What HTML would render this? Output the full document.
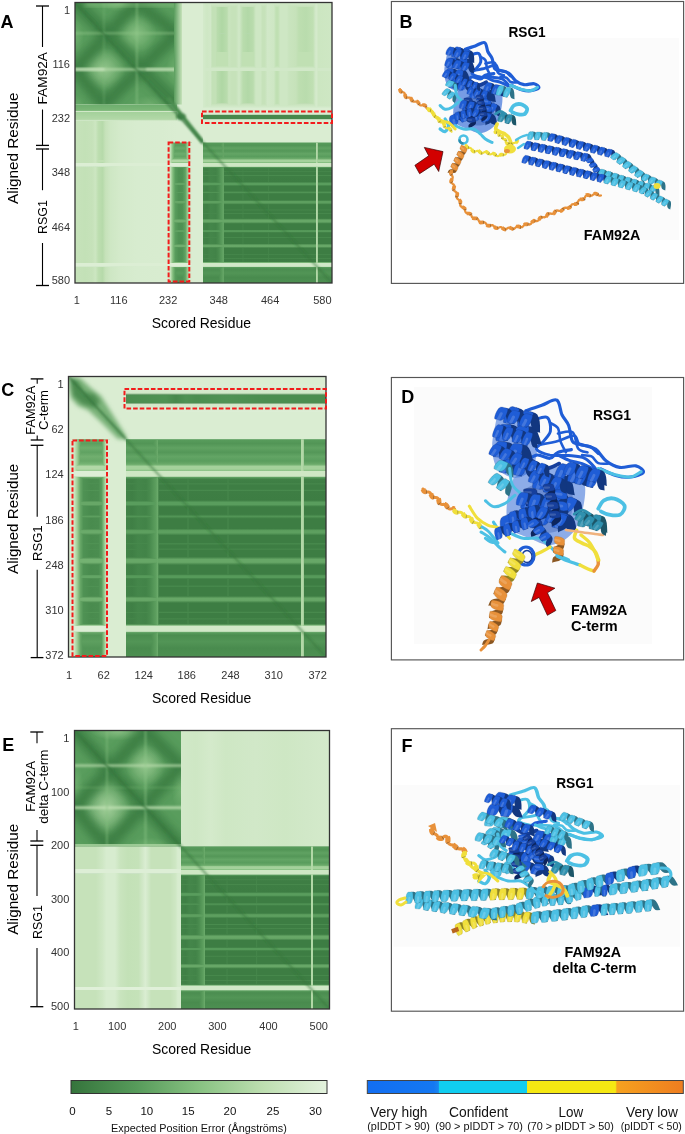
<!DOCTYPE html>
<html><head><meta charset="utf-8"><style>
html,body{margin:0;padding:0;background:#fff;width:685px;height:1134px;overflow:hidden}
svg{display:block;font-family:"Liberation Sans", sans-serif}
text{opacity:0.995}
</style></head><body>
<svg width="685" height="1134" viewBox="0 0 685 1134">
<defs><filter id="bl1" x="-20%" y="-20%" width="140%" height="140%"><feGaussianBlur stdDeviation="1"/></filter><filter id="bl2" x="-20%" y="-20%" width="140%" height="140%"><feGaussianBlur stdDeviation="2.2"/></filter><filter id="bl4" x="-30%" y="-30%" width="160%" height="160%"><feGaussianBlur stdDeviation="4"/></filter><filter id="bl6" x="-50%" y="-50%" width="200%" height="200%"><feGaussianBlur stdDeviation="6"/></filter><clipPath id="c1"><rect x="75" y="2.5" width="257" height="280.5"/></clipPath><clipPath id="c2"><rect x="75" y="2.5" width="102" height="102.0"/></clipPath><radialGradient id="r3"><stop offset="0" stop-color="#9dcd94" stop-opacity="0.85"/><stop offset="1" stop-color="#9dcd94" stop-opacity="0"/></radialGradient><radialGradient id="r4"><stop offset="0" stop-color="#8fc688" stop-opacity="0.8"/><stop offset="1" stop-color="#8fc688" stop-opacity="0"/></radialGradient><radialGradient id="r5"><stop offset="0" stop-color="#8fc688" stop-opacity="0.75"/><stop offset="1" stop-color="#8fc688" stop-opacity="0"/></radialGradient><radialGradient id="r6"><stop offset="0" stop-color="#7bb777" stop-opacity="0.6"/><stop offset="1" stop-color="#7bb777" stop-opacity="0"/></radialGradient><radialGradient id="r7"><stop offset="0" stop-color="#7bb777" stop-opacity="0.6"/><stop offset="1" stop-color="#7bb777" stop-opacity="0"/></radialGradient><radialGradient id="r8"><stop offset="0" stop-color="#7bb777" stop-opacity="0.6"/><stop offset="1" stop-color="#7bb777" stop-opacity="0"/></radialGradient><radialGradient id="r9"><stop offset="0" stop-color="#74b272" stop-opacity="0.5"/><stop offset="1" stop-color="#74b272" stop-opacity="0"/></radialGradient><radialGradient id="r10"><stop offset="0" stop-color="#74b272" stop-opacity="0.5"/><stop offset="1" stop-color="#74b272" stop-opacity="0"/></radialGradient><linearGradient id="g11" x1="0" y1="0" x2="0" y2="1"><stop offset="0.0000" stop-color="#6dad6d"/><stop offset="0.3600" stop-color="#7bb777"/><stop offset="0.4000" stop-color="#d1e8c8"/><stop offset="0.4400" stop-color="#d1e8c8"/><stop offset="0.4700" stop-color="#a4d19b"/><stop offset="0.9000" stop-color="#b2d8a7"/><stop offset="1.0000" stop-color="#daedd2"/></linearGradient><linearGradient id="g12" x1="0" y1="0" x2="1" y2="0"><stop offset="0.0000" stop-color="#599d5d"/><stop offset="1.0000" stop-color="#c6e2ba"/></linearGradient><linearGradient id="g13" x1="0" y1="0" x2="0" y2="1"><stop offset="0.0000" stop-color="#d4eacb"/><stop offset="0.0400" stop-color="#c6e2ba"/><stop offset="0.0700" stop-color="#35743c"/><stop offset="0.2800" stop-color="#35743c"/><stop offset="0.2920" stop-color="#c9e4be"/><stop offset="0.3050" stop-color="#35743c"/><stop offset="0.4400" stop-color="#35743c"/><stop offset="0.4700" stop-color="#c0e0b3"/><stop offset="0.6000" stop-color="#c0e0b3"/><stop offset="0.6250" stop-color="#d1e8c8"/><stop offset="0.6450" stop-color="#d1e8c8"/><stop offset="0.6650" stop-color="#35743c"/><stop offset="0.9000" stop-color="#35743c"/><stop offset="0.9600" stop-color="#c6e2ba"/><stop offset="1.0000" stop-color="#d7eccf"/></linearGradient><linearGradient id="g14" x1="0" y1="0" x2="1" y2="0"><stop offset="0.0000" stop-color="#d4eacb"/><stop offset="0.0300" stop-color="#cee7c4"/><stop offset="0.0600" stop-color="#d1e8c8"/><stop offset="0.0700" stop-color="#c3e1b7"/><stop offset="0.1000" stop-color="#c3e1b7"/><stop offset="0.1100" stop-color="#b9dcad"/><stop offset="0.1470" stop-color="#afd7a4"/><stop offset="0.1860" stop-color="#b9dcad"/><stop offset="0.2000" stop-color="#c9e4be"/><stop offset="0.2250" stop-color="#c6e2ba"/><stop offset="0.2560" stop-color="#c6e2ba"/><stop offset="0.2800" stop-color="#d1e8c8"/><stop offset="0.3100" stop-color="#b9dcad"/><stop offset="0.3490" stop-color="#b2d8a7"/><stop offset="0.3880" stop-color="#b9dcad"/><stop offset="0.4100" stop-color="#cee7c4"/><stop offset="0.4500" stop-color="#cee7c4"/><stop offset="0.4570" stop-color="#c6e2ba"/><stop offset="0.4800" stop-color="#c6e2ba"/><stop offset="0.5000" stop-color="#d1e8c8"/><stop offset="0.5500" stop-color="#cee7c4"/><stop offset="0.5660" stop-color="#c0e0b3"/><stop offset="0.5810" stop-color="#c0e0b3"/><stop offset="0.6000" stop-color="#cee7c4"/><stop offset="0.6500" stop-color="#cee7c4"/><stop offset="0.6670" stop-color="#c9e4be"/><stop offset="0.7200" stop-color="#c6e2ba"/><stop offset="0.7440" stop-color="#bddeb0"/><stop offset="0.7980" stop-color="#b9dcad"/><stop offset="0.8530" stop-color="#c0e0b3"/><stop offset="0.8700" stop-color="#d1e8c8"/><stop offset="0.8800" stop-color="#d4eacb"/><stop offset="0.8950" stop-color="#cce6c1"/><stop offset="1.0000" stop-color="#cee7c4"/></linearGradient><linearGradient id="g15" x1="0" y1="0" x2="0" y2="1"><stop offset="0.0000" stop-color="#35743c"/><stop offset="0.1327" stop-color="#74b272"/><stop offset="0.1501" stop-color="#6aaa6a"/><stop offset="0.1674" stop-color="#7bb777"/><stop offset="0.1848" stop-color="#6dad6d"/><stop offset="0.2021" stop-color="#7eba7a"/><stop offset="0.2194" stop-color="#74b272"/><stop offset="0.2299" stop-color="#81bd7d"/><stop offset="0.2351" stop-color="#8fc688"/><stop offset="0.2403" stop-color="#c0e0b3"/><stop offset="0.2524" stop-color="#c0e0b3"/><stop offset="0.2567" stop-color="#9dcd94"/><stop offset="0.2602" stop-color="#dceed4"/><stop offset="0.2802" stop-color="#dceed4"/><stop offset="0.2854" stop-color="#74b272"/><stop offset="0.2923" stop-color="#529556"/><stop offset="0.3062" stop-color="#4f9254"/><stop offset="0.3105" stop-color="#599d5d"/><stop offset="0.3148" stop-color="#4f9254"/><stop offset="0.3322" stop-color="#4f9254"/><stop offset="0.3365" stop-color="#5d9f5f"/><stop offset="0.3409" stop-color="#4f9254"/><stop offset="0.3756" stop-color="#4f9153"/><stop offset="0.3842" stop-color="#74b272"/><stop offset="0.3929" stop-color="#74b272"/><stop offset="0.4016" stop-color="#4f9153"/><stop offset="0.4319" stop-color="#4f9153"/><stop offset="0.4406" stop-color="#6aaa6a"/><stop offset="0.4493" stop-color="#4f9153"/><stop offset="0.4883" stop-color="#4f9153"/><stop offset="0.4970" stop-color="#77b575"/><stop offset="0.5056" stop-color="#77b575"/><stop offset="0.5161" stop-color="#4f9153"/><stop offset="0.5447" stop-color="#4f9153"/><stop offset="0.5490" stop-color="#5d9f5f"/><stop offset="0.5542" stop-color="#4f9153"/><stop offset="0.5664" stop-color="#4f9153"/><stop offset="0.5707" stop-color="#599d5d"/><stop offset="0.5750" stop-color="#4f9153"/><stop offset="0.6010" stop-color="#4f9153"/><stop offset="0.6115" stop-color="#81bd7d"/><stop offset="0.6227" stop-color="#81bd7d"/><stop offset="0.6340" stop-color="#4f9153"/><stop offset="0.6704" stop-color="#4f9153"/><stop offset="0.6765" stop-color="#71af6f"/><stop offset="0.6834" stop-color="#71af6f"/><stop offset="0.6895" stop-color="#4f9153"/><stop offset="0.7138" stop-color="#4f9153"/><stop offset="0.7181" stop-color="#5d9f5f"/><stop offset="0.7225" stop-color="#4f9153"/><stop offset="0.7572" stop-color="#4f9153"/><stop offset="0.7658" stop-color="#81bd7d"/><stop offset="0.7745" stop-color="#81bd7d"/><stop offset="0.7849" stop-color="#4f9153"/><stop offset="0.8179" stop-color="#4f9153"/><stop offset="0.8222" stop-color="#5d9f5f"/><stop offset="0.8265" stop-color="#4f9153"/><stop offset="0.8439" stop-color="#4f9153"/><stop offset="0.8482" stop-color="#599d5d"/><stop offset="0.8526" stop-color="#4f9153"/><stop offset="0.8682" stop-color="#4f9254"/><stop offset="0.8734" stop-color="#8fc688"/><stop offset="0.8768" stop-color="#dceed4"/><stop offset="0.8977" stop-color="#dceed4"/><stop offset="0.9029" stop-color="#74b272"/><stop offset="0.9133" stop-color="#60a262"/><stop offset="0.9393" stop-color="#6aaa6a"/><stop offset="0.9653" stop-color="#5d9f5f"/><stop offset="1.0000" stop-color="#63a565"/></linearGradient><linearGradient id="g16" x1="0" y1="0" x2="1" y2="0"><stop offset="0.0000" stop-color="#c6e2ba"/><stop offset="0.1000" stop-color="#c3e1b7"/><stop offset="0.1700" stop-color="#c6e2ba"/><stop offset="0.2000" stop-color="#cce6c1"/><stop offset="0.2300" stop-color="#bddeb0"/><stop offset="0.2700" stop-color="#b6daaa"/><stop offset="0.3000" stop-color="#c6e2ba"/><stop offset="0.3500" stop-color="#cee7c4"/><stop offset="0.4500" stop-color="#d4eacb"/><stop offset="0.6000" stop-color="#d7eccf"/><stop offset="0.8500" stop-color="#d8ecd0"/><stop offset="1.0000" stop-color="#daedd2"/></linearGradient><linearGradient id="g17" x1="0" y1="0" x2="0" y2="1"><stop offset="0.0000" stop-color="#63a565"/><stop offset="0.0200" stop-color="#599d5d"/><stop offset="0.0400" stop-color="#6aaa6a"/><stop offset="0.0600" stop-color="#5d9f5f"/><stop offset="0.0800" stop-color="#6dad6d"/><stop offset="0.1000" stop-color="#63a565"/><stop offset="0.1120" stop-color="#71af6f"/><stop offset="0.1180" stop-color="#7eba7a"/><stop offset="0.1240" stop-color="#afd7a4"/><stop offset="0.1380" stop-color="#afd7a4"/><stop offset="0.1430" stop-color="#8cc485"/><stop offset="0.1470" stop-color="#ddeed6"/><stop offset="0.1700" stop-color="#ddeed6"/><stop offset="0.1760" stop-color="#63a565"/><stop offset="0.1840" stop-color="#47884c"/><stop offset="0.2000" stop-color="#44864a"/><stop offset="0.2050" stop-color="#4d9052"/><stop offset="0.2100" stop-color="#44864a"/><stop offset="0.2300" stop-color="#44864a"/><stop offset="0.2350" stop-color="#4f9254"/><stop offset="0.2400" stop-color="#44864a"/><stop offset="0.2800" stop-color="#448549"/><stop offset="0.2900" stop-color="#63a565"/><stop offset="0.3000" stop-color="#63a565"/><stop offset="0.3100" stop-color="#448549"/><stop offset="0.3450" stop-color="#448549"/><stop offset="0.3550" stop-color="#599d5d"/><stop offset="0.3650" stop-color="#448549"/><stop offset="0.4100" stop-color="#448549"/><stop offset="0.4200" stop-color="#67a767"/><stop offset="0.4300" stop-color="#67a767"/><stop offset="0.4420" stop-color="#448549"/><stop offset="0.4750" stop-color="#448549"/><stop offset="0.4800" stop-color="#4f9254"/><stop offset="0.4860" stop-color="#448549"/><stop offset="0.5000" stop-color="#448549"/><stop offset="0.5050" stop-color="#4d9052"/><stop offset="0.5100" stop-color="#448549"/><stop offset="0.5400" stop-color="#448549"/><stop offset="0.5520" stop-color="#71af6f"/><stop offset="0.5650" stop-color="#71af6f"/><stop offset="0.5780" stop-color="#448549"/><stop offset="0.6200" stop-color="#448549"/><stop offset="0.6270" stop-color="#60a262"/><stop offset="0.6350" stop-color="#60a262"/><stop offset="0.6420" stop-color="#448549"/><stop offset="0.6700" stop-color="#448549"/><stop offset="0.6750" stop-color="#4f9254"/><stop offset="0.6800" stop-color="#448549"/><stop offset="0.7200" stop-color="#448549"/><stop offset="0.7300" stop-color="#71af6f"/><stop offset="0.7400" stop-color="#71af6f"/><stop offset="0.7520" stop-color="#448549"/><stop offset="0.7900" stop-color="#448549"/><stop offset="0.7950" stop-color="#4f9254"/><stop offset="0.8000" stop-color="#448549"/><stop offset="0.8200" stop-color="#448549"/><stop offset="0.8250" stop-color="#4d9052"/><stop offset="0.8300" stop-color="#448549"/><stop offset="0.8480" stop-color="#44864a"/><stop offset="0.8540" stop-color="#7eba7a"/><stop offset="0.8580" stop-color="#ddeed6"/><stop offset="0.8820" stop-color="#ddeed6"/><stop offset="0.8880" stop-color="#63a565"/><stop offset="0.9000" stop-color="#529556"/><stop offset="0.9300" stop-color="#599d5d"/><stop offset="0.9600" stop-color="#4f9254"/><stop offset="1.0000" stop-color="#549758"/></linearGradient><linearGradient id="g18" x1="0" y1="0" x2="1" y2="0"><stop offset="0.0000" stop-color="#d7eccf"/><stop offset="0.1000" stop-color="#c6e2ba"/><stop offset="0.2000" stop-color="#81bd7d"/><stop offset="0.3000" stop-color="#599d5d"/><stop offset="0.4500" stop-color="#4d9052"/><stop offset="0.6000" stop-color="#4f9254"/><stop offset="0.7200" stop-color="#60a262"/><stop offset="0.8200" stop-color="#9dcd94"/><stop offset="0.9000" stop-color="#d1e8c8"/><stop offset="1.0000" stop-color="#daedd2"/></linearGradient><linearGradient id="g19" x1="0" y1="0" x2="0" y2="1"><stop offset="0.0000" stop-color="#599d5d"/><stop offset="0.0200" stop-color="#529556"/><stop offset="0.0400" stop-color="#60a262"/><stop offset="0.0600" stop-color="#549758"/><stop offset="0.0800" stop-color="#63a565"/><stop offset="0.1000" stop-color="#599d5d"/><stop offset="0.1120" stop-color="#67a767"/><stop offset="0.1180" stop-color="#74b272"/><stop offset="0.1240" stop-color="#a4d19b"/><stop offset="0.1380" stop-color="#a4d19b"/><stop offset="0.1430" stop-color="#81bd7d"/><stop offset="0.1470" stop-color="#cee7c4"/><stop offset="0.1700" stop-color="#cee7c4"/><stop offset="0.1760" stop-color="#599d5d"/><stop offset="0.1840" stop-color="#408146"/><stop offset="0.2000" stop-color="#3e7e44"/><stop offset="0.2050" stop-color="#47884c"/><stop offset="0.2100" stop-color="#3e7e44"/><stop offset="0.2300" stop-color="#3e7e44"/><stop offset="0.2350" stop-color="#498b4e"/><stop offset="0.2400" stop-color="#3e7e44"/><stop offset="0.2800" stop-color="#3d7d43"/><stop offset="0.2900" stop-color="#599d5d"/><stop offset="0.3000" stop-color="#599d5d"/><stop offset="0.3100" stop-color="#3d7d43"/><stop offset="0.3450" stop-color="#3d7d43"/><stop offset="0.3550" stop-color="#529556"/><stop offset="0.3650" stop-color="#3d7d43"/><stop offset="0.4100" stop-color="#3d7d43"/><stop offset="0.4200" stop-color="#5d9f5f"/><stop offset="0.4300" stop-color="#5d9f5f"/><stop offset="0.4420" stop-color="#3d7d43"/><stop offset="0.4750" stop-color="#3d7d43"/><stop offset="0.4800" stop-color="#498b4e"/><stop offset="0.4860" stop-color="#3d7d43"/><stop offset="0.5000" stop-color="#3d7d43"/><stop offset="0.5050" stop-color="#47884c"/><stop offset="0.5100" stop-color="#3d7d43"/><stop offset="0.5400" stop-color="#3d7d43"/><stop offset="0.5520" stop-color="#67a767"/><stop offset="0.5650" stop-color="#67a767"/><stop offset="0.5780" stop-color="#3d7d43"/><stop offset="0.6200" stop-color="#3d7d43"/><stop offset="0.6270" stop-color="#569a5a"/><stop offset="0.6350" stop-color="#569a5a"/><stop offset="0.6420" stop-color="#3d7d43"/><stop offset="0.6700" stop-color="#3d7d43"/><stop offset="0.6750" stop-color="#498b4e"/><stop offset="0.6800" stop-color="#3d7d43"/><stop offset="0.7200" stop-color="#3d7d43"/><stop offset="0.7300" stop-color="#67a767"/><stop offset="0.7400" stop-color="#67a767"/><stop offset="0.7520" stop-color="#3d7d43"/><stop offset="0.7900" stop-color="#3d7d43"/><stop offset="0.7950" stop-color="#498b4e"/><stop offset="0.8000" stop-color="#3d7d43"/><stop offset="0.8200" stop-color="#3d7d43"/><stop offset="0.8250" stop-color="#47884c"/><stop offset="0.8300" stop-color="#3d7d43"/><stop offset="0.8480" stop-color="#3e7e44"/><stop offset="0.8540" stop-color="#74b272"/><stop offset="0.8580" stop-color="#d1e8c8"/><stop offset="0.8820" stop-color="#d1e8c8"/><stop offset="0.8880" stop-color="#599d5d"/><stop offset="0.9000" stop-color="#4b8d50"/><stop offset="0.9300" stop-color="#529556"/><stop offset="0.9600" stop-color="#498b4e"/><stop offset="1.0000" stop-color="#4d9052"/></linearGradient><linearGradient id="g20" x1="0" y1="0" x2="1" y2="0"><stop offset="0.0000" stop-color="#428348"/><stop offset="0.0300" stop-color="#3f7f45"/><stop offset="0.0600" stop-color="#44864a"/><stop offset="0.1000" stop-color="#428348"/><stop offset="0.1200" stop-color="#498b4e"/><stop offset="0.1500" stop-color="#5d9f5f"/><stop offset="0.1580" stop-color="#6aaa6a"/><stop offset="0.1660" stop-color="#35743c"/><stop offset="0.3000" stop-color="#35743c"/><stop offset="0.3100" stop-color="#47884c"/><stop offset="0.3200" stop-color="#35743c"/><stop offset="0.5000" stop-color="#35743c"/><stop offset="0.5100" stop-color="#47884c"/><stop offset="0.5200" stop-color="#35743c"/><stop offset="0.8720" stop-color="#35743c"/><stop offset="0.8770" stop-color="#b2d8a7"/><stop offset="0.8870" stop-color="#b2d8a7"/><stop offset="0.8920" stop-color="#35743c"/><stop offset="1.0000" stop-color="#35743c"/></linearGradient><clipPath id="c21"><rect x="68.5" y="376.5" width="257.5" height="280.5"/></clipPath><linearGradient id="g22" x1="0" y1="0" x2="0" y2="1"><stop offset="0.0000" stop-color="#ddeed6"/><stop offset="0.3000" stop-color="#d1e8c8"/><stop offset="0.3850" stop-color="#35743c"/><stop offset="0.6450" stop-color="#35743c"/><stop offset="0.7200" stop-color="#d1e8c8"/><stop offset="1.0000" stop-color="#ddeed6"/></linearGradient><linearGradient id="g23" x1="0" y1="0" x2="1" y2="0"><stop offset="0.0000" stop-color="#4b8d50"/><stop offset="0.2000" stop-color="#4f9254"/><stop offset="0.2500" stop-color="#47884c"/><stop offset="0.3000" stop-color="#4f9254"/><stop offset="0.3500" stop-color="#4b8d50"/><stop offset="0.5000" stop-color="#4f9254"/><stop offset="0.7000" stop-color="#4b8d50"/><stop offset="1.0000" stop-color="#4b8d50"/></linearGradient><linearGradient id="g24" x1="0" y1="0" x2="0" y2="1"><stop offset="0.0000" stop-color="#67a767"/><stop offset="0.0200" stop-color="#5d9f5f"/><stop offset="0.0400" stop-color="#6dad6d"/><stop offset="0.0600" stop-color="#60a262"/><stop offset="0.0800" stop-color="#71af6f"/><stop offset="0.1000" stop-color="#67a767"/><stop offset="0.1120" stop-color="#74b272"/><stop offset="0.1180" stop-color="#81bd7d"/><stop offset="0.1240" stop-color="#b2d8a7"/><stop offset="0.1380" stop-color="#b2d8a7"/><stop offset="0.1430" stop-color="#8fc688"/><stop offset="0.1470" stop-color="#ddeed6"/><stop offset="0.1700" stop-color="#ddeed6"/><stop offset="0.1760" stop-color="#67a767"/><stop offset="0.1840" stop-color="#498b4e"/><stop offset="0.2000" stop-color="#47884c"/><stop offset="0.2050" stop-color="#4f9254"/><stop offset="0.2100" stop-color="#47884c"/><stop offset="0.2300" stop-color="#47884c"/><stop offset="0.2350" stop-color="#529556"/><stop offset="0.2400" stop-color="#47884c"/><stop offset="0.2800" stop-color="#46874b"/><stop offset="0.2900" stop-color="#67a767"/><stop offset="0.3000" stop-color="#67a767"/><stop offset="0.3100" stop-color="#46874b"/><stop offset="0.3450" stop-color="#46874b"/><stop offset="0.3550" stop-color="#5d9f5f"/><stop offset="0.3650" stop-color="#46874b"/><stop offset="0.4100" stop-color="#46874b"/><stop offset="0.4200" stop-color="#6aaa6a"/><stop offset="0.4300" stop-color="#6aaa6a"/><stop offset="0.4420" stop-color="#46874b"/><stop offset="0.4750" stop-color="#46874b"/><stop offset="0.4800" stop-color="#529556"/><stop offset="0.4860" stop-color="#46874b"/><stop offset="0.5000" stop-color="#46874b"/><stop offset="0.5050" stop-color="#4f9254"/><stop offset="0.5100" stop-color="#46874b"/><stop offset="0.5400" stop-color="#46874b"/><stop offset="0.5520" stop-color="#74b272"/><stop offset="0.5650" stop-color="#74b272"/><stop offset="0.5780" stop-color="#46874b"/><stop offset="0.6200" stop-color="#46874b"/><stop offset="0.6270" stop-color="#63a565"/><stop offset="0.6350" stop-color="#63a565"/><stop offset="0.6420" stop-color="#46874b"/><stop offset="0.6700" stop-color="#46874b"/><stop offset="0.6750" stop-color="#529556"/><stop offset="0.6800" stop-color="#46874b"/><stop offset="0.7200" stop-color="#46874b"/><stop offset="0.7300" stop-color="#74b272"/><stop offset="0.7400" stop-color="#74b272"/><stop offset="0.7520" stop-color="#46874b"/><stop offset="0.7900" stop-color="#46874b"/><stop offset="0.7950" stop-color="#529556"/><stop offset="0.8000" stop-color="#46874b"/><stop offset="0.8200" stop-color="#46874b"/><stop offset="0.8250" stop-color="#4f9254"/><stop offset="0.8300" stop-color="#46874b"/><stop offset="0.8480" stop-color="#47884c"/><stop offset="0.8540" stop-color="#81bd7d"/><stop offset="0.8580" stop-color="#ddeed6"/><stop offset="0.8820" stop-color="#ddeed6"/><stop offset="0.8880" stop-color="#67a767"/><stop offset="0.9000" stop-color="#549758"/><stop offset="0.9300" stop-color="#5d9f5f"/><stop offset="0.9600" stop-color="#529556"/><stop offset="1.0000" stop-color="#569a5a"/></linearGradient><linearGradient id="g25" x1="0" y1="0" x2="1" y2="0"><stop offset="0.0000" stop-color="#daedd2"/><stop offset="0.0600" stop-color="#cce6c1"/><stop offset="0.1400" stop-color="#9dcd94"/><stop offset="0.2200" stop-color="#67a767"/><stop offset="0.3000" stop-color="#4f9254"/><stop offset="0.5000" stop-color="#498b4e"/><stop offset="0.7000" stop-color="#4b8d50"/><stop offset="0.7800" stop-color="#599d5d"/><stop offset="0.8600" stop-color="#9dcd94"/><stop offset="0.9000" stop-color="#cce6c1"/><stop offset="0.9500" stop-color="#daedd2"/><stop offset="1.0000" stop-color="#daedd2"/></linearGradient><linearGradient id="g26" x1="0" y1="0" x2="0" y2="1"><stop offset="0.0000" stop-color="#599d5d"/><stop offset="0.0200" stop-color="#529556"/><stop offset="0.0400" stop-color="#60a262"/><stop offset="0.0600" stop-color="#549758"/><stop offset="0.0800" stop-color="#63a565"/><stop offset="0.1000" stop-color="#599d5d"/><stop offset="0.1120" stop-color="#67a767"/><stop offset="0.1180" stop-color="#74b272"/><stop offset="0.1240" stop-color="#a4d19b"/><stop offset="0.1380" stop-color="#a4d19b"/><stop offset="0.1430" stop-color="#81bd7d"/><stop offset="0.1470" stop-color="#cee7c4"/><stop offset="0.1700" stop-color="#cee7c4"/><stop offset="0.1760" stop-color="#599d5d"/><stop offset="0.1840" stop-color="#408146"/><stop offset="0.2000" stop-color="#3e7e44"/><stop offset="0.2050" stop-color="#47884c"/><stop offset="0.2100" stop-color="#3e7e44"/><stop offset="0.2300" stop-color="#3e7e44"/><stop offset="0.2350" stop-color="#498b4e"/><stop offset="0.2400" stop-color="#3e7e44"/><stop offset="0.2800" stop-color="#3d7d43"/><stop offset="0.2900" stop-color="#599d5d"/><stop offset="0.3000" stop-color="#599d5d"/><stop offset="0.3100" stop-color="#3d7d43"/><stop offset="0.3450" stop-color="#3d7d43"/><stop offset="0.3550" stop-color="#529556"/><stop offset="0.3650" stop-color="#3d7d43"/><stop offset="0.4100" stop-color="#3d7d43"/><stop offset="0.4200" stop-color="#5d9f5f"/><stop offset="0.4300" stop-color="#5d9f5f"/><stop offset="0.4420" stop-color="#3d7d43"/><stop offset="0.4750" stop-color="#3d7d43"/><stop offset="0.4800" stop-color="#498b4e"/><stop offset="0.4860" stop-color="#3d7d43"/><stop offset="0.5000" stop-color="#3d7d43"/><stop offset="0.5050" stop-color="#47884c"/><stop offset="0.5100" stop-color="#3d7d43"/><stop offset="0.5400" stop-color="#3d7d43"/><stop offset="0.5520" stop-color="#67a767"/><stop offset="0.5650" stop-color="#67a767"/><stop offset="0.5780" stop-color="#3d7d43"/><stop offset="0.6200" stop-color="#3d7d43"/><stop offset="0.6270" stop-color="#569a5a"/><stop offset="0.6350" stop-color="#569a5a"/><stop offset="0.6420" stop-color="#3d7d43"/><stop offset="0.6700" stop-color="#3d7d43"/><stop offset="0.6750" stop-color="#498b4e"/><stop offset="0.6800" stop-color="#3d7d43"/><stop offset="0.7200" stop-color="#3d7d43"/><stop offset="0.7300" stop-color="#67a767"/><stop offset="0.7400" stop-color="#67a767"/><stop offset="0.7520" stop-color="#3d7d43"/><stop offset="0.7900" stop-color="#3d7d43"/><stop offset="0.7950" stop-color="#498b4e"/><stop offset="0.8000" stop-color="#3d7d43"/><stop offset="0.8200" stop-color="#3d7d43"/><stop offset="0.8250" stop-color="#47884c"/><stop offset="0.8300" stop-color="#3d7d43"/><stop offset="0.8480" stop-color="#3e7e44"/><stop offset="0.8540" stop-color="#74b272"/><stop offset="0.8580" stop-color="#d1e8c8"/><stop offset="0.8820" stop-color="#d1e8c8"/><stop offset="0.8880" stop-color="#599d5d"/><stop offset="0.9000" stop-color="#4b8d50"/><stop offset="0.9300" stop-color="#529556"/><stop offset="0.9600" stop-color="#498b4e"/><stop offset="1.0000" stop-color="#4d9052"/></linearGradient><linearGradient id="g27" x1="0" y1="0" x2="1" y2="0"><stop offset="0.0000" stop-color="#428348"/><stop offset="0.0300" stop-color="#3f7f45"/><stop offset="0.0600" stop-color="#44864a"/><stop offset="0.1000" stop-color="#428348"/><stop offset="0.1200" stop-color="#498b4e"/><stop offset="0.1500" stop-color="#5d9f5f"/><stop offset="0.1580" stop-color="#6aaa6a"/><stop offset="0.1660" stop-color="#35743c"/><stop offset="0.3000" stop-color="#35743c"/><stop offset="0.3100" stop-color="#47884c"/><stop offset="0.3200" stop-color="#35743c"/><stop offset="0.5000" stop-color="#35743c"/><stop offset="0.5100" stop-color="#47884c"/><stop offset="0.5200" stop-color="#35743c"/><stop offset="0.8720" stop-color="#35743c"/><stop offset="0.8770" stop-color="#b2d8a7"/><stop offset="0.8870" stop-color="#b2d8a7"/><stop offset="0.8920" stop-color="#35743c"/><stop offset="1.0000" stop-color="#35743c"/></linearGradient><clipPath id="c28"><rect x="74.5" y="730.5" width="255.0" height="278.5"/></clipPath><clipPath id="c29"><rect x="74.5" y="730.5" width="106.5" height="116.0"/></clipPath><radialGradient id="r30"><stop offset="0" stop-color="#abd5a1" stop-opacity="0.9"/><stop offset="1" stop-color="#abd5a1" stop-opacity="0"/></radialGradient><radialGradient id="r31"><stop offset="0" stop-color="#9dcd94" stop-opacity="0.85"/><stop offset="1" stop-color="#9dcd94" stop-opacity="0"/></radialGradient><radialGradient id="r32"><stop offset="0" stop-color="#96c98e" stop-opacity="0.8"/><stop offset="1" stop-color="#96c98e" stop-opacity="0"/></radialGradient><radialGradient id="r33"><stop offset="0" stop-color="#81bd7d" stop-opacity="0.55"/><stop offset="1" stop-color="#81bd7d" stop-opacity="0"/></radialGradient><radialGradient id="r34"><stop offset="0" stop-color="#81bd7d" stop-opacity="0.55"/><stop offset="1" stop-color="#81bd7d" stop-opacity="0"/></radialGradient><radialGradient id="r35"><stop offset="0" stop-color="#81bd7d" stop-opacity="0.55"/><stop offset="1" stop-color="#81bd7d" stop-opacity="0"/></radialGradient><linearGradient id="g36" x1="0" y1="0" x2="0" y2="1"><stop offset="0.0000" stop-color="#35743c"/><stop offset="1.0000" stop-color="#35743c"/></linearGradient><linearGradient id="g37" x1="0" y1="0" x2="1" y2="0"><stop offset="0.0000" stop-color="#d1e8c8"/><stop offset="0.1000" stop-color="#cee7c4"/><stop offset="0.2000" stop-color="#d4eacb"/><stop offset="0.3000" stop-color="#cee7c4"/><stop offset="0.5000" stop-color="#d1e8c8"/><stop offset="0.7000" stop-color="#cee7c4"/><stop offset="0.8500" stop-color="#d1e8c8"/><stop offset="1.0000" stop-color="#d4eacb"/></linearGradient><linearGradient id="g38" x1="0" y1="0" x2="0" y2="1"><stop offset="0.0000" stop-color="#35743c"/><stop offset="0.1300" stop-color="#35743c"/><stop offset="0.1400" stop-color="#ddeed6"/><stop offset="0.1650" stop-color="#ddeed6"/><stop offset="0.1750" stop-color="#35743c"/><stop offset="0.8600" stop-color="#35743c"/><stop offset="0.8650" stop-color="#e0f0d9"/><stop offset="0.8800" stop-color="#e0f0d9"/><stop offset="0.8860" stop-color="#35743c"/><stop offset="1.0000" stop-color="#35743c"/></linearGradient><linearGradient id="g39" x1="0" y1="0" x2="1" y2="0"><stop offset="0.0000" stop-color="#c9e4be"/><stop offset="0.0500" stop-color="#c6e2ba"/><stop offset="0.2000" stop-color="#c6e2ba"/><stop offset="0.2600" stop-color="#cee7c4"/><stop offset="0.3000" stop-color="#d7eccf"/><stop offset="0.3800" stop-color="#d7eccf"/><stop offset="0.4300" stop-color="#c9e4be"/><stop offset="0.5000" stop-color="#c3e1b7"/><stop offset="0.6000" stop-color="#c5e2b9"/><stop offset="0.6400" stop-color="#d1e8c8"/><stop offset="0.6650" stop-color="#daedd2"/><stop offset="0.6900" stop-color="#d1e8c8"/><stop offset="0.7200" stop-color="#c6e2ba"/><stop offset="0.9000" stop-color="#c6e2ba"/><stop offset="0.9500" stop-color="#cee7c4"/><stop offset="0.9700" stop-color="#d7eccf"/><stop offset="1.0000" stop-color="#d7eccf"/></linearGradient><linearGradient id="g40" x1="0" y1="0" x2="0" y2="1"><stop offset="0.0000" stop-color="#599d5d"/><stop offset="0.0200" stop-color="#529556"/><stop offset="0.0400" stop-color="#60a262"/><stop offset="0.0600" stop-color="#549758"/><stop offset="0.0800" stop-color="#63a565"/><stop offset="0.1000" stop-color="#599d5d"/><stop offset="0.1120" stop-color="#67a767"/><stop offset="0.1180" stop-color="#74b272"/><stop offset="0.1240" stop-color="#a4d19b"/><stop offset="0.1380" stop-color="#a4d19b"/><stop offset="0.1430" stop-color="#81bd7d"/><stop offset="0.1470" stop-color="#cee7c4"/><stop offset="0.1700" stop-color="#cee7c4"/><stop offset="0.1760" stop-color="#599d5d"/><stop offset="0.1840" stop-color="#408146"/><stop offset="0.2000" stop-color="#3e7e44"/><stop offset="0.2050" stop-color="#47884c"/><stop offset="0.2100" stop-color="#3e7e44"/><stop offset="0.2300" stop-color="#3e7e44"/><stop offset="0.2350" stop-color="#498b4e"/><stop offset="0.2400" stop-color="#3e7e44"/><stop offset="0.2800" stop-color="#3d7d43"/><stop offset="0.2900" stop-color="#599d5d"/><stop offset="0.3000" stop-color="#599d5d"/><stop offset="0.3100" stop-color="#3d7d43"/><stop offset="0.3450" stop-color="#3d7d43"/><stop offset="0.3550" stop-color="#529556"/><stop offset="0.3650" stop-color="#3d7d43"/><stop offset="0.4100" stop-color="#3d7d43"/><stop offset="0.4200" stop-color="#5d9f5f"/><stop offset="0.4300" stop-color="#5d9f5f"/><stop offset="0.4420" stop-color="#3d7d43"/><stop offset="0.4750" stop-color="#3d7d43"/><stop offset="0.4800" stop-color="#498b4e"/><stop offset="0.4860" stop-color="#3d7d43"/><stop offset="0.5000" stop-color="#3d7d43"/><stop offset="0.5050" stop-color="#47884c"/><stop offset="0.5100" stop-color="#3d7d43"/><stop offset="0.5400" stop-color="#3d7d43"/><stop offset="0.5520" stop-color="#67a767"/><stop offset="0.5650" stop-color="#67a767"/><stop offset="0.5780" stop-color="#3d7d43"/><stop offset="0.6200" stop-color="#3d7d43"/><stop offset="0.6270" stop-color="#569a5a"/><stop offset="0.6350" stop-color="#569a5a"/><stop offset="0.6420" stop-color="#3d7d43"/><stop offset="0.6700" stop-color="#3d7d43"/><stop offset="0.6750" stop-color="#498b4e"/><stop offset="0.6800" stop-color="#3d7d43"/><stop offset="0.7200" stop-color="#3d7d43"/><stop offset="0.7300" stop-color="#67a767"/><stop offset="0.7400" stop-color="#67a767"/><stop offset="0.7520" stop-color="#3d7d43"/><stop offset="0.7900" stop-color="#3d7d43"/><stop offset="0.7950" stop-color="#498b4e"/><stop offset="0.8000" stop-color="#3d7d43"/><stop offset="0.8200" stop-color="#3d7d43"/><stop offset="0.8250" stop-color="#47884c"/><stop offset="0.8300" stop-color="#3d7d43"/><stop offset="0.8480" stop-color="#3e7e44"/><stop offset="0.8540" stop-color="#74b272"/><stop offset="0.8580" stop-color="#d1e8c8"/><stop offset="0.8820" stop-color="#d1e8c8"/><stop offset="0.8880" stop-color="#599d5d"/><stop offset="0.9000" stop-color="#4b8d50"/><stop offset="0.9300" stop-color="#529556"/><stop offset="0.9600" stop-color="#498b4e"/><stop offset="1.0000" stop-color="#4d9052"/></linearGradient><linearGradient id="g41" x1="0" y1="0" x2="1" y2="0"><stop offset="0.0000" stop-color="#428348"/><stop offset="0.0300" stop-color="#3f7f45"/><stop offset="0.0600" stop-color="#44864a"/><stop offset="0.1000" stop-color="#428348"/><stop offset="0.1200" stop-color="#498b4e"/><stop offset="0.1500" stop-color="#5d9f5f"/><stop offset="0.1580" stop-color="#6aaa6a"/><stop offset="0.1660" stop-color="#35743c"/><stop offset="0.3000" stop-color="#35743c"/><stop offset="0.3100" stop-color="#47884c"/><stop offset="0.3200" stop-color="#35743c"/><stop offset="0.5000" stop-color="#35743c"/><stop offset="0.5100" stop-color="#47884c"/><stop offset="0.5200" stop-color="#35743c"/><stop offset="0.8720" stop-color="#35743c"/><stop offset="0.8770" stop-color="#b2d8a7"/><stop offset="0.8870" stop-color="#b2d8a7"/><stop offset="0.8920" stop-color="#35743c"/><stop offset="1.0000" stop-color="#35743c"/></linearGradient><linearGradient id="g42" x1="0" y1="0" x2="1" y2="0"><stop offset="0.0000" stop-color="#35743c"/><stop offset="0.2500" stop-color="#569a5a"/><stop offset="0.5000" stop-color="#88c282"/><stop offset="0.7500" stop-color="#bddeb0"/><stop offset="1.0000" stop-color="#e3f2dd"/></linearGradient><linearGradient id="g43" x1="0" y1="0" x2="1" y2="0"><stop offset="0" stop-color="#126ef2"/><stop offset="0.21" stop-color="#1478f2"/><stop offset="0.225" stop-color="#1a86f0"/><stop offset="0.2275" stop-color="#10cdf0"/><stop offset="0.505" stop-color="#10cdf0"/><stop offset="0.507" stop-color="#f5e812"/><stop offset="0.785" stop-color="#f5e812"/><stop offset="0.79" stop-color="#f6a11f"/><stop offset="1" stop-color="#ee7d20"/></linearGradient></defs>
<g clip-path="url(#c1)">
<rect x="75.00" y="2.50" width="257.00" height="280.50" fill="#daedd2" />
<g clip-path="url(#c2)">
<rect x="75.00" y="2.50" width="102.00" height="102.00" fill="#599d5d" />
<ellipse cx="103.9" cy="69.4" rx="22" ry="22" fill="url(#r3)"/>
<ellipse cx="136.8" cy="33.3" rx="20" ry="20" fill="url(#r4)"/>
<ellipse cx="120" cy="2.5" rx="20" ry="9" fill="url(#r5)"/>
<ellipse cx="75" cy="36" rx="9" ry="18" fill="url(#r6)"/>
<ellipse cx="177" cy="69" rx="11" ry="20" fill="url(#r7)"/>
<ellipse cx="150" cy="104.5" rx="18" ry="9" fill="url(#r8)"/>
<ellipse cx="75" cy="104.5" rx="10" ry="10" fill="url(#r9)"/>
<ellipse cx="177" cy="2.5" rx="9" ry="9" fill="url(#r10)"/>
<g filter="url(#bl4)" stroke="#397940" stroke-linecap="round" opacity="0.85">
<line x1="75" y1="2.5" x2="177" y2="104.5" stroke-width="13"/>
<line x1="75" y1="69.4" x2="136.8" y2="2.5" stroke-width="13"/>
<line x1="103.9" y1="104.5" x2="177" y2="33.3" stroke-width="13"/>
<line x1="136.8" y1="2.5" x2="177" y2="33.3" stroke-width="13"/>
<line x1="75" y1="69.4" x2="103.9" y2="104.5" stroke-width="13"/>
</g>
<g filter="url(#bl1)">
<rect x="70.00" y="32.50" width="112.00" height="1.60" fill="#8fc688" opacity="0.75"/>
<rect x="70.00" y="68.30" width="112.00" height="2.20" fill="#b9dcad" opacity="0.85"/>
<rect x="103.20" y="-2.50" width="1.40" height="112.00" fill="#7bb777" opacity="0.45"/>
<rect x="136.00" y="-2.50" width="1.60" height="112.00" fill="#8fc688" opacity="0.6"/>
</g>
</g>
<rect x="75" y="68.2" width="30" height="2.4" fill="#cce6c1" opacity="0.8" filter="url(#bl1)"/>
<rect x="146" y="68.2" width="31" height="2.4" fill="#c6e2ba" opacity="0.75" filter="url(#bl1)"/>
<rect x="85" y="2.5" width="90" height="4" fill="#8fc688" opacity="0.6" filter="url(#bl2)"/>
<rect x="75.00" y="104.50" width="102.00" height="16.50" fill="url(#g11)" />
<rect x="174.00" y="2.50" width="8.00" height="102.00" fill="url(#g12)" />
<g filter="url(#bl1)"><line x1="168" y1="98" x2="203" y2="142.5" stroke="#4b8d50" stroke-width="4"/><ellipse cx="181" cy="116.5" rx="5" ry="3.5" fill="#428348"/></g>
<rect x="203.00" y="2.50" width="129.00" height="105.50" fill="url(#g13)" />
<rect x="203.00" y="2.50" width="129.00" height="105.50" fill="url(#g14)" style="mix-blend-mode:lighten"/>
<rect x="203.00" y="108.00" width="129.00" height="34.50" fill="#daedd2" />
<rect x="203.00" y="114.80" width="129.00" height="4.40" fill="#47884c" />
<rect x="75.00" y="121.00" width="102.00" height="162.00" fill="url(#g15)" />
<rect x="75.00" y="121.00" width="102.00" height="162.00" fill="url(#g16)" style="mix-blend-mode:lighten"/>
<rect x="168.00" y="142.50" width="24.00" height="140.50" fill="url(#g17)" />
<rect x="168.00" y="142.50" width="24.00" height="140.50" fill="url(#g18)" style="mix-blend-mode:lighten"/>
<rect x="203.00" y="142.50" width="129.00" height="140.50" fill="url(#g19)" />
<rect x="203.00" y="142.50" width="129.00" height="140.50" fill="url(#g20)" style="mix-blend-mode:lighten"/>
<line x1="203" y1="142.5" x2="332" y2="283" stroke="#35743c" stroke-width="2.2" stroke-opacity="0.55" filter="url(#bl1)"/>
<line x1="75" y1="2.5" x2="203" y2="142.5" stroke="#35743c" stroke-width="2.3" stroke-opacity="0.68" filter="url(#bl1)"/>
</g>
<rect x="75" y="2.5" width="257" height="280.5" fill="none" stroke="#333" stroke-width="1.3"/>
<rect x="202" y="111.5" width="130" height="11.5" fill="none" stroke="#f21c1c" stroke-width="2" stroke-dasharray="4.6 2"/>
<rect x="168.6" y="142.4" width="20.700000000000017" height="139.1" fill="none" stroke="#f21c1c" stroke-width="2" stroke-dasharray="4.6 2"/>
<g clip-path="url(#c21)">
<rect x="68.50" y="376.50" width="257.50" height="280.50" fill="#daedd2" />
<rect x="126.00" y="385.00" width="200.00" height="27.00" fill="url(#g22)" />
<rect x="126.00" y="385.00" width="200.00" height="27.00" fill="url(#g23)" style="mix-blend-mode:lighten"/>
<g filter="url(#bl2)">
<polygon points="69,377 80,378 92,389 101,396 106,404 126,436 126,439 118,439 100,421 88,410 78,406 71,398 69,388" fill="#67a767" opacity="0.85"/>
<polygon points="70,378 77,380 84,392 95,394 100,402 94,408 82,404 73,396" fill="#428348" opacity="0.8"/>
</g>
<rect x="72.00" y="439.20" width="38.00" height="217.80" fill="url(#g24)" />
<rect x="72.00" y="439.20" width="38.00" height="217.80" fill="url(#g25)" style="mix-blend-mode:lighten"/>
<rect x="126.00" y="439.20" width="200.00" height="217.80" fill="url(#g26)" />
<rect x="126.00" y="439.20" width="200.00" height="217.80" fill="url(#g27)" style="mix-blend-mode:lighten"/>
<line x1="126" y1="439.2" x2="326" y2="657" stroke="#35743c" stroke-width="2.2" stroke-opacity="0.55" filter="url(#bl1)"/>
<line x1="68.5" y1="376.5" x2="126" y2="439.2" stroke="#35743c" stroke-width="2.3" stroke-opacity="0.7200000000000001" filter="url(#bl1)"/>
</g>
<rect x="68.5" y="376.5" width="257.5" height="280.5" fill="none" stroke="#333" stroke-width="1.3"/>
<rect x="124.5" y="389.1" width="201.5" height="19.399999999999977" fill="none" stroke="#f21c1c" stroke-width="2" stroke-dasharray="4.6 2"/>
<rect x="72.5" y="440.4" width="34.5" height="215.60000000000002" fill="none" stroke="#f21c1c" stroke-width="2" stroke-dasharray="4.6 2"/>
<g clip-path="url(#c28)">
<rect x="74.50" y="730.50" width="255.00" height="278.50" fill="#d4eacb" />
<g clip-path="url(#c29)">
<rect x="74.50" y="730.50" width="106.50" height="116.00" fill="#599d5d" />
<ellipse cx="106.9" cy="807.7" rx="24" ry="28" fill="url(#r30)"/>
<ellipse cx="145.5" cy="765.6" rx="20" ry="22" fill="url(#r31)"/>
<ellipse cx="118" cy="730.5" rx="28" ry="10" fill="url(#r32)"/>
<ellipse cx="74.5" cy="785" rx="9" ry="22" fill="url(#r33)"/>
<ellipse cx="181" cy="790" rx="9" ry="22" fill="url(#r34)"/>
<ellipse cx="150" cy="846.5" rx="22" ry="9" fill="url(#r35)"/>
<g filter="url(#bl4)" stroke="#397940" stroke-linecap="round" opacity="0.85">
<line x1="74.5" y1="730.5" x2="181" y2="846.5" stroke-width="13"/>
<line x1="74.5" y1="807.7" x2="145.5" y2="730.5" stroke-width="13"/>
<line x1="106.9" y1="846.5" x2="181" y2="765.6" stroke-width="13"/>
<line x1="145.5" y1="730.5" x2="181" y2="765.6" stroke-width="13"/>
<line x1="74.5" y1="807.7" x2="106.9" y2="846.5" stroke-width="13"/>
</g>
<g filter="url(#bl1)">
<rect x="69.50" y="764.40" width="116.50" height="2.40" fill="#b9dcad" opacity="0.8"/>
<rect x="69.50" y="786.90" width="116.50" height="1.40" fill="#7bb777" opacity="0.45"/>
<rect x="69.50" y="806.30" width="116.50" height="2.80" fill="#c0e0b3" opacity="0.85"/>
<rect x="106.10" y="725.50" width="1.60" height="126.00" fill="#88c282" opacity="0.6"/>
<rect x="144.70" y="725.50" width="1.60" height="126.00" fill="#8fc688" opacity="0.65"/>
</g>
</g>
<rect x="74.50" y="844.00" width="106.50" height="3.00" fill="#abd5a1" opacity="0.8"/>
<rect x="181.00" y="730.50" width="148.50" height="116.00" fill="url(#g36)" />
<rect x="181.00" y="730.50" width="148.50" height="116.00" fill="url(#g37)" style="mix-blend-mode:lighten"/>
<rect x="74.50" y="846.50" width="106.50" height="162.50" fill="url(#g38)" />
<rect x="74.50" y="846.50" width="106.50" height="162.50" fill="url(#g39)" style="mix-blend-mode:lighten"/>
<rect x="181.00" y="846.50" width="148.50" height="162.50" fill="url(#g40)" />
<rect x="181.00" y="846.50" width="148.50" height="162.50" fill="url(#g41)" style="mix-blend-mode:lighten"/>
<line x1="181" y1="846.5" x2="329.5" y2="1009" stroke="#35743c" stroke-width="2.2" stroke-opacity="0.55" filter="url(#bl1)"/>
<line x1="74.5" y1="730.5" x2="181" y2="846.5" stroke="#35743c" stroke-width="2.3" stroke-opacity="0.68" filter="url(#bl1)"/>
</g>
<rect x="74.5" y="730.5" width="255.0" height="278.5" fill="none" stroke="#333" stroke-width="1.3"/>
<text x="0.5" y="27.8" font-size="18" font-weight="bold" text-anchor="start" fill="#000" >A</text>
<text x="399.5" y="28" font-size="18" font-weight="bold" text-anchor="start" fill="#000" >B</text>
<text x="1.2" y="396.2" font-size="18" font-weight="bold" text-anchor="start" fill="#000" >C</text>
<text x="401.2" y="403" font-size="18" font-weight="bold" text-anchor="start" fill="#000" >D</text>
<text x="2.2" y="751.3" font-size="18" font-weight="bold" text-anchor="start" fill="#000" >E</text>
<text x="401.5" y="752" font-size="18" font-weight="bold" text-anchor="start" fill="#000" >F</text>
<text transform="translate(17.9,203.9) rotate(-90)" x="0" y="0" font-size="14.8" font-weight="normal" text-anchor="start" fill="#000" textLength="111.3" lengthAdjust="spacingAndGlyphs" >Aligned Residue</text>
<text x="70" y="14" font-size="11" font-weight="normal" text-anchor="end" fill="#333" >1</text>
<text x="70" y="68" font-size="11" font-weight="normal" text-anchor="end" fill="#333" >116</text>
<text x="70" y="121.7" font-size="11" font-weight="normal" text-anchor="end" fill="#333" >232</text>
<text x="70" y="176" font-size="11" font-weight="normal" text-anchor="end" fill="#333" >348</text>
<text x="70" y="230.6" font-size="11" font-weight="normal" text-anchor="end" fill="#333" >464</text>
<text x="70" y="284.2" font-size="11" font-weight="normal" text-anchor="end" fill="#333" >580</text>
<text x="76.7" y="304.3" font-size="11" font-weight="normal" text-anchor="middle" fill="#333" >1</text>
<text x="118.8" y="304.3" font-size="11" font-weight="normal" text-anchor="middle" fill="#333" >116</text>
<text x="168.1" y="304.3" font-size="11" font-weight="normal" text-anchor="middle" fill="#333" >232</text>
<text x="218.7" y="304.3" font-size="11" font-weight="normal" text-anchor="middle" fill="#333" >348</text>
<text x="270.1" y="304.3" font-size="11" font-weight="normal" text-anchor="middle" fill="#333" >464</text>
<text x="322.4" y="304.3" font-size="11" font-weight="normal" text-anchor="middle" fill="#333" >580</text>
<text x="151.7" y="328.4" font-size="14" font-weight="normal" text-anchor="start" fill="#000" textLength="99.3" lengthAdjust="spacingAndGlyphs" >Scored Residue</text>
<line x1="42.5" y1="6" x2="42.5" y2="47" stroke="#000" stroke-width="1.1"/>
<line x1="42.5" y1="109.5" x2="42.5" y2="145.4" stroke="#000" stroke-width="1.1"/>
<line x1="42.5" y1="149" x2="42.5" y2="190.2" stroke="#000" stroke-width="1.1"/>
<line x1="42.5" y1="243" x2="42.5" y2="285.5" stroke="#000" stroke-width="1.1"/>
<line x1="36" y1="6" x2="49" y2="6" stroke="#000" stroke-width="1.3"/>
<line x1="36" y1="145.4" x2="49" y2="145.4" stroke="#000" stroke-width="1.3"/>
<line x1="36" y1="149" x2="49" y2="149" stroke="#000" stroke-width="1.3"/>
<line x1="36" y1="285.5" x2="49" y2="285.5" stroke="#000" stroke-width="1.3"/>
<text transform="translate(47,104.5) rotate(-90)" x="0" y="0" font-size="12" font-weight="normal" text-anchor="start" fill="#000" textLength="52.5" lengthAdjust="spacingAndGlyphs" >FAM92A</text>
<text transform="translate(47,234) rotate(-90)" x="0" y="0" font-size="12" font-weight="normal" text-anchor="start" fill="#000" textLength="34" lengthAdjust="spacingAndGlyphs" >RSG1</text>
<text transform="translate(17.9,573.9) rotate(-90)" x="0" y="0" font-size="14.8" font-weight="normal" text-anchor="start" fill="#000" textLength="110.1" lengthAdjust="spacingAndGlyphs" >Aligned Residue</text>
<text x="63.7" y="387.8" font-size="11" font-weight="normal" text-anchor="end" fill="#333" >1</text>
<text x="63.7" y="433.4" font-size="11" font-weight="normal" text-anchor="end" fill="#333" >62</text>
<text x="63.7" y="478.4" font-size="11" font-weight="normal" text-anchor="end" fill="#333" >124</text>
<text x="63.7" y="523.8" font-size="11" font-weight="normal" text-anchor="end" fill="#333" >186</text>
<text x="63.7" y="568.8" font-size="11" font-weight="normal" text-anchor="end" fill="#333" >248</text>
<text x="63.7" y="613.5" font-size="11" font-weight="normal" text-anchor="end" fill="#333" >310</text>
<text x="63.7" y="658.8" font-size="11" font-weight="normal" text-anchor="end" fill="#333" >372</text>
<text x="69" y="679" font-size="11" font-weight="normal" text-anchor="middle" fill="#333" >1</text>
<text x="103.7" y="679" font-size="11" font-weight="normal" text-anchor="middle" fill="#333" >62</text>
<text x="143.8" y="679" font-size="11" font-weight="normal" text-anchor="middle" fill="#333" >124</text>
<text x="186.7" y="679" font-size="11" font-weight="normal" text-anchor="middle" fill="#333" >186</text>
<text x="230.5" y="679" font-size="11" font-weight="normal" text-anchor="middle" fill="#333" >248</text>
<text x="273.8" y="679" font-size="11" font-weight="normal" text-anchor="middle" fill="#333" >310</text>
<text x="317.6" y="679" font-size="11" font-weight="normal" text-anchor="middle" fill="#333" >372</text>
<text x="152" y="702.6" font-size="14" font-weight="normal" text-anchor="start" fill="#000" textLength="99.3" lengthAdjust="spacingAndGlyphs" >Scored Residue</text>
<line x1="37.2" y1="378.9" x2="37.2" y2="383.8" stroke="#000" stroke-width="1.1"/>
<line x1="37.2" y1="435.4" x2="37.2" y2="440" stroke="#000" stroke-width="1.1"/>
<line x1="37.2" y1="445.3" x2="37.2" y2="516.7" stroke="#000" stroke-width="1.1"/>
<line x1="37.2" y1="569.8" x2="37.2" y2="657.6" stroke="#000" stroke-width="1.1"/>
<line x1="30.7" y1="378.9" x2="43.4" y2="378.9" stroke="#000" stroke-width="1.3"/>
<line x1="30.7" y1="440" x2="43.4" y2="440" stroke="#000" stroke-width="1.3"/>
<line x1="30.7" y1="445.3" x2="43.4" y2="445.3" stroke="#000" stroke-width="1.3"/>
<line x1="30.7" y1="657.6" x2="43.4" y2="657.6" stroke="#000" stroke-width="1.3"/>
<text transform="translate(35,434.7) rotate(-90)" x="0" y="0" font-size="12" font-weight="normal" text-anchor="start" fill="#000" textLength="48.9" lengthAdjust="spacingAndGlyphs" >FAM92A</text>
<text transform="translate(47.6,430) rotate(-90)" x="0" y="0" font-size="12" font-weight="normal" text-anchor="start" fill="#000" textLength="40" lengthAdjust="spacingAndGlyphs" >C-term</text>
<text transform="translate(41.6,561) rotate(-90)" x="0" y="0" font-size="12" font-weight="normal" text-anchor="start" fill="#000" textLength="35.6" lengthAdjust="spacingAndGlyphs" >RSG1</text>
<text transform="translate(17.9,934.8) rotate(-90)" x="0" y="0" font-size="14.8" font-weight="normal" text-anchor="start" fill="#000" textLength="111.1" lengthAdjust="spacingAndGlyphs" >Aligned Residue</text>
<text x="69.3" y="741.6" font-size="11" font-weight="normal" text-anchor="end" fill="#333" >1</text>
<text x="69.3" y="795.7" font-size="11" font-weight="normal" text-anchor="end" fill="#333" >100</text>
<text x="69.3" y="848.9" font-size="11" font-weight="normal" text-anchor="end" fill="#333" >200</text>
<text x="69.3" y="902.8" font-size="11" font-weight="normal" text-anchor="end" fill="#333" >300</text>
<text x="69.3" y="956.4" font-size="11" font-weight="normal" text-anchor="end" fill="#333" >400</text>
<text x="69.3" y="1010" font-size="11" font-weight="normal" text-anchor="end" fill="#333" >500</text>
<text x="75.9" y="1030" font-size="11" font-weight="normal" text-anchor="middle" fill="#333" >1</text>
<text x="117.1" y="1030" font-size="11" font-weight="normal" text-anchor="middle" fill="#333" >100</text>
<text x="167.3" y="1030" font-size="11" font-weight="normal" text-anchor="middle" fill="#333" >200</text>
<text x="217.4" y="1030" font-size="11" font-weight="normal" text-anchor="middle" fill="#333" >300</text>
<text x="268.5" y="1030" font-size="11" font-weight="normal" text-anchor="middle" fill="#333" >400</text>
<text x="318.8" y="1030" font-size="11" font-weight="normal" text-anchor="middle" fill="#333" >500</text>
<text x="152" y="1054" font-size="14" font-weight="normal" text-anchor="start" fill="#000" textLength="99.3" lengthAdjust="spacingAndGlyphs" >Scored Residue</text>
<line x1="37" y1="732" x2="37" y2="743.3" stroke="#000" stroke-width="1.1"/>
<line x1="37" y1="830" x2="37" y2="841" stroke="#000" stroke-width="1.1"/>
<line x1="37" y1="845.3" x2="37" y2="896" stroke="#000" stroke-width="1.1"/>
<line x1="37" y1="948" x2="37" y2="1006.7" stroke="#000" stroke-width="1.1"/>
<line x1="30.3" y1="732" x2="43.3" y2="732" stroke="#000" stroke-width="1.3"/>
<line x1="30.3" y1="841" x2="43.3" y2="841" stroke="#000" stroke-width="1.3"/>
<line x1="30.3" y1="845.3" x2="43.3" y2="845.3" stroke="#000" stroke-width="1.3"/>
<line x1="30.3" y1="1006.7" x2="43.3" y2="1006.7" stroke="#000" stroke-width="1.3"/>
<text transform="translate(34.6,811.7) rotate(-90)" x="0" y="0" font-size="12" font-weight="normal" text-anchor="start" fill="#000" textLength="50.7" lengthAdjust="spacingAndGlyphs" >FAM92A</text>
<text transform="translate(48,823.7) rotate(-90)" x="0" y="0" font-size="12" font-weight="normal" text-anchor="start" fill="#000" textLength="74.1" lengthAdjust="spacingAndGlyphs" >delta C-term</text>
<text transform="translate(41.6,939) rotate(-90)" x="0" y="0" font-size="12" font-weight="normal" text-anchor="start" fill="#000" textLength="34" lengthAdjust="spacingAndGlyphs" >RSG1</text>
<rect x="396.00" y="38.00" width="283.00" height="202.00" fill="#fbfbfb" />
<rect x="391.4" y="1.5" width="292.20000000000005" height="281.9" fill="none" stroke="#555" stroke-width="1.15"/>
<rect x="414.00" y="387.00" width="238.00" height="257.00" fill="#fbfbfb" />
<rect x="391.4" y="377.5" width="292.20000000000005" height="282.4" fill="none" stroke="#555" stroke-width="1.15"/>
<rect x="393.50" y="785.00" width="286.50" height="161.60" fill="#fbfbfb" />
<rect x="391.4" y="728.7" width="292.20000000000005" height="282.5" fill="none" stroke="#555" stroke-width="1.15"/>
<text x="508.5" y="37" font-size="14" font-weight="bold" text-anchor="start" fill="#000" textLength="37.2" lengthAdjust="spacingAndGlyphs" >RSG1</text>
<text x="583.8" y="239.6" font-size="14" font-weight="bold" text-anchor="start" fill="#000" textLength="56.6" lengthAdjust="spacingAndGlyphs" >FAM92A</text>
<text x="593" y="419.7" font-size="14" font-weight="bold" text-anchor="start" fill="#000" textLength="38" lengthAdjust="spacingAndGlyphs" >RSG1</text>
<text x="571" y="614.7" font-size="14" font-weight="bold" text-anchor="start" fill="#000" textLength="56.2" lengthAdjust="spacingAndGlyphs" >FAM92A</text>
<text x="571" y="630.7" font-size="14" font-weight="bold" text-anchor="start" fill="#000" textLength="46.7" lengthAdjust="spacingAndGlyphs" >C-term</text>
<text x="556.2" y="788" font-size="14" font-weight="bold" text-anchor="start" fill="#000" textLength="37.4" lengthAdjust="spacingAndGlyphs" >RSG1</text>
<text x="564.5" y="956.6" font-size="14" font-weight="bold" text-anchor="start" fill="#000" textLength="56.5" lengthAdjust="spacingAndGlyphs" >FAM92A</text>
<text x="552.6" y="973.4" font-size="14" font-weight="bold" text-anchor="start" fill="#000" textLength="84.1" lengthAdjust="spacingAndGlyphs" >delta C-term</text>
<path d="M446.8,55.1C448.7,54.1 454.5,49.1 458.5,48.8C462.6,48.4 468.7,49.8 471.1,53.1C473.5,56.4 473.1,63.2 472.8,68.6C472.5,73.9 471.8,81.6 469.4,85.4C467.1,89.1 462.2,91.2 458.5,91.2C454.9,91.2 450.0,88.6 447.6,85.4C445.2,82.1 444.4,77.0 444.3,71.9C444.1,66.9 446.4,57.9 446.8,55.1Z" fill="#1f5dd6" fill-opacity="0.6"/>
<path d="M457.7,91.2C460.4,90.0 468.2,85.0 473.6,84.0C479.1,83.0 485.8,84.0 490.4,85.4C495.0,86.7 499.5,88.2 501.3,92.1C503.2,96.0 502.5,103.3 501.3,108.9C500.2,114.5 498.0,121.6 494.6,125.6C491.3,129.7 485.7,132.6 481.2,133.2C476.7,133.8 472.1,130.8 467.8,129.0C463.4,127.2 457.6,125.9 455.2,122.3C452.8,118.7 453.1,112.4 453.5,107.2C453.9,102.0 457.0,93.9 457.7,91.2Z" fill="#1f5dd6" fill-opacity="0.6"/>
<path d="M463.6,98.8C466.4,97.7 475.3,92.1 480.4,92.1C485.4,92.1 491.8,94.3 493.8,98.8C495.7,103.3 494.6,114.5 492.1,118.9C489.6,123.4 483.2,125.6 478.7,125.6C474.2,125.6 467.8,123.4 465.3,118.9C462.7,114.5 463.9,102.1 463.6,98.8Z" fill="#163f9c" fill-opacity="0.33"/>
<path d="M465.3,49.3C466.9,48.7 472.1,47.0 475.3,45.9C478.5,44.8 482.5,41.6 484.6,42.6C486.7,43.5 486.7,49.1 487.9,51.8C489.2,54.4 491.0,55.7 492.1,58.5C493.2,61.3 493.2,66.6 494.6,68.6C496.0,70.6 498.1,69.8 500.5,70.6C502.9,71.4 506.4,71.6 508.9,73.3C511.4,75.0 513.1,78.8 515.6,80.7C518.1,82.6 520.9,84.2 524.0,84.7C527.1,85.2 531.6,83.2 534.1,83.7C536.5,84.2 539.3,86.5 538.8,87.7C538.2,88.9 533.6,90.4 530.7,90.7C527.8,91.1 524.6,90.6 521.5,89.7C518.4,88.9 513.8,86.4 512.3,85.7" stroke="#1f5dd6" stroke-width="3.2" fill="none" stroke-linecap="round" stroke-linejoin="round" stroke-opacity="1"/>
<path d="M470.3,55.1C471.7,54.9 476.9,52.3 478.7,53.5C480.4,54.6 481.1,59.3 480.7,61.9C480.3,64.4 477.6,66.7 476.2,68.6C474.7,70.5 471.3,71.9 472.0,73.3C472.7,74.7 477.0,76.3 480.4,77.0C483.7,77.6 488.5,77.0 492.1,77.3C495.7,77.6 499.4,77.6 502.2,79.0C505.0,80.3 507.8,84.3 508.9,85.4" stroke="#1f5dd6" stroke-width="3.0" fill="none" stroke-linecap="round" stroke-linejoin="round" stroke-opacity="1"/>
<path d="M473.6,70.6C475.6,70.2 481.8,69.2 485.4,68.2C489.0,67.3 493.2,64.5 495.5,64.9C497.7,65.2 497.1,69.1 498.8,70.3C500.5,71.4 503.6,70.6 505.5,71.6C507.5,72.6 509.7,75.4 510.6,76.1" stroke="#1f5dd6" stroke-width="2.8" fill="none" stroke-linecap="round" stroke-linejoin="round" stroke-opacity="1"/>
<path d="M485.4,63.5C486.9,63.4 492.5,61.2 494.6,62.7C496.7,64.2 496.4,70.7 498.0,72.8C499.5,74.9 502.9,74.9 503.9,75.3" stroke="#1f5dd6" stroke-width="2.6" fill="none" stroke-linecap="round" stroke-linejoin="round" stroke-opacity="1"/>
<path d="M480.4,56.8C481.2,57.4 484.3,58.2 485.4,60.2C486.5,62.1 486.2,66.1 487.1,68.6C487.9,71.1 489.9,74.2 490.4,75.3" stroke="#1f5dd6" stroke-width="2.6" fill="none" stroke-linecap="round" stroke-linejoin="round" stroke-opacity="1"/>
<path d="M461.9,77.0C463.2,77.6 466.8,79.3 469.4,80.7C472.1,82.1 475.0,85.1 477.8,85.4C480.6,85.6 484.8,82.8 486.2,82.3" stroke="#163f9c" stroke-width="3.8" fill="none" stroke-linecap="round" stroke-linejoin="round" stroke-opacity="1"/>
<path d="M463.6,82.0C465.0,81.2 469.2,77.5 472.0,77.0C474.8,76.5 478.1,79.3 480.4,79.0C482.6,78.7 483.2,76.2 485.4,75.3C487.6,74.4 492.4,73.9 493.8,73.6" stroke="#1f5dd6" stroke-width="3.2" fill="none" stroke-linecap="round" stroke-linejoin="round" stroke-opacity="1"/>
<path d="M485.4,77.0C486.6,77.5 489.9,79.4 492.4,80.3C495.0,81.2 498.0,81.4 500.5,82.3C503.0,83.2 506.4,85.1 507.6,85.7" stroke="#1f5dd6" stroke-width="3.0" fill="none" stroke-linecap="round" stroke-linejoin="round" stroke-opacity="1"/>
<path d="M500.5,77.0C501.5,77.1 504.7,77.0 506.4,77.8C508.1,78.6 508.8,81.2 510.6,82.0C512.4,82.8 516.2,82.3 517.3,82.3" stroke="#1f5dd6" stroke-width="2.6" fill="none" stroke-linecap="round" stroke-linejoin="round" stroke-opacity="1"/>
<path d="M462.4,48.2L463.7,49.2L464.6,51.0L465.2,53.5L465.4,56.1L465.4,58.4L465.4,60.0L465.6,60.6L462.4,59.7L461.1,58.8L460.2,56.9L459.6,54.5L459.4,51.8L459.4,49.5L459.4,47.9L459.2,47.3ZM471.2,50.7L472.5,51.7L473.4,53.5L474.0,56.0L474.2,58.6L474.2,60.9L474.2,62.5L474.4,63.1L471.2,62.2L469.9,61.3L469.0,59.4L468.5,57.0L468.3,54.4L468.2,52.1L468.2,50.5L468.1,49.8Z" fill="#123780"/>
<path d="M455.4,57.7L456.6,57.5L457.9,56.3L459.2,54.3L460.3,52.1L461.0,50.0L461.2,48.4L461.0,47.8L457.1,46.7L455.9,46.9L454.5,48.1L453.2,50.1L452.2,52.3L451.5,54.4L451.3,56.0L451.4,56.6ZM464.2,60.2L465.4,60.0L466.8,58.8L468.1,56.9L469.1,54.6L469.8,52.5L470.0,51.0L469.8,50.3L465.9,49.2L464.7,49.4L463.3,50.7L462.0,52.6L461.0,54.8L460.3,57.0L460.1,58.5L460.2,59.1Z" fill="#1f5dd6" stroke="#123780" stroke-width="0.35" stroke-opacity="0.6"/>
<path d="M454.1,56.5L454.7,55.3L455.4,53.9L456.2,52.2M462.9,59.0L463.5,57.9L464.3,56.4L465.0,54.7" stroke="#628de2" stroke-width="2.14" fill="none" stroke-linecap="round" stroke-opacity="0.55"/>
<path d="M457.6,58.2L459.3,58.9L460.9,60.5L462.1,62.8L463.0,65.2L463.6,67.4L464.1,68.9L464.4,69.5L460.5,69.2L458.7,68.5L457.2,66.9L456.0,64.7L455.1,62.2L454.4,60.0L454.0,58.5L453.7,57.9ZM468.5,59.1L470.3,59.7L471.8,61.3L473.0,63.6L473.9,66.0L474.6,68.2L475.0,69.8L475.3,70.3L471.4,70.0L469.6,69.3L468.1,67.7L466.9,65.5L466.0,63.0L465.3,60.9L464.9,59.3L464.6,58.8Z" fill="#123780"/>
<path d="M451.8,68.5L453.2,68.1L454.4,66.7L455.5,64.6L456.1,62.3L456.4,60.2L456.2,58.7L455.9,58.1L451.0,57.7L449.6,58.2L448.4,59.5L447.4,61.6L446.7,63.9L446.5,66.1L446.6,67.6L446.9,68.1ZM462.7,69.3L464.1,68.9L465.3,67.5L466.4,65.5L467.0,63.1L467.3,61.0L467.2,59.5L466.8,58.9L461.9,58.6L460.6,59.0L459.3,60.4L458.3,62.5L457.6,64.8L457.4,66.9L457.5,68.4L457.8,69.0Z" fill="#1f5dd6" stroke="#123780" stroke-width="0.35" stroke-opacity="0.6"/>
<path d="M450.0,67.5L450.5,66.4L450.9,64.8L451.4,63.1M460.9,68.4L461.4,67.2L461.8,65.7L462.3,64.0" stroke="#628de2" stroke-width="2.56" fill="none" stroke-linecap="round" stroke-opacity="0.55"/>
<path d="M454.9,69.1L456.4,69.8L457.7,71.4L458.6,73.5L459.3,75.8L459.8,77.9L460.0,79.3L460.3,79.9L456.8,79.4L455.3,78.7L454.0,77.2L453.1,75.0L452.4,72.7L452.0,70.7L451.7,69.2L451.4,68.7ZM464.5,70.4L466.0,71.1L467.3,72.7L468.3,74.8L469.0,77.1L469.4,79.2L469.7,80.6L470.0,81.1L466.5,80.7L465.0,80.0L463.7,78.4L462.7,76.3L462.0,74.0L461.6,71.9L461.3,70.5L461.0,70.0Z" fill="#123780"/>
<path d="M449.2,78.4L450.4,78.1L451.6,76.8L452.6,75.0L453.3,72.8L453.6,70.9L453.6,69.5L453.3,68.9L449.0,68.4L447.8,68.7L446.6,70.0L445.6,71.8L444.9,74.0L444.5,75.9L444.6,77.3L444.9,77.9ZM458.8,79.7L460.1,79.3L461.3,78.1L462.3,76.2L463.0,74.1L463.3,72.1L463.3,70.7L463.0,70.2L458.7,69.6L457.4,70.0L456.2,71.2L455.2,73.1L454.5,75.2L454.2,77.2L454.2,78.6L454.5,79.1Z" fill="#1f5dd6" stroke="#123780" stroke-width="0.35" stroke-opacity="0.6"/>
<path d="M447.6,77.4L448.1,76.4L448.6,75.0L449.1,73.4M457.3,78.7L457.7,77.6L458.2,76.2L458.7,74.7" stroke="#628de2" stroke-width="2.28" fill="none" stroke-linecap="round" stroke-opacity="0.55"/>
<path d="M458.4,80.1L459.8,80.8L460.9,82.3L461.6,84.3L462.1,86.5L462.4,88.4L462.6,89.7L462.9,90.3L459.7,89.6L458.3,88.9L457.2,87.4L456.4,85.4L455.9,83.2L455.7,81.3L455.5,80.0L455.2,79.5ZM467.2,81.7L468.6,82.5L469.7,84.0L470.5,86.0L471.0,88.2L471.2,90.1L471.4,91.4L471.7,91.9L468.5,91.3L467.1,90.6L466.0,89.1L465.2,87.1L464.8,84.9L464.5,83.0L464.3,81.6L464.0,81.1Z" fill="#123780"/>
<path d="M452.7,88.3L453.8,88.1L455.0,87.0L456.0,85.3L456.8,83.4L457.2,81.6L457.3,80.3L457.0,79.8L453.1,79.1L451.9,79.3L450.8,80.4L449.7,82.0L449.0,84.0L448.5,85.8L448.5,87.1L448.7,87.6ZM461.5,90.0L462.6,89.7L463.8,88.7L464.8,87.0L465.6,85.1L466.0,83.3L466.1,82.0L465.8,81.5L461.9,80.7L460.7,81.0L459.6,82.0L458.5,83.7L457.8,85.7L457.4,87.4L457.3,88.7L457.5,89.2Z" fill="#1f5dd6" stroke="#123780" stroke-width="0.35" stroke-opacity="0.6"/>
<path d="M451.3,87.3L451.8,86.4L452.3,85.1L452.9,83.7M460.1,89.0L460.6,88.1L461.1,86.8L461.7,85.4" stroke="#628de2" stroke-width="2.10" fill="none" stroke-linecap="round" stroke-opacity="0.55"/>
<path d="M480.7,88.4L482.3,89.2L483.6,90.9L484.5,93.3L485.1,95.9L485.5,98.2L485.7,99.8L486.0,100.4L482.3,99.8L480.8,99.0L479.5,97.2L478.6,94.8L478.0,92.2L477.6,89.9L477.4,88.3L477.1,87.7ZM490.8,90.0L492.4,90.8L493.6,92.6L494.6,95.0L495.2,97.6L495.5,99.9L495.8,101.5L496.0,102.1L492.4,101.5L490.8,100.7L489.6,98.9L488.6,96.5L488.0,93.9L487.7,91.6L487.4,90.0L487.2,89.4Z" fill="#123780"/>
<path d="M474.3,98.5L475.6,98.2L477.0,96.8L478.1,94.8L478.9,92.4L479.4,90.2L479.4,88.7L479.2,88.1L474.7,87.3L473.3,87.7L472.0,89.0L470.9,91.1L470.0,93.4L469.6,95.6L469.5,97.1L469.8,97.7ZM484.4,100.2L485.7,99.8L487.0,98.5L488.2,96.4L489.0,94.1L489.5,91.9L489.5,90.4L489.2,89.8L484.7,89.0L483.4,89.4L482.1,90.7L480.9,92.7L480.1,95.1L479.7,97.3L479.6,98.8L479.9,99.4Z" fill="#1f5dd6" stroke="#123780" stroke-width="0.35" stroke-opacity="0.6"/>
<path d="M472.8,97.4L473.3,96.2L473.9,94.7L474.5,92.9M482.8,99.0L483.3,97.9L483.9,96.3L484.6,94.6" stroke="#628de2" stroke-width="2.39" fill="none" stroke-linecap="round" stroke-opacity="0.55"/>
<path d="M493.2,83.6L494.4,84.4L495.2,86.0L495.8,88.2L496.0,90.6L496.1,92.6L496.1,94.1L496.3,94.6L493.4,93.9L492.2,93.1L491.3,91.4L490.8,89.2L490.6,86.9L490.5,84.8L490.5,83.4L490.3,82.8ZM501.2,85.7L502.4,86.5L503.2,88.1L503.7,90.3L504.0,92.7L504.0,94.7L504.1,96.2L504.2,96.7L501.4,96.0L500.2,95.2L499.3,93.5L498.8,91.3L498.6,89.0L498.5,86.9L498.5,85.5L498.3,84.9Z" fill="#123780"/>
<path d="M487.0,92.2L488.1,92.0L489.3,90.9L490.5,89.1L491.4,87.1L491.9,85.2L492.1,83.8L491.9,83.2L488.4,82.3L487.3,82.5L486.1,83.6L485.0,85.4L484.1,87.4L483.5,89.3L483.3,90.7L483.5,91.3ZM495.0,94.3L496.1,94.1L497.3,93.0L498.4,91.2L499.3,89.2L499.9,87.3L500.1,85.9L499.9,85.3L496.4,84.4L495.3,84.6L494.1,85.7L492.9,87.5L492.0,89.5L491.5,91.4L491.3,92.8L491.4,93.4Z" fill="#1f5dd6" stroke="#123780" stroke-width="0.35" stroke-opacity="0.6"/>
<path d="M485.9,91.1L486.4,90.1L487.0,88.8L487.7,87.2M493.8,93.2L494.4,92.2L495.0,90.9L495.7,89.3" stroke="#628de2" stroke-width="1.93" fill="none" stroke-linecap="round" stroke-opacity="0.55"/>
<path d="M474.0,100.9L475.7,101.7L477.1,103.5L478.2,105.9L478.9,108.5L479.3,110.8L479.6,112.4L479.9,113.0L476.0,112.4L474.3,111.6L472.9,109.8L471.8,107.4L471.1,104.8L470.7,102.5L470.4,100.9L470.0,100.3ZM484.9,102.6L486.6,103.4L488.0,105.2L489.1,107.6L489.8,110.2L490.2,112.5L490.5,114.1L490.8,114.7L486.9,114.1L485.2,113.3L483.8,111.5L482.7,109.1L482.0,106.5L481.6,104.2L481.3,102.6L481.0,102.0Z" fill="#123780"/>
<path d="M467.3,111.1L468.7,110.8L470.1,109.4L471.3,107.4L472.1,105.0L472.6,102.8L472.6,101.3L472.3,100.7L467.4,99.9L466.0,100.3L464.6,101.6L463.4,103.7L462.6,106.0L462.1,108.2L462.1,109.7L462.4,110.3ZM478.2,112.8L479.6,112.4L481.0,111.1L482.2,109.0L483.1,106.7L483.5,104.5L483.5,102.9L483.2,102.3L478.3,101.6L476.9,101.9L475.5,103.3L474.3,105.3L473.5,107.7L473.0,109.9L473.0,111.4L473.4,112.0Z" fill="#1f5dd6" stroke="#123780" stroke-width="0.35" stroke-opacity="0.6"/>
<path d="M465.6,110.0L466.1,108.8L466.7,107.2L467.4,105.5M476.5,111.6L477.0,110.5L477.6,108.9L478.3,107.2" stroke="#628de2" stroke-width="2.58" fill="none" stroke-linecap="round" stroke-opacity="0.55"/>
<path d="M483.0,112.0L484.4,112.9L485.6,114.5L486.4,116.8L486.9,119.1L487.2,121.2L487.4,122.7L487.6,123.2L484.1,122.5L482.7,121.6L481.5,120.0L480.7,117.8L480.2,115.4L479.9,113.3L479.7,111.8L479.5,111.3ZM492.6,114.1L494.1,115.0L495.3,116.6L496.1,118.8L496.6,121.2L496.8,123.3L497.0,124.8L497.3,125.3L493.8,124.6L492.3,123.7L491.1,122.1L490.3,119.9L489.8,117.5L489.6,115.4L489.4,113.9L489.1,113.4Z" fill="#123780"/>
<path d="M476.4,120.8L477.7,120.6L479.0,119.4L480.2,117.7L481.1,115.6L481.6,113.7L481.7,112.3L481.4,111.7L477.1,110.8L475.9,111.0L474.5,112.1L473.4,113.9L472.5,116.0L472.0,117.9L471.9,119.3L472.1,119.9ZM486.1,122.9L487.4,122.7L488.7,121.5L489.9,119.8L490.8,117.7L491.3,115.8L491.3,114.4L491.1,113.8L486.8,112.9L485.5,113.1L484.2,114.2L483.0,116.0L482.1,118.1L481.6,120.0L481.5,121.4L481.8,122.0Z" fill="#1f5dd6" stroke="#123780" stroke-width="0.35" stroke-opacity="0.6"/>
<path d="M475.0,119.7L475.5,118.7L476.1,117.3L476.8,115.8M484.6,121.8L485.2,120.8L485.8,119.4L486.4,117.9" stroke="#628de2" stroke-width="2.31" fill="none" stroke-linecap="round" stroke-opacity="0.55"/>
<path d="M457.3,113.0L459.2,112.8L461.3,113.6L463.5,115.0L465.4,116.8L467.0,118.5L468.0,119.6L468.6,120.0L464.8,121.5L462.9,121.7L460.8,121.0L458.6,119.5L456.7,117.7L455.1,116.0L454.1,114.9L453.5,114.5ZM467.8,108.8L469.7,108.6L471.8,109.4L474.0,110.8L475.9,112.6L477.5,114.3L478.5,115.5L479.1,115.8L475.3,117.3L473.4,117.5L471.3,116.8L469.1,115.3L467.2,113.5L465.6,111.8L464.6,110.7L464.0,110.3Z" fill="#123780"/>
<path d="M456.5,124.8L457.5,123.8L458.1,122.0L458.1,119.7L457.7,117.3L457.0,115.3L456.2,114.0L455.6,113.7L451.0,115.5L449.9,116.5L449.3,118.4L449.3,120.7L449.7,123.1L450.4,125.1L451.2,126.4L451.8,126.7ZM467.0,120.6L468.0,119.6L468.6,117.8L468.6,115.5L468.2,113.1L467.5,111.1L466.7,109.8L466.1,109.5L461.5,111.3L460.4,112.3L459.8,114.2L459.8,116.5L460.2,118.9L460.9,120.9L461.7,122.2L462.3,122.5Z" fill="#1f5dd6" stroke="#123780" stroke-width="0.35" stroke-opacity="0.6"/>
<path d="M454.4,124.8L454.3,123.5L454.0,122.0L453.7,120.2M464.9,120.6L464.8,119.3L464.5,117.8L464.2,116.0" stroke="#628de2" stroke-width="2.64" fill="none" stroke-linecap="round" stroke-opacity="0.55"/>
<path d="M490.6,101.7L491.7,102.8L492.4,104.5L492.6,106.8L492.5,109.1L492.2,111.1L492.0,112.4L492.1,113.0L489.2,111.6L488.1,110.6L487.5,108.8L487.3,106.6L487.4,104.3L487.7,102.3L487.8,100.9L487.7,100.4ZM498.6,105.5L499.7,106.5L500.3,108.3L500.5,110.5L500.4,112.8L500.2,114.8L500.0,116.2L500.1,116.8L497.2,115.4L496.1,114.4L495.5,112.6L495.3,110.4L495.4,108.1L495.6,106.1L495.8,104.7L495.7,104.1Z" fill="#123780"/>
<path d="M482.9,108.6L484.1,108.7L485.5,107.9L486.9,106.4L488.2,104.7L489.1,103.0L489.5,101.7L489.4,101.1L485.8,99.4L484.6,99.4L483.2,100.2L481.8,101.6L480.5,103.4L479.6,105.1L479.2,106.4L479.3,106.9ZM490.9,112.4L492.0,112.4L493.5,111.6L494.9,110.2L496.1,108.4L497.0,106.7L497.4,105.5L497.3,104.9L493.8,103.2L492.6,103.2L491.2,104.0L489.7,105.4L488.5,107.2L487.6,108.9L487.2,110.2L487.3,110.7Z" fill="#1f5dd6" stroke="#123780" stroke-width="0.35" stroke-opacity="0.6"/>
<path d="M481.9,107.3L482.6,106.5L483.4,105.3L484.3,104.0M489.8,111.1L490.5,110.3L491.4,109.1L492.3,107.8" stroke="#628de2" stroke-width="2.06" fill="none" stroke-linecap="round" stroke-opacity="0.55"/>
<path d="M472.8,103.2L472.6,104.3L471.7,105.5L470.2,106.6L468.5,107.5L467.0,108.2L466.0,108.7L465.6,109.0L465.2,106.7L465.5,105.5L466.4,104.4L467.9,103.3L469.5,102.3L471.0,101.6L472.1,101.1L472.4,100.8ZM473.9,109.7L473.7,110.8L472.7,112.0L471.3,113.1L469.6,114.0L468.1,114.7L467.0,115.2L466.7,115.5L466.3,113.2L466.5,112.0L467.4,110.9L468.9,109.8L470.6,108.8L472.1,108.1L473.1,107.6L473.5,107.3ZM474.9,116.2L474.7,117.3L473.8,118.5L472.3,119.6L470.6,120.5L469.1,121.2L468.1,121.7L467.7,122.0L467.3,119.7L467.6,118.5L468.5,117.4L470.0,116.3L471.6,115.4L473.1,114.6L474.2,114.1L474.5,113.8ZM476.0,122.7L475.8,123.8L474.8,125.0L473.3,126.1L471.7,127.0L470.2,127.7L469.1,128.2L468.8,128.5L468.4,126.2L468.6,125.0L469.5,123.9L471.0,122.8L472.7,121.9L474.2,121.1L475.2,120.6L475.6,120.3Z" fill="#0d255d"/>
<path d="M464.4,101.5L464.9,102.2L466.1,102.7L467.8,103.0L469.6,103.0L471.2,102.8L472.3,102.5L472.7,102.2L472.2,99.2L471.7,98.5L470.5,98.0L468.8,97.8L467.0,97.8L465.4,98.0L464.3,98.3L463.9,98.6ZM465.4,108.0L466.0,108.7L467.2,109.2L468.9,109.5L470.7,109.5L472.3,109.3L473.4,109.0L473.7,108.7L473.2,105.8L472.7,105.0L471.5,104.5L469.8,104.3L468.0,104.3L466.4,104.5L465.3,104.8L465.0,105.1ZM466.5,114.5L467.0,115.2L468.2,115.7L469.9,116.0L471.7,116.0L473.3,115.8L474.4,115.5L474.8,115.2L474.3,112.3L473.8,111.5L472.6,111.0L470.9,110.8L469.1,110.8L467.5,111.0L466.4,111.3L466.0,111.6ZM467.5,121.0L468.1,121.7L469.3,122.2L471.0,122.5L472.8,122.5L474.4,122.3L475.5,122.0L475.8,121.7L475.3,118.8L474.8,118.0L473.6,117.5L471.9,117.3L470.1,117.3L468.5,117.5L467.4,117.8L467.1,118.1Z" fill="#163f9c" stroke="#0d255d" stroke-width="0.35" stroke-opacity="0.6"/>
<path d="M464.8,100.3L465.8,100.3L467.0,100.4L468.3,100.4M465.9,106.8L466.8,106.9L468.0,106.9L469.3,106.9M466.9,113.3L467.9,113.4L469.1,113.4L470.4,113.4M468.0,119.8L468.9,119.9L470.1,119.9L471.4,119.9" stroke="#5b78b9" stroke-width="1.54" fill="none" stroke-linecap="round" stroke-opacity="0.55"/>
<path d="M491.3,105.2L491.0,106.4L490.1,107.6L488.7,108.6L487.1,109.5L485.7,110.1L484.7,110.5L484.4,110.8L484.2,108.2L484.5,107.0L485.4,105.8L486.8,104.8L488.3,103.9L489.8,103.3L490.7,102.8L491.1,102.5ZM491.8,112.4L491.6,113.7L490.7,114.8L489.3,115.9L487.7,116.7L486.3,117.4L485.3,117.8L485.0,118.1L484.8,115.5L485.0,114.2L486.0,113.1L487.3,112.0L488.9,111.2L490.3,110.5L491.3,110.1L491.6,109.8ZM492.4,119.7L492.1,120.9L491.2,122.1L489.8,123.2L488.3,124.0L486.8,124.6L485.9,125.1L485.5,125.4L485.3,122.7L485.6,121.5L486.5,120.3L487.9,119.3L489.5,118.4L490.9,117.8L491.9,117.4L492.2,117.1Z" fill="#123780"/>
<path d="M483.8,102.4L484.2,103.3L485.3,104.0L486.8,104.4L488.4,104.6L489.9,104.5L490.9,104.3L491.2,104.0L491.0,100.8L490.5,99.9L489.5,99.2L488.0,98.8L486.3,98.6L484.8,98.6L483.8,98.9L483.5,99.2ZM484.3,109.7L484.7,110.5L485.8,111.2L487.3,111.7L489.0,111.9L490.4,111.8L491.4,111.6L491.8,111.3L491.5,108.1L491.1,107.2L490.0,106.5L488.5,106.0L486.9,105.9L485.4,105.9L484.4,106.1L484.1,106.4ZM484.9,116.9L485.3,117.8L486.4,118.5L487.9,119.0L489.5,119.1L491.0,119.1L492.0,118.9L492.3,118.6L492.1,115.3L491.6,114.5L490.6,113.8L489.1,113.3L487.4,113.1L486.0,113.2L485.0,113.4L484.6,113.7Z" fill="#1f5dd6" stroke="#123780" stroke-width="0.35" stroke-opacity="0.6"/>
<path d="M484.2,101.1L485.1,101.3L486.1,101.4L487.4,101.6M484.8,108.4L485.6,108.6L486.7,108.7L487.9,108.9M485.3,115.7L486.2,115.8L487.3,116.0L488.5,116.1" stroke="#628de2" stroke-width="1.71" fill="none" stroke-linecap="round" stroke-opacity="0.55"/>
<path d="M479.7,89.3L479.7,90.2L479.1,91.4L478.1,92.5L476.9,93.6L475.7,94.4L474.9,95.0L474.6,95.3L473.9,93.5L473.9,92.6L474.5,91.5L475.6,90.3L476.8,89.2L478.0,88.4L478.8,87.8L479.0,87.5ZM481.7,94.3L481.7,95.3L481.1,96.4L480.0,97.5L478.8,98.6L477.7,99.5L476.9,100.1L476.6,100.4L475.9,98.5L475.9,97.6L476.5,96.5L477.5,95.3L478.8,94.3L479.9,93.4L480.7,92.8L481.0,92.5ZM483.6,99.4L483.6,100.3L483.0,101.4L482.0,102.6L480.8,103.6L479.6,104.5L478.8,105.1L478.6,105.4L477.9,103.6L477.9,102.6L478.5,101.5L479.5,100.4L480.7,99.3L481.9,98.5L482.7,97.9L482.9,97.6Z" fill="#123780"/>
<path d="M472.4,89.5L472.9,90.0L474.0,90.2L475.5,90.1L477.0,89.7L478.3,89.3L479.2,88.8L479.4,88.5L478.5,86.3L478.0,85.8L476.9,85.6L475.4,85.7L473.9,86.0L472.6,86.5L471.8,86.9L471.5,87.3ZM474.3,94.5L474.9,95.0L476.0,95.2L477.4,95.1L479.0,94.8L480.3,94.3L481.1,93.8L481.4,93.5L480.5,91.3L479.9,90.8L478.8,90.6L477.4,90.7L475.9,91.1L474.6,91.5L473.7,92.0L473.5,92.3ZM476.3,99.6L476.9,100.1L478.0,100.3L479.4,100.1L480.9,99.8L482.2,99.3L483.1,98.9L483.3,98.6L482.5,96.3L481.9,95.8L480.8,95.7L479.4,95.8L477.8,96.1L476.5,96.6L475.7,97.0L475.4,97.3Z" fill="#1f5dd6" stroke="#123780" stroke-width="0.35" stroke-opacity="0.6"/>
<path d="M472.6,88.5L473.3,88.3L474.3,88.1L475.5,87.9M474.5,93.5L475.3,93.4L476.3,93.2L477.4,92.9M476.5,98.5L477.3,98.4L478.3,98.2L479.4,98.0" stroke="#628de2" stroke-width="1.26" fill="none" stroke-linecap="round" stroke-opacity="0.55"/>
<path d="M504.8,86.3L505.9,87.0L506.6,88.7L507.1,90.9L507.3,93.3L507.3,95.4L507.3,96.9L507.5,97.5L504.9,96.9L503.8,96.1L503.1,94.5L502.7,92.2L502.5,89.8L502.4,87.7L502.4,86.2L502.3,85.7ZM512.0,88.0L513.0,88.7L513.8,90.4L514.2,92.6L514.4,95.0L514.4,97.1L514.5,98.6L514.6,99.2L512.0,98.6L511.0,97.8L510.2,96.1L509.8,93.9L509.6,91.5L509.6,89.4L509.5,87.9L509.4,87.3Z" fill="#2d7388"/>
<path d="M499.2,95.5L500.2,95.2L501.3,94.0L502.3,92.2L503.2,90.0L503.7,88.0L503.9,86.6L503.7,86.0L500.5,85.3L499.5,85.6L498.5,86.8L497.4,88.6L496.6,90.8L496.1,92.8L495.9,94.2L496.0,94.8ZM506.4,97.2L507.3,96.9L508.4,95.7L509.5,93.8L510.3,91.7L510.8,89.7L511.0,88.2L510.9,87.7L507.7,86.9L506.7,87.2L505.6,88.4L504.6,90.3L503.7,92.5L503.2,94.5L503.0,95.9L503.2,96.5Z" fill="#4cc0e4" stroke="#2d7388" stroke-width="0.35" stroke-opacity="0.6"/>
<path d="M498.2,94.5L498.7,93.4L499.3,92.0L499.9,90.4M505.3,96.1L505.8,95.1L506.4,93.7L507.0,92.1" stroke="#81d2ec" stroke-width="1.72" fill="none" stroke-linecap="round" stroke-opacity="0.55"/>
<path d="M450.8,90.5L451.5,91.4L451.6,92.8L451.3,94.6L450.9,96.4L450.3,98.0L450.0,99.1L449.9,99.6L448.1,98.3L447.5,97.5L447.3,96.0L447.6,94.3L448.1,92.4L448.6,90.8L449.0,89.8L449.0,89.3ZM455.9,93.9L456.5,94.7L456.6,96.2L456.4,98.0L455.9,99.8L455.4,101.4L455.0,102.5L454.9,102.9L453.1,101.7L452.5,100.8L452.4,99.4L452.6,97.6L453.1,95.8L453.7,94.2L454.0,93.1L454.1,92.7Z" fill="#2d7388"/>
<path d="M444.1,95.7L444.9,95.7L446.1,95.2L447.4,94.1L448.6,92.7L449.5,91.4L450.0,90.4L450.1,90.0L447.8,88.5L447.0,88.4L445.8,89.0L444.5,90.1L443.3,91.4L442.4,92.7L441.9,93.7L441.8,94.2ZM449.1,99.0L450.0,99.1L451.1,98.5L452.4,97.5L453.6,96.1L454.5,94.8L455.1,93.8L455.1,93.3L452.8,91.8L452.0,91.8L450.9,92.3L449.6,93.4L448.4,94.8L447.4,96.1L446.9,97.1L446.9,97.5Z" fill="#4cc0e4" stroke="#2d7388" stroke-width="0.35" stroke-opacity="0.6"/>
<path d="M443.6,94.6L444.2,93.9L445.1,93.1L445.9,92.1M448.6,97.9L449.3,97.3L450.1,96.4L451.0,95.4" stroke="#81d2ec" stroke-width="1.42" fill="none" stroke-linecap="round" stroke-opacity="0.55"/>
<path d="M506.4,113.5L507.5,114.2L508.3,115.8L508.7,117.9L509.0,120.1L509.0,122.1L509.1,123.4L509.2,124.0L506.7,123.4L505.6,122.6L504.8,121.1L504.4,119.0L504.1,116.8L504.1,114.8L504.0,113.4L503.9,112.9ZM513.6,115.2L514.6,115.9L515.4,117.5L515.9,119.5L516.1,121.8L516.2,123.8L516.2,125.1L516.4,125.6L513.8,125.0L512.7,124.3L512.0,122.8L511.5,120.7L511.3,118.4L511.2,116.5L511.1,115.1L511.0,114.6Z" fill="#1c5668"/>
<path d="M501.0,122.0L502.0,121.8L503.0,120.7L504.0,118.9L504.8,116.9L505.3,115.1L505.5,113.8L505.3,113.2L502.1,112.5L501.1,112.7L500.1,113.9L499.1,115.6L498.3,117.6L497.8,119.4L497.6,120.8L497.8,121.3ZM508.1,123.7L509.1,123.5L510.2,122.3L511.2,120.6L511.9,118.6L512.4,116.8L512.6,115.4L512.4,114.9L509.3,114.2L508.3,114.4L507.2,115.5L506.2,117.3L505.4,119.3L504.9,121.1L504.8,122.4L504.9,123.0Z" fill="#2f90ae" stroke="#1c5668" stroke-width="0.35" stroke-opacity="0.6"/>
<path d="M499.9,121.0L500.4,120.0L501.0,118.7L501.6,117.3M507.1,122.7L507.6,121.7L508.1,120.4L508.7,118.9" stroke="#6db1c6" stroke-width="1.72" fill="none" stroke-linecap="round" stroke-opacity="0.55"/>
<path d="M455.1,82.3L456.2,83.2L457.0,84.5L457.4,86.2L457.5,88.0L457.5,89.5L457.5,90.5L457.6,91.0L454.9,89.8L453.8,88.9L453.0,87.5L452.6,85.8L452.5,84.1L452.5,82.6L452.5,81.5L452.4,81.1Z" fill="#2d7388"/>
<path d="M448.9,87.1L449.9,87.2L451.1,86.7L452.3,85.7L453.2,84.4L453.8,83.2L454.1,82.2L453.9,81.8L450.6,80.3L449.5,80.2L448.3,80.7L447.2,81.7L446.2,83.0L445.6,84.2L445.4,85.2L445.5,85.6Z" fill="#4cc0e4" stroke="#2d7388" stroke-width="0.35" stroke-opacity="0.6"/>
<path d="M447.8,86.0L448.4,85.4L449.0,84.6L449.7,83.7" stroke="#81d2ec" stroke-width="1.93" fill="none" stroke-linecap="round" stroke-opacity="0.55"/>
<path d="M445.1,118.9C445.7,120.1 448.5,123.6 448.5,125.6C448.5,127.7 446.5,131.0 445.1,131.5C443.7,132.1 440.9,129.4 440.1,129.0" stroke="#4cc0e4" stroke-width="3.2" fill="none" stroke-linecap="round" stroke-linejoin="round" stroke-opacity="1"/>
<path d="M455.2,125.6C456.6,126.2 460.5,128.4 463.6,129.0C466.7,129.6 470.8,128.2 473.6,129.0C476.4,129.8 478.4,132.4 480.4,134.0C482.3,135.7 483.4,137.7 485.4,139.1C487.4,140.5 491.0,141.9 492.1,142.4" stroke="#4cc0e4" stroke-width="3.0" fill="none" stroke-linecap="round" stroke-linejoin="round" stroke-opacity="1"/>
<path d="M510.6,85.4C512.3,86.0 517.3,88.2 520.6,89.1C524.0,89.9 527.9,91.0 530.7,90.7C533.5,90.5 536.3,87.9 537.4,87.4" stroke="#4cc0e4" stroke-width="3.2" fill="none" stroke-linecap="round" stroke-linejoin="round" stroke-opacity="1"/>
<path d="M510.6,110.5C511.1,109.7 512.3,106.6 513.9,105.5C515.6,104.4 518.5,103.7 520.6,104.2C522.8,104.7 526.4,106.8 527.0,108.5C527.6,110.2 526.0,113.3 524.3,114.2C522.7,115.2 519.3,114.6 517.3,114.2C515.3,113.9 513.1,112.6 512.3,112.2" stroke="#4cc0e4" stroke-width="3.8" fill="none" stroke-linecap="round" stroke-linejoin="round" stroke-opacity="1"/>
<path d="M440.1,105.5C440.9,106.1 443.1,108.9 445.1,109.2C447.1,109.5 449.6,108.7 451.8,107.5C454.1,106.3 457.4,103.0 458.5,102.1" stroke="#4cc0e4" stroke-width="3.0" fill="none" stroke-linecap="round" stroke-linejoin="round" stroke-opacity="1"/>
<path d="M455.2,85.4C455.5,87.0 455.7,92.9 456.9,95.4C458.0,98.0 461.1,99.9 461.9,100.8" stroke="#4cc0e4" stroke-width="3.0" fill="none" stroke-linecap="round" stroke-linejoin="round" stroke-opacity="1"/>
<path d="M495.5,113.9C496.3,113.5 498.8,111.4 500.5,111.4C502.2,111.4 504.7,113.5 505.5,113.9" stroke="#2f90ae" stroke-width="2.8" fill="none" stroke-linecap="round" stroke-linejoin="round" stroke-opacity="1"/>
<path d="M430.0,108.9C430.8,110.1 433.1,114.4 435.0,116.4C437.0,118.4 439.5,119.9 441.8,120.9C444.0,122.0 446.2,121.3 448.5,122.6C450.7,124.0 454.1,127.9 455.2,129.0" stroke="#f0df3c" stroke-width="3.0" fill="none" stroke-linecap="round" stroke-linejoin="round" stroke-opacity="1"/>
<path d="M497.1,124.0C496.9,124.8 495.2,127.7 495.8,129.0C496.4,130.4 498.9,131.1 500.5,132.0C502.1,132.9 504.1,133.4 505.5,134.4C506.9,135.3 508.0,136.3 508.9,137.7C509.8,139.1 510.6,141.9 510.9,142.8" stroke="#f0df3c" stroke-width="3.6" fill="none" stroke-linecap="round" stroke-linejoin="round" stroke-opacity="1"/>
<path d="M455.1,48.1L456.3,48.8L457.1,50.3L457.7,52.2L457.9,54.3L458.0,56.1L458.1,57.3L458.3,57.8L455.5,57.1L454.3,56.3L453.5,54.8L453.0,52.9L452.7,50.9L452.6,49.1L452.5,47.8L452.3,47.3ZM462.8,50.1L464.0,50.9L464.8,52.4L465.4,54.3L465.7,56.3L465.8,58.2L465.8,59.4L466.0,59.9L463.2,59.1L462.1,58.4L461.2,56.9L460.7,55.0L460.4,52.9L460.3,51.1L460.2,49.9L460.1,49.4ZM470.5,52.2L471.7,53.0L472.5,54.4L473.1,56.4L473.4,58.4L473.5,60.2L473.5,61.5L473.7,62.0L470.9,61.2L469.8,60.5L468.9,59.0L468.4,57.1L468.1,55.0L468.0,53.2L467.9,52.0L467.8,51.5Z" fill="#123780"/>
<path d="M449.4,55.4L450.4,55.2L451.5,54.3L452.6,52.8L453.4,51.1L453.9,49.4L454.1,48.2L453.9,47.7L450.5,46.8L449.4,47.0L448.3,47.9L447.2,49.4L446.4,51.1L445.9,52.8L445.8,54.0L445.9,54.5ZM457.1,57.5L458.1,57.3L459.3,56.4L460.3,54.9L461.1,53.1L461.6,51.5L461.8,50.3L461.6,49.8L458.2,48.9L457.1,49.0L456.0,50.0L454.9,51.5L454.1,53.2L453.6,54.9L453.5,56.1L453.6,56.6ZM464.8,59.6L465.8,59.4L467.0,58.5L468.0,57.0L468.8,55.2L469.3,53.6L469.5,52.4L469.3,51.9L465.9,51.0L464.8,51.1L463.7,52.1L462.7,53.6L461.8,55.3L461.3,57.0L461.2,58.2L461.3,58.6Z" fill="#1f5dd6" stroke="#123780" stroke-width="0.35" stroke-opacity="0.6"/>
<path d="M448.2,54.4L448.7,53.5L449.3,52.4L449.9,51.1M455.9,56.5L456.4,55.6L457.0,54.5L457.6,53.2M463.6,58.6L464.1,57.7L464.7,56.6L465.3,55.3" stroke="#628de2" stroke-width="1.87" fill="none" stroke-linecap="round" stroke-opacity="0.55"/>
<path d="M454.2,59.3L455.5,60.1L456.4,61.5L457.0,63.5L457.4,65.5L457.5,67.3L457.6,68.6L457.8,69.1L454.9,68.3L453.6,67.6L452.7,66.1L452.1,64.2L451.8,62.1L451.6,60.3L451.5,59.0L451.3,58.5ZM462.4,61.4L463.6,62.1L464.5,63.6L465.2,65.5L465.5,67.6L465.6,69.4L465.7,70.7L465.9,71.2L463.0,70.4L461.8,69.7L460.8,68.2L460.2,66.3L459.9,64.2L459.7,62.4L459.6,61.1L459.4,60.6ZM470.5,63.5L471.7,64.2L472.7,65.7L473.3,67.6L473.6,69.7L473.8,71.5L473.9,72.8L474.1,73.2L471.1,72.5L469.9,71.7L469.0,70.3L468.3,68.3L468.0,66.3L467.9,64.5L467.8,63.2L467.6,62.7Z" fill="#123780"/>
<path d="M448.4,66.7L449.5,66.5L450.7,65.6L451.7,64.1L452.5,62.3L453.0,60.7L453.2,59.5L453.0,59.0L449.3,58.0L448.3,58.2L447.1,59.1L446.0,60.6L445.2,62.4L444.7,64.1L444.6,65.2L444.8,65.7ZM456.5,68.7L457.6,68.6L458.8,67.7L459.8,66.2L460.7,64.4L461.2,62.7L461.3,61.5L461.1,61.1L457.5,60.1L456.4,60.3L455.2,61.2L454.2,62.7L453.3,64.5L452.8,66.1L452.7,67.3L452.9,67.8ZM464.7,70.8L465.7,70.7L466.9,69.7L468.0,68.2L468.8,66.5L469.3,64.8L469.4,63.6L469.2,63.1L465.6,62.2L464.5,62.4L463.3,63.3L462.3,64.8L461.5,66.6L461.0,68.2L460.8,69.4L461.0,69.9Z" fill="#1f5dd6" stroke="#123780" stroke-width="0.35" stroke-opacity="0.6"/>
<path d="M447.2,65.7L447.7,64.8L448.3,63.7L448.9,62.4M455.3,67.7L455.8,66.9L456.4,65.7L457.0,64.4M463.4,69.8L463.9,69.0L464.5,67.8L465.1,66.5" stroke="#628de2" stroke-width="1.96" fill="none" stroke-linecap="round" stroke-opacity="0.55"/>
<path d="M451.1,71.7L452.0,72.5L452.6,73.9L452.8,75.7L452.8,77.6L452.6,79.3L452.5,80.4L452.6,80.9L450.3,79.9L449.3,79.1L448.8,77.7L448.6,75.9L448.6,74.0L448.8,72.3L448.9,71.2L448.8,70.7ZM457.6,74.4L458.5,75.2L459.0,76.6L459.3,78.4L459.2,80.3L459.1,82.0L459.0,83.2L459.0,83.6L456.7,82.6L455.8,81.8L455.3,80.4L455.0,78.6L455.1,76.7L455.2,75.0L455.3,73.9L455.3,73.4ZM464.0,77.1L464.9,77.9L465.5,79.3L465.7,81.2L465.7,83.1L465.5,84.7L465.4,85.9L465.5,86.3L463.2,85.3L462.3,84.5L461.7,83.1L461.5,81.3L461.5,79.4L461.7,77.7L461.8,76.6L461.7,76.1Z" fill="#123780"/>
<path d="M445.1,77.8L446.0,77.7L447.2,77.0L448.3,75.8L449.2,74.2L449.9,72.8L450.2,71.7L450.1,71.3L447.2,70.1L446.3,70.1L445.2,70.8L444.1,72.1L443.1,73.6L442.4,75.0L442.1,76.1L442.2,76.6ZM451.6,80.5L452.5,80.4L453.6,79.7L454.7,78.5L455.7,77.0L456.4,75.5L456.7,74.4L456.6,74.0L453.7,72.8L452.7,72.8L451.6,73.5L450.5,74.8L449.6,76.3L448.9,77.7L448.6,78.8L448.7,79.3ZM458.0,83.2L459.0,83.2L460.1,82.4L461.2,81.2L462.2,79.7L462.8,78.2L463.1,77.1L463.0,76.7L460.1,75.5L459.2,75.5L458.1,76.2L457.0,77.5L456.0,79.0L455.3,80.4L455.1,81.5L455.1,82.0Z" fill="#1f5dd6" stroke="#123780" stroke-width="0.35" stroke-opacity="0.6"/>
<path d="M444.3,76.7L444.8,76.0L445.5,75.0L446.2,73.9M450.7,79.5L451.3,78.7L451.9,77.7L452.6,76.6M457.2,82.2L457.7,81.4L458.4,80.4L459.1,79.3" stroke="#628de2" stroke-width="1.64" fill="none" stroke-linecap="round" stroke-opacity="0.55"/>
<path d="M475.5,87.5L476.4,88.2L477.1,89.7L477.4,91.6L477.5,93.6L477.5,95.4L477.5,96.7L477.6,97.1L475.2,96.4L474.2,95.6L473.5,94.2L473.2,92.3L473.1,90.2L473.1,88.5L473.2,87.2L473.1,86.7ZM482.1,89.6L483.1,90.3L483.7,91.8L484.1,93.7L484.2,95.7L484.2,97.5L484.1,98.7L484.2,99.2L481.8,98.5L480.9,97.7L480.2,96.3L479.9,94.4L479.8,92.3L479.8,90.5L479.8,89.3L479.7,88.8ZM488.8,91.7L489.8,92.4L490.4,93.9L490.8,95.8L490.9,97.8L490.8,99.6L490.8,100.8L490.9,101.3L488.5,100.6L487.5,99.8L486.9,98.4L486.5,96.4L486.4,94.4L486.5,92.6L486.5,91.4L486.4,90.9Z" fill="#123780"/>
<path d="M469.9,94.7L470.8,94.6L471.9,93.7L472.9,92.2L473.7,90.4L474.3,88.8L474.5,87.6L474.4,87.2L471.4,86.2L470.5,86.4L469.4,87.3L468.4,88.8L467.5,90.5L467.0,92.1L466.8,93.3L466.9,93.8ZM476.5,96.8L477.5,96.7L478.5,95.7L479.6,94.3L480.4,92.5L481.0,90.9L481.2,89.7L481.1,89.2L478.1,88.3L477.2,88.5L476.1,89.4L475.1,90.9L474.2,92.6L473.6,94.2L473.4,95.4L473.5,95.9ZM483.2,98.9L484.1,98.7L485.2,97.8L486.2,96.3L487.1,94.6L487.6,93.0L487.9,91.8L487.7,91.3L484.8,90.4L483.8,90.5L482.8,91.5L481.7,92.9L480.9,94.7L480.3,96.3L480.1,97.5L480.2,98.0Z" fill="#1f5dd6" stroke="#123780" stroke-width="0.35" stroke-opacity="0.6"/>
<path d="M468.9,93.7L469.4,92.9L470.0,91.8L470.6,90.5M475.6,95.8L476.1,95.0L476.7,93.8L477.3,92.6M482.3,97.9L482.8,97.1L483.3,95.9L484.0,94.6" stroke="#628de2" stroke-width="1.63" fill="none" stroke-linecap="round" stroke-opacity="0.55"/>
<path d="M467.8,100.9L469.0,101.5L470.0,102.9L470.7,104.7L471.2,106.7L471.4,108.5L471.6,109.7L471.8,110.2L469.1,109.8L467.9,109.1L466.9,107.8L466.2,105.9L465.7,103.9L465.4,102.1L465.2,100.9L465.0,100.4ZM475.5,102.1L476.7,102.7L477.7,104.1L478.4,106.0L478.9,108.0L479.2,109.8L479.3,111.0L479.5,111.5L476.8,111.0L475.6,110.4L474.6,109.0L473.9,107.2L473.4,105.2L473.1,103.4L473.0,102.1L472.7,101.7ZM483.2,103.4L484.4,104.0L485.4,105.4L486.1,107.2L486.6,109.2L486.9,111.0L487.0,112.2L487.3,112.7L484.5,112.3L483.3,111.6L482.3,110.3L481.6,108.4L481.1,106.4L480.8,104.6L480.7,103.4L480.5,102.9Z" fill="#123780"/>
<path d="M462.9,108.8L463.9,108.5L464.9,107.5L465.8,105.9L466.5,104.0L466.8,102.3L466.8,101.1L466.6,100.7L463.2,100.1L462.2,100.4L461.1,101.4L460.3,103.0L459.6,104.9L459.3,106.5L459.3,107.7L459.5,108.2ZM470.6,110.0L471.6,109.8L472.6,108.7L473.5,107.1L474.2,105.3L474.5,103.6L474.5,102.4L474.3,101.9L470.9,101.4L469.9,101.6L468.9,102.7L468.0,104.3L467.3,106.1L467.0,107.8L467.0,109.0L467.2,109.5ZM478.3,111.3L479.3,111.0L480.4,110.0L481.2,108.4L481.9,106.5L482.2,104.8L482.2,103.6L482.0,103.2L478.6,102.6L477.6,102.9L476.6,103.9L475.7,105.5L475.0,107.4L474.7,109.0L474.7,110.2L474.9,110.7Z" fill="#1f5dd6" stroke="#123780" stroke-width="0.35" stroke-opacity="0.6"/>
<path d="M461.7,107.9L462.1,107.0L462.6,105.8L463.0,104.4M469.4,109.1L469.8,108.2L470.3,107.0L470.8,105.7M477.1,110.4L477.5,109.5L478.0,108.3L478.5,106.9" stroke="#628de2" stroke-width="1.83" fill="none" stroke-linecap="round" stroke-opacity="0.55"/>
<path d="M459.4,111.4L460.5,111.5L461.7,112.3L462.9,113.6L463.9,115.2L464.8,116.6L465.4,117.6L465.7,117.9L463.5,118.5L462.4,118.4L461.2,117.6L460.0,116.2L458.9,114.7L458.1,113.3L457.5,112.3L457.2,112.0ZM465.4,109.7L466.5,109.8L467.7,110.6L468.9,112.0L470.0,113.5L470.8,114.9L471.4,115.9L471.7,116.2L469.6,116.8L468.5,116.7L467.3,115.9L466.1,114.6L465.0,113.0L464.1,111.6L463.5,110.7L463.2,110.3ZM471.4,108.1L472.5,108.2L473.7,109.0L474.9,110.3L476.0,111.8L476.9,113.2L477.5,114.2L477.8,114.5L475.6,115.1L474.5,115.0L473.3,114.2L472.1,112.9L471.0,111.4L470.2,110.0L469.6,109.0L469.3,108.7Z" fill="#123780"/>
<path d="M458.7,119.8L459.3,119.2L459.7,118.0L459.7,116.3L459.5,114.5L459.1,113.0L458.7,112.0L458.4,111.7L455.7,112.4L455.1,113.0L454.7,114.2L454.7,115.9L454.9,117.7L455.3,119.2L455.7,120.2L456.0,120.5ZM464.7,118.1L465.4,117.6L465.7,116.3L465.8,114.7L465.6,112.9L465.2,111.3L464.8,110.3L464.4,110.0L461.8,110.7L461.1,111.3L460.8,112.6L460.7,114.2L460.9,116.0L461.3,117.5L461.7,118.6L462.1,118.9ZM470.8,116.5L471.4,115.9L471.8,114.7L471.8,113.0L471.6,111.2L471.2,109.7L470.8,108.6L470.5,108.3L467.8,109.1L467.2,109.7L466.8,110.9L466.8,112.6L467.0,114.3L467.4,115.9L467.8,116.9L468.1,117.2Z" fill="#1f5dd6" stroke="#123780" stroke-width="0.35" stroke-opacity="0.6"/>
<path d="M457.5,119.5L457.5,118.6L457.4,117.4L457.2,116.1M463.6,117.8L463.5,116.9L463.4,115.7L463.2,114.4M469.6,116.2L469.6,115.3L469.4,114.1L469.3,112.8" stroke="#628de2" stroke-width="1.47" fill="none" stroke-linecap="round" stroke-opacity="0.55"/>
<path d="M479.9,110.6L480.8,111.3L481.3,112.7L481.5,114.5L481.5,116.4L481.4,118.0L481.3,119.2L481.4,119.6L479.2,118.8L478.3,118.0L477.8,116.7L477.6,114.9L477.6,113.0L477.7,111.4L477.8,110.2L477.8,109.8ZM486.0,112.9L486.8,113.6L487.4,115.0L487.6,116.8L487.6,118.7L487.4,120.3L487.3,121.5L487.4,121.9L485.2,121.1L484.4,120.3L483.8,119.0L483.6,117.2L483.7,115.3L483.8,113.6L483.9,112.5L483.8,112.1ZM492.0,115.2L492.9,115.9L493.4,117.3L493.6,119.1L493.6,121.0L493.5,122.6L493.4,123.7L493.4,124.2L491.3,123.4L490.4,122.6L489.9,121.2L489.7,119.5L489.7,117.6L489.8,115.9L489.9,114.8L489.8,114.3Z" fill="#123780"/>
<path d="M474.4,117.0L475.2,116.9L476.3,116.1L477.3,114.8L478.2,113.2L478.8,111.8L479.1,110.7L479.0,110.2L476.3,109.2L475.4,109.3L474.4,110.1L473.4,111.4L472.5,112.9L471.9,114.4L471.6,115.5L471.7,115.9ZM480.4,119.3L481.3,119.2L482.3,118.4L483.4,117.1L484.2,115.5L484.9,114.0L485.1,113.0L485.0,112.5L482.3,111.5L481.5,111.6L480.4,112.4L479.4,113.7L478.5,115.2L477.9,116.7L477.6,117.8L477.7,118.2ZM486.5,121.5L487.3,121.5L488.4,120.7L489.4,119.4L490.3,117.8L490.9,116.3L491.2,115.3L491.1,114.8L488.4,113.8L487.5,113.9L486.5,114.7L485.4,116.0L484.6,117.5L483.9,119.0L483.7,120.1L483.8,120.5Z" fill="#1f5dd6" stroke="#123780" stroke-width="0.35" stroke-opacity="0.6"/>
<path d="M473.6,116.0L474.1,115.2L474.7,114.2L475.3,113.1M479.6,118.3L480.1,117.5L480.7,116.5L481.4,115.4M485.6,120.6L486.2,119.8L486.8,118.8L487.4,117.7" stroke="#628de2" stroke-width="1.51" fill="none" stroke-linecap="round" stroke-opacity="0.55"/>
<path d="M483.7,99.5L483.6,100.5L482.9,101.6L481.7,102.6L480.4,103.5L479.2,104.1L478.4,104.6L478.1,104.9L477.7,102.9L477.8,101.9L478.5,100.8L479.6,99.8L480.9,98.9L482.1,98.2L483.0,97.8L483.3,97.5ZM485.0,105.1L484.8,106.1L484.1,107.2L483.0,108.2L481.7,109.1L480.5,109.8L479.6,110.2L479.4,110.5L478.9,108.5L479.0,107.5L479.7,106.4L480.9,105.4L482.2,104.5L483.4,103.9L484.2,103.4L484.5,103.1ZM486.2,110.8L486.1,111.8L485.4,112.8L484.2,113.8L482.9,114.7L481.7,115.4L480.9,115.9L480.6,116.1L480.2,114.1L480.3,113.1L481.0,112.1L482.1,111.1L483.4,110.2L484.6,109.5L485.5,109.0L485.8,108.7ZM487.5,116.4L487.3,117.4L486.6,118.4L485.5,119.4L484.2,120.3L483.0,121.0L482.1,121.5L481.9,121.8L481.4,119.7L481.5,118.7L482.2,117.7L483.4,116.7L484.7,115.8L485.9,115.1L486.7,114.6L487.0,114.4Z" fill="#0d255d"/>
<path d="M476.7,98.4L477.1,99.0L478.2,99.4L479.6,99.5L481.1,99.5L482.4,99.2L483.2,98.9L483.5,98.6L483.0,96.1L482.5,95.5L481.4,95.1L480.1,95.0L478.6,95.0L477.3,95.3L476.4,95.6L476.1,95.9ZM477.9,104.0L478.4,104.6L479.4,105.0L480.8,105.2L482.3,105.1L483.6,104.8L484.5,104.5L484.8,104.3L484.2,101.7L483.7,101.1L482.7,100.7L481.3,100.6L479.8,100.7L478.5,100.9L477.6,101.2L477.4,101.5ZM479.2,109.6L479.6,110.2L480.7,110.6L482.1,110.8L483.6,110.7L484.9,110.5L485.7,110.2L486.0,109.9L485.5,107.4L485.0,106.8L483.9,106.4L482.6,106.2L481.1,106.3L479.8,106.5L478.9,106.8L478.6,107.1ZM480.4,115.3L480.9,115.9L481.9,116.3L483.3,116.4L484.8,116.3L486.1,116.1L487.0,115.8L487.3,115.5L486.7,113.0L486.2,112.4L485.2,112.0L483.8,111.8L482.3,111.9L481.0,112.2L480.1,112.5L479.9,112.7Z" fill="#163f9c" stroke="#0d255d" stroke-width="0.35" stroke-opacity="0.6"/>
<path d="M477.0,97.3L477.7,97.3L478.7,97.3L479.8,97.3M478.2,102.9L479.0,103.0L480.0,102.9L481.1,102.9M479.5,108.6L480.2,108.6L481.2,108.6L482.3,108.5M480.7,114.2L481.5,114.2L482.5,114.2L483.6,114.1" stroke="#5b78b9" stroke-width="1.35" fill="none" stroke-linecap="round" stroke-opacity="0.55"/>
<path d="M468.2,79.6L468.9,80.2L469.4,81.4L469.6,83.0L469.6,84.7L469.6,86.2L469.5,87.3L469.6,87.7L467.7,87.1L467.0,86.4L466.5,85.2L466.3,83.6L466.2,81.9L466.3,80.4L466.4,79.4L466.3,79.0ZM473.4,81.2L474.1,81.8L474.6,83.1L474.8,84.7L474.8,86.4L474.8,87.9L474.7,88.9L474.8,89.3L472.9,88.7L472.2,88.1L471.7,86.9L471.5,85.3L471.4,83.6L471.5,82.1L471.6,81.0L471.5,80.6ZM478.6,82.9L479.3,83.5L479.8,84.7L480.0,86.3L480.1,88.0L480.0,89.5L479.9,90.6L480.0,91.0L478.1,90.4L477.4,89.8L476.9,88.6L476.7,87.0L476.7,85.3L476.7,83.7L476.8,82.7L476.7,82.3Z" fill="#123780"/>
<path d="M463.6,85.7L464.3,85.6L465.2,84.8L466.0,83.5L466.7,82.1L467.2,80.7L467.4,79.7L467.3,79.3L465.0,78.6L464.3,78.7L463.4,79.5L462.6,80.7L461.8,82.2L461.4,83.6L461.2,84.6L461.2,85.0ZM468.8,87.4L469.5,87.3L470.4,86.5L471.2,85.2L471.9,83.7L472.4,82.4L472.6,81.4L472.6,81.0L470.2,80.2L469.5,80.4L468.6,81.1L467.8,82.4L467.1,83.9L466.6,85.3L466.4,86.3L466.4,86.7ZM474.0,89.1L474.7,88.9L475.6,88.1L476.4,86.9L477.2,85.4L477.6,84.0L477.8,83.0L477.8,82.6L475.4,81.9L474.7,82.0L473.8,82.8L473.0,84.1L472.3,85.5L471.8,86.9L471.6,87.9L471.7,88.3Z" fill="#1f5dd6" stroke="#123780" stroke-width="0.35" stroke-opacity="0.6"/>
<path d="M462.9,84.9L463.3,84.2L463.8,83.2L464.3,82.1M468.1,86.6L468.5,85.9L469.0,84.9L469.5,83.8M473.3,88.2L473.7,87.5L474.2,86.6L474.7,85.5" stroke="#628de2" stroke-width="1.28" fill="none" stroke-linecap="round" stroke-opacity="0.55"/>
<path d="M400.0,89.0L400.0,89.6L400.1,90.2L400.3,90.9L400.7,91.5L401.5,91.9L402.5,92.2L403.6,92.4L404.4,92.9L404.8,93.7L405.0,94.6L405.2,95.7L405.5,96.6L406.0,97.3L406.8,97.6L407.7,97.7L408.7,97.6L409.6,97.6L410.4,97.8L411.0,98.4L411.4,99.2L411.8,100.1L412.3,100.9L412.8,101.5L413.6,101.7L414.5,101.7L415.4,101.6L416.4,101.5L417.2,101.6L417.8,102.0L418.3,102.7L418.8,103.5L419.2,104.3L419.7,104.9L420.4,105.3L421.1,105.3L421.9,105.3L422.7,105.1L423.5,105.0L424.2,105.0L424.8,105.3L425.3,105.8L425.7,106.4L426.0,107.1L426.3,107.7L426.6,108.2L426.9,108.5L427.3,108.7L427.6,108.9" stroke="#e8913a" stroke-width="2.25" fill="none" stroke-linecap="round" stroke-linejoin="round"/>
<path d="M400.0,89.0L400.0,89.6L400.1,90.2L400.3,90.9L400.7,91.5L401.5,91.9L402.5,92.2L403.6,92.4L404.4,92.9L404.8,93.7L405.0,94.6L405.2,95.7L405.5,96.6L406.0,97.3L406.8,97.6L407.7,97.7L408.7,97.6L409.6,97.6L410.4,97.8L411.0,98.4L411.4,99.2L411.8,100.1L412.3,100.9L412.8,101.5L413.6,101.7L414.5,101.7L415.4,101.6L416.4,101.5L417.2,101.6L417.8,102.0L418.3,102.7L418.8,103.5L419.2,104.3L419.7,104.9L420.4,105.3L421.1,105.3L421.9,105.3L422.7,105.1L423.5,105.0L424.2,105.0L424.8,105.3L425.3,105.8L425.7,106.4L426.0,107.1L426.3,107.7L426.6,108.2L426.9,108.5L427.3,108.7L427.6,108.9" stroke="#e8913a" stroke-width="3.75" fill="none" stroke-dasharray="3.60 4.40"/>
<path d="M400.0,89.0L400.0,89.6L400.1,90.2L400.3,90.9L400.7,91.5L401.5,91.9L402.5,92.2L403.6,92.4L404.4,92.9L404.8,93.7L405.0,94.6L405.2,95.7L405.5,96.6L406.0,97.3L406.8,97.6L407.7,97.7L408.7,97.6L409.6,97.6L410.4,97.8L411.0,98.4L411.4,99.2L411.8,100.1L412.3,100.9L412.8,101.5L413.6,101.7L414.5,101.7L415.4,101.6L416.4,101.5L417.2,101.6L417.8,102.0L418.3,102.7L418.8,103.5L419.2,104.3L419.7,104.9L420.4,105.3L421.1,105.3L421.9,105.3L422.7,105.1L423.5,105.0L424.2,105.0L424.8,105.3L425.3,105.8L425.7,106.4L426.0,107.1L426.3,107.7L426.6,108.2L426.9,108.5L427.3,108.7L427.6,108.9" stroke="#7f4f1f" stroke-width="3.30" fill="none" stroke-dasharray="0.7 7.30" stroke-dashoffset="-3.60" stroke-opacity="0.75"/>
<path d="M428.0,108.0L428.1,108.5L428.2,109.0L428.5,109.6L428.9,110.1L429.5,110.5L430.4,110.7L431.3,110.9L432.2,111.1L432.9,111.6L433.4,112.3L433.6,113.3L433.8,114.2L434.0,115.1L434.5,115.8L435.2,116.3L436.3,116.6L437.3,116.9L438.2,117.4L438.7,118.2L438.9,119.3L439.0,120.3L439.3,121.3L439.8,122.0L440.6,122.4L441.5,122.6L442.4,122.8L443.2,123.2L443.7,123.7L444.1,124.3L444.3,125.2L444.4,126.0L444.7,126.8L445.0,127.4L445.5,127.8L446.1,128.1L446.8,128.2L447.5,128.3L448.2,128.3L448.8,128.4L449.4,128.6L449.8,128.9L450.2,129.3L450.5,129.8L450.7,130.3L451.0,130.8L451.2,131.2L451.4,131.5L451.6,131.7" stroke="#f0df3c" stroke-width="2.10" fill="none" stroke-linecap="round" stroke-linejoin="round"/>
<path d="M428.0,108.0L428.1,108.5L428.2,109.0L428.5,109.6L428.9,110.1L429.5,110.5L430.4,110.7L431.3,110.9L432.2,111.1L432.9,111.6L433.4,112.3L433.6,113.3L433.8,114.2L434.0,115.1L434.5,115.8L435.2,116.3L436.3,116.6L437.3,116.9L438.2,117.4L438.7,118.2L438.9,119.3L439.0,120.3L439.3,121.3L439.8,122.0L440.6,122.4L441.5,122.6L442.4,122.8L443.2,123.2L443.7,123.7L444.1,124.3L444.3,125.2L444.4,126.0L444.7,126.8L445.0,127.4L445.5,127.8L446.1,128.1L446.8,128.2L447.5,128.3L448.2,128.3L448.8,128.4L449.4,128.6L449.8,128.9L450.2,129.3L450.5,129.8L450.7,130.3L451.0,130.8L451.2,131.2L451.4,131.5L451.6,131.7" stroke="#f0df3c" stroke-width="3.50" fill="none" stroke-dasharray="3.60 4.40"/>
<path d="M428.0,108.0L428.1,108.5L428.2,109.0L428.5,109.6L428.9,110.1L429.5,110.5L430.4,110.7L431.3,110.9L432.2,111.1L432.9,111.6L433.4,112.3L433.6,113.3L433.8,114.2L434.0,115.1L434.5,115.8L435.2,116.3L436.3,116.6L437.3,116.9L438.2,117.4L438.7,118.2L438.9,119.3L439.0,120.3L439.3,121.3L439.8,122.0L440.6,122.4L441.5,122.6L442.4,122.8L443.2,123.2L443.7,123.7L444.1,124.3L444.3,125.2L444.4,126.0L444.7,126.8L445.0,127.4L445.5,127.8L446.1,128.1L446.8,128.2L447.5,128.3L448.2,128.3L448.8,128.4L449.4,128.6L449.8,128.9L450.2,129.3L450.5,129.8L450.7,130.3L451.0,130.8L451.2,131.2L451.4,131.5L451.6,131.7" stroke="#847a21" stroke-width="3.08" fill="none" stroke-dasharray="0.7 7.30" stroke-dashoffset="-3.60" stroke-opacity="0.75"/>
<circle cx="463.5" cy="139.5" r="4" stroke="#4cc0e4" stroke-width="2.6" fill="none"/>
<path d="M459.5,139.5 A4,4 0 0 0 463.5,143.5" stroke="#2a8cae" stroke-width="2.6" fill="none"/>
<path d="M466.0,145.0L466.1,145.4L466.2,146.0L466.5,146.5L466.9,147.0L467.5,147.4L468.3,147.6L469.1,147.8L470.0,147.9L470.7,148.2L471.3,148.6L471.7,149.2L472.0,149.9L472.5,150.6L473.0,151.2L473.6,151.6L474.3,151.7L475.1,151.6L475.9,151.3L476.6,151.0L477.4,150.8L478.1,150.8L478.8,151.0L479.4,151.5L480.0,152.1L480.6,152.6L481.2,153.0L481.9,153.2L482.6,153.1L483.3,152.8L484.0,152.4L484.7,152.0L485.4,151.8L486.1,151.8L486.8,152.1L487.4,152.6L488.0,153.1L488.5,153.7L489.1,154.1L489.8,154.3L490.5,154.3L491.3,154.1L492.1,153.8L492.9,153.6L493.6,153.6L494.3,153.8L494.8,154.2L495.4,154.8L496.0,155.3L496.5,155.7L497.1,156.0L497.8,156.1L498.4,156.0L499.1,155.7L499.7,155.3L500.3,155.0L500.8,154.7L501.3,154.5L501.8,154.5L502.3,154.6L502.9,154.7L503.5,154.8L504.2,154.8L504.9,154.6L505.4,154.3L505.9,153.9L506.1,153.3L506.3,152.6L506.3,151.9L506.4,151.1L506.6,150.4L506.9,149.9L507.4,149.5L508.1,149.2L508.8,149.0L509.6,148.8L510.2,148.5L510.8,148.0L511.1,147.4L511.3,146.7L511.4,145.9L511.4,145.1L511.6,144.4L512.0,143.8L512.4,143.4L513.0,143.1L513.7,143.0L514.5,142.9L515.2,142.8L515.8,142.6L516.3,142.3L516.7,141.9L517.0,141.4L517.2,140.8L517.4,140.3L517.5,139.9L517.7,139.6" stroke="#f0df3c" stroke-width="2.17" fill="none" stroke-linecap="round" stroke-linejoin="round"/>
<path d="M466.0,145.0L466.1,145.4L466.2,146.0L466.5,146.5L466.9,147.0L467.5,147.4L468.3,147.6L469.1,147.8L470.0,147.9L470.7,148.2L471.3,148.6L471.7,149.2L472.0,149.9L472.5,150.6L473.0,151.2L473.6,151.6L474.3,151.7L475.1,151.6L475.9,151.3L476.6,151.0L477.4,150.8L478.1,150.8L478.8,151.0L479.4,151.5L480.0,152.1L480.6,152.6L481.2,153.0L481.9,153.2L482.6,153.1L483.3,152.8L484.0,152.4L484.7,152.0L485.4,151.8L486.1,151.8L486.8,152.1L487.4,152.6L488.0,153.1L488.5,153.7L489.1,154.1L489.8,154.3L490.5,154.3L491.3,154.1L492.1,153.8L492.9,153.6L493.6,153.6L494.3,153.8L494.8,154.2L495.4,154.8L496.0,155.3L496.5,155.7L497.1,156.0L497.8,156.1L498.4,156.0L499.1,155.7L499.7,155.3L500.3,155.0L500.8,154.7L501.3,154.5L501.8,154.5L502.3,154.6L502.9,154.7L503.5,154.8L504.2,154.8L504.9,154.6L505.4,154.3L505.9,153.9L506.1,153.3L506.3,152.6L506.3,151.9L506.4,151.1L506.6,150.4L506.9,149.9L507.4,149.5L508.1,149.2L508.8,149.0L509.6,148.8L510.2,148.5L510.8,148.0L511.1,147.4L511.3,146.7L511.4,145.9L511.4,145.1L511.6,144.4L512.0,143.8L512.4,143.4L513.0,143.1L513.7,143.0L514.5,142.9L515.2,142.8L515.8,142.6L516.3,142.3L516.7,141.9L517.0,141.4L517.2,140.8L517.4,140.3L517.5,139.9L517.7,139.6" stroke="#f0df3c" stroke-width="3.62" fill="none" stroke-dasharray="3.60 4.40"/>
<path d="M466.0,145.0L466.1,145.4L466.2,146.0L466.5,146.5L466.9,147.0L467.5,147.4L468.3,147.6L469.1,147.8L470.0,147.9L470.7,148.2L471.3,148.6L471.7,149.2L472.0,149.9L472.5,150.6L473.0,151.2L473.6,151.6L474.3,151.7L475.1,151.6L475.9,151.3L476.6,151.0L477.4,150.8L478.1,150.8L478.8,151.0L479.4,151.5L480.0,152.1L480.6,152.6L481.2,153.0L481.9,153.2L482.6,153.1L483.3,152.8L484.0,152.4L484.7,152.0L485.4,151.8L486.1,151.8L486.8,152.1L487.4,152.6L488.0,153.1L488.5,153.7L489.1,154.1L489.8,154.3L490.5,154.3L491.3,154.1L492.1,153.8L492.9,153.6L493.6,153.6L494.3,153.8L494.8,154.2L495.4,154.8L496.0,155.3L496.5,155.7L497.1,156.0L497.8,156.1L498.4,156.0L499.1,155.7L499.7,155.3L500.3,155.0L500.8,154.7L501.3,154.5L501.8,154.5L502.3,154.6L502.9,154.7L503.5,154.8L504.2,154.8L504.9,154.6L505.4,154.3L505.9,153.9L506.1,153.3L506.3,152.6L506.3,151.9L506.4,151.1L506.6,150.4L506.9,149.9L507.4,149.5L508.1,149.2L508.8,149.0L509.6,148.8L510.2,148.5L510.8,148.0L511.1,147.4L511.3,146.7L511.4,145.9L511.4,145.1L511.6,144.4L512.0,143.8L512.4,143.4L513.0,143.1L513.7,143.0L514.5,142.9L515.2,142.8L515.8,142.6L516.3,142.3L516.7,141.9L517.0,141.4L517.2,140.8L517.4,140.3L517.5,139.9L517.7,139.6" stroke="#847a21" stroke-width="3.19" fill="none" stroke-dasharray="0.7 7.30" stroke-dashoffset="-3.60" stroke-opacity="0.75"/>
<path d="M495.0,131.0L495.1,131.6L495.3,132.3L495.9,132.6L496.9,132.6L498.0,132.6L498.7,133.1L498.9,134.2L499.1,135.3L499.8,135.8L501.0,135.8L502.0,135.9L502.5,136.5L502.5,137.5L502.5,138.4L502.8,139.1L503.5,139.4L504.4,139.5L505.2,139.6L505.7,140.1L505.8,140.8L505.7,141.7L505.7,142.5L506.0,143.0L506.6,143.3L507.5,143.4L508.3,143.5L508.8,143.9L508.9,144.6L508.8,145.5L508.8,146.3L509.0,146.8L509.5,147.1L510.2,147.2L510.8,147.3L511.3,147.4L511.6,147.5" stroke="#f0df3c" stroke-width="1.95" fill="none" stroke-linecap="round" stroke-linejoin="round"/>
<path d="M495.0,131.0L495.1,131.6L495.3,132.3L495.9,132.6L496.9,132.6L498.0,132.6L498.7,133.1L498.9,134.2L499.1,135.3L499.8,135.8L501.0,135.8L502.0,135.9L502.5,136.5L502.5,137.5L502.5,138.4L502.8,139.1L503.5,139.4L504.4,139.5L505.2,139.6L505.7,140.1L505.8,140.8L505.7,141.7L505.7,142.5L506.0,143.0L506.6,143.3L507.5,143.4L508.3,143.5L508.8,143.9L508.9,144.6L508.8,145.5L508.8,146.3L509.0,146.8L509.5,147.1L510.2,147.2L510.8,147.3L511.3,147.4L511.6,147.5" stroke="#f0df3c" stroke-width="3.25" fill="none" stroke-dasharray="2.25 2.75"/>
<path d="M495.0,131.0L495.1,131.6L495.3,132.3L495.9,132.6L496.9,132.6L498.0,132.6L498.7,133.1L498.9,134.2L499.1,135.3L499.8,135.8L501.0,135.8L502.0,135.9L502.5,136.5L502.5,137.5L502.5,138.4L502.8,139.1L503.5,139.4L504.4,139.5L505.2,139.6L505.7,140.1L505.8,140.8L505.7,141.7L505.7,142.5L506.0,143.0L506.6,143.3L507.5,143.4L508.3,143.5L508.8,143.9L508.9,144.6L508.8,145.5L508.8,146.3L509.0,146.8L509.5,147.1L510.2,147.2L510.8,147.3L511.3,147.4L511.6,147.5" stroke="#847a21" stroke-width="2.86" fill="none" stroke-dasharray="0.7 4.30" stroke-dashoffset="-2.25" stroke-opacity="0.75"/>
<ellipse cx="510" cy="149" rx="6" ry="4.5" fill="#f0df3c"/>
<ellipse cx="507" cy="151" rx="3" ry="2" fill="#e8913a"/>
<path d="M465.2,153.8L464.4,154.7L463.0,155.1L461.3,155.2L459.5,155.1L458.0,154.8L456.9,154.7L456.5,154.7L457.6,152.6L458.4,151.7L459.8,151.3L461.5,151.2L463.3,151.3L464.8,151.6L465.9,151.7L466.3,151.7ZM462.2,159.8L461.4,160.7L460.0,161.1L458.3,161.2L456.5,161.1L455.0,160.8L453.9,160.7L453.5,160.7L454.6,158.6L455.4,157.7L456.8,157.3L458.5,157.2L460.3,157.3L461.8,157.6L462.9,157.7L463.3,157.7ZM459.2,165.8L458.4,166.7L457.0,167.1L455.3,167.2L453.5,167.1L452.0,166.8L450.9,166.7L450.5,166.7L451.6,164.6L452.4,163.7L453.8,163.3L455.5,163.2L457.3,163.3L458.8,163.6L459.9,163.7L460.3,163.7ZM456.2,171.8L455.4,172.7L454.0,173.1L452.3,173.2L450.5,173.1L449.0,172.8L447.9,172.7L447.5,172.7L448.6,170.6L449.4,169.7L450.8,169.3L452.5,169.2L454.3,169.3L455.8,169.6L456.9,169.7L457.3,169.7Z" fill="#8b5722"/>
<path d="M460.0,147.8L459.9,148.7L460.5,149.8L461.6,150.9L463.0,151.9L464.3,152.6L465.3,152.9L465.7,152.9L467.0,150.2L467.1,149.3L466.5,148.2L465.4,147.1L464.0,146.1L462.7,145.4L461.7,145.1L461.3,145.1ZM457.0,153.8L456.9,154.7L457.5,155.8L458.6,156.9L460.0,157.9L461.3,158.6L462.3,158.9L462.7,158.9L464.0,156.2L464.1,155.3L463.5,154.2L462.4,153.1L461.0,152.1L459.7,151.4L458.7,151.1L458.3,151.1ZM454.0,159.8L453.9,160.7L454.5,161.8L455.6,162.9L457.0,163.9L458.3,164.6L459.3,164.9L459.7,164.9L461.0,162.2L461.1,161.3L460.5,160.2L459.4,159.1L458.0,158.1L456.7,157.4L455.7,157.1L455.3,157.1ZM451.0,165.8L450.9,166.7L451.5,167.8L452.6,168.9L454.0,169.9L455.3,170.6L456.3,170.9L456.7,170.9L458.0,168.2L458.1,167.3L457.5,166.2L456.4,165.1L455.0,164.1L453.7,163.4L452.7,163.1L452.3,163.1Z" fill="#e8913a" stroke="#8b5722" stroke-width="0.35" stroke-opacity="0.6"/>
<path d="M461.0,147.0L461.6,147.6L462.5,148.3L463.5,149.0M458.0,153.0L458.6,153.6L459.5,154.3L460.5,155.0M455.0,159.0L455.6,159.6L456.5,160.3L457.5,161.0M452.0,165.0L452.6,165.6L453.5,166.3L454.5,167.0" stroke="#eeb275" stroke-width="1.57" fill="none" stroke-linecap="round" stroke-opacity="0.55"/>
<path d="M452.0,171.0L451.6,171.5L451.3,172.0L451.0,172.7L450.9,173.5L451.2,174.3L451.8,175.3L452.4,176.2L452.7,177.1L452.6,178.1L452.0,179.1L451.5,180.1L451.1,181.2L451.2,182.1L451.8,183.0L452.7,183.8L453.6,184.5L454.2,185.4L454.2,186.5L453.9,187.7L453.6,189.0L453.8,190.1L454.5,191.0L455.7,191.8L456.8,192.7L457.3,193.8L457.1,195.3L456.7,196.9L457.0,198.3L458.2,199.3L459.6,200.3L460.4,201.5L460.3,203.1L460.1,204.8L460.7,206.2L462.0,207.0L463.5,207.6L464.6,208.4L465.0,209.9L465.3,211.6L466.1,212.8L467.6,213.3L469.4,213.5L470.6,214.1L471.4,215.6L472.0,217.2L473.1,218.2L474.7,218.4L476.4,218.4L477.7,218.9L478.6,220.3L479.4,221.9L480.7,222.6L482.5,222.4L484.2,222.2L485.5,222.9L486.5,224.3L487.6,225.5L489.1,225.8L490.7,225.4L492.3,225.1L493.5,225.7L494.6,226.9L495.7,228.0L497.0,228.2L498.5,227.7L499.9,227.2L501.2,227.2L502.5,228.1L503.8,229.1L505.1,229.5L506.6,228.9L508.0,227.9L509.4,227.5L510.9,228.1L512.5,228.9L514.1,228.8L515.5,227.7L516.9,226.5L518.5,226.4L520.4,227.1L522.2,227.1L523.6,225.8L525.0,224.3L526.8,224.1L529.1,224.6L530.9,223.9L532.3,221.8L534.1,220.8L536.7,221.1L538.7,220.2L540.0,217.9L542.1,217.0L544.6,217.3L546.5,216.2L547.8,214.1L549.8,213.4L552.1,213.9L554.0,213.3L555.3,211.4L557.0,210.3L559.2,210.8L561.3,210.9L562.8,209.5L564.1,207.8L565.9,207.6L568.1,208.0L569.8,207.5L570.9,205.8L572.0,204.4L573.8,204.0L575.9,204.1L577.4,203.2L578.2,201.3L579.1,199.8L580.8,199.3L582.6,199.3L584.1,198.8L584.9,197.5L585.6,196.0L586.6,195.1L587.9,195.0L589.1,195.3L590.2,195.7L591.1,195.8L592.0,195.5L592.8,194.9L593.6,194.3L594.3,193.8L595.1,193.6L595.7,193.6L596.4,193.9L597.0,194.2L597.6,194.6L598.0,194.9L598.4,195.2L598.8,195.4L599.1,195.5L599.4,195.6L599.7,195.6L599.9,195.6L600.2,195.6L600.5,195.6L600.7,195.5L600.9,195.4" stroke="#e8913a" stroke-width="2.25" fill="none" stroke-linecap="round" stroke-linejoin="round"/>
<path d="M452.0,171.0L451.6,171.5L451.3,172.0L451.0,172.7L450.9,173.5L451.2,174.3L451.8,175.3L452.4,176.2L452.7,177.1L452.6,178.1L452.0,179.1L451.5,180.1L451.1,181.2L451.2,182.1L451.8,183.0L452.7,183.8L453.6,184.5L454.2,185.4L454.2,186.5L453.9,187.7L453.6,189.0L453.8,190.1L454.5,191.0L455.7,191.8L456.8,192.7L457.3,193.8L457.1,195.3L456.7,196.9L457.0,198.3L458.2,199.3L459.6,200.3L460.4,201.5L460.3,203.1L460.1,204.8L460.7,206.2L462.0,207.0L463.5,207.6L464.6,208.4L465.0,209.9L465.3,211.6L466.1,212.8L467.6,213.3L469.4,213.5L470.6,214.1L471.4,215.6L472.0,217.2L473.1,218.2L474.7,218.4L476.4,218.4L477.7,218.9L478.6,220.3L479.4,221.9L480.7,222.6L482.5,222.4L484.2,222.2L485.5,222.9L486.5,224.3L487.6,225.5L489.1,225.8L490.7,225.4L492.3,225.1L493.5,225.7L494.6,226.9L495.7,228.0L497.0,228.2L498.5,227.7L499.9,227.2L501.2,227.2L502.5,228.1L503.8,229.1L505.1,229.5L506.6,228.9L508.0,227.9L509.4,227.5L510.9,228.1L512.5,228.9L514.1,228.8L515.5,227.7L516.9,226.5L518.5,226.4L520.4,227.1L522.2,227.1L523.6,225.8L525.0,224.3L526.8,224.1L529.1,224.6L530.9,223.9L532.3,221.8L534.1,220.8L536.7,221.1L538.7,220.2L540.0,217.9L542.1,217.0L544.6,217.3L546.5,216.2L547.8,214.1L549.8,213.4L552.1,213.9L554.0,213.3L555.3,211.4L557.0,210.3L559.2,210.8L561.3,210.9L562.8,209.5L564.1,207.8L565.9,207.6L568.1,208.0L569.8,207.5L570.9,205.8L572.0,204.4L573.8,204.0L575.9,204.1L577.4,203.2L578.2,201.3L579.1,199.8L580.8,199.3L582.6,199.3L584.1,198.8L584.9,197.5L585.6,196.0L586.6,195.1L587.9,195.0L589.1,195.3L590.2,195.7L591.1,195.8L592.0,195.5L592.8,194.9L593.6,194.3L594.3,193.8L595.1,193.6L595.7,193.6L596.4,193.9L597.0,194.2L597.6,194.6L598.0,194.9L598.4,195.2L598.8,195.4L599.1,195.5L599.4,195.6L599.7,195.6L599.9,195.6L600.2,195.6L600.5,195.6L600.7,195.5L600.9,195.4" stroke="#e8913a" stroke-width="3.75" fill="none" stroke-dasharray="3.83 4.68"/>
<path d="M452.0,171.0L451.6,171.5L451.3,172.0L451.0,172.7L450.9,173.5L451.2,174.3L451.8,175.3L452.4,176.2L452.7,177.1L452.6,178.1L452.0,179.1L451.5,180.1L451.1,181.2L451.2,182.1L451.8,183.0L452.7,183.8L453.6,184.5L454.2,185.4L454.2,186.5L453.9,187.7L453.6,189.0L453.8,190.1L454.5,191.0L455.7,191.8L456.8,192.7L457.3,193.8L457.1,195.3L456.7,196.9L457.0,198.3L458.2,199.3L459.6,200.3L460.4,201.5L460.3,203.1L460.1,204.8L460.7,206.2L462.0,207.0L463.5,207.6L464.6,208.4L465.0,209.9L465.3,211.6L466.1,212.8L467.6,213.3L469.4,213.5L470.6,214.1L471.4,215.6L472.0,217.2L473.1,218.2L474.7,218.4L476.4,218.4L477.7,218.9L478.6,220.3L479.4,221.9L480.7,222.6L482.5,222.4L484.2,222.2L485.5,222.9L486.5,224.3L487.6,225.5L489.1,225.8L490.7,225.4L492.3,225.1L493.5,225.7L494.6,226.9L495.7,228.0L497.0,228.2L498.5,227.7L499.9,227.2L501.2,227.2L502.5,228.1L503.8,229.1L505.1,229.5L506.6,228.9L508.0,227.9L509.4,227.5L510.9,228.1L512.5,228.9L514.1,228.8L515.5,227.7L516.9,226.5L518.5,226.4L520.4,227.1L522.2,227.1L523.6,225.8L525.0,224.3L526.8,224.1L529.1,224.6L530.9,223.9L532.3,221.8L534.1,220.8L536.7,221.1L538.7,220.2L540.0,217.9L542.1,217.0L544.6,217.3L546.5,216.2L547.8,214.1L549.8,213.4L552.1,213.9L554.0,213.3L555.3,211.4L557.0,210.3L559.2,210.8L561.3,210.9L562.8,209.5L564.1,207.8L565.9,207.6L568.1,208.0L569.8,207.5L570.9,205.8L572.0,204.4L573.8,204.0L575.9,204.1L577.4,203.2L578.2,201.3L579.1,199.8L580.8,199.3L582.6,199.3L584.1,198.8L584.9,197.5L585.6,196.0L586.6,195.1L587.9,195.0L589.1,195.3L590.2,195.7L591.1,195.8L592.0,195.5L592.8,194.9L593.6,194.3L594.3,193.8L595.1,193.6L595.7,193.6L596.4,193.9L597.0,194.2L597.6,194.6L598.0,194.9L598.4,195.2L598.8,195.4L599.1,195.5L599.4,195.6L599.7,195.6L599.9,195.6L600.2,195.6L600.5,195.6L600.7,195.5L600.9,195.4" stroke="#7f4f1f" stroke-width="3.30" fill="none" stroke-dasharray="0.7 7.80" stroke-dashoffset="-3.83" stroke-opacity="0.75"/>
<path d="M534.4,131.8L535.5,132.3L536.5,133.5L537.4,135.1L538.0,136.9L538.4,138.5L538.7,139.7L538.9,140.1L536.4,140.0L535.3,139.5L534.3,138.3L533.4,136.7L532.8,134.9L532.4,133.3L532.1,132.1L531.9,131.7ZM541.4,132.2L542.5,132.6L543.5,133.8L544.4,135.4L545.0,137.2L545.4,138.9L545.7,140.0L545.9,140.4L543.4,140.3L542.3,139.8L541.3,138.7L540.4,137.0L539.8,135.2L539.4,133.6L539.1,132.5L538.9,132.1ZM548.4,132.5L549.5,133.0L550.5,134.1L551.4,135.8L552.0,137.6L552.4,139.2L552.7,140.3L552.9,140.7L550.4,140.6L549.3,140.2L548.3,139.0L547.4,137.4L546.8,135.6L546.4,133.9L546.1,132.8L545.9,132.4Z" fill="#2d7388"/>
<path d="M530.8,139.7L531.7,139.3L532.5,138.3L533.1,136.7L533.5,134.9L533.6,133.3L533.5,132.2L533.3,131.8L530.2,131.6L529.3,132.0L528.5,133.1L527.9,134.7L527.5,136.4L527.4,138.0L527.5,139.1L527.7,139.5ZM537.8,140.0L538.7,139.7L539.5,138.6L540.1,137.0L540.5,135.3L540.6,133.7L540.5,132.5L540.3,132.1L537.2,132.0L536.3,132.3L535.5,133.4L534.9,135.0L534.5,136.7L534.4,138.3L534.5,139.5L534.7,139.9ZM544.8,140.4L545.7,140.0L546.5,138.9L547.1,137.3L547.5,135.6L547.6,134.0L547.5,132.9L547.3,132.5L544.2,132.3L543.3,132.7L542.5,133.7L541.9,135.3L541.5,137.1L541.4,138.7L541.5,139.8L541.7,140.2Z" fill="#4cc0e4" stroke="#2d7388" stroke-width="0.35" stroke-opacity="0.6"/>
<path d="M529.7,139.0L529.9,138.1L530.2,137.0L530.5,135.7M536.7,139.3L536.9,138.5L537.2,137.3L537.5,136.0M543.7,139.7L543.9,138.8L544.2,137.6L544.5,136.3" stroke="#81d2ec" stroke-width="1.64" fill="none" stroke-linecap="round" stroke-opacity="0.55"/>
<path d="M556.4,134.5L557.5,135.3L558.2,136.7L558.7,138.5L559.0,140.4L559.0,142.2L559.1,143.4L559.2,143.8L556.7,143.1L555.6,142.4L554.8,141.0L554.3,139.2L554.1,137.2L554.0,135.5L554.0,134.3L553.8,133.8ZM563.5,136.5L564.6,137.2L565.4,138.6L565.8,140.4L566.1,142.4L566.1,144.1L566.2,145.3L566.3,145.8L563.8,145.1L562.7,144.4L561.9,143.0L561.5,141.1L561.2,139.2L561.2,137.4L561.1,136.3L561.0,135.8ZM570.6,138.4L571.7,139.1L572.5,140.5L572.9,142.4L573.2,144.3L573.2,146.1L573.3,147.2L573.4,147.7L570.9,147.0L569.8,146.3L569.0,144.9L568.6,143.1L568.3,141.1L568.3,139.4L568.2,138.2L568.1,137.7ZM577.7,140.4L578.8,141.1L579.6,142.5L580.1,144.3L580.3,146.3L580.4,148.0L580.4,149.2L580.6,149.7L578.0,149.0L576.9,148.2L576.2,146.8L575.7,145.0L575.4,143.1L575.4,141.3L575.3,140.1L575.2,139.7ZM584.9,142.3L585.9,143.0L586.7,144.4L587.2,146.3L587.4,148.2L587.5,149.9L587.5,151.1L587.7,151.6L585.1,150.9L584.0,150.2L583.3,148.8L582.8,147.0L582.6,145.0L582.5,143.3L582.4,142.1L582.3,141.6ZM592.0,144.3L593.0,145.0L593.8,146.4L594.3,148.2L594.5,150.2L594.6,151.9L594.6,153.1L594.8,153.5L592.2,152.8L591.2,152.1L590.4,150.7L589.9,148.9L589.7,146.9L589.6,145.2L589.5,144.0L589.4,143.6ZM599.1,146.2L600.1,146.9L600.9,148.3L601.4,150.2L601.6,152.1L601.7,153.8L601.7,155.0L601.9,155.5L599.3,154.8L598.3,154.1L597.5,152.7L597.0,150.8L596.8,148.9L596.7,147.2L596.7,146.0L596.5,145.5ZM606.2,148.2L607.2,148.9L608.0,150.3L608.5,152.1L608.7,154.1L608.8,155.8L608.9,157.0L609.0,157.4L606.4,156.7L605.4,156.0L604.6,154.6L604.1,152.8L603.9,150.8L603.8,149.1L603.8,147.9L603.6,147.5ZM613.3,150.1L614.4,150.8L615.1,152.2L615.6,154.0L615.8,156.0L615.9,157.7L616.0,158.9L616.1,159.4L613.5,158.7L612.5,158.0L611.7,156.6L611.2,154.7L611.0,152.8L610.9,151.1L610.9,149.9L610.7,149.4Z" fill="#123780"/>
<path d="M551.0,141.6L552.0,141.4L553.0,140.5L554.0,139.1L554.8,137.4L555.3,135.8L555.4,134.7L555.3,134.2L552.1,133.4L551.1,133.5L550.1,134.4L549.1,135.9L548.3,137.5L547.8,139.1L547.7,140.2L547.8,140.7ZM558.1,143.5L559.1,143.4L560.1,142.5L561.1,141.0L561.9,139.4L562.4,137.8L562.6,136.6L562.4,136.2L559.2,135.3L558.3,135.5L557.2,136.4L556.2,137.8L555.4,139.5L554.9,141.0L554.8,142.2L554.9,142.6ZM565.2,145.5L566.2,145.3L567.2,144.4L568.2,143.0L569.0,141.3L569.5,139.7L569.7,138.6L569.5,138.1L566.3,137.3L565.4,137.4L564.3,138.3L563.3,139.7L562.5,141.4L562.0,143.0L561.9,144.1L562.0,144.6ZM572.3,147.4L573.3,147.2L574.4,146.4L575.3,144.9L576.1,143.2L576.6,141.7L576.8,140.5L576.6,140.1L573.5,139.2L572.5,139.4L571.4,140.3L570.4,141.7L569.6,143.4L569.2,144.9L569.0,146.1L569.2,146.5ZM579.4,149.3L580.4,149.2L581.5,148.3L582.5,146.9L583.2,145.2L583.7,143.6L583.9,142.5L583.7,142.0L580.6,141.2L579.6,141.3L578.5,142.2L577.5,143.6L576.8,145.3L576.3,146.9L576.1,148.0L576.3,148.5ZM586.5,151.3L587.5,151.1L588.6,150.2L589.6,148.8L590.4,147.1L590.8,145.6L591.0,144.4L590.8,144.0L587.7,143.1L586.7,143.3L585.6,144.1L584.7,145.6L583.9,147.3L583.4,148.8L583.2,150.0L583.4,150.4ZM593.7,153.2L594.6,153.1L595.7,152.2L596.7,150.8L597.5,149.1L598.0,147.5L598.1,146.4L598.0,145.9L594.8,145.0L593.8,145.2L592.8,146.1L591.8,147.5L591.0,149.2L590.5,150.8L590.3,151.9L590.5,152.4ZM600.8,155.2L601.7,155.0L602.8,154.1L603.8,152.7L604.6,151.0L605.1,149.5L605.2,148.3L605.1,147.9L601.9,147.0L600.9,147.1L599.9,148.0L598.9,149.5L598.1,151.1L597.6,152.7L597.4,153.9L597.6,154.3ZM607.9,157.1L608.9,157.0L609.9,156.1L610.9,154.6L611.7,153.0L612.2,151.4L612.3,150.3L612.2,149.8L609.0,148.9L608.0,149.1L607.0,150.0L606.0,151.4L605.2,153.1L604.7,154.7L604.6,155.8L604.7,156.3Z" fill="#1f5dd6" stroke="#123780" stroke-width="0.35" stroke-opacity="0.6"/>
<path d="M550.0,140.6L550.4,139.8L551.0,138.7L551.6,137.5M557.1,142.6L557.5,141.7L558.1,140.7L558.7,139.4M564.2,144.5L564.7,143.7L565.2,142.6L565.8,141.4M571.3,146.5L571.8,145.6L572.3,144.5L572.9,143.3M578.4,148.4L578.9,147.6L579.4,146.5L580.0,145.2M585.5,150.3L586.0,149.5L586.5,148.4L587.1,147.2M592.6,152.3L593.1,151.5L593.6,150.4L594.2,149.1M599.7,154.2L600.2,153.4L600.8,152.3L601.3,151.1M606.8,156.2L607.3,155.4L607.9,154.3L608.4,153.0" stroke="#628de2" stroke-width="1.73" fill="none" stroke-linecap="round" stroke-opacity="0.55"/>
<path d="M620.5,155.3L621.3,156.3L621.5,157.9L621.4,159.8L620.9,161.6L620.4,163.3L620.0,164.4L620.0,164.8L617.9,163.3L617.1,162.2L616.9,160.7L617.0,158.8L617.5,156.9L618.0,155.3L618.4,154.2L618.4,153.7ZM626.5,159.7L627.3,160.7L627.5,162.3L627.4,164.2L626.9,166.0L626.4,167.7L626.0,168.8L626.0,169.2L623.9,167.7L623.1,166.6L622.9,165.1L623.0,163.2L623.5,161.3L624.0,159.7L624.4,158.6L624.4,158.1ZM632.5,164.1L633.3,165.1L633.5,166.7L633.4,168.6L632.9,170.4L632.4,172.1L632.0,173.2L632.0,173.6L629.9,172.1L629.1,171.0L628.9,169.5L629.0,167.6L629.5,165.7L630.0,164.1L630.4,163.0L630.4,162.5ZM638.5,168.5L639.3,169.5L639.5,171.1L639.4,173.0L638.9,174.8L638.4,176.5L638.0,177.6L638.0,178.0L635.9,176.5L635.1,175.4L634.9,173.9L635.0,172.0L635.5,170.1L636.0,168.5L636.4,167.4L636.4,166.9ZM644.5,172.9L645.3,173.9L645.5,175.5L645.4,177.4L644.9,179.2L644.4,180.9L644.0,182.0L644.0,182.4L641.9,180.9L641.1,179.8L640.9,178.3L641.0,176.4L641.5,174.5L642.0,172.9L642.4,171.8L642.4,171.3Z" fill="#2d7388"/>
<path d="M613.1,159.7L614.0,160.0L615.3,159.5L616.8,158.6L618.1,157.3L619.1,156.1L619.6,155.1L619.6,154.6L616.9,152.7L616.0,152.4L614.7,152.9L613.2,153.8L611.9,155.1L610.9,156.3L610.4,157.3L610.4,157.8ZM619.1,164.1L620.0,164.4L621.3,163.9L622.8,163.0L624.1,161.7L625.1,160.5L625.6,159.5L625.6,159.0L622.9,157.1L622.0,156.8L620.7,157.3L619.2,158.2L617.9,159.5L616.9,160.7L616.4,161.7L616.4,162.2ZM625.1,168.5L626.0,168.8L627.3,168.3L628.8,167.4L630.1,166.1L631.1,164.9L631.6,163.9L631.6,163.4L628.9,161.5L628.0,161.2L626.7,161.7L625.2,162.6L623.9,163.9L622.9,165.1L622.4,166.1L622.4,166.6ZM631.1,172.9L632.0,173.2L633.3,172.7L634.8,171.8L636.1,170.5L637.1,169.3L637.6,168.3L637.6,167.8L634.9,165.9L634.0,165.6L632.7,166.1L631.2,167.0L629.9,168.3L628.9,169.5L628.4,170.5L628.4,171.0ZM637.1,177.3L638.0,177.6L639.3,177.1L640.8,176.2L642.1,174.9L643.1,173.7L643.6,172.7L643.6,172.2L640.9,170.3L640.0,170.0L638.7,170.5L637.2,171.4L635.9,172.7L634.9,173.9L634.4,174.9L634.4,175.4Z" fill="#4cc0e4" stroke="#2d7388" stroke-width="0.35" stroke-opacity="0.6"/>
<path d="M612.4,158.5L613.1,157.9L614.0,157.1L615.0,156.2M618.4,162.9L619.1,162.3L620.0,161.5L621.0,160.6M624.4,167.3L625.1,166.7L626.0,165.9L627.0,165.0M630.4,171.7L631.1,171.1L632.0,170.3L633.0,169.4M636.4,176.1L637.1,175.5L638.0,174.7L639.0,173.8" stroke="#81d2ec" stroke-width="1.74" fill="none" stroke-linecap="round" stroke-opacity="0.55"/>
<path d="M650.4,175.7L651.3,176.5L651.9,177.9L652.2,179.7L652.2,181.5L652.0,183.0L651.9,184.1L652.0,184.6L649.6,183.5L648.7,182.7L648.1,181.3L647.8,179.5L647.8,177.7L648.0,176.2L648.1,175.1L648.0,174.6ZM657.1,178.7L658.0,179.5L658.6,180.9L658.8,182.7L658.8,184.5L658.7,186.0L658.6,187.1L658.7,187.6L656.3,186.5L655.3,185.7L654.8,184.3L654.5,182.5L654.5,180.7L654.6,179.2L654.7,178.1L654.7,177.6ZM663.7,181.7L664.7,182.5L665.2,183.9L665.5,185.7L665.5,187.5L665.4,189.0L665.3,190.1L665.3,190.6L662.9,189.5L662.0,188.7L661.4,187.3L661.2,185.5L661.2,183.7L661.3,182.2L661.4,181.1L661.3,180.6Z" fill="#2d7388"/>
<path d="M644.3,181.1L645.3,181.1L646.4,180.5L647.5,179.4L648.5,178.0L649.1,176.7L649.4,175.7L649.3,175.2L646.4,173.9L645.4,173.9L644.3,174.5L643.1,175.6L642.2,177.0L641.5,178.3L641.2,179.3L641.3,179.8ZM651.0,184.1L651.9,184.1L653.1,183.5L654.2,182.4L655.2,181.0L655.8,179.7L656.1,178.7L656.0,178.2L653.0,176.9L652.1,176.9L650.9,177.5L649.8,178.6L648.8,180.0L648.2,181.3L647.9,182.3L648.0,182.8ZM657.6,187.1L658.6,187.1L659.7,186.5L660.9,185.4L661.8,184.0L662.5,182.7L662.8,181.7L662.7,181.2L659.7,179.9L658.7,179.9L657.6,180.5L656.5,181.6L655.5,183.0L654.9,184.3L654.6,185.3L654.7,185.8Z" fill="#4cc0e4" stroke="#2d7388" stroke-width="0.35" stroke-opacity="0.6"/>
<path d="M643.4,180.1L644.0,179.4L644.6,178.5L645.3,177.5M650.1,183.1L650.6,182.4L651.3,181.5L652.0,180.5M656.7,186.1L657.3,185.4L658.0,184.5L658.7,183.5" stroke="#81d2ec" stroke-width="1.71" fill="none" stroke-linecap="round" stroke-opacity="0.55"/>
<path d="M532.2,142.0L533.3,142.7L534.1,144.0L534.7,145.8L535.0,147.8L535.2,149.5L535.3,150.7L535.5,151.1L532.9,150.6L531.8,149.9L531.0,148.6L530.4,146.8L530.1,144.8L529.9,143.1L529.8,141.9L529.6,141.5ZM539.3,143.5L540.4,144.2L541.2,145.5L541.8,147.3L542.1,149.3L542.3,151.0L542.4,152.2L542.6,152.6L540.0,152.1L538.9,151.4L538.1,150.1L537.5,148.3L537.2,146.3L537.0,144.6L536.9,143.4L536.7,143.0ZM546.4,145.0L547.5,145.7L548.3,147.0L548.9,148.8L549.2,150.8L549.4,152.5L549.5,153.7L549.7,154.1L547.1,153.6L546.0,152.9L545.2,151.6L544.6,149.8L544.3,147.8L544.1,146.1L544.0,144.9L543.8,144.5ZM553.5,146.5L554.6,147.2L555.4,148.5L556.0,150.3L556.3,152.3L556.5,154.0L556.6,155.2L556.8,155.6L554.2,155.1L553.1,154.4L552.3,153.1L551.7,151.3L551.4,149.3L551.2,147.6L551.1,146.4L550.9,146.0ZM560.6,148.0L561.7,148.7L562.5,150.0L563.1,151.8L563.4,153.8L563.6,155.5L563.7,156.7L563.9,157.1L561.3,156.6L560.3,155.9L559.4,154.6L558.8,152.8L558.5,150.8L558.3,149.1L558.2,147.9L558.1,147.5ZM567.7,149.5L568.8,150.2L569.7,151.5L570.2,153.3L570.6,155.3L570.7,157.0L570.8,158.2L571.0,158.6L568.5,158.1L567.4,157.4L566.5,156.1L566.0,154.3L565.6,152.3L565.4,150.6L565.3,149.4L565.2,149.0ZM574.8,151.0L575.9,151.7L576.8,153.0L577.3,154.8L577.7,156.8L577.8,158.5L578.0,159.7L578.1,160.1L575.6,159.6L574.5,158.9L573.6,157.6L573.1,155.8L572.7,153.8L572.6,152.1L572.4,150.9L572.3,150.5ZM581.9,152.5L583.0,153.2L583.9,154.5L584.4,156.3L584.8,158.3L585.0,160.0L585.1,161.2L585.2,161.6L582.7,161.1L581.6,160.4L580.7,159.1L580.2,157.3L579.8,155.3L579.7,153.6L579.6,152.4L579.4,152.0ZM589.1,154.0L590.1,154.7L591.0,156.0L591.6,157.8L591.9,159.8L592.1,161.5L592.2,162.7L592.3,163.1L589.8,162.6L588.7,161.9L587.9,160.6L587.3,158.8L587.0,156.8L586.8,155.1L586.7,153.9L586.5,153.5Z" fill="#123780"/>
<path d="M527.2,149.4L528.2,149.2L529.2,148.2L530.1,146.7L530.7,145.0L531.1,143.4L531.2,142.2L531.1,141.8L527.9,141.1L526.9,141.3L525.9,142.3L525.0,143.8L524.4,145.5L524.0,147.1L523.9,148.3L524.1,148.7ZM534.3,150.9L535.3,150.7L536.3,149.7L537.2,148.2L537.9,146.5L538.3,144.9L538.3,143.7L538.2,143.3L535.0,142.6L534.0,142.8L533.1,143.8L532.2,145.3L531.5,147.0L531.1,148.6L531.0,149.8L531.2,150.2ZM541.5,152.4L542.4,152.2L543.4,151.2L544.3,149.7L545.0,148.0L545.4,146.4L545.5,145.2L545.3,144.8L542.1,144.1L541.2,144.3L540.2,145.3L539.3,146.8L538.6,148.5L538.2,150.1L538.1,151.3L538.3,151.7ZM548.6,153.9L549.5,153.7L550.5,152.7L551.4,151.2L552.1,149.5L552.5,147.9L552.6,146.7L552.4,146.3L549.2,145.6L548.3,145.8L547.3,146.8L546.4,148.3L545.7,150.0L545.3,151.6L545.2,152.8L545.4,153.2ZM555.7,155.4L556.6,155.2L557.6,154.2L558.5,152.7L559.2,151.0L559.6,149.4L559.7,148.2L559.5,147.8L556.3,147.1L555.4,147.3L554.4,148.3L553.5,149.8L552.8,151.5L552.4,153.1L552.3,154.3L552.5,154.7ZM562.8,156.9L563.7,156.7L564.7,155.7L565.6,154.2L566.3,152.5L566.7,150.9L566.8,149.7L566.6,149.3L563.4,148.6L562.5,148.8L561.5,149.8L560.6,151.3L559.9,153.0L559.5,154.6L559.4,155.8L559.6,156.2ZM569.9,158.4L570.8,158.2L571.8,157.2L572.7,155.7L573.4,154.0L573.8,152.4L573.9,151.2L573.7,150.8L570.5,150.1L569.6,150.3L568.6,151.3L567.7,152.8L567.0,154.5L566.6,156.1L566.5,157.3L566.7,157.7ZM577.0,159.9L578.0,159.7L578.9,158.7L579.8,157.2L580.5,155.5L580.9,153.9L581.0,152.7L580.8,152.3L577.7,151.6L576.7,151.8L575.7,152.8L574.8,154.3L574.1,156.0L573.7,157.6L573.7,158.8L573.8,159.2ZM584.1,161.4L585.1,161.2L586.1,160.2L587.0,158.7L587.6,157.0L588.0,155.4L588.1,154.2L587.9,153.8L584.8,153.1L583.8,153.3L582.8,154.3L581.9,155.8L581.3,157.5L580.9,159.1L580.8,160.3L580.9,160.7Z" fill="#1f5dd6" stroke="#123780" stroke-width="0.35" stroke-opacity="0.6"/>
<path d="M526.2,148.5L526.6,147.6L527.0,146.5L527.6,145.2M533.3,150.0L533.7,149.1L534.2,148.0L534.7,146.8M540.4,151.5L540.8,150.6L541.3,149.5L541.8,148.2M547.5,153.0L547.9,152.1L548.4,151.0L548.9,149.8M554.6,154.5L555.0,153.6L555.5,152.5L556.0,151.2M561.7,156.0L562.1,155.1L562.6,154.0L563.1,152.8M568.8,157.5L569.2,156.6L569.7,155.5L570.2,154.2M575.9,159.0L576.4,158.1L576.8,157.0L577.3,155.8M583.0,160.5L583.5,159.6L583.9,158.5L584.4,157.2" stroke="#628de2" stroke-width="1.70" fill="none" stroke-linecap="round" stroke-opacity="0.55"/>
<path d="M594.1,160.9L594.4,161.8L594.2,163.1L593.5,164.5L592.6,165.8L591.8,166.9L591.2,167.6L591.1,168.0L589.9,166.3L589.6,165.4L589.8,164.1L590.5,162.7L591.4,161.4L592.2,160.3L592.8,159.6L592.9,159.2ZM597.5,165.6L597.7,166.5L597.5,167.7L596.8,169.1L596.0,170.4L595.1,171.5L594.6,172.3L594.4,172.7L593.2,171.0L592.9,170.0L593.2,168.8L593.8,167.4L594.7,166.1L595.5,165.0L596.1,164.2L596.3,163.9ZM600.8,170.2L601.1,171.2L600.8,172.4L600.2,173.8L599.3,175.1L598.5,176.2L597.9,177.0L597.7,177.3L596.5,175.6L596.3,174.7L596.5,173.5L597.2,172.1L598.0,170.8L598.9,169.7L599.4,168.9L599.6,168.5Z" fill="#123780"/>
<path d="M587.2,162.6L587.9,163.0L589.0,162.9L590.3,162.5L591.7,161.9L592.8,161.1L593.5,160.5L593.6,160.2L592.1,158.1L591.4,157.7L590.3,157.7L589.0,158.1L587.7,158.8L586.6,159.5L585.9,160.2L585.7,160.5ZM590.6,167.3L591.2,167.6L592.3,167.6L593.7,167.2L595.0,166.5L596.1,165.8L596.8,165.2L596.9,164.8L595.4,162.7L594.8,162.4L593.7,162.4L592.3,162.8L591.0,163.5L589.9,164.2L589.2,164.8L589.1,165.2ZM593.9,171.9L594.6,172.3L595.7,172.3L597.0,171.9L598.3,171.2L599.4,170.5L600.1,169.8L600.3,169.5L598.8,167.4L598.1,167.0L597.0,167.1L595.7,167.5L594.3,168.1L593.2,168.9L592.5,169.5L592.4,169.8Z" fill="#1f5dd6" stroke="#123780" stroke-width="0.35" stroke-opacity="0.6"/>
<path d="M587.1,161.5L587.8,161.2L588.7,160.8L589.7,160.3M590.4,166.2L591.1,165.9L592.0,165.5L593.0,165.0M593.7,170.8L594.5,170.6L595.3,170.1L596.3,169.7" stroke="#628de2" stroke-width="1.34" fill="none" stroke-linecap="round" stroke-opacity="0.55"/>
<path d="M605.8,170.3L606.7,171.0L607.4,172.4L607.8,174.1L607.9,176.0L607.9,177.6L607.9,178.7L608.0,179.2L605.7,178.5L604.7,177.8L604.1,176.4L603.7,174.7L603.6,172.8L603.6,171.2L603.6,170.1L603.5,169.6ZM612.2,172.3L613.2,173.0L613.8,174.4L614.2,176.1L614.3,178.0L614.3,179.6L614.3,180.7L614.4,181.2L612.1,180.5L611.2,179.8L610.5,178.4L610.2,176.7L610.0,174.8L610.0,173.2L610.0,172.1L609.9,171.6ZM618.7,174.3L619.6,175.0L620.3,176.4L620.6,178.1L620.8,180.0L620.8,181.6L620.8,182.7L620.9,183.2L618.6,182.5L617.6,181.8L617.0,180.4L616.6,178.7L616.5,176.8L616.5,175.2L616.5,174.1L616.4,173.6ZM625.1,176.3L626.1,177.0L626.7,178.4L627.1,180.1L627.2,182.0L627.2,183.6L627.2,184.7L627.3,185.2L625.0,184.5L624.1,183.8L623.4,182.4L623.0,180.7L622.9,178.8L622.9,177.2L622.9,176.1L622.8,175.6ZM631.6,178.3L632.5,179.0L633.2,180.4L633.5,182.1L633.7,184.0L633.7,185.6L633.7,186.7L633.8,187.2L631.4,186.5L630.5,185.8L629.9,184.4L629.5,182.7L629.4,180.8L629.4,179.2L629.4,178.1L629.3,177.6ZM638.0,180.3L639.0,181.0L639.6,182.4L640.0,184.1L640.1,186.0L640.1,187.6L640.1,188.7L640.2,189.2L637.9,188.5L637.0,187.8L636.3,186.4L635.9,184.7L635.8,182.8L635.8,181.2L635.8,180.1L635.7,179.6ZM644.5,182.3L645.4,183.0L646.1,184.4L646.4,186.1L646.6,188.0L646.5,189.6L646.5,190.7L646.7,191.2L644.3,190.5L643.4,189.8L642.7,188.4L642.4,186.7L642.2,184.8L642.3,183.2L642.3,182.1L642.1,181.6ZM650.9,184.3L651.8,185.0L652.5,186.4L652.9,188.1L653.0,190.0L653.0,191.6L653.0,192.7L653.1,193.2L650.8,192.5L649.8,191.8L649.2,190.4L648.8,188.7L648.7,186.8L648.7,185.2L648.7,184.1L648.6,183.6ZM657.4,186.3L658.3,187.0L658.9,188.4L659.3,190.1L659.4,192.0L659.4,193.6L659.4,194.7L659.5,195.2L657.2,194.5L656.3,193.8L655.6,192.4L655.3,190.7L655.1,188.8L655.1,187.2L655.1,186.1L655.0,185.6Z" fill="#2d7388"/>
<path d="M600.5,176.9L601.4,176.7L602.4,175.9L603.4,174.6L604.2,173.0L604.7,171.5L604.9,170.5L604.8,170.0L601.9,169.1L601.0,169.3L600.0,170.1L599.0,171.4L598.2,173.0L597.7,174.5L597.5,175.5L597.7,176.0ZM607.0,178.9L607.9,178.7L608.9,177.9L609.9,176.6L610.6,175.0L611.2,173.5L611.3,172.5L611.2,172.0L608.4,171.1L607.5,171.3L606.4,172.1L605.5,173.4L604.7,175.0L604.2,176.5L604.0,177.5L604.1,178.0ZM613.4,180.9L614.3,180.7L615.3,179.9L616.3,178.6L617.1,177.0L617.6,175.5L617.8,174.5L617.7,174.0L614.8,173.1L613.9,173.3L612.9,174.1L611.9,175.4L611.1,177.0L610.6,178.5L610.4,179.5L610.6,180.0ZM619.9,182.9L620.8,182.7L621.8,181.9L622.7,180.6L623.5,179.0L624.0,177.5L624.2,176.5L624.1,176.0L621.2,175.1L620.3,175.3L619.3,176.1L618.4,177.4L617.6,179.0L617.1,180.5L616.9,181.5L617.0,182.0ZM626.3,184.9L627.2,184.7L628.2,183.9L629.2,182.6L630.0,181.0L630.5,179.5L630.7,178.5L630.6,178.0L627.7,177.1L626.8,177.3L625.8,178.1L624.8,179.4L624.0,181.0L623.5,182.5L623.3,183.5L623.4,184.0ZM632.8,186.9L633.7,186.7L634.7,185.9L635.6,184.6L636.4,183.0L636.9,181.5L637.1,180.5L637.0,180.0L634.1,179.1L633.2,179.3L632.2,180.1L631.3,181.4L630.5,183.0L630.0,184.5L629.8,185.5L629.9,186.0ZM639.2,188.9L640.1,188.7L641.1,187.9L642.1,186.6L642.9,185.0L643.4,183.5L643.6,182.5L643.4,182.0L640.6,181.1L639.7,181.3L638.7,182.1L637.7,183.4L636.9,185.0L636.4,186.5L636.2,187.5L636.3,188.0ZM645.6,190.9L646.5,190.7L647.6,189.9L648.5,188.6L649.3,187.0L649.8,185.5L650.0,184.5L649.9,184.0L647.0,183.1L646.1,183.3L645.1,184.1L644.1,185.4L643.4,187.0L642.8,188.5L642.7,189.5L642.8,190.0ZM652.1,192.9L653.0,192.7L654.0,191.9L655.0,190.6L655.8,189.0L656.3,187.5L656.5,186.5L656.3,186.0L653.5,185.1L652.6,185.3L651.6,186.1L650.6,187.4L649.8,189.0L649.3,190.5L649.1,191.5L649.2,192.0Z" fill="#4cc0e4" stroke="#2d7388" stroke-width="0.35" stroke-opacity="0.6"/>
<path d="M599.6,176.0L600.1,175.2L600.6,174.2L601.2,173.0M606.1,178.0L606.5,177.2L607.1,176.2L607.7,175.0M612.5,180.0L613.0,179.2L613.5,178.2L614.1,177.0M619.0,182.0L619.4,181.2L620.0,180.2L620.6,179.0M625.4,184.0L625.9,183.2L626.4,182.2L627.0,181.0M631.8,186.0L632.3,185.2L632.9,184.2L633.4,183.0M638.3,188.0L638.8,187.2L639.3,186.2L639.9,185.0M644.7,190.0L645.2,189.2L645.7,188.2L646.3,187.0M651.2,192.0L651.6,191.2L652.2,190.2L652.8,189.0" stroke="#81d2ec" stroke-width="1.58" fill="none" stroke-linecap="round" stroke-opacity="0.55"/>
<path d="M530.0,156.3L531.1,157.0L531.8,158.3L532.3,160.1L532.5,162.1L532.6,163.8L532.7,165.0L532.8,165.4L530.4,164.8L529.3,164.1L528.6,162.8L528.1,161.0L527.9,159.0L527.8,157.3L527.7,156.1L527.6,155.7ZM536.9,158.0L537.9,158.7L538.6,160.0L539.1,161.8L539.4,163.8L539.5,165.5L539.5,166.7L539.7,167.1L537.2,166.5L536.2,165.9L535.4,164.5L534.9,162.7L534.7,160.7L534.6,159.0L534.6,157.8L534.4,157.4ZM543.7,159.7L544.7,160.4L545.5,161.7L546.0,163.5L546.2,165.5L546.3,167.2L546.3,168.4L546.5,168.8L544.0,168.2L543.0,167.6L542.3,166.2L541.8,164.4L541.5,162.4L541.4,160.7L541.4,159.5L541.2,159.1ZM550.5,161.4L551.6,162.1L552.3,163.4L552.8,165.3L553.0,167.2L553.1,168.9L553.2,170.1L553.3,170.6L550.9,169.9L549.8,169.3L549.1,167.9L548.6,166.1L548.4,164.2L548.3,162.4L548.2,161.2L548.1,160.8ZM557.4,163.1L558.4,163.8L559.1,165.2L559.6,167.0L559.9,168.9L560.0,170.6L560.0,171.8L560.2,172.3L557.7,171.7L556.7,171.0L555.9,169.6L555.4,167.8L555.2,165.9L555.1,164.1L555.1,163.0L554.9,162.5ZM564.2,164.8L565.2,165.5L566.0,166.9L566.5,168.7L566.7,170.6L566.8,172.3L566.8,173.5L567.0,174.0L564.5,173.4L563.5,172.7L562.8,171.3L562.3,169.5L562.0,167.6L561.9,165.9L561.9,164.7L561.7,164.2ZM571.0,166.5L572.1,167.2L572.8,168.6L573.3,170.4L573.5,172.3L573.6,174.0L573.7,175.2L573.8,175.7L571.4,175.1L570.3,174.4L569.6,173.0L569.1,171.2L568.9,169.3L568.8,167.6L568.7,166.4L568.6,165.9ZM577.9,168.2L578.9,168.9L579.6,170.3L580.1,172.1L580.4,174.0L580.5,175.7L580.5,176.9L580.7,177.4L578.2,176.8L577.2,176.1L576.4,174.7L575.9,172.9L575.7,171.0L575.6,169.3L575.6,168.1L575.4,167.6ZM584.7,169.9L585.7,170.6L586.5,172.0L587.0,173.8L587.2,175.7L587.3,177.5L587.3,178.6L587.5,179.1L585.0,178.5L584.0,177.8L583.3,176.4L582.8,174.6L582.5,172.7L582.4,171.0L582.4,169.8L582.2,169.3ZM591.5,171.7L592.6,172.3L593.3,173.7L593.8,175.5L594.0,177.4L594.1,179.2L594.2,180.4L594.3,180.8L591.9,180.2L590.8,179.5L590.1,178.2L589.6,176.3L589.4,174.4L589.3,172.7L589.2,171.5L589.1,171.0ZM598.4,173.4L599.4,174.0L600.1,175.4L600.6,177.2L600.9,179.2L601.0,180.9L601.0,182.1L601.2,182.5L598.7,181.9L597.7,181.2L596.9,179.9L596.4,178.1L596.2,176.1L596.1,174.4L596.1,173.2L595.9,172.8ZM605.2,175.1L606.2,175.7L607.0,177.1L607.5,178.9L607.7,180.9L607.8,182.6L607.8,183.8L608.0,184.2L605.5,183.6L604.5,182.9L603.8,181.6L603.3,179.8L603.0,177.8L602.9,176.1L602.9,174.9L602.7,174.5Z" fill="#123780"/>
<path d="M524.9,163.5L525.9,163.3L526.9,162.3L527.8,160.9L528.5,159.2L529.0,157.6L529.1,156.5L529.0,156.0L525.9,155.3L525.0,155.4L524.0,156.4L523.0,157.8L522.3,159.5L521.9,161.1L521.7,162.2L521.9,162.7ZM531.8,165.2L532.7,165.0L533.7,164.1L534.6,162.6L535.4,160.9L535.8,159.3L535.9,158.2L535.8,157.7L532.7,157.0L531.8,157.1L530.8,158.1L529.9,159.5L529.1,161.2L528.7,162.8L528.6,163.9L528.7,164.4ZM538.6,166.9L539.5,166.7L540.5,165.8L541.5,164.3L542.2,162.6L542.6,161.0L542.8,159.9L542.6,159.4L539.6,158.7L538.6,158.9L537.6,159.8L536.7,161.2L536.0,162.9L535.5,164.5L535.4,165.7L535.5,166.1ZM545.4,168.6L546.4,168.4L547.4,167.5L548.3,166.0L549.0,164.3L549.5,162.7L549.6,161.6L549.5,161.1L546.4,160.4L545.5,160.6L544.5,161.5L543.5,162.9L542.8,164.6L542.4,166.2L542.2,167.4L542.4,167.8ZM552.3,170.3L553.2,170.1L554.2,169.2L555.1,167.7L555.9,166.0L556.3,164.4L556.4,163.3L556.3,162.8L553.2,162.1L552.3,162.3L551.3,163.2L550.4,164.7L549.6,166.4L549.2,167.9L549.1,169.1L549.2,169.5ZM559.1,172.0L560.0,171.8L561.0,170.9L562.0,169.4L562.7,167.7L563.1,166.2L563.3,165.0L563.1,164.6L560.1,163.8L559.1,164.0L558.1,164.9L557.2,166.4L556.5,168.1L556.0,169.6L555.9,170.8L556.0,171.2ZM565.9,173.7L566.9,173.5L567.9,172.6L568.8,171.1L569.5,169.4L570.0,167.9L570.1,166.7L570.0,166.3L566.9,165.5L566.0,165.7L565.0,166.6L564.0,168.1L563.3,169.8L562.9,171.3L562.7,172.5L562.9,172.9ZM572.8,175.4L573.7,175.2L574.7,174.3L575.6,172.8L576.4,171.1L576.8,169.6L576.9,168.4L576.8,168.0L573.7,167.2L572.8,167.4L571.8,168.3L570.9,169.8L570.1,171.5L569.7,173.1L569.6,174.2L569.7,174.7ZM579.6,177.1L580.5,176.9L581.5,176.0L582.5,174.6L583.2,172.9L583.6,171.3L583.8,170.1L583.6,169.7L580.6,168.9L579.6,169.1L578.6,170.0L577.7,171.5L577.0,173.2L576.5,174.8L576.4,175.9L576.5,176.4ZM586.4,178.8L587.4,178.6L588.4,177.7L589.3,176.3L590.0,174.6L590.5,173.0L590.6,171.8L590.5,171.4L587.4,170.6L586.5,170.8L585.5,171.7L584.5,173.2L583.8,174.9L583.4,176.5L583.2,177.6L583.4,178.1ZM593.3,180.5L594.2,180.4L595.2,179.4L596.1,178.0L596.9,176.3L597.3,174.7L597.4,173.6L597.3,173.1L594.2,172.3L593.3,172.5L592.3,173.4L591.4,174.9L590.6,176.6L590.2,178.2L590.1,179.3L590.2,179.8ZM600.1,182.2L601.0,182.1L602.0,181.1L603.0,179.7L603.7,178.0L604.1,176.4L604.3,175.3L604.1,174.8L601.1,174.0L600.1,174.2L599.1,175.2L598.2,176.6L597.5,178.3L597.0,179.9L596.9,181.0L597.0,181.5Z" fill="#1f5dd6" stroke="#123780" stroke-width="0.35" stroke-opacity="0.6"/>
<path d="M523.9,162.5L524.4,161.7L524.9,160.6L525.4,159.4M530.8,164.3L531.2,163.4L531.7,162.3L532.2,161.1M537.6,166.0L538.0,165.1L538.5,164.0L539.1,162.8M544.4,167.7L544.9,166.8L545.4,165.7L545.9,164.5M551.3,169.4L551.7,168.5L552.2,167.4L552.8,166.2M558.1,171.1L558.5,170.3L559.0,169.1L559.6,167.9M564.9,172.8L565.4,172.0L565.9,170.9L566.4,169.6M571.8,174.5L572.2,173.7L572.7,172.6L573.2,171.3M578.6,176.2L579.0,175.4L579.5,174.3L580.1,173.0M585.4,177.9L585.9,177.1L586.4,176.0L586.9,174.7M592.3,179.6L592.7,178.8L593.2,177.7L593.8,176.4M599.1,181.3L599.5,180.5L600.0,179.4L600.6,178.1" stroke="#628de2" stroke-width="1.65" fill="none" stroke-linecap="round" stroke-opacity="0.55"/>
<path d="M612.5,177.3L613.5,178.0L614.3,179.3L614.8,181.1L615.1,183.0L615.2,184.6L615.3,185.8L615.4,186.2L612.8,185.5L611.7,184.8L610.9,183.5L610.4,181.7L610.2,179.8L610.1,178.2L610.0,177.0L609.9,176.6ZM619.7,179.3L620.7,180.0L621.5,181.3L622.0,183.1L622.3,185.0L622.4,186.6L622.5,187.8L622.6,188.2L620.0,187.5L618.9,186.8L618.1,185.5L617.6,183.7L617.4,181.8L617.3,180.2L617.2,179.0L617.1,178.6ZM626.9,181.3L627.9,182.0L628.7,183.3L629.2,185.1L629.5,187.0L629.6,188.6L629.7,189.8L629.8,190.2L627.2,189.5L626.1,188.8L625.3,187.5L624.8,185.7L624.6,183.8L624.5,182.2L624.4,181.0L624.3,180.6ZM634.1,183.3L635.1,184.0L635.9,185.3L636.4,187.1L636.7,189.0L636.8,190.6L636.9,191.8L637.0,192.2L634.4,191.5L633.3,190.8L632.5,189.5L632.0,187.7L631.8,185.8L631.7,184.2L631.6,183.0L631.5,182.6ZM641.3,185.3L642.3,186.0L643.1,187.3L643.6,189.1L643.9,191.0L644.0,192.6L644.1,193.8L644.2,194.2L641.6,193.5L640.5,192.8L639.7,191.5L639.2,189.7L639.0,187.8L638.9,186.2L638.8,185.0L638.7,184.6Z" fill="#2d7388"/>
<path d="M607.1,183.9L608.1,183.8L609.1,182.9L610.1,181.6L610.9,180.0L611.3,178.5L611.5,177.4L611.3,177.0L608.1,176.1L607.1,176.2L606.1,177.1L605.1,178.4L604.3,180.0L603.9,181.5L603.7,182.6L603.9,183.0ZM614.3,185.9L615.3,185.8L616.3,184.9L617.3,183.6L618.1,182.0L618.5,180.5L618.7,179.4L618.5,179.0L615.3,178.1L614.3,178.2L613.3,179.1L612.3,180.4L611.5,182.0L611.1,183.5L610.9,184.6L611.1,185.0ZM621.5,187.9L622.5,187.8L623.5,186.9L624.5,185.6L625.3,184.0L625.7,182.5L625.9,181.4L625.7,181.0L622.5,180.1L621.5,180.2L620.5,181.1L619.5,182.4L618.7,184.0L618.3,185.5L618.1,186.6L618.3,187.0ZM628.7,189.9L629.7,189.8L630.7,188.9L631.7,187.6L632.5,186.0L632.9,184.5L633.1,183.4L632.9,183.0L629.7,182.1L628.7,182.2L627.7,183.1L626.7,184.4L625.9,186.0L625.5,187.5L625.3,188.6L625.5,189.0ZM635.9,191.9L636.9,191.8L637.9,190.9L638.9,189.6L639.7,188.0L640.1,186.5L640.3,185.4L640.1,185.0L636.9,184.1L635.9,184.2L634.9,185.1L633.9,186.4L633.1,188.0L632.7,189.5L632.5,190.6L632.7,191.0Z" fill="#4cc0e4" stroke="#2d7388" stroke-width="0.35" stroke-opacity="0.6"/>
<path d="M606.0,183.0L606.5,182.2L607.0,181.2L607.6,180.0M613.2,185.0L613.7,184.2L614.2,183.2L614.8,182.0M620.4,187.0L620.9,186.2L621.4,185.2L622.0,184.0M627.6,189.0L628.1,188.2L628.6,187.2L629.2,186.0M634.8,191.0L635.3,190.2L635.8,189.2L636.4,188.0" stroke="#81d2ec" stroke-width="1.75" fill="none" stroke-linecap="round" stroke-opacity="0.55"/>
<path d="M647.5,188.8L648.3,189.6L648.6,191.0L648.6,192.7L648.4,194.4L648.1,196.0L647.9,197.0L647.9,197.5L645.9,196.4L645.2,195.6L644.8,194.2L644.8,192.5L645.0,190.8L645.3,189.2L645.5,188.2L645.5,187.7ZM653.1,191.8L653.9,192.6L654.2,194.0L654.2,195.7L654.0,197.4L653.7,199.0L653.5,200.0L653.5,200.5L651.5,199.4L650.8,198.6L650.4,197.2L650.4,195.5L650.6,193.8L650.9,192.2L651.1,191.2L651.1,190.7ZM658.7,194.8L659.5,195.6L659.8,197.0L659.8,198.7L659.6,200.4L659.3,202.0L659.1,203.0L659.1,203.5L657.1,202.4L656.4,201.6L656.0,200.2L656.0,198.5L656.2,196.8L656.5,195.2L656.7,194.2L656.7,193.7ZM664.3,197.8L665.1,198.6L665.4,200.0L665.4,201.7L665.2,203.4L664.9,205.0L664.7,206.0L664.7,206.5L662.7,205.4L662.0,204.6L661.6,203.2L661.6,201.5L661.8,199.8L662.1,198.2L662.3,197.2L662.3,196.7ZM669.9,200.8L670.7,201.6L671.0,203.0L671.0,204.7L670.8,206.4L670.5,208.0L670.3,209.0L670.3,209.5L668.3,208.4L667.6,207.6L667.2,206.2L667.2,204.5L667.4,202.8L667.7,201.2L667.9,200.2L667.9,199.7Z" fill="#2d7388"/>
<path d="M641.5,194.0L642.3,194.0L643.4,193.4L644.5,192.4L645.6,191.0L646.3,189.8L646.7,188.8L646.6,188.4L644.1,187.0L643.3,187.0L642.2,187.6L641.1,188.6L640.0,190.0L639.3,191.2L638.9,192.2L639.0,192.6ZM647.1,197.0L647.9,197.0L649.0,196.4L650.1,195.4L651.2,194.0L651.9,192.8L652.3,191.8L652.2,191.4L649.7,190.0L648.9,190.0L647.8,190.6L646.7,191.6L645.6,193.0L644.9,194.2L644.5,195.2L644.6,195.6ZM652.7,200.0L653.5,200.0L654.6,199.4L655.7,198.4L656.8,197.0L657.5,195.8L657.9,194.8L657.8,194.4L655.3,193.0L654.5,193.0L653.4,193.6L652.3,194.6L651.2,196.0L650.5,197.2L650.1,198.2L650.2,198.6ZM658.3,203.0L659.1,203.0L660.2,202.4L661.3,201.4L662.4,200.0L663.1,198.8L663.5,197.8L663.4,197.4L660.9,196.0L660.1,196.0L659.0,196.6L657.9,197.6L656.8,199.0L656.1,200.2L655.7,201.2L655.8,201.6ZM663.9,206.0L664.7,206.0L665.8,205.4L666.9,204.4L668.0,203.0L668.7,201.8L669.1,200.8L669.0,200.4L666.5,199.0L665.7,199.0L664.6,199.6L663.5,200.6L662.4,202.0L661.7,203.2L661.3,204.2L661.4,204.6Z" fill="#4cc0e4" stroke="#2d7388" stroke-width="0.35" stroke-opacity="0.6"/>
<path d="M640.8,193.0L641.4,192.3L642.0,191.5L642.8,190.5M646.4,196.0L647.0,195.3L647.6,194.5L648.4,193.5M652.0,199.0L652.6,198.3L653.2,197.5L654.0,196.5M657.6,202.0L658.2,201.3L658.8,200.5L659.6,199.5M663.2,205.0L663.8,204.3L664.4,203.5L665.2,202.5" stroke="#81d2ec" stroke-width="1.49" fill="none" stroke-linecap="round" stroke-opacity="0.55"/>
<ellipse cx="657" cy="186" rx="3.5" ry="3" fill="#f0df3c"/>
<path d="" stroke="#4cc0e4" stroke-width="0.1" fill="none" stroke-linecap="round" stroke-linejoin="round" stroke-opacity="1"/>
<path d="M516.0,140.0C516.8,139.5 519.2,137.8 521.0,137.0C522.8,136.2 526.0,135.3 527.0,135.0" stroke="#4cc0e4" stroke-width="2.4" fill="none" stroke-linecap="round" stroke-linejoin="round" stroke-opacity="1"/>
<path d="M518.0,148.0C518.5,147.7 520.0,146.7 521.0,146.0C522.0,145.3 523.5,144.3 524.0,144.0" stroke="#4cc0e4" stroke-width="2.4" fill="none" stroke-linecap="round" stroke-linejoin="round" stroke-opacity="1"/>
<polygon points="443.0,151.6 424.3,147.4 428.7,155.8 414.9,165.3 419.6,173.7 434.2,164.2 438.7,171.5" fill="#d20000" stroke="#3a0000" stroke-width="0.7" stroke-linejoin="miter"/>
<g transform="translate(-218.7,331.9) scale(1.6)">
<path d="M446.8,55.1C448.7,54.1 454.5,49.1 458.5,48.8C462.6,48.4 468.7,49.8 471.1,53.1C473.5,56.4 473.1,63.2 472.8,68.6C472.5,73.9 471.8,81.6 469.4,85.4C467.1,89.1 462.2,91.2 458.5,91.2C454.9,91.2 450.0,88.6 447.6,85.4C445.2,82.1 444.4,77.0 444.3,71.9C444.1,66.9 446.4,57.9 446.8,55.1Z" fill="#1f5dd6" fill-opacity="0.5"/>
<path d="M457.7,91.2C460.4,90.0 468.2,85.0 473.6,84.0C479.1,83.0 485.8,84.0 490.4,85.4C495.0,86.7 499.5,88.2 501.3,92.1C503.2,96.0 502.5,103.3 501.3,108.9C500.2,114.5 498.0,121.6 494.6,125.6C491.3,129.7 485.7,132.6 481.2,133.2C476.7,133.8 472.1,130.8 467.8,129.0C463.4,127.2 457.6,125.9 455.2,122.3C452.8,118.7 453.1,112.4 453.5,107.2C453.9,102.0 457.0,93.9 457.7,91.2Z" fill="#1f5dd6" fill-opacity="0.5"/>
<path d="M463.6,98.8C466.4,97.7 475.3,92.1 480.4,92.1C485.4,92.1 491.8,94.3 493.8,98.8C495.7,103.3 494.6,114.5 492.1,118.9C489.6,123.4 483.2,125.6 478.7,125.6C474.2,125.6 467.8,123.4 465.3,118.9C462.7,114.5 463.9,102.1 463.6,98.8Z" fill="#163f9c" fill-opacity="0.275"/>
<path d="M465.3,49.3C466.9,48.7 472.1,47.0 475.3,45.9C478.5,44.8 482.5,41.6 484.6,42.6C486.7,43.5 486.7,49.1 487.9,51.8C489.2,54.4 491.0,55.7 492.1,58.5C493.2,61.3 493.2,66.6 494.6,68.6C496.0,70.6 498.1,69.8 500.5,70.6C502.9,71.4 506.4,71.6 508.9,73.3C511.4,75.0 513.1,78.8 515.6,80.7C518.1,82.6 520.9,84.2 524.0,84.7C527.1,85.2 531.6,83.2 534.1,83.7C536.5,84.2 539.3,86.5 538.8,87.7C538.2,88.9 533.6,90.4 530.7,90.7C527.8,91.1 524.6,90.6 521.5,89.7C518.4,88.9 513.8,86.4 512.3,85.7" stroke="#1f5dd6" stroke-width="1.984" fill="none" stroke-linecap="round" stroke-linejoin="round" stroke-opacity="1"/>
<path d="M470.3,55.1C471.7,54.9 476.9,52.3 478.7,53.5C480.4,54.6 481.1,59.3 480.7,61.9C480.3,64.4 477.6,66.7 476.2,68.6C474.7,70.5 471.3,71.9 472.0,73.3C472.7,74.7 477.0,76.3 480.4,77.0C483.7,77.6 488.5,77.0 492.1,77.3C495.7,77.6 499.4,77.6 502.2,79.0C505.0,80.3 507.8,84.3 508.9,85.4" stroke="#1f5dd6" stroke-width="1.8599999999999999" fill="none" stroke-linecap="round" stroke-linejoin="round" stroke-opacity="1"/>
<path d="M473.6,70.6C475.6,70.2 481.8,69.2 485.4,68.2C489.0,67.3 493.2,64.5 495.5,64.9C497.7,65.2 497.1,69.1 498.8,70.3C500.5,71.4 503.6,70.6 505.5,71.6C507.5,72.6 509.7,75.4 510.6,76.1" stroke="#1f5dd6" stroke-width="1.736" fill="none" stroke-linecap="round" stroke-linejoin="round" stroke-opacity="1"/>
<path d="M485.4,63.5C486.9,63.4 492.5,61.2 494.6,62.7C496.7,64.2 496.4,70.7 498.0,72.8C499.5,74.9 502.9,74.9 503.9,75.3" stroke="#1f5dd6" stroke-width="1.612" fill="none" stroke-linecap="round" stroke-linejoin="round" stroke-opacity="1"/>
<path d="M480.4,56.8C481.2,57.4 484.3,58.2 485.4,60.2C486.5,62.1 486.2,66.1 487.1,68.6C487.9,71.1 489.9,74.2 490.4,75.3" stroke="#1f5dd6" stroke-width="1.612" fill="none" stroke-linecap="round" stroke-linejoin="round" stroke-opacity="1"/>
<path d="M461.9,77.0C463.2,77.6 466.8,79.3 469.4,80.7C472.1,82.1 475.0,85.1 477.8,85.4C480.6,85.6 484.8,82.8 486.2,82.3" stroke="#163f9c" stroke-width="2.356" fill="none" stroke-linecap="round" stroke-linejoin="round" stroke-opacity="1"/>
<path d="M463.6,82.0C465.0,81.2 469.2,77.5 472.0,77.0C474.8,76.5 478.1,79.3 480.4,79.0C482.6,78.7 483.2,76.2 485.4,75.3C487.6,74.4 492.4,73.9 493.8,73.6" stroke="#1f5dd6" stroke-width="1.984" fill="none" stroke-linecap="round" stroke-linejoin="round" stroke-opacity="1"/>
<path d="M485.4,77.0C486.6,77.5 489.9,79.4 492.4,80.3C495.0,81.2 498.0,81.4 500.5,82.3C503.0,83.2 506.4,85.1 507.6,85.7" stroke="#1f5dd6" stroke-width="1.8599999999999999" fill="none" stroke-linecap="round" stroke-linejoin="round" stroke-opacity="1"/>
<path d="M500.5,77.0C501.5,77.1 504.7,77.0 506.4,77.8C508.1,78.6 508.8,81.2 510.6,82.0C512.4,82.8 516.2,82.3 517.3,82.3" stroke="#1f5dd6" stroke-width="1.612" fill="none" stroke-linecap="round" stroke-linejoin="round" stroke-opacity="1"/>
<path d="M462.4,48.2L463.7,49.2L464.6,51.0L465.2,53.5L465.4,56.1L465.4,58.4L465.4,60.0L465.6,60.6L462.4,59.7L461.1,58.8L460.2,56.9L459.6,54.5L459.4,51.8L459.4,49.5L459.4,47.9L459.2,47.3ZM471.2,50.7L472.5,51.7L473.4,53.5L474.0,56.0L474.2,58.6L474.2,60.9L474.2,62.5L474.4,63.1L471.2,62.2L469.9,61.3L469.0,59.4L468.5,57.0L468.3,54.4L468.2,52.1L468.2,50.5L468.1,49.8Z" fill="#123780"/>
<path d="M455.4,57.7L456.6,57.5L457.9,56.3L459.2,54.3L460.3,52.1L461.0,50.0L461.2,48.4L461.0,47.8L457.1,46.7L455.9,46.9L454.5,48.1L453.2,50.1L452.2,52.3L451.5,54.4L451.3,56.0L451.4,56.6ZM464.2,60.2L465.4,60.0L466.8,58.8L468.1,56.9L469.1,54.6L469.8,52.5L470.0,51.0L469.8,50.3L465.9,49.2L464.7,49.4L463.3,50.7L462.0,52.6L461.0,54.8L460.3,57.0L460.1,58.5L460.2,59.1Z" fill="#1f5dd6" stroke="#123780" stroke-width="0.35" stroke-opacity="0.6"/>
<path d="M454.1,56.5L454.7,55.3L455.4,53.9L456.2,52.2M462.9,59.0L463.5,57.9L464.3,56.4L465.0,54.7" stroke="#628de2" stroke-width="2.14" fill="none" stroke-linecap="round" stroke-opacity="0.55"/>
<path d="M457.6,58.2L459.3,58.9L460.9,60.5L462.1,62.8L463.0,65.2L463.6,67.4L464.1,68.9L464.4,69.5L460.5,69.2L458.7,68.5L457.2,66.9L456.0,64.7L455.1,62.2L454.4,60.0L454.0,58.5L453.7,57.9ZM468.5,59.1L470.3,59.7L471.8,61.3L473.0,63.6L473.9,66.0L474.6,68.2L475.0,69.8L475.3,70.3L471.4,70.0L469.6,69.3L468.1,67.7L466.9,65.5L466.0,63.0L465.3,60.9L464.9,59.3L464.6,58.8Z" fill="#123780"/>
<path d="M451.8,68.5L453.2,68.1L454.4,66.7L455.5,64.6L456.1,62.3L456.4,60.2L456.2,58.7L455.9,58.1L451.0,57.7L449.6,58.2L448.4,59.5L447.4,61.6L446.7,63.9L446.5,66.1L446.6,67.6L446.9,68.1ZM462.7,69.3L464.1,68.9L465.3,67.5L466.4,65.5L467.0,63.1L467.3,61.0L467.2,59.5L466.8,58.9L461.9,58.6L460.6,59.0L459.3,60.4L458.3,62.5L457.6,64.8L457.4,66.9L457.5,68.4L457.8,69.0Z" fill="#1f5dd6" stroke="#123780" stroke-width="0.35" stroke-opacity="0.6"/>
<path d="M450.0,67.5L450.5,66.4L450.9,64.8L451.4,63.1M460.9,68.4L461.4,67.2L461.8,65.7L462.3,64.0" stroke="#628de2" stroke-width="2.56" fill="none" stroke-linecap="round" stroke-opacity="0.55"/>
<path d="M454.9,69.1L456.4,69.8L457.7,71.4L458.6,73.5L459.3,75.8L459.8,77.9L460.0,79.3L460.3,79.9L456.8,79.4L455.3,78.7L454.0,77.2L453.1,75.0L452.4,72.7L452.0,70.7L451.7,69.2L451.4,68.7ZM464.5,70.4L466.0,71.1L467.3,72.7L468.3,74.8L469.0,77.1L469.4,79.2L469.7,80.6L470.0,81.1L466.5,80.7L465.0,80.0L463.7,78.4L462.7,76.3L462.0,74.0L461.6,71.9L461.3,70.5L461.0,70.0Z" fill="#123780"/>
<path d="M449.2,78.4L450.4,78.1L451.6,76.8L452.6,75.0L453.3,72.8L453.6,70.9L453.6,69.5L453.3,68.9L449.0,68.4L447.8,68.7L446.6,70.0L445.6,71.8L444.9,74.0L444.5,75.9L444.6,77.3L444.9,77.9ZM458.8,79.7L460.1,79.3L461.3,78.1L462.3,76.2L463.0,74.1L463.3,72.1L463.3,70.7L463.0,70.2L458.7,69.6L457.4,70.0L456.2,71.2L455.2,73.1L454.5,75.2L454.2,77.2L454.2,78.6L454.5,79.1Z" fill="#1f5dd6" stroke="#123780" stroke-width="0.35" stroke-opacity="0.6"/>
<path d="M447.6,77.4L448.1,76.4L448.6,75.0L449.1,73.4M457.3,78.7L457.7,77.6L458.2,76.2L458.7,74.7" stroke="#628de2" stroke-width="2.28" fill="none" stroke-linecap="round" stroke-opacity="0.55"/>
<path d="M458.4,80.1L459.8,80.8L460.9,82.3L461.6,84.3L462.1,86.5L462.4,88.4L462.6,89.7L462.9,90.3L459.7,89.6L458.3,88.9L457.2,87.4L456.4,85.4L455.9,83.2L455.7,81.3L455.5,80.0L455.2,79.5ZM467.2,81.7L468.6,82.5L469.7,84.0L470.5,86.0L471.0,88.2L471.2,90.1L471.4,91.4L471.7,91.9L468.5,91.3L467.1,90.6L466.0,89.1L465.2,87.1L464.8,84.9L464.5,83.0L464.3,81.6L464.0,81.1Z" fill="#123780"/>
<path d="M452.7,88.3L453.8,88.1L455.0,87.0L456.0,85.3L456.8,83.4L457.2,81.6L457.3,80.3L457.0,79.8L453.1,79.1L451.9,79.3L450.8,80.4L449.7,82.0L449.0,84.0L448.5,85.8L448.5,87.1L448.7,87.6ZM461.5,90.0L462.6,89.7L463.8,88.7L464.8,87.0L465.6,85.1L466.0,83.3L466.1,82.0L465.8,81.5L461.9,80.7L460.7,81.0L459.6,82.0L458.5,83.7L457.8,85.7L457.4,87.4L457.3,88.7L457.5,89.2Z" fill="#1f5dd6" stroke="#123780" stroke-width="0.35" stroke-opacity="0.6"/>
<path d="M451.3,87.3L451.8,86.4L452.3,85.1L452.9,83.7M460.1,89.0L460.6,88.1L461.1,86.8L461.7,85.4" stroke="#628de2" stroke-width="2.10" fill="none" stroke-linecap="round" stroke-opacity="0.55"/>
<path d="M480.7,88.4L482.3,89.2L483.6,90.9L484.5,93.3L485.1,95.9L485.5,98.2L485.7,99.8L486.0,100.4L482.3,99.8L480.8,99.0L479.5,97.2L478.6,94.8L478.0,92.2L477.6,89.9L477.4,88.3L477.1,87.7ZM490.8,90.0L492.4,90.8L493.6,92.6L494.6,95.0L495.2,97.6L495.5,99.9L495.8,101.5L496.0,102.1L492.4,101.5L490.8,100.7L489.6,98.9L488.6,96.5L488.0,93.9L487.7,91.6L487.4,90.0L487.2,89.4Z" fill="#123780"/>
<path d="M474.3,98.5L475.6,98.2L477.0,96.8L478.1,94.8L478.9,92.4L479.4,90.2L479.4,88.7L479.2,88.1L474.7,87.3L473.3,87.7L472.0,89.0L470.9,91.1L470.0,93.4L469.6,95.6L469.5,97.1L469.8,97.7ZM484.4,100.2L485.7,99.8L487.0,98.5L488.2,96.4L489.0,94.1L489.5,91.9L489.5,90.4L489.2,89.8L484.7,89.0L483.4,89.4L482.1,90.7L480.9,92.7L480.1,95.1L479.7,97.3L479.6,98.8L479.9,99.4Z" fill="#1f5dd6" stroke="#123780" stroke-width="0.35" stroke-opacity="0.6"/>
<path d="M472.8,97.4L473.3,96.2L473.9,94.7L474.5,92.9M482.8,99.0L483.3,97.9L483.9,96.3L484.6,94.6" stroke="#628de2" stroke-width="2.39" fill="none" stroke-linecap="round" stroke-opacity="0.55"/>
<path d="M493.2,83.6L494.4,84.4L495.2,86.0L495.8,88.2L496.0,90.6L496.1,92.6L496.1,94.1L496.3,94.6L493.4,93.9L492.2,93.1L491.3,91.4L490.8,89.2L490.6,86.9L490.5,84.8L490.5,83.4L490.3,82.8ZM501.2,85.7L502.4,86.5L503.2,88.1L503.7,90.3L504.0,92.7L504.0,94.7L504.1,96.2L504.2,96.7L501.4,96.0L500.2,95.2L499.3,93.5L498.8,91.3L498.6,89.0L498.5,86.9L498.5,85.5L498.3,84.9Z" fill="#123780"/>
<path d="M487.0,92.2L488.1,92.0L489.3,90.9L490.5,89.1L491.4,87.1L491.9,85.2L492.1,83.8L491.9,83.2L488.4,82.3L487.3,82.5L486.1,83.6L485.0,85.4L484.1,87.4L483.5,89.3L483.3,90.7L483.5,91.3ZM495.0,94.3L496.1,94.1L497.3,93.0L498.4,91.2L499.3,89.2L499.9,87.3L500.1,85.9L499.9,85.3L496.4,84.4L495.3,84.6L494.1,85.7L492.9,87.5L492.0,89.5L491.5,91.4L491.3,92.8L491.4,93.4Z" fill="#1f5dd6" stroke="#123780" stroke-width="0.35" stroke-opacity="0.6"/>
<path d="M485.9,91.1L486.4,90.1L487.0,88.8L487.7,87.2M493.8,93.2L494.4,92.2L495.0,90.9L495.7,89.3" stroke="#628de2" stroke-width="1.93" fill="none" stroke-linecap="round" stroke-opacity="0.55"/>
<path d="M474.0,100.9L475.7,101.7L477.1,103.5L478.2,105.9L478.9,108.5L479.3,110.8L479.6,112.4L479.9,113.0L476.0,112.4L474.3,111.6L472.9,109.8L471.8,107.4L471.1,104.8L470.7,102.5L470.4,100.9L470.0,100.3ZM484.9,102.6L486.6,103.4L488.0,105.2L489.1,107.6L489.8,110.2L490.2,112.5L490.5,114.1L490.8,114.7L486.9,114.1L485.2,113.3L483.8,111.5L482.7,109.1L482.0,106.5L481.6,104.2L481.3,102.6L481.0,102.0Z" fill="#123780"/>
<path d="M467.3,111.1L468.7,110.8L470.1,109.4L471.3,107.4L472.1,105.0L472.6,102.8L472.6,101.3L472.3,100.7L467.4,99.9L466.0,100.3L464.6,101.6L463.4,103.7L462.6,106.0L462.1,108.2L462.1,109.7L462.4,110.3ZM478.2,112.8L479.6,112.4L481.0,111.1L482.2,109.0L483.1,106.7L483.5,104.5L483.5,102.9L483.2,102.3L478.3,101.6L476.9,101.9L475.5,103.3L474.3,105.3L473.5,107.7L473.0,109.9L473.0,111.4L473.4,112.0Z" fill="#1f5dd6" stroke="#123780" stroke-width="0.35" stroke-opacity="0.6"/>
<path d="M465.6,110.0L466.1,108.8L466.7,107.2L467.4,105.5M476.5,111.6L477.0,110.5L477.6,108.9L478.3,107.2" stroke="#628de2" stroke-width="2.58" fill="none" stroke-linecap="round" stroke-opacity="0.55"/>
<path d="M483.0,112.0L484.4,112.9L485.6,114.5L486.4,116.8L486.9,119.1L487.2,121.2L487.4,122.7L487.6,123.2L484.1,122.5L482.7,121.6L481.5,120.0L480.7,117.8L480.2,115.4L479.9,113.3L479.7,111.8L479.5,111.3ZM492.6,114.1L494.1,115.0L495.3,116.6L496.1,118.8L496.6,121.2L496.8,123.3L497.0,124.8L497.3,125.3L493.8,124.6L492.3,123.7L491.1,122.1L490.3,119.9L489.8,117.5L489.6,115.4L489.4,113.9L489.1,113.4Z" fill="#123780"/>
<path d="M476.4,120.8L477.7,120.6L479.0,119.4L480.2,117.7L481.1,115.6L481.6,113.7L481.7,112.3L481.4,111.7L477.1,110.8L475.9,111.0L474.5,112.1L473.4,113.9L472.5,116.0L472.0,117.9L471.9,119.3L472.1,119.9ZM486.1,122.9L487.4,122.7L488.7,121.5L489.9,119.8L490.8,117.7L491.3,115.8L491.3,114.4L491.1,113.8L486.8,112.9L485.5,113.1L484.2,114.2L483.0,116.0L482.1,118.1L481.6,120.0L481.5,121.4L481.8,122.0Z" fill="#1f5dd6" stroke="#123780" stroke-width="0.35" stroke-opacity="0.6"/>
<path d="M475.0,119.7L475.5,118.7L476.1,117.3L476.8,115.8M484.6,121.8L485.2,120.8L485.8,119.4L486.4,117.9" stroke="#628de2" stroke-width="2.31" fill="none" stroke-linecap="round" stroke-opacity="0.55"/>
<path d="M457.3,113.0L459.2,112.8L461.3,113.6L463.5,115.0L465.4,116.8L467.0,118.5L468.0,119.6L468.6,120.0L464.8,121.5L462.9,121.7L460.8,121.0L458.6,119.5L456.7,117.7L455.1,116.0L454.1,114.9L453.5,114.5ZM467.8,108.8L469.7,108.6L471.8,109.4L474.0,110.8L475.9,112.6L477.5,114.3L478.5,115.5L479.1,115.8L475.3,117.3L473.4,117.5L471.3,116.8L469.1,115.3L467.2,113.5L465.6,111.8L464.6,110.7L464.0,110.3Z" fill="#123780"/>
<path d="M456.5,124.8L457.5,123.8L458.1,122.0L458.1,119.7L457.7,117.3L457.0,115.3L456.2,114.0L455.6,113.7L451.0,115.5L449.9,116.5L449.3,118.4L449.3,120.7L449.7,123.1L450.4,125.1L451.2,126.4L451.8,126.7ZM467.0,120.6L468.0,119.6L468.6,117.8L468.6,115.5L468.2,113.1L467.5,111.1L466.7,109.8L466.1,109.5L461.5,111.3L460.4,112.3L459.8,114.2L459.8,116.5L460.2,118.9L460.9,120.9L461.7,122.2L462.3,122.5Z" fill="#1f5dd6" stroke="#123780" stroke-width="0.35" stroke-opacity="0.6"/>
<path d="M454.4,124.8L454.3,123.5L454.0,122.0L453.7,120.2M464.9,120.6L464.8,119.3L464.5,117.8L464.2,116.0" stroke="#628de2" stroke-width="2.64" fill="none" stroke-linecap="round" stroke-opacity="0.55"/>
<path d="M490.6,101.7L491.7,102.8L492.4,104.5L492.6,106.8L492.5,109.1L492.2,111.1L492.0,112.4L492.1,113.0L489.2,111.6L488.1,110.6L487.5,108.8L487.3,106.6L487.4,104.3L487.7,102.3L487.8,100.9L487.7,100.4ZM498.6,105.5L499.7,106.5L500.3,108.3L500.5,110.5L500.4,112.8L500.2,114.8L500.0,116.2L500.1,116.8L497.2,115.4L496.1,114.4L495.5,112.6L495.3,110.4L495.4,108.1L495.6,106.1L495.8,104.7L495.7,104.1Z" fill="#123780"/>
<path d="M482.9,108.6L484.1,108.7L485.5,107.9L486.9,106.4L488.2,104.7L489.1,103.0L489.5,101.7L489.4,101.1L485.8,99.4L484.6,99.4L483.2,100.2L481.8,101.6L480.5,103.4L479.6,105.1L479.2,106.4L479.3,106.9ZM490.9,112.4L492.0,112.4L493.5,111.6L494.9,110.2L496.1,108.4L497.0,106.7L497.4,105.5L497.3,104.9L493.8,103.2L492.6,103.2L491.2,104.0L489.7,105.4L488.5,107.2L487.6,108.9L487.2,110.2L487.3,110.7Z" fill="#1f5dd6" stroke="#123780" stroke-width="0.35" stroke-opacity="0.6"/>
<path d="M481.9,107.3L482.6,106.5L483.4,105.3L484.3,104.0M489.8,111.1L490.5,110.3L491.4,109.1L492.3,107.8" stroke="#628de2" stroke-width="2.06" fill="none" stroke-linecap="round" stroke-opacity="0.55"/>
<path d="M472.8,103.2L472.6,104.3L471.7,105.5L470.2,106.6L468.5,107.5L467.0,108.2L466.0,108.7L465.6,109.0L465.2,106.7L465.5,105.5L466.4,104.4L467.9,103.3L469.5,102.3L471.0,101.6L472.1,101.1L472.4,100.8ZM473.9,109.7L473.7,110.8L472.7,112.0L471.3,113.1L469.6,114.0L468.1,114.7L467.0,115.2L466.7,115.5L466.3,113.2L466.5,112.0L467.4,110.9L468.9,109.8L470.6,108.8L472.1,108.1L473.1,107.6L473.5,107.3ZM474.9,116.2L474.7,117.3L473.8,118.5L472.3,119.6L470.6,120.5L469.1,121.2L468.1,121.7L467.7,122.0L467.3,119.7L467.6,118.5L468.5,117.4L470.0,116.3L471.6,115.4L473.1,114.6L474.2,114.1L474.5,113.8ZM476.0,122.7L475.8,123.8L474.8,125.0L473.3,126.1L471.7,127.0L470.2,127.7L469.1,128.2L468.8,128.5L468.4,126.2L468.6,125.0L469.5,123.9L471.0,122.8L472.7,121.9L474.2,121.1L475.2,120.6L475.6,120.3Z" fill="#0d255d"/>
<path d="M464.4,101.5L464.9,102.2L466.1,102.7L467.8,103.0L469.6,103.0L471.2,102.8L472.3,102.5L472.7,102.2L472.2,99.2L471.7,98.5L470.5,98.0L468.8,97.8L467.0,97.8L465.4,98.0L464.3,98.3L463.9,98.6ZM465.4,108.0L466.0,108.7L467.2,109.2L468.9,109.5L470.7,109.5L472.3,109.3L473.4,109.0L473.7,108.7L473.2,105.8L472.7,105.0L471.5,104.5L469.8,104.3L468.0,104.3L466.4,104.5L465.3,104.8L465.0,105.1ZM466.5,114.5L467.0,115.2L468.2,115.7L469.9,116.0L471.7,116.0L473.3,115.8L474.4,115.5L474.8,115.2L474.3,112.3L473.8,111.5L472.6,111.0L470.9,110.8L469.1,110.8L467.5,111.0L466.4,111.3L466.0,111.6ZM467.5,121.0L468.1,121.7L469.3,122.2L471.0,122.5L472.8,122.5L474.4,122.3L475.5,122.0L475.8,121.7L475.3,118.8L474.8,118.0L473.6,117.5L471.9,117.3L470.1,117.3L468.5,117.5L467.4,117.8L467.1,118.1Z" fill="#163f9c" stroke="#0d255d" stroke-width="0.35" stroke-opacity="0.6"/>
<path d="M464.8,100.3L465.8,100.3L467.0,100.4L468.3,100.4M465.9,106.8L466.8,106.9L468.0,106.9L469.3,106.9M466.9,113.3L467.9,113.4L469.1,113.4L470.4,113.4M468.0,119.8L468.9,119.9L470.1,119.9L471.4,119.9" stroke="#5b78b9" stroke-width="1.54" fill="none" stroke-linecap="round" stroke-opacity="0.55"/>
<path d="M491.3,105.2L491.0,106.4L490.1,107.6L488.7,108.6L487.1,109.5L485.7,110.1L484.7,110.5L484.4,110.8L484.2,108.2L484.5,107.0L485.4,105.8L486.8,104.8L488.3,103.9L489.8,103.3L490.7,102.8L491.1,102.5ZM491.8,112.4L491.6,113.7L490.7,114.8L489.3,115.9L487.7,116.7L486.3,117.4L485.3,117.8L485.0,118.1L484.8,115.5L485.0,114.2L486.0,113.1L487.3,112.0L488.9,111.2L490.3,110.5L491.3,110.1L491.6,109.8ZM492.4,119.7L492.1,120.9L491.2,122.1L489.8,123.2L488.3,124.0L486.8,124.6L485.9,125.1L485.5,125.4L485.3,122.7L485.6,121.5L486.5,120.3L487.9,119.3L489.5,118.4L490.9,117.8L491.9,117.4L492.2,117.1Z" fill="#123780"/>
<path d="M483.8,102.4L484.2,103.3L485.3,104.0L486.8,104.4L488.4,104.6L489.9,104.5L490.9,104.3L491.2,104.0L491.0,100.8L490.5,99.9L489.5,99.2L488.0,98.8L486.3,98.6L484.8,98.6L483.8,98.9L483.5,99.2ZM484.3,109.7L484.7,110.5L485.8,111.2L487.3,111.7L489.0,111.9L490.4,111.8L491.4,111.6L491.8,111.3L491.5,108.1L491.1,107.2L490.0,106.5L488.5,106.0L486.9,105.9L485.4,105.9L484.4,106.1L484.1,106.4ZM484.9,116.9L485.3,117.8L486.4,118.5L487.9,119.0L489.5,119.1L491.0,119.1L492.0,118.9L492.3,118.6L492.1,115.3L491.6,114.5L490.6,113.8L489.1,113.3L487.4,113.1L486.0,113.2L485.0,113.4L484.6,113.7Z" fill="#1f5dd6" stroke="#123780" stroke-width="0.35" stroke-opacity="0.6"/>
<path d="M484.2,101.1L485.1,101.3L486.1,101.4L487.4,101.6M484.8,108.4L485.6,108.6L486.7,108.7L487.9,108.9M485.3,115.7L486.2,115.8L487.3,116.0L488.5,116.1" stroke="#628de2" stroke-width="1.71" fill="none" stroke-linecap="round" stroke-opacity="0.55"/>
<path d="M479.7,89.3L479.7,90.2L479.1,91.4L478.1,92.5L476.9,93.6L475.7,94.4L474.9,95.0L474.6,95.3L473.9,93.5L473.9,92.6L474.5,91.5L475.6,90.3L476.8,89.2L478.0,88.4L478.8,87.8L479.0,87.5ZM481.7,94.3L481.7,95.3L481.1,96.4L480.0,97.5L478.8,98.6L477.7,99.5L476.9,100.1L476.6,100.4L475.9,98.5L475.9,97.6L476.5,96.5L477.5,95.3L478.8,94.3L479.9,93.4L480.7,92.8L481.0,92.5ZM483.6,99.4L483.6,100.3L483.0,101.4L482.0,102.6L480.8,103.6L479.6,104.5L478.8,105.1L478.6,105.4L477.9,103.6L477.9,102.6L478.5,101.5L479.5,100.4L480.7,99.3L481.9,98.5L482.7,97.9L482.9,97.6Z" fill="#123780"/>
<path d="M472.4,89.5L472.9,90.0L474.0,90.2L475.5,90.1L477.0,89.7L478.3,89.3L479.2,88.8L479.4,88.5L478.5,86.3L478.0,85.8L476.9,85.6L475.4,85.7L473.9,86.0L472.6,86.5L471.8,86.9L471.5,87.3ZM474.3,94.5L474.9,95.0L476.0,95.2L477.4,95.1L479.0,94.8L480.3,94.3L481.1,93.8L481.4,93.5L480.5,91.3L479.9,90.8L478.8,90.6L477.4,90.7L475.9,91.1L474.6,91.5L473.7,92.0L473.5,92.3ZM476.3,99.6L476.9,100.1L478.0,100.3L479.4,100.1L480.9,99.8L482.2,99.3L483.1,98.9L483.3,98.6L482.5,96.3L481.9,95.8L480.8,95.7L479.4,95.8L477.8,96.1L476.5,96.6L475.7,97.0L475.4,97.3Z" fill="#1f5dd6" stroke="#123780" stroke-width="0.35" stroke-opacity="0.6"/>
<path d="M472.6,88.5L473.3,88.3L474.3,88.1L475.5,87.9M474.5,93.5L475.3,93.4L476.3,93.2L477.4,92.9M476.5,98.5L477.3,98.4L478.3,98.2L479.4,98.0" stroke="#628de2" stroke-width="1.26" fill="none" stroke-linecap="round" stroke-opacity="0.55"/>
<path d="M504.8,86.3L505.9,87.0L506.6,88.7L507.1,90.9L507.3,93.3L507.3,95.4L507.3,96.9L507.5,97.5L504.9,96.9L503.8,96.1L503.1,94.5L502.7,92.2L502.5,89.8L502.4,87.7L502.4,86.2L502.3,85.7ZM512.0,88.0L513.0,88.7L513.8,90.4L514.2,92.6L514.4,95.0L514.4,97.1L514.5,98.6L514.6,99.2L512.0,98.6L511.0,97.8L510.2,96.1L509.8,93.9L509.6,91.5L509.6,89.4L509.5,87.9L509.4,87.3Z" fill="#123780"/>
<path d="M499.2,95.5L500.2,95.2L501.3,94.0L502.3,92.2L503.2,90.0L503.7,88.0L503.9,86.6L503.7,86.0L500.5,85.3L499.5,85.6L498.5,86.8L497.4,88.6L496.6,90.8L496.1,92.8L495.9,94.2L496.0,94.8ZM506.4,97.2L507.3,96.9L508.4,95.7L509.5,93.8L510.3,91.7L510.8,89.7L511.0,88.2L510.9,87.7L507.7,86.9L506.7,87.2L505.6,88.4L504.6,90.3L503.7,92.5L503.2,94.5L503.0,95.9L503.2,96.5Z" fill="#1f5dd6" stroke="#123780" stroke-width="0.35" stroke-opacity="0.6"/>
<path d="M498.2,94.5L498.7,93.4L499.3,92.0L499.9,90.4M505.3,96.1L505.8,95.1L506.4,93.7L507.0,92.1" stroke="#628de2" stroke-width="1.72" fill="none" stroke-linecap="round" stroke-opacity="0.55"/>
<path d="M450.8,90.5L451.5,91.4L451.6,92.8L451.3,94.6L450.9,96.4L450.3,98.0L450.0,99.1L449.9,99.6L448.1,98.3L447.5,97.5L447.3,96.0L447.6,94.3L448.1,92.4L448.6,90.8L449.0,89.8L449.0,89.3ZM455.9,93.9L456.5,94.7L456.6,96.2L456.4,98.0L455.9,99.8L455.4,101.4L455.0,102.5L454.9,102.9L453.1,101.7L452.5,100.8L452.4,99.4L452.6,97.6L453.1,95.8L453.7,94.2L454.0,93.1L454.1,92.7Z" fill="#2d7388"/>
<path d="M444.1,95.7L444.9,95.7L446.1,95.2L447.4,94.1L448.6,92.7L449.5,91.4L450.0,90.4L450.1,90.0L447.8,88.5L447.0,88.4L445.8,89.0L444.5,90.1L443.3,91.4L442.4,92.7L441.9,93.7L441.8,94.2ZM449.1,99.0L450.0,99.1L451.1,98.5L452.4,97.5L453.6,96.1L454.5,94.8L455.1,93.8L455.1,93.3L452.8,91.8L452.0,91.8L450.9,92.3L449.6,93.4L448.4,94.8L447.4,96.1L446.9,97.1L446.9,97.5Z" fill="#4cc0e4" stroke="#2d7388" stroke-width="0.35" stroke-opacity="0.6"/>
<path d="M443.6,94.6L444.2,93.9L445.1,93.1L445.9,92.1M448.6,97.9L449.3,97.3L450.1,96.4L451.0,95.4" stroke="#81d2ec" stroke-width="1.42" fill="none" stroke-linecap="round" stroke-opacity="0.55"/>
<path d="M506.4,113.5L507.5,114.2L508.3,115.8L508.7,117.9L509.0,120.1L509.0,122.1L509.1,123.4L509.2,124.0L506.7,123.4L505.6,122.6L504.8,121.1L504.4,119.0L504.1,116.8L504.1,114.8L504.0,113.4L503.9,112.9ZM513.6,115.2L514.6,115.9L515.4,117.5L515.9,119.5L516.1,121.8L516.2,123.8L516.2,125.1L516.4,125.6L513.8,125.0L512.7,124.3L512.0,122.8L511.5,120.7L511.3,118.4L511.2,116.5L511.1,115.1L511.0,114.6Z" fill="#1c5668"/>
<path d="M501.0,122.0L502.0,121.8L503.0,120.7L504.0,118.9L504.8,116.9L505.3,115.1L505.5,113.8L505.3,113.2L502.1,112.5L501.1,112.7L500.1,113.9L499.1,115.6L498.3,117.6L497.8,119.4L497.6,120.8L497.8,121.3ZM508.1,123.7L509.1,123.5L510.2,122.3L511.2,120.6L511.9,118.6L512.4,116.8L512.6,115.4L512.4,114.9L509.3,114.2L508.3,114.4L507.2,115.5L506.2,117.3L505.4,119.3L504.9,121.1L504.8,122.4L504.9,123.0Z" fill="#2f90ae" stroke="#1c5668" stroke-width="0.35" stroke-opacity="0.6"/>
<path d="M499.9,121.0L500.4,120.0L501.0,118.7L501.6,117.3M507.1,122.7L507.6,121.7L508.1,120.4L508.7,118.9" stroke="#6db1c6" stroke-width="1.72" fill="none" stroke-linecap="round" stroke-opacity="0.55"/>
<path d="M455.1,82.3L456.2,83.2L457.0,84.5L457.4,86.2L457.5,88.0L457.5,89.5L457.5,90.5L457.6,91.0L454.9,89.8L453.8,88.9L453.0,87.5L452.6,85.8L452.5,84.1L452.5,82.6L452.5,81.5L452.4,81.1Z" fill="#2d7388"/>
<path d="M448.9,87.1L449.9,87.2L451.1,86.7L452.3,85.7L453.2,84.4L453.8,83.2L454.1,82.2L453.9,81.8L450.6,80.3L449.5,80.2L448.3,80.7L447.2,81.7L446.2,83.0L445.6,84.2L445.4,85.2L445.5,85.6Z" fill="#4cc0e4" stroke="#2d7388" stroke-width="0.35" stroke-opacity="0.6"/>
<path d="M447.8,86.0L448.4,85.4L449.0,84.6L449.7,83.7" stroke="#81d2ec" stroke-width="1.93" fill="none" stroke-linecap="round" stroke-opacity="0.55"/>
<path d="M445.1,118.9C445.7,120.1 448.5,123.6 448.5,125.6C448.5,127.7 446.5,131.0 445.1,131.5C443.7,132.1 440.9,129.4 440.1,129.0" stroke="#4cc0e4" stroke-width="1.984" fill="none" stroke-linecap="round" stroke-linejoin="round" stroke-opacity="1"/>
<path d="M455.2,125.6C456.6,126.2 460.5,128.4 463.6,129.0C466.7,129.6 470.8,128.2 473.6,129.0C476.4,129.8 478.4,132.4 480.4,134.0C482.3,135.7 483.4,137.7 485.4,139.1C487.4,140.5 491.0,141.9 492.1,142.4" stroke="#4cc0e4" stroke-width="1.8599999999999999" fill="none" stroke-linecap="round" stroke-linejoin="round" stroke-opacity="1"/>
<path d="M510.6,85.4C512.3,86.0 517.3,88.2 520.6,89.1C524.0,89.9 527.9,91.0 530.7,90.7C533.5,90.5 536.3,87.9 537.4,87.4" stroke="#4cc0e4" stroke-width="1.984" fill="none" stroke-linecap="round" stroke-linejoin="round" stroke-opacity="1"/>
<path d="M510.6,110.5C511.1,109.7 512.3,106.6 513.9,105.5C515.6,104.4 518.5,103.7 520.6,104.2C522.8,104.7 526.4,106.8 527.0,108.5C527.6,110.2 526.0,113.3 524.3,114.2C522.7,115.2 519.3,114.6 517.3,114.2C515.3,113.9 513.1,112.6 512.3,112.2" stroke="#4cc0e4" stroke-width="2.356" fill="none" stroke-linecap="round" stroke-linejoin="round" stroke-opacity="1"/>
<path d="M440.1,105.5C440.9,106.1 443.1,108.9 445.1,109.2C447.1,109.5 449.6,108.7 451.8,107.5C454.1,106.3 457.4,103.0 458.5,102.1" stroke="#4cc0e4" stroke-width="1.8599999999999999" fill="none" stroke-linecap="round" stroke-linejoin="round" stroke-opacity="1"/>
<path d="M455.2,85.4C455.5,87.0 455.7,92.9 456.9,95.4C458.0,98.0 461.1,99.9 461.9,100.8" stroke="#4cc0e4" stroke-width="1.8599999999999999" fill="none" stroke-linecap="round" stroke-linejoin="round" stroke-opacity="1"/>
<path d="M495.5,113.9C496.3,113.5 498.8,111.4 500.5,111.4C502.2,111.4 504.7,113.5 505.5,113.9" stroke="#2f90ae" stroke-width="1.736" fill="none" stroke-linecap="round" stroke-linejoin="round" stroke-opacity="1"/>
<path d="M430.0,108.9C430.8,110.1 433.1,114.4 435.0,116.4C437.0,118.4 439.5,119.9 441.8,120.9C444.0,122.0 446.2,121.3 448.5,122.6C450.7,124.0 454.1,127.9 455.2,129.0" stroke="#f0df3c" stroke-width="1.8599999999999999" fill="none" stroke-linecap="round" stroke-linejoin="round" stroke-opacity="1"/>
<path d="M497.1,124.0C496.9,124.8 495.2,127.7 495.8,129.0C496.4,130.4 498.9,131.1 500.5,132.0C502.1,132.9 504.1,133.4 505.5,134.4C506.9,135.3 508.0,136.3 508.9,137.7C509.8,139.1 510.6,141.9 510.9,142.8" stroke="#f0df3c" stroke-width="2.232" fill="none" stroke-linecap="round" stroke-linejoin="round" stroke-opacity="1"/>
</g>
<path d="M509.5,409.0L511.3,410.2L512.7,412.5L513.6,415.5L514.0,418.7L514.2,421.5L514.3,423.5L514.6,424.2L510.1,423.0L508.3,421.8L506.9,419.5L506.0,416.5L505.6,413.3L505.4,410.5L505.3,408.5L505.0,407.8ZM521.8,412.3L523.6,413.5L525.0,415.8L525.9,418.8L526.4,422.0L526.5,424.9L526.7,426.8L526.9,427.6L522.5,426.4L520.6,425.2L519.2,422.9L518.4,419.9L517.9,416.6L517.7,413.8L517.6,411.9L517.3,411.1ZM534.1,415.6L536.0,416.8L537.4,419.1L538.2,422.1L538.7,425.4L538.9,428.2L539.0,430.1L539.3,430.9L534.8,429.7L533.0,428.5L531.6,426.2L530.7,423.2L530.2,420.0L530.1,417.1L529.9,415.2L529.7,414.4Z" fill="#123780"/>
<path d="M500.3,420.4L502.0,420.1L503.8,418.7L505.5,416.4L506.8,413.6L507.6,411.1L507.8,409.2L507.5,408.4L502.0,407.0L500.3,407.2L498.5,408.6L496.9,411.0L495.6,413.7L494.8,416.3L494.5,418.1L494.8,418.9ZM512.7,423.7L514.3,423.5L516.1,422.0L517.8,419.7L519.1,417.0L519.9,414.4L520.1,412.5L519.8,411.8L514.3,410.3L512.7,410.5L510.9,412.0L509.2,414.3L507.9,417.0L507.1,419.6L506.9,421.5L507.2,422.2ZM525.0,427.0L526.7,426.8L528.5,425.4L530.1,423.0L531.4,420.3L532.2,417.7L532.5,415.9L532.2,415.1L526.7,413.6L525.0,413.9L523.2,415.3L521.5,417.6L520.2,420.4L519.4,422.9L519.2,424.8L519.5,425.6Z" fill="#1f5dd6" stroke="#123780" stroke-width="0.35" stroke-opacity="0.6"/>
<path d="M498.5,418.8L499.3,417.5L500.2,415.7L501.2,413.7M510.8,422.1L511.6,420.8L512.5,419.0L513.5,417.0M523.2,425.5L524.0,424.1L524.9,422.4L525.8,420.3" stroke="#628de2" stroke-width="2.99" fill="none" stroke-linecap="round" stroke-opacity="0.55"/>
<path d="M504.7,426.1L506.1,427.1L507.2,429.3L507.7,432.2L508.0,435.4L508.0,438.2L508.0,440.1L508.2,440.8L504.7,439.9L503.3,438.9L502.2,436.7L501.7,433.8L501.4,430.6L501.4,427.8L501.4,425.9L501.2,425.2ZM514.5,428.6L515.9,429.6L516.9,431.8L517.5,434.7L517.7,437.9L517.8,440.7L517.8,442.6L518.0,443.3L514.4,442.4L513.0,441.4L512.0,439.2L511.4,436.3L511.2,433.1L511.1,430.3L511.1,428.4L510.9,427.7ZM524.2,431.1L525.6,432.1L526.7,434.3L527.2,437.2L527.5,440.4L527.5,443.2L527.5,445.1L527.7,445.8L524.2,444.9L522.8,443.9L521.7,441.7L521.2,438.8L520.9,435.6L520.9,432.8L520.9,430.9L520.7,430.2ZM534.0,433.6L535.4,434.6L536.4,436.8L537.0,439.7L537.2,442.9L537.3,445.7L537.3,447.6L537.5,448.3L533.9,447.4L532.5,446.4L531.5,444.2L530.9,441.3L530.7,438.1L530.6,435.3L530.6,433.4L530.4,432.7Z" fill="#123780"/>
<path d="M496.9,437.9L498.3,437.6L499.8,436.1L501.2,433.6L502.4,430.9L503.1,428.3L503.4,426.4L503.2,425.7L498.8,424.6L497.5,424.9L496.0,426.4L494.5,428.9L493.4,431.6L492.6,434.2L492.4,436.1L492.6,436.8ZM506.7,440.4L508.0,440.1L509.5,438.6L511.0,436.1L512.1,433.4L512.9,430.8L513.1,428.9L512.9,428.2L508.6,427.1L507.2,427.4L505.7,428.9L504.3,431.4L503.1,434.1L502.4,436.7L502.1,438.6L502.3,439.3ZM516.4,442.9L517.8,442.6L519.3,441.1L520.7,438.6L521.9,435.9L522.6,433.3L522.9,431.4L522.7,430.7L518.3,429.6L517.0,429.9L515.5,431.4L514.0,433.9L512.9,436.6L512.1,439.2L511.9,441.1L512.1,441.8ZM526.2,445.4L527.5,445.1L529.0,443.6L530.5,441.1L531.6,438.4L532.4,435.8L532.6,433.9L532.4,433.2L528.1,432.1L526.7,432.4L525.2,433.9L523.8,436.4L522.6,439.1L521.9,441.7L521.6,443.6L521.8,444.3Z" fill="#1f5dd6" stroke="#123780" stroke-width="0.35" stroke-opacity="0.6"/>
<path d="M495.5,436.5L496.2,435.1L497.0,433.3L497.9,431.2M505.3,439.0L506.0,437.6L506.8,435.8L507.6,433.8M515.0,441.5L515.7,440.1L516.5,438.3L517.4,436.2M524.8,444.0L525.5,442.6L526.3,440.8L527.1,438.8" stroke="#628de2" stroke-width="2.36" fill="none" stroke-linecap="round" stroke-opacity="0.55"/>
<path d="M503.0,446.7L504.5,448.0L505.4,450.3L505.8,453.1L505.7,456.1L505.5,458.7L505.3,460.5L505.5,461.2L501.8,459.7L500.3,458.4L499.4,456.1L499.0,453.3L499.1,450.3L499.3,447.7L499.5,445.9L499.3,445.2ZM513.4,451.1L514.8,452.4L515.7,454.6L516.1,457.4L516.1,460.4L515.8,463.0L515.7,464.8L515.8,465.5L512.1,464.0L510.6,462.7L509.7,460.5L509.4,457.6L509.4,454.6L509.6,452.0L509.8,450.2L509.7,449.5ZM523.7,455.4L525.2,456.7L526.1,458.9L526.4,461.8L526.4,464.8L526.2,467.4L526.0,469.2L526.1,469.9L522.4,468.3L521.0,467.0L520.1,464.8L519.7,462.0L519.7,459.0L520.0,456.4L520.1,454.6L520.0,453.9Z" fill="#123780"/>
<path d="M493.5,456.2L495.0,456.2L496.8,455.0L498.6,453.1L500.1,450.7L501.1,448.5L501.6,446.8L501.4,446.1L496.8,444.1L495.3,444.2L493.5,445.3L491.8,447.2L490.3,449.6L489.2,451.9L488.8,453.5L488.9,454.3ZM503.9,460.5L505.4,460.5L507.1,459.4L508.9,457.4L510.4,455.1L511.4,452.8L511.9,451.1L511.8,450.4L507.1,448.5L505.6,448.5L503.9,449.6L502.1,451.6L500.6,453.9L499.6,456.2L499.1,457.9L499.2,458.6ZM514.2,464.9L515.7,464.8L517.5,463.7L519.2,461.8L520.7,459.4L521.8,457.1L522.2,455.5L522.1,454.7L517.5,452.8L516.0,452.8L514.2,454.0L512.4,455.9L510.9,458.3L509.9,460.5L509.4,462.2L509.6,462.9Z" fill="#1f5dd6" stroke="#123780" stroke-width="0.35" stroke-opacity="0.6"/>
<path d="M492.2,454.6L493.0,453.4L494.0,451.9L495.2,450.2M502.5,458.9L503.3,457.8L504.4,456.2L505.5,454.5M512.8,463.2L513.7,462.1L514.7,460.6L515.8,458.8" stroke="#628de2" stroke-width="2.62" fill="none" stroke-linecap="round" stroke-opacity="0.55"/>
<path d="M542.0,472.0L543.5,473.2L544.6,475.5L545.2,478.5L545.3,481.7L545.3,484.5L545.3,486.4L545.5,487.2L541.6,486.0L540.1,484.8L539.0,482.5L538.4,479.5L538.3,476.3L538.3,473.5L538.3,471.6L538.1,470.8ZM552.7,475.4L554.2,476.6L555.3,478.8L555.8,481.8L556.0,485.0L556.0,487.8L555.9,489.7L556.1,490.5L552.3,489.3L550.7,488.1L549.7,485.8L549.1,482.8L548.9,479.7L549.0,476.9L549.0,474.9L548.8,474.2ZM563.3,478.7L564.9,479.9L565.9,482.2L566.5,485.2L566.7,488.3L566.6,491.1L566.6,493.1L566.8,493.8L562.9,492.6L561.4,491.4L560.3,489.2L559.8,486.2L559.6,483.0L559.6,480.2L559.7,478.3L559.5,477.5Z" fill="#123780"/>
<path d="M533.1,483.3L534.6,483.1L536.3,481.7L537.9,479.4L539.3,476.7L540.2,474.1L540.5,472.3L540.3,471.5L535.6,470.0L534.1,470.3L532.4,471.7L530.7,474.0L529.4,476.7L528.5,479.2L528.2,481.1L528.4,481.8ZM543.8,486.6L545.3,486.4L547.0,485.0L548.6,482.7L550.0,480.0L550.8,477.4L551.2,475.6L551.0,474.8L546.2,473.4L544.7,473.6L543.0,475.0L541.4,477.3L540.0,480.0L539.2,482.6L538.8,484.4L539.0,485.2ZM554.4,490.0L555.9,489.7L557.6,488.3L559.3,486.0L560.6,483.3L561.5,480.8L561.8,478.9L561.6,478.2L556.9,476.7L555.4,476.9L553.7,478.3L552.1,480.6L550.7,483.3L549.8,485.9L549.5,487.7L549.7,488.5Z" fill="#1f5dd6" stroke="#123780" stroke-width="0.35" stroke-opacity="0.6"/>
<path d="M531.6,481.7L532.4,480.4L533.3,478.7L534.3,476.7M542.3,485.1L543.1,483.8L544.0,482.0L545.0,480.0M553.0,488.4L553.7,487.1L554.7,485.3L555.7,483.3" stroke="#628de2" stroke-width="2.62" fill="none" stroke-linecap="round" stroke-opacity="0.55"/>
<path d="M529.8,493.4L531.7,494.4L533.3,496.6L534.4,499.5L535.2,502.6L535.6,505.4L535.9,507.3L536.3,508.1L531.8,507.4L529.9,506.4L528.3,504.2L527.2,501.3L526.4,498.2L526.0,495.4L525.7,493.5L525.3,492.7ZM542.1,495.4L544.0,496.4L545.6,498.6L546.8,501.5L547.5,504.6L548.0,507.4L548.3,509.3L548.6,510.1L544.2,509.4L542.2,508.4L540.7,506.2L539.5,503.3L538.8,500.2L538.3,497.4L538.0,495.5L537.7,494.7ZM554.4,497.4L556.4,498.4L557.9,500.6L559.1,503.5L559.8,506.6L560.3,509.4L560.6,511.3L560.9,512.1L556.5,511.4L554.6,510.4L553.0,508.2L551.8,505.3L551.1,502.2L550.6,499.4L550.3,497.5L550.0,496.7Z" fill="#123780"/>
<path d="M522.0,505.8L523.6,505.3L525.2,503.7L526.6,501.2L527.6,498.4L528.1,495.7L528.2,493.9L527.8,493.1L522.3,492.2L520.7,492.7L519.1,494.3L517.7,496.8L516.7,499.6L516.2,502.3L516.2,504.1L516.5,504.9ZM534.3,507.8L535.9,507.3L537.5,505.7L538.9,503.2L539.9,500.4L540.5,497.7L540.5,495.9L540.2,495.1L534.7,494.2L533.1,494.7L531.5,496.3L530.1,498.8L529.1,501.6L528.5,504.3L528.5,506.1L528.8,506.9ZM546.7,509.8L548.3,509.3L549.9,507.7L551.3,505.2L552.3,502.4L552.8,499.7L552.8,497.9L552.5,497.1L547.0,496.2L545.4,496.7L543.8,498.3L542.4,500.8L541.4,503.6L540.9,506.3L540.8,508.1L541.2,508.9Z" fill="#1f5dd6" stroke="#123780" stroke-width="0.35" stroke-opacity="0.6"/>
<path d="M520.1,504.4L520.7,503.0L521.4,501.1L522.2,499.0M532.4,506.4L533.0,505.0L533.8,503.1L534.5,501.0M544.7,508.4L545.4,507.0L546.1,505.1L546.8,503.0" stroke="#628de2" stroke-width="2.92" fill="none" stroke-linecap="round" stroke-opacity="0.55"/>
<path d="M516.3,510.3L518.1,510.4L520.0,511.7L521.9,513.7L523.6,516.1L524.9,518.3L525.9,519.9L526.4,520.4L522.9,521.3L521.1,521.2L519.2,519.9L517.3,517.9L515.6,515.5L514.3,513.3L513.3,511.7L512.8,511.2ZM526.0,507.6L527.7,507.8L529.6,509.0L531.5,511.1L533.2,513.5L534.6,515.7L535.5,517.2L536.0,517.7L532.6,518.7L530.8,518.5L528.9,517.2L527.0,515.2L525.3,512.8L523.9,510.6L523.0,509.1L522.5,508.6ZM535.6,504.9L537.4,505.1L539.3,506.4L541.2,508.4L542.9,510.8L544.3,513.0L545.2,514.5L545.7,515.0L542.2,516.0L540.5,515.8L538.6,514.6L536.7,512.5L535.0,510.1L533.6,507.9L532.7,506.4L532.2,505.9Z" fill="#123780"/>
<path d="M515.2,523.4L516.2,522.5L516.8,520.6L516.9,518.0L516.6,515.2L516.0,512.8L515.3,511.2L514.8,510.7L510.5,511.9L509.5,512.8L508.9,514.7L508.8,517.3L509.1,520.1L509.7,522.5L510.4,524.1L510.9,524.6ZM524.9,520.8L525.9,519.9L526.4,517.9L526.5,515.3L526.2,512.5L525.6,510.1L525.0,508.5L524.5,508.0L520.1,509.2L519.1,510.1L518.6,512.1L518.5,514.7L518.8,517.5L519.4,519.9L520.0,521.5L520.5,522.0ZM534.5,518.1L535.5,517.2L536.1,515.3L536.2,512.7L535.9,509.9L535.3,507.5L534.6,505.9L534.1,505.4L529.8,506.6L528.8,507.5L528.2,509.4L528.1,512.0L528.4,514.8L529.0,517.2L529.7,518.8L530.2,519.3Z" fill="#1f5dd6" stroke="#123780" stroke-width="0.35" stroke-opacity="0.6"/>
<path d="M513.3,523.0L513.2,521.5L513.1,519.7L512.8,517.7M523.0,520.3L522.9,518.9L522.7,517.1L522.5,515.0M532.6,517.6L532.6,516.2L532.4,514.4L532.2,512.3" stroke="#628de2" stroke-width="2.35" fill="none" stroke-linecap="round" stroke-opacity="0.55"/>
<path d="M549.2,509.0L550.5,510.2L551.4,512.3L551.7,515.1L551.7,518.1L551.5,520.6L551.4,522.4L551.5,523.1L548.0,521.8L546.7,520.6L545.8,518.5L545.5,515.7L545.5,512.7L545.7,510.2L545.8,508.4L545.7,507.7ZM558.8,512.6L560.2,513.8L561.0,516.0L561.4,518.8L561.4,521.7L561.2,524.3L561.1,526.1L561.2,526.8L557.7,525.5L556.3,524.3L555.5,522.1L555.1,519.4L555.1,516.4L555.3,513.8L555.5,512.0L555.3,511.3ZM568.5,516.3L569.9,517.5L570.7,519.7L571.1,522.4L571.1,525.4L570.9,528.0L570.7,529.8L570.9,530.5L567.4,529.2L566.0,528.0L565.2,525.8L564.8,523.0L564.8,520.1L565.0,517.5L565.1,515.7L565.0,515.0Z" fill="#123780"/>
<path d="M540.3,518.9L541.7,518.8L543.4,517.6L545.0,515.5L546.4,513.1L547.4,510.8L547.8,509.1L547.6,508.4L543.3,506.8L541.9,506.9L540.3,508.1L538.7,510.2L537.3,512.6L536.3,514.9L535.9,516.6L536.0,517.3ZM550.0,522.6L551.4,522.4L553.0,521.2L554.7,519.2L556.1,516.8L557.0,514.5L557.4,512.8L557.3,512.1L553.0,510.4L551.6,510.6L550.0,511.8L548.3,513.8L546.9,516.2L546.0,518.5L545.6,520.2L545.7,520.9ZM559.7,526.2L561.1,526.1L562.7,524.9L564.3,522.8L565.7,520.4L566.7,518.1L567.1,516.4L567.0,515.7L562.7,514.1L561.3,514.2L559.6,515.4L558.0,517.5L556.6,519.9L555.6,522.2L555.2,523.9L555.4,524.6Z" fill="#1f5dd6" stroke="#123780" stroke-width="0.35" stroke-opacity="0.6"/>
<path d="M539.0,517.4L539.8,516.2L540.8,514.6L541.8,512.8M548.7,521.0L549.5,519.9L550.5,518.3L551.5,516.5M558.4,524.7L559.2,523.5L560.1,522.0L561.2,520.2" stroke="#628de2" stroke-width="2.42" fill="none" stroke-linecap="round" stroke-opacity="0.55"/>
<path d="M555.1,491.1L555.0,492.7L553.9,494.4L552.1,496.0L550.0,497.4L548.1,498.5L546.8,499.3L546.4,499.7L545.7,496.5L545.8,494.9L546.9,493.2L548.7,491.6L550.8,490.2L552.7,489.1L554.0,488.3L554.4,487.9ZM557.1,500.1L557.0,501.7L555.9,503.4L554.1,505.0L552.0,506.4L550.1,507.5L548.8,508.3L548.4,508.7L547.7,505.5L547.8,503.9L548.9,502.2L550.7,500.6L552.8,499.2L554.7,498.1L556.0,497.3L556.4,496.9ZM559.1,509.1L559.0,510.7L557.9,512.4L556.1,514.0L554.0,515.4L552.1,516.5L550.8,517.3L550.4,517.7L549.7,514.5L549.8,512.9L550.9,511.2L552.7,509.6L554.8,508.2L556.7,507.1L558.0,506.3L558.4,505.9ZM561.1,518.1L561.0,519.7L559.9,521.4L558.1,523.0L556.0,524.4L554.1,525.5L552.8,526.3L552.4,526.7L551.7,523.5L551.8,521.9L552.9,520.2L554.7,518.6L556.8,517.2L558.7,516.1L560.0,515.3L560.4,514.9Z" fill="#0d255d"/>
<path d="M544.1,489.3L544.8,490.3L546.4,490.9L548.6,491.2L551.0,491.1L553.0,490.7L554.4,490.2L554.8,489.7L553.9,485.7L553.2,484.7L551.6,484.1L549.4,483.8L547.0,483.9L545.0,484.3L543.6,484.8L543.2,485.3ZM546.1,498.3L546.8,499.3L548.4,499.9L550.6,500.2L553.0,500.1L555.0,499.7L556.4,499.2L556.8,498.7L555.9,494.7L555.2,493.7L553.6,493.1L551.4,492.8L549.0,492.9L547.0,493.3L545.6,493.8L545.2,494.3ZM548.1,507.3L548.8,508.3L550.4,508.9L552.6,509.2L555.0,509.1L557.0,508.7L558.4,508.2L558.8,507.7L557.9,503.7L557.2,502.7L555.6,502.1L553.4,501.8L551.0,501.9L549.0,502.3L547.6,502.8L547.2,503.3ZM550.1,516.3L550.8,517.3L552.4,517.9L554.6,518.2L557.0,518.1L559.0,517.7L560.4,517.2L560.8,516.7L559.9,512.7L559.2,511.7L557.6,511.1L555.4,510.8L553.0,510.9L551.0,511.3L549.6,511.8L549.2,512.3Z" fill="#163f9c" stroke="#0d255d" stroke-width="0.35" stroke-opacity="0.6"/>
<path d="M544.5,487.6L545.7,487.6L547.3,487.6L549.0,487.5M546.5,496.6L547.7,496.6L549.3,496.6L551.0,496.5M548.5,505.6L549.7,505.6L551.3,505.6L553.0,505.5M550.5,514.6L551.7,514.6L553.3,514.6L555.0,514.5" stroke="#5b78b9" stroke-width="2.16" fill="none" stroke-linecap="round" stroke-opacity="0.55"/>
<path d="M578.2,464.0L579.9,465.2L581.3,467.5L582.1,470.5L582.5,473.7L582.6,476.5L582.7,478.5L583.0,479.2L578.6,478.0L576.9,476.8L575.5,474.5L574.7,471.5L574.3,468.3L574.2,465.5L574.1,463.5L573.8,462.8ZM590.2,467.3L591.9,468.5L593.3,470.8L594.1,473.8L594.5,477.0L594.6,479.8L594.7,481.8L595.0,482.6L590.6,481.4L588.9,480.2L587.5,477.9L586.7,474.9L586.3,471.7L586.2,468.8L586.1,466.9L585.8,466.1ZM602.2,470.6L603.9,471.8L605.3,474.1L606.1,477.1L606.5,480.3L606.6,483.2L606.7,485.1L607.0,485.9L602.6,484.7L600.9,483.5L599.5,481.2L598.7,478.2L598.3,475.0L598.2,472.2L598.1,470.2L597.8,469.4Z" fill="#123780"/>
<path d="M569.1,475.4L570.7,475.1L572.5,473.7L574.2,471.4L575.5,468.6L576.3,466.1L576.5,464.2L576.3,463.5L570.9,462.0L569.3,462.2L567.5,463.6L565.8,466.0L564.5,468.7L563.7,471.3L563.5,473.1L563.7,473.9ZM581.1,478.7L582.7,478.5L584.5,477.0L586.2,474.7L587.5,472.0L588.3,469.4L588.5,467.5L588.3,466.8L582.9,465.3L581.3,465.5L579.5,467.0L577.8,469.3L576.5,472.0L575.7,474.6L575.5,476.5L575.7,477.2ZM593.1,482.0L594.7,481.8L596.5,480.4L598.2,478.0L599.5,475.3L600.3,472.7L600.5,470.9L600.3,470.1L594.9,468.6L593.3,468.9L591.5,470.3L589.8,472.6L588.5,475.4L587.7,477.9L587.5,479.8L587.7,480.5Z" fill="#1f5dd6" stroke="#123780" stroke-width="0.35" stroke-opacity="0.6"/>
<path d="M567.3,473.8L568.1,472.5L569.0,470.7L570.0,468.7M579.3,477.1L580.1,475.8L581.0,474.0L582.0,472.0M591.3,480.5L592.1,479.1L593.0,477.3L594.0,475.3" stroke="#628de2" stroke-width="2.91" fill="none" stroke-linecap="round" stroke-opacity="0.55"/>
<path d="M530.3,459.3L531.5,460.3L532.3,462.2L532.7,464.7L532.7,467.4L532.6,469.8L532.6,471.4L532.7,472.0L529.7,471.1L528.5,470.1L527.7,468.2L527.3,465.7L527.3,463.0L527.4,460.6L527.4,459.0L527.3,458.4ZM538.7,462.0L539.8,463.0L540.6,464.9L541.0,467.4L541.1,470.1L541.0,472.4L540.9,474.1L541.0,474.7L538.0,473.7L536.8,472.8L536.0,470.9L535.7,468.3L535.6,465.7L535.7,463.3L535.8,461.7L535.7,461.0ZM547.0,464.7L548.2,465.6L549.0,467.5L549.3,470.1L549.4,472.7L549.3,475.1L549.2,476.7L549.3,477.4L546.3,476.4L545.2,475.4L544.4,473.5L544.0,471.0L543.9,468.3L544.0,466.0L544.1,464.3L544.0,463.7Z" fill="#123780"/>
<path d="M523.0,469.0L524.2,468.7L525.6,467.5L526.9,465.6L528.1,463.3L528.8,461.1L529.1,459.5L529.0,458.9L525.3,457.7L524.1,457.9L522.7,459.1L521.4,461.1L520.3,463.4L519.5,465.6L519.2,467.1L519.3,467.8ZM531.4,471.6L532.6,471.4L533.9,470.2L535.3,468.2L536.4,465.9L537.2,463.8L537.5,462.2L537.3,461.6L533.6,460.4L532.4,460.6L531.1,461.8L529.7,463.8L528.6,466.1L527.8,468.2L527.5,469.8L527.7,470.4ZM539.7,474.3L540.9,474.1L542.3,472.9L543.6,470.9L544.7,468.6L545.5,466.4L545.8,464.9L545.7,464.2L542.0,463.0L540.8,463.3L539.4,464.5L538.1,466.4L536.9,468.7L536.2,470.9L535.9,472.5L536.0,473.1Z" fill="#1f5dd6" stroke="#123780" stroke-width="0.35" stroke-opacity="0.6"/>
<path d="M521.9,467.7L522.6,466.5L523.3,465.0L524.2,463.3M530.2,470.3L530.9,469.2L531.7,467.7L532.5,466.0M538.6,473.0L539.2,471.9L540.0,470.4L540.8,468.7" stroke="#628de2" stroke-width="2.05" fill="none" stroke-linecap="round" stroke-opacity="0.55"/>
<path d="M423.0,489.0L423.2,489.5L423.4,490.1L423.7,490.7L424.2,491.2L424.9,491.6L425.7,491.8L426.7,491.9L427.7,491.9L428.6,492.0L429.4,492.3L430.0,492.7L430.5,493.3L430.8,493.9L431.1,494.6L431.4,495.3L431.7,495.9L432.1,496.4L432.5,496.9L433.0,497.2L433.5,497.3L434.1,497.4L434.8,497.5L435.6,497.5L436.4,497.6L437.1,497.8L437.8,498.2L438.3,498.7L438.6,499.4L438.8,500.2L438.9,501.1L439.1,502.0L439.3,502.8L439.7,503.4L440.3,503.9L441.0,504.2L441.7,504.4L442.5,504.4L443.2,504.4L443.8,504.3L444.4,504.4L444.9,504.5L445.4,504.7L445.9,505.0L446.3,505.4L446.7,505.9L447.0,506.5L447.4,507.1L447.7,507.6L448.1,508.1L448.6,508.5L449.2,508.8L449.8,508.9L450.6,508.9L451.3,508.8L452.1,508.7L452.7,508.6L453.3,508.6L453.8,508.7L454.2,508.9L454.5,509.0" stroke="#e8913a" stroke-width="3.00" fill="none" stroke-linecap="round" stroke-linejoin="round"/>
<path d="M423.0,489.0L423.2,489.5L423.4,490.1L423.7,490.7L424.2,491.2L424.9,491.6L425.7,491.8L426.7,491.9L427.7,491.9L428.6,492.0L429.4,492.3L430.0,492.7L430.5,493.3L430.8,493.9L431.1,494.6L431.4,495.3L431.7,495.9L432.1,496.4L432.5,496.9L433.0,497.2L433.5,497.3L434.1,497.4L434.8,497.5L435.6,497.5L436.4,497.6L437.1,497.8L437.8,498.2L438.3,498.7L438.6,499.4L438.8,500.2L438.9,501.1L439.1,502.0L439.3,502.8L439.7,503.4L440.3,503.9L441.0,504.2L441.7,504.4L442.5,504.4L443.2,504.4L443.8,504.3L444.4,504.4L444.9,504.5L445.4,504.7L445.9,505.0L446.3,505.4L446.7,505.9L447.0,506.5L447.4,507.1L447.7,507.6L448.1,508.1L448.6,508.5L449.2,508.8L449.8,508.9L450.6,508.9L451.3,508.8L452.1,508.7L452.7,508.6L453.3,508.6L453.8,508.7L454.2,508.9L454.5,509.0" stroke="#e8913a" stroke-width="5.00" fill="none" stroke-dasharray="4.50 5.50"/>
<path d="M423.0,489.0L423.2,489.5L423.4,490.1L423.7,490.7L424.2,491.2L424.9,491.6L425.7,491.8L426.7,491.9L427.7,491.9L428.6,492.0L429.4,492.3L430.0,492.7L430.5,493.3L430.8,493.9L431.1,494.6L431.4,495.3L431.7,495.9L432.1,496.4L432.5,496.9L433.0,497.2L433.5,497.3L434.1,497.4L434.8,497.5L435.6,497.5L436.4,497.6L437.1,497.8L437.8,498.2L438.3,498.7L438.6,499.4L438.8,500.2L438.9,501.1L439.1,502.0L439.3,502.8L439.7,503.4L440.3,503.9L441.0,504.2L441.7,504.4L442.5,504.4L443.2,504.4L443.8,504.3L444.4,504.4L444.9,504.5L445.4,504.7L445.9,505.0L446.3,505.4L446.7,505.9L447.0,506.5L447.4,507.1L447.7,507.6L448.1,508.1L448.6,508.5L449.2,508.8L449.8,508.9L450.6,508.9L451.3,508.8L452.1,508.7L452.7,508.6L453.3,508.6L453.8,508.7L454.2,508.9L454.5,509.0" stroke="#7f4f1f" stroke-width="4.40" fill="none" stroke-dasharray="0.7 9.30" stroke-dashoffset="-4.50" stroke-opacity="0.75"/>
<path d="M454.0,510.0L454.2,510.3L454.5,510.7L454.8,511.2L455.2,511.6L455.6,511.9L456.2,512.2L456.9,512.3L457.6,512.3L458.3,512.3L459.1,512.2L459.8,512.2L460.3,512.2L460.9,512.3L461.3,512.5L461.8,512.8L462.2,513.2L462.6,513.6L463.0,514.1L463.4,514.6L463.8,515.1L464.2,515.5L464.6,515.8L465.0,516.1L465.5,516.3L466.1,516.4L466.8,516.4L467.5,516.5L468.3,516.5L469.0,516.7L469.6,516.9L470.2,517.3L470.6,517.8L471.0,518.4L471.2,519.0L471.5,519.7L471.7,520.3L472.0,520.9L472.3,521.4L472.7,521.8L473.1,522.1L473.6,522.4L474.2,522.5L474.8,522.6L475.4,522.7L476.0,522.8L476.6,522.9L477.1,523.0L477.5,523.2L478.0,523.5L478.4,523.8L478.7,524.3L479.1,524.8L479.4,525.4L479.7,526.0L480.0,526.5L480.3,526.9L480.6,527.3L481.0,527.5L481.3,527.7L481.5,527.8" stroke="#f0df3c" stroke-width="2.85" fill="none" stroke-linecap="round" stroke-linejoin="round"/>
<path d="M454.0,510.0L454.2,510.3L454.5,510.7L454.8,511.2L455.2,511.6L455.6,511.9L456.2,512.2L456.9,512.3L457.6,512.3L458.3,512.3L459.1,512.2L459.8,512.2L460.3,512.2L460.9,512.3L461.3,512.5L461.8,512.8L462.2,513.2L462.6,513.6L463.0,514.1L463.4,514.6L463.8,515.1L464.2,515.5L464.6,515.8L465.0,516.1L465.5,516.3L466.1,516.4L466.8,516.4L467.5,516.5L468.3,516.5L469.0,516.7L469.6,516.9L470.2,517.3L470.6,517.8L471.0,518.4L471.2,519.0L471.5,519.7L471.7,520.3L472.0,520.9L472.3,521.4L472.7,521.8L473.1,522.1L473.6,522.4L474.2,522.5L474.8,522.6L475.4,522.7L476.0,522.8L476.6,522.9L477.1,523.0L477.5,523.2L478.0,523.5L478.4,523.8L478.7,524.3L479.1,524.8L479.4,525.4L479.7,526.0L480.0,526.5L480.3,526.9L480.6,527.3L481.0,527.5L481.3,527.7L481.5,527.8" stroke="#f0df3c" stroke-width="4.75" fill="none" stroke-dasharray="4.50 5.50"/>
<path d="M454.0,510.0L454.2,510.3L454.5,510.7L454.8,511.2L455.2,511.6L455.6,511.9L456.2,512.2L456.9,512.3L457.6,512.3L458.3,512.3L459.1,512.2L459.8,512.2L460.3,512.2L460.9,512.3L461.3,512.5L461.8,512.8L462.2,513.2L462.6,513.6L463.0,514.1L463.4,514.6L463.8,515.1L464.2,515.5L464.6,515.8L465.0,516.1L465.5,516.3L466.1,516.4L466.8,516.4L467.5,516.5L468.3,516.5L469.0,516.7L469.6,516.9L470.2,517.3L470.6,517.8L471.0,518.4L471.2,519.0L471.5,519.7L471.7,520.3L472.0,520.9L472.3,521.4L472.7,521.8L473.1,522.1L473.6,522.4L474.2,522.5L474.8,522.6L475.4,522.7L476.0,522.8L476.6,522.9L477.1,523.0L477.5,523.2L478.0,523.5L478.4,523.8L478.7,524.3L479.1,524.8L479.4,525.4L479.7,526.0L480.0,526.5L480.3,526.9L480.6,527.3L481.0,527.5L481.3,527.7L481.5,527.8" stroke="#847a21" stroke-width="4.18" fill="none" stroke-dasharray="0.7 9.30" stroke-dashoffset="-4.50" stroke-opacity="0.75"/>
<path d="M482.0,527.0C483.0,527.7 486.0,529.2 488.0,531.0C490.0,532.8 492.3,536.0 494.0,538.0C495.7,540.0 497.3,542.2 498.0,543.0" stroke="#4cc0e4" stroke-width="3" fill="none" stroke-linecap="round" stroke-linejoin="round" stroke-opacity="1"/>
<path d="M501.0,526.3L502.7,526.3L504.5,527.3L506.5,529.0L508.2,531.1L509.6,533.0L510.6,534.3L511.1,534.7L508.0,535.9L506.3,535.9L504.5,534.9L502.5,533.2L500.8,531.1L499.4,529.2L498.4,527.9L497.9,527.5ZM509.8,523.1L511.4,523.1L513.3,524.0L515.2,525.8L517.0,527.8L518.4,529.7L519.4,531.1L519.9,531.5L516.7,532.6L515.1,532.6L513.2,531.7L511.3,529.9L509.5,527.9L508.1,526.0L507.1,524.6L506.6,524.2ZM518.5,519.8L520.2,519.8L522.0,520.8L524.0,522.5L525.7,524.6L527.1,526.5L528.1,527.8L528.6,528.2L525.5,529.4L523.8,529.4L522.0,528.4L520.0,526.7L518.3,524.6L516.9,522.7L515.9,521.4L515.4,521.0ZM527.3,516.6L528.9,516.6L530.8,517.5L532.7,519.3L534.5,521.3L535.9,523.2L536.9,524.6L537.4,525.0L534.2,526.1L532.6,526.1L530.7,525.2L528.8,523.4L527.0,521.4L525.6,519.5L524.6,518.1L524.1,517.7Z" fill="#123780"/>
<path d="M501.0,538.5L501.9,537.6L502.3,535.7L502.1,533.3L501.6,530.8L500.9,528.6L500.2,527.2L499.7,526.8L495.8,528.3L494.9,529.2L494.5,531.0L494.6,533.4L495.1,535.9L495.8,538.1L496.6,539.5L497.1,539.9ZM509.7,535.2L510.6,534.3L511.0,532.5L510.9,530.1L510.4,527.6L509.7,525.4L508.9,524.0L508.4,523.6L504.5,525.0L503.6,525.9L503.2,527.8L503.4,530.2L503.9,532.7L504.6,534.9L505.3,536.3L505.8,536.7ZM518.5,532.0L519.4,531.1L519.8,529.2L519.6,526.8L519.1,524.3L518.4,522.1L517.7,520.7L517.2,520.3L513.3,521.8L512.4,522.7L512.0,524.5L512.1,526.9L512.6,529.4L513.3,531.6L514.1,533.0L514.6,533.4ZM527.2,528.7L528.1,527.8L528.5,526.0L528.4,523.6L527.9,521.1L527.2,518.9L526.4,517.5L525.9,517.1L522.0,518.5L521.1,519.4L520.7,521.3L520.9,523.7L521.4,526.2L522.1,528.4L522.8,529.8L523.3,530.2Z" fill="#1f5dd6" stroke="#123780" stroke-width="0.35" stroke-opacity="0.6"/>
<path d="M499.2,538.2L499.0,536.9L498.7,535.2L498.4,533.4M508.0,534.9L507.8,533.7L507.5,532.0L507.1,530.1M516.7,531.7L516.5,530.4L516.2,528.7L515.9,526.9M525.5,528.4L525.3,527.2L525.0,525.5L524.6,523.6" stroke="#628de2" stroke-width="2.18" fill="none" stroke-linecap="round" stroke-opacity="0.55"/>
<path d="M540.0,523.4L540.6,524.8L540.5,526.8L539.7,529.1L538.6,531.3L537.5,533.1L536.7,534.4L536.5,535.0L534.4,532.6L533.8,531.2L533.9,529.2L534.7,526.9L535.8,524.7L536.9,522.9L537.7,521.6L537.9,521.0ZM546.0,530.1L546.6,531.5L546.5,533.5L545.7,535.7L544.6,537.9L543.5,539.8L542.7,541.1L542.5,541.7L540.4,539.3L539.8,537.8L539.9,535.9L540.7,533.6L541.8,531.4L542.9,529.5L543.7,528.2L543.9,527.7ZM552.0,536.7L552.6,538.2L552.5,540.1L551.7,542.4L550.6,544.6L549.5,546.5L548.7,547.8L548.5,548.3L546.4,545.9L545.8,544.5L545.9,542.5L546.7,540.3L547.8,538.1L548.9,536.2L549.7,534.9L549.9,534.3Z" fill="#123780"/>
<path d="M529.6,527.3L530.7,527.8L532.4,527.5L534.4,526.6L536.4,525.4L538.0,524.0L538.9,522.9L539.1,522.3L536.4,519.4L535.3,518.9L533.6,519.2L531.6,520.0L529.6,521.3L528.0,522.6L527.1,523.7L526.9,524.3ZM535.6,534.0L536.7,534.4L538.4,534.2L540.4,533.3L542.4,532.0L544.0,530.7L544.9,529.6L545.1,529.0L542.4,526.0L541.3,525.6L539.6,525.8L537.6,526.7L535.6,528.0L534.0,529.3L533.1,530.4L532.9,531.0ZM541.6,540.6L542.7,541.1L544.4,540.8L546.4,540.0L548.4,538.7L550.0,537.4L550.9,536.3L551.1,535.7L548.4,532.7L547.3,532.2L545.6,532.5L543.6,533.4L541.6,534.6L540.0,536.0L539.1,537.1L538.9,537.7Z" fill="#1f5dd6" stroke="#123780" stroke-width="0.35" stroke-opacity="0.6"/>
<path d="M529.2,525.6L530.2,525.1L531.5,524.3L533.0,523.3M535.2,532.3L536.2,531.7L537.5,530.9L539.0,530.0M541.2,539.0L542.2,538.4L543.5,537.6L545.0,536.7" stroke="#628de2" stroke-width="2.10" fill="none" stroke-linecap="round" stroke-opacity="0.55"/>
<path d="M566.0,530.0C568.3,530.3 575.2,531.3 580.0,532.0C584.8,532.7 591.2,533.5 595.0,534.0C598.8,534.5 601.7,534.8 603.0,535.0" stroke="#efb27e" stroke-width="2.6" fill="none" stroke-linecap="round" stroke-linejoin="round" stroke-opacity="1"/>
<path d="M587.4,514.2L588.6,515.4L589.2,517.4L589.3,519.9L589.1,522.4L588.7,524.5L588.5,526.0L588.5,526.7L585.4,525.0L584.2,523.8L583.6,521.8L583.5,519.3L583.7,516.8L584.1,514.7L584.3,513.2L584.3,512.5ZM596.1,518.9L597.2,520.1L597.9,522.1L598.0,524.5L597.8,527.0L597.4,529.2L597.1,530.7L597.2,531.3L594.1,529.6L592.9,528.4L592.3,526.4L592.1,524.0L592.4,521.5L592.7,519.3L593.0,517.8L592.9,517.2ZM604.7,523.6L605.9,524.8L606.5,526.8L606.7,529.2L606.4,531.7L606.1,533.9L605.8,535.4L605.9,536.0L602.7,534.3L601.6,533.1L600.9,531.1L600.8,528.7L601.0,526.2L601.4,524.0L601.7,522.5L601.6,521.9Z" fill="#1c5668"/>
<path d="M578.5,521.3L579.8,521.4L581.4,520.6L583.1,519.1L584.5,517.3L585.6,515.5L586.1,514.1L586.0,513.5L582.2,511.4L580.9,511.3L579.3,512.1L577.6,513.5L576.1,515.4L575.1,517.2L574.6,518.5L574.6,519.2ZM587.2,525.9L588.5,526.0L590.1,525.3L591.7,523.8L593.2,522.0L594.3,520.2L594.8,518.8L594.7,518.2L590.8,516.1L589.5,516.0L587.9,516.7L586.3,518.2L584.8,520.0L583.7,521.8L583.2,523.2L583.3,523.8ZM595.8,530.6L597.1,530.7L598.7,529.9L600.4,528.5L601.9,526.6L602.9,524.8L603.4,523.5L603.4,522.8L599.5,520.7L598.2,520.6L596.6,521.4L594.9,522.9L593.5,524.7L592.4,526.5L591.9,527.9L592.0,528.5Z" fill="#2f90ae" stroke="#1c5668" stroke-width="0.35" stroke-opacity="0.6"/>
<path d="M577.4,519.8L578.2,518.9L579.2,517.7L580.3,516.3M586.1,524.4L586.9,523.5L587.9,522.4L589.0,521.0M594.8,529.1L595.6,528.2L596.6,527.0L597.7,525.7" stroke="#6db1c6" stroke-width="2.30" fill="none" stroke-linecap="round" stroke-opacity="0.55"/>
<path d="M481.0,532.0C482.5,533.0 486.8,535.3 490.0,538.0C493.2,540.7 497.5,545.7 500.0,548.0C502.5,550.3 504.2,551.3 505.0,552.0" stroke="#4cc0e4" stroke-width="3" fill="none" stroke-linecap="round" stroke-linejoin="round" stroke-opacity="1"/>
<path d="M564.1,546.8L563.5,548.4L561.9,549.8L559.7,550.9L557.3,551.6L555.1,552.1L553.6,552.5L553.1,552.8L553.5,549.2L554.1,547.6L555.7,546.2L557.9,545.1L560.3,544.4L562.5,543.9L564.0,543.5L564.5,543.2ZM563.1,556.8L562.5,558.4L560.9,559.8L558.7,560.9L556.3,561.6L554.1,562.1L552.6,562.5L552.1,562.8L552.5,559.2L553.1,557.6L554.7,556.2L556.9,555.1L559.3,554.4L561.5,553.9L563.0,553.5L563.5,553.2Z" fill="#8b5722"/>
<path d="M554.3,541.2L554.6,542.5L556.0,543.7L558.0,544.7L560.2,545.3L562.3,545.6L563.8,545.6L564.3,545.2L564.7,540.8L564.4,539.5L563.0,538.3L561.0,537.3L558.8,536.7L556.7,536.4L555.2,536.4L554.7,536.8ZM553.3,551.2L553.6,552.5L555.0,553.7L557.0,554.7L559.2,555.3L561.3,555.6L562.8,555.6L563.3,555.2L563.7,550.8L563.4,549.5L562.0,548.3L560.0,547.3L557.8,546.7L555.7,546.4L554.2,546.4L553.7,546.8Z" fill="#e8913a" stroke="#8b5722" stroke-width="0.35" stroke-opacity="0.6"/>
<path d="M555.2,539.6L556.4,540.0L557.8,540.5L559.5,541.0M554.2,549.6L555.4,550.0L556.8,550.5L558.5,551.0" stroke="#eeb275" stroke-width="2.35" fill="none" stroke-linecap="round" stroke-opacity="0.55"/>
<path d="M557.0,556.0C558.8,556.8 564.2,559.5 568.0,561.0C571.8,562.5 578.0,564.3 580.0,565.0" stroke="#4cc0e4" stroke-width="3.4" fill="none" stroke-linecap="round" stroke-linejoin="round" stroke-opacity="1"/>
<path d="M580.0,565.0C581.3,565.7 585.7,568.0 588.0,569.0C590.3,570.0 593.0,570.7 594.0,571.0" stroke="#f0df3c" stroke-width="3.4" fill="none" stroke-linecap="round" stroke-linejoin="round" stroke-opacity="1"/>
<path d="M594.0,571.0C594.7,570.0 597.3,566.8 598.0,565.0C598.7,563.2 598.0,560.8 598.0,560.0" stroke="#e8913a" stroke-width="3.4" fill="none" stroke-linecap="round" stroke-linejoin="round" stroke-opacity="1"/>
<path d="M598.0,560.0C597.5,558.7 596.5,555.0 595.0,552.0C593.5,549.0 591.3,544.8 589.0,542.0C586.7,539.2 582.3,536.2 581.0,535.0" stroke="#f0df3c" stroke-width="3.4" fill="none" stroke-linecap="round" stroke-linejoin="round" stroke-opacity="1"/>
<path d="M535.0,555.0C536.3,554.3 540.5,552.3 543.0,551.0C545.5,549.7 548.8,547.7 550.0,547.0" stroke="#f0df3c" stroke-width="3.2" fill="none" stroke-linecap="round" stroke-linejoin="round" stroke-opacity="1"/>
<ellipse cx="526" cy="556" rx="8" ry="9" stroke="#1f5dd6" stroke-width="3.2" fill="none"/>
<ellipse cx="527" cy="556.5" rx="5" ry="6" stroke="#163f9c" stroke-width="1.4" fill="none"/>
<path d="M522.5,562.9L521.2,564.0L518.9,564.5L515.9,564.4L512.8,564.0L510.1,563.4L508.3,563.0L507.5,563.0L509.1,559.9L510.4,558.8L512.7,558.3L515.7,558.4L518.8,558.8L521.5,559.4L523.3,559.8L524.1,559.8ZM518.2,571.6L516.9,572.7L514.6,573.2L511.6,573.1L508.5,572.6L505.8,572.1L503.9,571.6L503.2,571.7L504.7,568.5L506.0,567.4L508.4,566.9L511.3,567.0L514.4,567.5L517.1,568.1L519.0,568.5L519.8,568.5ZM513.9,580.3L512.6,581.4L510.2,581.9L507.3,581.8L504.2,581.3L501.5,580.7L499.6,580.3L498.8,580.3L500.4,577.2L501.7,576.1L504.0,575.6L507.0,575.7L510.1,576.2L512.8,576.7L514.7,577.2L515.4,577.1Z" fill="#908524"/>
<path d="M512.5,553.0L512.6,554.3L513.8,556.1L515.9,558.0L518.3,559.7L520.7,560.9L522.5,561.6L523.2,561.6L525.1,557.7L525.1,556.3L523.9,554.6L521.8,552.7L519.3,551.0L517.0,549.7L515.2,549.1L514.5,549.1ZM508.2,561.6L508.3,563.0L509.5,564.7L511.5,566.6L514.0,568.3L516.4,569.6L518.1,570.2L518.9,570.2L520.8,566.4L520.7,565.0L519.5,563.3L517.5,561.4L515.0,559.7L512.6,558.4L510.9,557.8L510.1,557.8ZM503.9,570.3L503.9,571.7L505.1,573.4L507.2,575.3L509.7,577.0L512.0,578.3L513.8,578.9L514.5,578.9L516.5,575.0L516.4,573.7L515.2,571.9L513.1,570.0L510.7,568.3L508.3,567.1L506.5,566.4L505.8,566.4Z" fill="#f0df3c" stroke="#908524" stroke-width="0.35" stroke-opacity="0.6"/>
<path d="M514.2,552.0L515.4,552.9L517.0,554.1L518.8,555.3M509.9,560.6L511.1,561.6L512.7,562.7L514.5,564.0M505.5,569.3L506.7,570.3L508.3,571.4L510.2,572.7" stroke="#f4e876" stroke-width="2.27" fill="none" stroke-linecap="round" stroke-opacity="0.55"/>
<path d="M509.0,591.5L507.6,593.1L505.1,594.1L502.0,594.5L498.8,594.5L495.9,594.3L494.0,594.1L493.2,594.2L495.0,590.1L496.4,588.5L498.9,587.5L502.0,587.1L505.2,587.1L508.1,587.3L510.0,587.5L510.8,587.4ZM504.0,603.0L502.6,604.6L500.1,605.6L497.0,606.0L493.8,606.0L490.9,605.8L489.0,605.6L488.2,605.7L490.0,601.6L491.4,600.0L493.9,599.0L497.0,598.6L500.2,598.6L503.1,598.8L505.0,599.0L505.8,598.9Z" fill="#8b5722"/>
<path d="M499.0,580.9L499.0,582.6L500.2,584.6L502.2,586.5L504.8,588.2L507.2,589.4L509.0,589.9L509.8,589.7L512.0,584.6L512.0,582.9L510.8,580.9L508.8,579.0L506.2,577.3L503.8,576.1L502.0,575.6L501.2,575.8ZM494.0,592.4L494.0,594.1L495.2,596.1L497.2,598.0L499.8,599.7L502.2,600.9L504.0,601.4L504.8,601.2L507.0,596.1L507.0,594.4L505.8,592.4L503.8,590.5L501.2,588.8L498.8,587.6L497.0,587.1L496.2,587.3Z" fill="#e8913a" stroke="#8b5722" stroke-width="0.35" stroke-opacity="0.6"/>
<path d="M500.8,579.4L502.0,580.4L503.6,581.5L505.5,582.8M495.8,590.9L497.0,591.9L498.6,593.0L500.5,594.2" stroke="#eeb275" stroke-width="2.93" fill="none" stroke-linecap="round" stroke-opacity="0.55"/>
<path d="M502.8,612.2L502.0,613.9L500.0,615.3L497.2,616.4L494.2,617.1L491.5,617.6L489.7,617.9L489.0,618.2L489.6,614.2L490.4,612.5L492.4,611.1L495.2,610.0L498.2,609.3L500.9,608.8L502.7,608.5L503.4,608.2ZM501.3,623.2L500.5,624.9L498.5,626.3L495.7,627.4L492.7,628.1L490.0,628.6L488.2,628.9L487.5,629.2L488.1,625.2L488.9,623.5L490.9,622.1L493.7,621.0L496.7,620.3L499.4,619.8L501.2,619.5L501.9,619.2Z" fill="#8b5722"/>
<path d="M490.7,605.4L491.2,606.9L492.8,608.3L495.3,609.5L498.0,610.3L500.6,610.8L502.4,610.8L503.1,610.5L503.8,605.6L503.3,604.1L501.7,602.7L499.2,601.5L496.5,600.7L493.9,600.2L492.1,600.2L491.4,600.5ZM489.2,616.4L489.7,617.9L491.3,619.3L493.8,620.5L496.5,621.3L499.1,621.8L500.9,621.8L501.6,621.5L502.3,616.6L501.8,615.1L500.2,613.7L497.7,612.5L495.0,611.7L492.4,611.2L490.6,611.2L489.9,611.5Z" fill="#e8913a" stroke="#8b5722" stroke-width="0.35" stroke-opacity="0.6"/>
<path d="M492.0,603.7L493.4,604.3L495.2,604.9L497.2,605.5M490.5,614.7L491.9,615.3L493.7,615.9L495.8,616.5" stroke="#eeb275" stroke-width="2.60" fill="none" stroke-linecap="round" stroke-opacity="0.55"/>
<path d="M496.8,632.9L495.9,634.2L494.0,635.1L491.7,635.6L489.2,635.8L487.0,635.8L485.5,635.8L484.9,635.9L486.0,632.7L486.9,631.4L488.8,630.5L491.1,630.0L493.6,629.8L495.8,629.8L497.3,629.8L497.9,629.7ZM493.8,641.9L492.9,643.2L491.0,644.1L488.7,644.6L486.2,644.8L484.0,644.8L482.5,644.8L481.9,644.9L483.0,641.7L483.9,640.4L485.8,639.5L488.1,639.0L490.6,638.8L492.8,638.8L494.3,638.8L494.9,638.7Z" fill="#8b5722"/>
<path d="M488.3,625.5L488.5,626.8L489.5,628.2L491.3,629.6L493.3,630.7L495.3,631.4L496.7,631.7L497.3,631.5L498.7,627.5L498.5,626.2L497.5,624.8L495.7,623.4L493.7,622.3L491.7,621.6L490.3,621.3L489.7,621.5ZM485.3,634.5L485.5,635.8L486.5,637.2L488.3,638.6L490.3,639.7L492.3,640.4L493.7,640.7L494.3,640.5L495.7,636.5L495.5,635.2L494.5,633.8L492.7,632.4L490.7,631.3L488.7,630.6L487.3,630.3L486.7,630.5Z" fill="#e8913a" stroke="#8b5722" stroke-width="0.35" stroke-opacity="0.6"/>
<path d="M489.6,624.2L490.6,624.9L492.0,625.7L493.5,626.5M486.6,633.2L487.6,633.9L489.0,634.7L490.5,635.5" stroke="#eeb275" stroke-width="2.22" fill="none" stroke-linecap="round" stroke-opacity="0.55"/>
<path d="M489.0,640.0C488.3,641.0 486.3,644.3 485.0,646.0C483.7,647.7 481.7,649.3 481.0,650.0" stroke="#e8913a" stroke-width="3" fill="none" stroke-linecap="round" stroke-linejoin="round" stroke-opacity="1"/>
<polygon points="537.4,583.0 554.9,588.2 547.4,592.8 555.8,610.5 547.4,615.3 539.1,597.4 531.3,601.5" fill="#d20000" stroke="#3a0000" stroke-width="0.7" stroke-linejoin="miter"/>
<path d="M460.3,922.2L461.8,922.2L463.6,923.1L465.5,924.7L467.3,926.6L468.8,928.5L469.9,929.7L470.4,930.1L467.7,931.4L466.2,931.4L464.4,930.5L462.5,928.9L460.7,927.0L459.2,925.1L458.1,923.9L457.6,923.5ZM467.8,918.7L469.3,918.7L471.1,919.6L473.0,921.2L474.8,923.1L476.3,925.0L477.4,926.2L477.9,926.6L475.2,927.9L473.7,927.9L471.9,927.0L470.0,925.4L468.2,923.5L466.7,921.6L465.6,920.4L465.1,920.0Z" fill="#908524"/>
<path d="M461.7,934.2L462.4,933.2L462.5,931.4L462.1,929.1L461.4,926.6L460.5,924.5L459.6,923.2L459.1,922.8L455.8,924.3L455.1,925.3L455.0,927.1L455.4,929.4L456.1,931.9L457.0,934.0L457.9,935.3L458.4,935.7ZM469.2,930.7L469.9,929.7L470.0,927.9L469.6,925.6L468.9,923.1L468.0,921.0L467.1,919.7L466.6,919.3L463.3,920.8L462.6,921.8L462.5,923.6L462.9,925.9L463.6,928.4L464.5,930.5L465.4,931.8L465.9,932.2Z" fill="#f0df3c" stroke="#908524" stroke-width="0.35" stroke-opacity="0.6"/>
<path d="M460.1,933.9L459.8,932.7L459.3,931.1L458.8,929.2M467.6,930.4L467.3,929.2L466.8,927.6L466.2,925.8" stroke="#f4e876" stroke-width="1.94" fill="none" stroke-linecap="round" stroke-opacity="0.55"/>
<path d="M475.3,916.1L476.6,916.2L478.2,917.3L479.9,919.1L481.4,921.3L482.7,923.2L483.6,924.6L484.0,925.0L481.5,925.9L480.2,925.8L478.6,924.7L476.9,922.9L475.4,920.7L474.1,918.8L473.2,917.4L472.8,917.0ZM482.3,913.6L483.6,913.7L485.2,914.8L486.9,916.6L488.4,918.8L489.7,920.7L490.6,922.1L491.0,922.5L488.5,923.4L487.2,923.3L485.6,922.2L483.9,920.4L482.4,918.2L481.1,916.3L480.2,914.9L479.8,914.5Z" fill="#908524"/>
<path d="M475.9,927.9L476.6,927.1L476.8,925.3L476.6,923.0L476.0,920.5L475.3,918.3L474.6,916.9L474.2,916.4L471.1,917.6L470.4,918.4L470.2,920.2L470.4,922.5L471.0,925.0L471.7,927.2L472.4,928.6L472.8,929.1ZM482.9,925.4L483.6,924.6L483.8,922.8L483.6,920.5L483.0,918.0L482.3,915.8L481.6,914.4L481.2,913.9L478.1,915.1L477.4,915.9L477.2,917.7L477.4,920.0L478.0,922.5L478.7,924.7L479.4,926.1L479.8,926.6Z" fill="#f0df3c" stroke="#908524" stroke-width="0.35" stroke-opacity="0.6"/>
<path d="M474.4,927.5L474.2,926.2L473.9,924.6L473.5,922.8M481.4,925.0L481.2,923.7L480.9,922.1L480.5,920.2" stroke="#f4e876" stroke-width="1.74" fill="none" stroke-linecap="round" stroke-opacity="0.55"/>
<path d="M490.8,912.1L492.1,912.4L493.5,913.8L494.8,915.9L496.0,918.3L496.9,920.4L497.6,921.9L497.9,922.5L495.2,922.9L493.9,922.6L492.5,921.2L491.2,919.1L490.0,916.7L489.1,914.6L488.4,913.1L488.1,912.5ZM498.3,910.8L499.6,911.2L501.0,912.6L502.3,914.7L503.5,917.0L504.4,919.2L505.1,920.7L505.4,921.2L502.7,921.7L501.4,921.3L500.0,919.9L498.7,917.8L497.5,915.5L496.6,913.3L495.9,911.8L495.6,911.3Z" fill="#908524"/>
<path d="M489.2,923.9L490.1,923.2L490.6,921.5L490.8,919.2L490.7,916.6L490.4,914.3L490.0,912.8L489.6,912.3L486.3,912.8L485.4,913.6L484.9,915.2L484.7,917.6L484.8,920.2L485.1,922.4L485.5,924.0L485.9,924.5ZM496.7,922.7L497.6,921.9L498.1,920.3L498.3,917.9L498.2,915.3L497.9,913.1L497.5,911.5L497.1,911.0L493.8,911.6L492.9,912.3L492.4,914.0L492.2,916.3L492.3,918.9L492.6,921.2L493.0,922.7L493.4,923.2Z" fill="#f0df3c" stroke="#908524" stroke-width="0.35" stroke-opacity="0.6"/>
<path d="M487.8,923.2L487.9,921.9L487.8,920.3L487.8,918.4M495.3,922.0L495.4,920.7L495.3,919.0L495.2,917.1" stroke="#f4e876" stroke-width="1.78" fill="none" stroke-linecap="round" stroke-opacity="0.55"/>
<path d="M506.5,910.5L507.8,911.1L509.0,912.6L510.0,914.9L510.8,917.4L511.5,919.6L511.9,921.2L512.2,921.8L509.5,921.9L508.2,921.3L507.0,919.8L506.0,917.5L505.2,915.0L504.5,912.8L504.1,911.2L503.8,910.6ZM514.0,910.3L515.3,910.8L516.5,912.4L517.5,914.6L518.3,917.1L519.0,919.4L519.4,921.0L519.7,921.5L517.0,921.6L515.7,921.1L514.5,919.5L513.5,917.3L512.7,914.8L512.0,912.5L511.6,910.9L511.3,910.4Z" fill="#908524"/>
<path d="M503.5,922.1L504.4,921.5L505.1,919.9L505.6,917.5L505.9,915.0L505.9,912.7L505.6,911.1L505.4,910.6L502.0,910.7L501.1,911.3L500.4,912.9L499.9,915.2L499.6,917.7L499.6,920.0L499.9,921.6L500.1,922.2ZM511.0,921.8L511.9,921.2L512.6,919.6L513.1,917.3L513.4,914.8L513.4,912.5L513.1,910.9L512.9,910.3L509.5,910.4L508.6,911.0L507.9,912.6L507.4,915.0L507.1,917.5L507.1,919.8L507.4,921.4L507.6,921.9Z" fill="#f0df3c" stroke="#908524" stroke-width="0.35" stroke-opacity="0.6"/>
<path d="M502.2,921.2L502.4,919.9L502.6,918.3L502.8,916.4M509.7,921.0L509.9,919.7L510.1,918.0L510.2,916.1" stroke="#f4e876" stroke-width="1.76" fill="none" stroke-linecap="round" stroke-opacity="0.55"/>
<path d="M522.9,911.4L524.2,912.1L525.2,913.8L525.9,916.2L526.4,918.8L526.7,921.2L526.9,922.8L527.1,923.4L524.3,923.0L523.0,922.3L522.0,920.6L521.3,918.2L520.8,915.6L520.5,913.2L520.3,911.6L520.1,911.0ZM530.9,912.4L532.2,913.1L533.2,914.8L533.9,917.2L534.4,919.8L534.7,922.2L534.9,923.8L535.1,924.4L532.3,924.0L531.0,923.3L530.0,921.6L529.3,919.2L528.8,916.6L528.5,914.2L528.3,912.6L528.1,912.0Z" fill="#908524"/>
<path d="M517.9,922.2L518.9,921.8L520.0,920.3L520.9,918.1L521.5,915.7L521.9,913.4L521.9,911.8L521.7,911.2L518.1,910.8L517.1,911.2L516.0,912.7L515.1,914.9L514.5,917.3L514.1,919.6L514.1,921.2L514.3,921.8ZM525.9,923.2L526.9,922.8L528.0,921.3L528.9,919.1L529.5,916.7L529.9,914.4L529.9,912.8L529.7,912.2L526.1,911.8L525.1,912.2L524.0,913.7L523.1,915.9L522.5,918.3L522.1,920.6L522.1,922.2L522.3,922.8Z" fill="#f0df3c" stroke="#908524" stroke-width="0.35" stroke-opacity="0.6"/>
<path d="M516.6,921.2L517.0,919.9L517.5,918.3L518.0,916.5M524.6,922.2L525.0,920.9L525.5,919.3L526.0,917.5" stroke="#f4e876" stroke-width="1.89" fill="none" stroke-linecap="round" stroke-opacity="0.55"/>
<path d="M539.7,911.3L541.4,911.7L543.1,913.1L544.6,915.3L545.9,917.7L546.8,919.9L547.5,921.4L547.9,921.9L544.3,922.3L542.6,921.9L540.9,920.5L539.4,918.3L538.1,915.9L537.2,913.7L536.5,912.2L536.1,911.7ZM549.7,910.3L551.4,910.7L553.1,912.1L554.6,914.3L555.9,916.7L556.8,918.9L557.5,920.4L557.9,920.9L554.3,921.3L552.6,920.9L550.9,919.5L549.4,917.3L548.1,914.9L547.2,912.7L546.5,911.2L546.1,910.7ZM559.7,909.3L561.4,909.7L563.1,911.1L564.6,913.3L565.9,915.7L566.8,917.9L567.5,919.4L567.9,919.9L564.3,920.3L562.6,919.9L560.9,918.5L559.4,916.3L558.1,913.9L557.2,911.7L556.5,910.2L556.1,909.7Z" fill="#2d7388"/>
<path d="M536.3,923.1L537.5,922.4L538.4,920.7L538.9,918.4L539.1,915.8L538.9,913.5L538.6,912.0L538.2,911.5L533.7,911.9L532.5,912.6L531.6,914.3L531.1,916.6L530.9,919.2L531.1,921.5L531.4,923.0L531.8,923.5ZM546.3,922.1L547.5,921.4L548.4,919.7L548.9,917.4L549.1,914.8L548.9,912.5L548.6,911.0L548.2,910.5L543.7,910.9L542.5,911.6L541.6,913.3L541.1,915.6L540.9,918.2L541.1,920.5L541.4,922.0L541.8,922.5ZM556.3,921.1L557.5,920.4L558.4,918.7L558.9,916.4L559.1,913.8L558.9,911.5L558.6,910.0L558.2,909.5L553.7,909.9L552.5,910.6L551.6,912.3L551.1,914.6L550.9,917.2L551.1,919.5L551.4,921.0L551.8,921.5Z" fill="#4cc0e4" stroke="#2d7388" stroke-width="0.35" stroke-opacity="0.6"/>
<path d="M534.5,922.4L534.7,921.1L534.9,919.4L535.0,917.5M544.5,921.4L544.7,920.1L544.9,918.4L545.0,916.5M554.5,920.4L554.7,919.1L554.9,917.4L555.0,915.5" stroke="#81d2ec" stroke-width="2.35" fill="none" stroke-linecap="round" stroke-opacity="0.55"/>
<path d="M569.2,908.0L570.8,908.3L572.5,909.7L574.1,911.8L575.4,914.2L576.4,916.3L577.1,917.8L577.5,918.3L574.0,918.8L572.4,918.5L570.7,917.1L569.1,915.0L567.8,912.6L566.8,910.5L566.1,909.0L565.7,908.5ZM578.8,906.6L580.5,907.0L582.2,908.4L583.7,910.4L585.1,912.8L586.1,915.0L586.7,916.5L587.2,917.0L583.7,917.5L582.0,917.1L580.3,915.8L578.8,913.7L577.5,911.3L576.5,909.1L575.8,907.6L575.4,907.1ZM588.5,905.3L590.2,905.7L591.9,907.0L593.4,909.1L594.7,911.5L595.7,913.7L596.4,915.2L596.8,915.7L593.4,916.2L591.7,915.8L590.0,914.4L588.5,912.4L587.1,910.0L586.1,907.8L585.5,906.3L585.0,905.8Z" fill="#2d7388"/>
<path d="M566.3,919.9L567.4,919.2L568.2,917.5L568.7,915.1L568.7,912.5L568.5,910.2L568.1,908.7L567.7,908.2L563.3,908.8L562.2,909.5L561.4,911.2L561.0,913.6L560.9,916.2L561.2,918.4L561.6,920.0L562.0,920.5ZM576.0,918.5L577.1,917.8L577.9,916.1L578.3,913.8L578.4,911.2L578.2,908.9L577.8,907.4L577.3,906.9L573.0,907.5L571.9,908.2L571.1,909.9L570.7,912.2L570.6,914.8L570.8,917.1L571.2,918.6L571.7,919.1ZM585.7,917.2L586.8,916.5L587.6,914.8L588.0,912.4L588.1,909.8L587.8,907.6L587.4,906.0L587.0,905.5L582.7,906.1L581.6,906.8L580.8,908.5L580.3,910.9L580.3,913.5L580.5,915.8L580.9,917.3L581.3,917.8Z" fill="#4cc0e4" stroke="#2d7388" stroke-width="0.35" stroke-opacity="0.6"/>
<path d="M564.6,919.2L564.7,917.9L564.8,916.2L564.8,914.3M574.2,917.9L574.4,916.6L574.4,914.9L574.5,913.0M583.9,916.6L584.0,915.3L584.1,913.6L584.2,911.7" stroke="#81d2ec" stroke-width="2.28" fill="none" stroke-linecap="round" stroke-opacity="0.55"/>
<path d="M599.8,904.3L601.7,904.7L603.5,906.1L605.1,908.3L606.4,910.7L607.4,912.9L608.1,914.4L608.5,914.9L604.6,915.3L602.7,914.9L600.9,913.5L599.3,911.3L598.0,908.9L597.0,906.7L596.3,905.2L595.9,904.7Z" fill="#123780"/>
<path d="M595.8,916.1L597.1,915.4L598.1,913.7L598.8,911.4L599.0,908.8L598.9,906.5L598.5,905.0L598.1,904.5L593.2,904.9L591.9,905.6L590.9,907.3L590.2,909.6L590.0,912.2L590.1,914.5L590.5,916.0L590.9,916.5Z" fill="#1f5dd6" stroke="#123780" stroke-width="0.35" stroke-opacity="0.6"/>
<path d="M593.9,915.4L594.1,914.1L594.3,912.4L594.5,910.5" stroke="#628de2" stroke-width="2.58" fill="none" stroke-linecap="round" stroke-opacity="0.55"/>
<path d="M608.1,903.6L609.5,904.1L610.9,905.6L612.2,907.8L613.2,910.2L614.0,912.4L614.5,914.0L614.9,914.5L611.9,914.8L610.5,914.3L609.1,912.8L607.8,910.6L606.8,908.2L606.0,906.0L605.5,904.4L605.1,903.9ZM616.5,903.0L617.9,903.4L619.3,904.9L620.5,907.1L621.6,909.5L622.3,911.8L622.9,913.3L623.2,913.9L620.2,914.1L618.8,913.6L617.4,912.2L616.2,910.0L615.1,907.5L614.3,905.3L613.8,903.7L613.5,903.2ZM624.8,902.3L626.2,902.8L627.6,904.2L628.8,906.4L629.9,908.9L630.7,911.1L631.2,912.7L631.5,913.2L628.5,913.4L627.1,913.0L625.7,911.5L624.5,909.3L623.4,906.9L622.7,904.6L622.1,903.1L621.8,902.5Z" fill="#2d7388"/>
<path d="M605.2,915.3L606.2,914.7L607.0,913.0L607.4,910.7L607.6,908.1L607.5,905.8L607.2,904.3L606.8,903.7L603.1,904.0L602.1,904.7L601.4,906.3L600.9,908.7L600.7,911.2L600.9,913.5L601.2,915.1L601.5,915.6ZM613.6,914.6L614.5,914.0L615.3,912.3L615.8,910.0L615.9,907.5L615.8,905.2L615.5,903.6L615.2,903.1L611.4,903.4L610.5,904.0L609.7,905.7L609.2,908.0L609.1,910.5L609.2,912.8L609.5,914.4L609.8,914.9ZM621.9,914.0L622.9,913.3L623.6,911.7L624.1,909.3L624.3,906.8L624.1,904.5L623.8,902.9L623.5,902.4L619.8,902.7L618.8,903.3L618.0,905.0L617.6,907.3L617.4,909.9L617.5,912.2L617.8,913.7L618.2,914.3Z" fill="#4cc0e4" stroke="#2d7388" stroke-width="0.35" stroke-opacity="0.6"/>
<path d="M603.8,914.5L603.9,913.2L604.0,911.6L604.2,909.7M612.1,913.9L612.2,912.6L612.4,910.9L612.5,909.0M620.4,913.2L620.6,911.9L620.7,910.2L620.8,908.3" stroke="#81d2ec" stroke-width="1.96" fill="none" stroke-linecap="round" stroke-opacity="0.55"/>
<path d="M634.0,901.3L635.6,901.7L637.2,903.1L638.6,905.3L639.8,907.7L640.7,909.9L641.4,911.4L641.8,911.9L638.4,912.3L636.8,911.9L635.2,910.5L633.8,908.3L632.6,905.9L631.7,903.7L631.0,902.2L630.6,901.7ZM643.3,900.3L644.9,900.7L646.5,902.1L648.0,904.3L649.2,906.7L650.1,908.9L650.7,910.4L651.1,910.9L647.7,911.3L646.1,910.9L644.6,909.5L643.1,907.3L641.9,904.9L641.0,902.7L640.4,901.2L640.0,900.7ZM652.7,899.3L654.3,899.7L655.8,901.1L657.3,903.3L658.5,905.7L659.4,907.9L660.0,909.4L660.4,909.9L657.1,910.3L655.5,909.9L653.9,908.5L652.4,906.3L651.2,903.9L650.3,901.7L649.7,900.2L649.3,899.7Z" fill="#2d7388"/>
<path d="M631.0,913.1L632.0,912.4L632.9,910.7L633.3,908.4L633.5,905.8L633.3,903.5L632.9,902.0L632.5,901.5L628.4,901.9L627.3,902.6L626.5,904.3L626.0,906.6L625.9,909.2L626.0,911.5L626.4,913.0L626.8,913.5ZM640.3,912.1L641.4,911.4L642.2,909.7L642.7,907.4L642.8,904.8L642.6,902.5L642.3,901.0L641.9,900.5L637.7,900.9L636.6,901.6L635.8,903.3L635.3,905.6L635.2,908.2L635.4,910.5L635.7,912.0L636.1,912.5ZM649.6,911.1L650.7,910.4L651.5,908.7L652.0,906.4L652.1,903.8L652.0,901.5L651.6,900.0L651.2,899.5L647.0,899.9L646.0,900.6L645.1,902.3L644.7,904.6L644.5,907.2L644.7,909.5L645.1,911.0L645.5,911.5Z" fill="#4cc0e4" stroke="#2d7388" stroke-width="0.35" stroke-opacity="0.6"/>
<path d="M629.3,912.4L629.4,911.1L629.6,909.4L629.7,907.5M638.6,911.4L638.8,910.1L638.9,908.4L639.0,906.5M648.0,910.4L648.1,909.1L648.2,907.4L648.3,905.5" stroke="#81d2ec" stroke-width="2.20" fill="none" stroke-linecap="round" stroke-opacity="0.55"/>
<rect x="452" y="928" width="7" height="4.5" fill="#b8651e" transform="rotate(-20 455 931)"/>
<path d="M424.4,899.0L425.7,899.7L426.7,901.4L427.5,903.8L427.9,906.3L428.2,908.5L428.3,910.1L428.6,910.7L425.6,910.2L424.3,909.5L423.3,907.8L422.5,905.4L422.1,902.9L421.8,900.7L421.7,899.1L421.4,898.5ZM432.8,900.3L434.1,901.1L435.1,902.8L435.8,905.1L436.3,907.6L436.5,909.9L436.7,911.4L436.9,912.0L433.9,911.5L432.6,910.8L431.6,909.1L430.9,906.8L430.4,904.2L430.2,902.0L430.0,900.4L429.8,899.8ZM441.1,901.7L442.4,902.4L443.4,904.1L444.1,906.4L444.6,909.0L444.8,911.2L445.0,912.8L445.2,913.4L442.2,912.9L440.9,912.1L439.9,910.4L439.2,908.1L438.7,905.6L438.5,903.3L438.3,901.8L438.1,901.2Z" fill="#2d7388"/>
<path d="M418.9,909.1L420.0,908.8L421.1,907.4L422.1,905.4L422.9,903.0L423.3,900.9L423.4,899.4L423.1,898.8L419.4,898.2L418.3,898.6L417.2,899.9L416.2,902.0L415.5,904.3L415.0,906.4L415.0,908.0L415.2,908.6ZM427.2,910.5L428.4,910.1L429.5,908.8L430.5,906.7L431.2,904.4L431.6,902.2L431.7,900.7L431.5,900.1L427.8,899.5L426.6,899.9L425.5,901.2L424.5,903.3L423.8,905.6L423.4,907.8L423.3,909.3L423.5,909.9ZM435.6,911.8L436.7,911.4L437.8,910.1L438.8,908.0L439.5,905.7L440.0,903.6L440.0,902.0L439.8,901.4L436.1,900.9L435.0,901.2L433.9,902.6L432.9,904.6L432.1,907.0L431.7,909.1L431.6,910.6L431.9,911.2Z" fill="#4cc0e4" stroke="#2d7388" stroke-width="0.35" stroke-opacity="0.6"/>
<path d="M417.6,908.1L418.1,906.9L418.6,905.4L419.2,903.7M426.0,909.4L426.4,908.3L427.0,906.7L427.5,905.0M434.3,910.7L434.8,909.6L435.3,908.1L435.8,906.3" stroke="#81d2ec" stroke-width="1.97" fill="none" stroke-linecap="round" stroke-opacity="0.55"/>
<path d="M450.4,903.0L451.8,903.7L453.0,905.4L453.9,907.8L454.5,910.3L454.9,912.6L455.1,914.1L455.4,914.7L452.0,914.2L450.6,913.5L449.4,911.8L448.5,909.4L447.9,906.9L447.5,904.6L447.3,903.1L447.0,902.5ZM459.7,904.3L461.2,905.1L462.4,906.8L463.3,909.1L463.9,911.6L464.2,913.9L464.5,915.5L464.7,916.0L461.3,915.6L459.9,914.8L458.7,913.1L457.8,910.8L457.2,908.2L456.9,906.0L456.6,904.4L456.4,903.8ZM469.1,905.6L470.5,906.4L471.7,908.1L472.6,910.4L473.2,913.0L473.5,915.2L473.8,916.8L474.0,917.4L470.7,916.9L469.2,916.1L468.0,914.4L467.1,912.1L466.5,909.6L466.2,907.3L465.9,905.7L465.7,905.2Z" fill="#2d7388"/>
<path d="M444.6,913.2L445.8,912.8L447.0,911.4L448.0,909.4L448.8,907.0L449.2,904.9L449.2,903.4L448.9,902.8L444.8,902.2L443.5,902.5L442.3,903.9L441.3,906.0L440.6,908.3L440.2,910.5L440.2,912.0L440.4,912.6ZM453.9,914.5L455.1,914.1L456.3,912.8L457.4,910.7L458.1,908.4L458.5,906.2L458.5,904.7L458.3,904.1L454.1,903.5L452.9,903.9L451.7,905.2L450.6,907.3L449.9,909.6L449.5,911.8L449.5,913.3L449.7,913.9ZM463.2,915.8L464.5,915.5L465.7,914.1L466.7,912.0L467.4,909.7L467.8,907.5L467.8,906.0L467.6,905.4L463.4,904.8L462.2,905.2L461.0,906.6L460.0,908.6L459.2,911.0L458.8,913.1L458.8,914.6L459.1,915.2Z" fill="#4cc0e4" stroke="#2d7388" stroke-width="0.35" stroke-opacity="0.6"/>
<path d="M443.1,912.1L443.6,910.9L444.1,909.4L444.7,907.7M452.5,913.4L452.9,912.3L453.4,910.7L454.0,909.0M461.8,914.8L462.3,913.6L462.8,912.1L463.3,910.3" stroke="#81d2ec" stroke-width="2.21" fill="none" stroke-linecap="round" stroke-opacity="0.55"/>
<path d="M480.1,907.1L481.8,907.9L483.3,909.7L484.4,912.0L485.1,914.6L485.6,916.8L486.0,918.4L486.3,919.0L482.3,918.5L480.6,917.7L479.1,915.9L478.0,913.6L477.3,911.0L476.8,908.8L476.4,907.2L476.1,906.6ZM491.1,908.6L492.8,909.4L494.3,911.2L495.4,913.5L496.1,916.1L496.6,918.3L497.0,919.9L497.3,920.5L493.3,920.0L491.6,919.2L490.1,917.4L489.0,915.1L488.3,912.5L487.8,910.3L487.4,908.7L487.1,908.1Z" fill="#2d7388"/>
<path d="M473.6,917.3L475.0,916.9L476.4,915.6L477.5,913.5L478.3,911.2L478.7,909.0L478.7,907.5L478.3,906.9L473.4,906.2L472.0,906.6L470.6,907.9L469.5,910.0L468.7,912.3L468.3,914.5L468.3,916.0L468.7,916.6ZM484.6,918.8L486.0,918.4L487.4,917.1L488.5,915.0L489.3,912.7L489.7,910.5L489.7,909.0L489.3,908.4L484.4,907.7L483.0,908.1L481.6,909.4L480.5,911.5L479.7,913.8L479.3,916.0L479.3,917.5L479.7,918.1Z" fill="#4cc0e4" stroke="#2d7388" stroke-width="0.35" stroke-opacity="0.6"/>
<path d="M471.8,916.2L472.3,915.0L472.9,913.5L473.5,911.8M482.8,917.7L483.3,916.5L483.9,915.0L484.5,913.2" stroke="#81d2ec" stroke-width="2.60" fill="none" stroke-linecap="round" stroke-opacity="0.55"/>
<path d="M497.7,907.2L499.2,907.6L500.7,908.9L502.1,910.8L503.3,913.1L504.2,915.2L504.9,916.6L505.3,917.1L502.3,917.6L500.8,917.2L499.3,915.9L497.9,914.0L496.7,911.7L495.8,909.6L495.1,908.2L494.7,907.7ZM506.1,905.9L507.5,906.2L509.0,907.5L510.4,909.5L511.6,911.8L512.6,913.8L513.2,915.3L513.6,915.7L510.6,916.2L509.2,915.9L507.7,914.6L506.2,912.6L505.0,910.4L504.1,908.3L503.4,906.9L503.1,906.4ZM514.4,904.6L515.8,904.9L517.3,906.2L518.8,908.2L520.0,910.4L520.9,912.5L521.6,913.9L521.9,914.4L518.9,914.9L517.5,914.6L516.0,913.3L514.6,911.3L513.4,909.0L512.4,907.0L511.8,905.5L511.4,905.1Z" fill="#2d7388"/>
<path d="M495.6,918.6L496.6,917.9L497.2,916.3L497.5,914.0L497.5,911.6L497.2,909.4L496.8,907.9L496.4,907.5L492.7,908.0L491.8,908.7L491.1,910.4L490.8,912.6L490.8,915.1L491.1,917.3L491.5,918.7L491.9,919.2ZM504.0,917.3L504.9,916.6L505.5,915.0L505.9,912.7L505.8,910.2L505.5,908.1L505.1,906.6L504.7,906.1L501.0,906.7L500.1,907.4L499.5,909.0L499.1,911.3L499.2,913.8L499.5,915.9L499.9,917.4L500.3,917.9ZM512.3,916.0L513.2,915.3L513.9,913.6L514.2,911.4L514.2,908.9L513.9,906.7L513.5,905.3L513.1,904.8L509.4,905.4L508.4,906.1L507.8,907.7L507.5,910.0L507.5,912.4L507.8,914.6L508.2,916.1L508.6,916.5Z" fill="#4cc0e4" stroke="#2d7388" stroke-width="0.35" stroke-opacity="0.6"/>
<path d="M494.1,918.0L494.2,916.8L494.2,915.1L494.2,913.3M502.4,916.7L502.5,915.4L502.5,913.8L502.5,912.0M510.8,915.3L510.8,914.1L510.8,912.5L510.8,910.7" stroke="#81d2ec" stroke-width="1.97" fill="none" stroke-linecap="round" stroke-opacity="0.55"/>
<path d="M522.1,901.8L523.7,901.8L525.5,902.8L527.4,904.4L529.0,906.4L530.4,908.3L531.3,909.6L531.8,910.0L528.7,911.0L527.1,911.0L525.3,910.0L523.4,908.4L521.8,906.4L520.4,904.5L519.5,903.2L519.0,902.8ZM530.8,898.8L532.4,898.8L534.2,899.8L536.0,901.4L537.7,903.4L539.0,905.3L540.0,906.6L540.4,907.0L537.3,908.0L535.7,908.0L533.9,907.0L532.1,905.4L530.4,903.4L529.1,901.5L528.2,900.2L527.7,899.8ZM539.5,895.8L541.1,895.8L542.9,896.8L544.7,898.4L546.4,900.4L547.7,902.3L548.6,903.6L549.1,904.0L546.0,905.0L544.4,905.0L542.6,904.0L540.8,902.4L539.1,900.4L537.8,898.5L536.8,897.2L536.4,896.8Z" fill="#2d7388"/>
<path d="M521.7,913.4L522.6,912.6L523.1,910.8L523.0,908.5L522.6,906.1L521.9,904.0L521.3,902.6L520.8,902.2L516.9,903.6L516.0,904.4L515.6,906.2L515.6,908.5L516.1,910.9L516.7,913.0L517.4,914.4L517.9,914.8ZM530.4,910.4L531.3,909.6L531.7,907.8L531.7,905.5L531.3,903.1L530.6,901.0L529.9,899.6L529.5,899.2L525.6,900.6L524.7,901.4L524.3,903.2L524.3,905.5L524.7,907.9L525.4,910.0L526.1,911.4L526.5,911.8ZM539.1,907.4L540.0,906.6L540.4,904.8L540.4,902.5L539.9,900.1L539.3,898.0L538.6,896.6L538.1,896.2L534.3,897.6L533.4,898.4L532.9,900.2L533.0,902.5L533.4,904.9L534.1,907.0L534.7,908.4L535.2,908.8Z" fill="#4cc0e4" stroke="#2d7388" stroke-width="0.35" stroke-opacity="0.6"/>
<path d="M520.0,913.1L519.9,911.9L519.6,910.3L519.3,908.5M528.7,910.1L528.6,908.9L528.3,907.3L528.0,905.5M537.3,907.1L537.2,905.9L537.0,904.3L536.7,902.5" stroke="#81d2ec" stroke-width="2.15" fill="none" stroke-linecap="round" stroke-opacity="0.55"/>
<path d="M548.8,894.9L550.1,895.3L551.5,896.7L552.7,898.8L553.7,901.2L554.4,903.3L555.0,904.8L555.3,905.3L552.4,905.5L551.1,905.1L549.7,903.7L548.5,901.6L547.5,899.2L546.8,897.1L546.2,895.6L545.9,895.1ZM556.8,894.2L558.1,894.6L559.5,896.1L560.7,898.1L561.7,900.5L562.4,902.6L563.0,904.1L563.3,904.6L560.4,904.9L559.1,904.4L557.7,903.0L556.5,900.9L555.5,898.6L554.8,896.4L554.2,895.0L553.9,894.5ZM564.8,893.5L566.1,894.0L567.5,895.4L568.7,897.5L569.7,899.8L570.4,902.0L571.0,903.4L571.3,903.9L568.4,904.2L567.1,903.8L565.7,902.3L564.5,900.3L563.5,897.9L562.8,895.8L562.2,894.3L561.9,893.8Z" fill="#2d7388"/>
<path d="M546.0,906.0L547.0,905.4L547.7,903.9L548.1,901.6L548.3,899.2L548.2,897.0L547.9,895.5L547.5,895.0L544.0,895.3L543.0,895.9L542.3,897.5L541.9,899.7L541.7,902.2L541.8,904.3L542.1,905.8L542.5,906.3ZM554.0,905.4L555.0,904.8L555.7,903.2L556.1,901.0L556.3,898.5L556.2,896.3L555.9,894.8L555.5,894.3L552.0,894.6L551.0,895.2L550.3,896.8L549.9,899.0L549.7,901.5L549.8,903.7L550.1,905.2L550.5,905.7ZM562.0,904.7L563.0,904.1L563.7,902.5L564.1,900.3L564.3,897.8L564.2,895.7L563.9,894.2L563.5,893.7L560.0,894.0L559.0,894.6L558.3,896.1L557.9,898.4L557.7,900.8L557.8,903.0L558.1,904.5L558.5,905.0Z" fill="#4cc0e4" stroke="#2d7388" stroke-width="0.35" stroke-opacity="0.6"/>
<path d="M544.6,905.3L544.8,904.1L544.9,902.5L545.0,900.7M552.6,904.6L552.8,903.4L552.9,901.8L553.0,900.0M560.6,904.0L560.8,902.7L560.9,901.1L561.0,899.3" stroke="#81d2ec" stroke-width="1.88" fill="none" stroke-linecap="round" stroke-opacity="0.55"/>
<path d="M571.9,890.8L573.5,890.8L575.3,891.8L577.1,893.4L578.8,895.4L580.1,897.3L581.0,898.5L581.5,898.9L578.5,900.0L576.9,900.0L575.1,899.0L573.3,897.4L571.6,895.4L570.3,893.5L569.4,892.3L568.9,891.9ZM580.4,887.8L582.0,887.8L583.8,888.8L585.6,890.4L587.3,892.4L588.6,894.3L589.5,895.5L590.0,895.9L587.0,897.0L585.4,897.0L583.6,896.0L581.8,894.4L580.1,892.4L578.8,890.5L577.9,889.3L577.4,888.9Z" fill="#2d7388"/>
<path d="M571.7,902.4L572.5,901.5L572.9,899.8L572.9,897.5L572.4,895.1L571.8,893.0L571.1,891.6L570.6,891.2L566.8,892.6L566.0,893.5L565.6,895.2L565.6,897.5L566.1,899.9L566.7,902.0L567.4,903.4L567.9,903.8ZM580.2,899.4L581.0,898.5L581.4,896.8L581.4,894.5L580.9,892.1L580.3,890.0L579.6,888.6L579.1,888.2L575.3,889.6L574.5,890.5L574.1,892.2L574.1,894.5L574.6,896.9L575.2,899.0L575.9,900.4L576.4,900.8Z" fill="#4cc0e4" stroke="#2d7388" stroke-width="0.35" stroke-opacity="0.6"/>
<path d="M570.0,902.1L569.8,900.9L569.6,899.3L569.2,897.5M578.5,899.1L578.3,897.9L578.1,896.3L577.8,894.5" stroke="#81d2ec" stroke-width="2.11" fill="none" stroke-linecap="round" stroke-opacity="0.55"/>
<path d="M593.5,885.6L595.5,885.8L597.6,887.0L599.5,888.9L601.1,891.0L602.3,893.1L603.1,894.5L603.7,894.9L599.3,895.6L597.3,895.4L595.2,894.2L593.3,892.3L591.7,890.2L590.5,888.1L589.7,886.7L589.1,886.3Z" fill="#123780"/>
<path d="M589.8,897.2L591.1,896.5L592.2,894.7L592.8,892.4L592.9,890.0L592.6,887.8L592.1,886.3L591.6,885.9L586.2,886.8L584.9,887.5L583.8,889.3L583.2,891.6L583.1,894.0L583.4,896.2L583.9,897.7L584.4,898.1Z" fill="#1f5dd6" stroke="#123780" stroke-width="0.35" stroke-opacity="0.6"/>
<path d="M587.6,896.7L587.8,895.5L587.9,893.8L588.0,892.0" stroke="#628de2" stroke-width="2.85" fill="none" stroke-linecap="round" stroke-opacity="0.55"/>
<path d="M601.2,885.5L602.4,886.1L603.4,887.6L604.3,889.8L605.0,892.2L605.5,894.4L605.9,895.9L606.1,896.5L603.6,896.5L602.4,895.9L601.4,894.4L600.5,892.2L599.8,889.8L599.3,887.6L598.9,886.1L598.7,885.5Z" fill="#2d7388"/>
<path d="M598.0,896.5L598.9,895.9L599.6,894.4L600.2,892.2L600.5,889.8L600.5,887.6L600.4,886.1L600.1,885.5L597.0,885.5L596.1,886.1L595.4,887.6L594.8,889.8L594.5,892.2L594.5,894.4L594.6,895.9L594.9,896.5Z" fill="#4cc0e4" stroke="#2d7388" stroke-width="0.35" stroke-opacity="0.6"/>
<path d="M596.8,895.6L597.1,894.4L597.3,892.8L597.5,891.0" stroke="#81d2ec" stroke-width="1.64" fill="none" stroke-linecap="round" stroke-opacity="0.55"/>
<path d="M607.4,884.6L608.7,884.9L609.9,886.3L611.1,888.3L612.2,890.6L613.0,892.7L613.6,894.2L613.9,894.7L611.4,895.0L610.1,894.7L608.9,893.3L607.7,891.3L606.6,889.0L605.8,886.9L605.2,885.4L604.9,884.9Z" fill="#123780"/>
<path d="M605.8,895.8L606.6,895.2L607.1,893.6L607.3,891.3L607.3,888.9L607.0,886.7L606.7,885.2L606.3,884.7L603.2,885.2L602.4,885.8L601.9,887.4L601.7,889.7L601.7,892.1L602.0,894.3L602.3,895.8L602.7,896.3Z" fill="#1f5dd6" stroke="#123780" stroke-width="0.35" stroke-opacity="0.6"/>
<path d="M604.5,895.2L604.5,893.9L604.5,892.3L604.5,890.5" stroke="#628de2" stroke-width="1.65" fill="none" stroke-linecap="round" stroke-opacity="0.55"/>
<path d="M618.3,883.2L620.1,883.5L621.9,884.8L623.6,886.8L624.9,889.1L626.0,891.2L626.7,892.6L627.1,893.1L623.3,893.6L621.5,893.3L619.7,892.0L618.0,890.0L616.7,887.7L615.6,885.6L614.9,884.2L614.5,883.7ZM629.0,881.9L630.8,882.2L632.6,883.5L634.2,885.5L635.6,887.8L636.6,889.8L637.3,891.3L637.8,891.8L634.0,892.2L632.1,891.9L630.3,890.6L628.7,888.6L627.3,886.4L626.3,884.3L625.6,882.9L625.1,882.4ZM639.6,880.6L641.5,880.9L643.3,882.2L644.9,884.2L646.3,886.4L647.3,888.5L648.0,889.9L648.5,890.4L644.6,890.9L642.8,890.6L641.0,889.3L639.4,887.3L638.0,885.0L637.0,883.0L636.3,881.5L635.8,881.0Z" fill="#2d7388"/>
<path d="M614.8,894.6L616.0,893.9L617.0,892.3L617.5,890.0L617.7,887.6L617.5,885.4L617.1,883.9L616.6,883.4L611.9,884.0L610.6,884.7L609.7,886.4L609.1,888.6L609.0,891.1L609.2,893.3L609.6,894.8L610.0,895.2ZM625.5,893.3L626.7,892.6L627.6,891.0L628.2,888.7L628.4,886.2L628.2,884.1L627.8,882.6L627.3,882.1L622.5,882.7L621.3,883.4L620.4,885.0L619.8,887.3L619.6,889.8L619.8,891.9L620.2,893.4L620.7,893.9ZM636.1,892.0L637.4,891.3L638.3,889.6L638.9,887.4L639.0,884.9L638.8,882.7L638.4,881.2L638.0,880.8L633.2,881.4L632.0,882.1L631.0,883.7L630.5,886.0L630.3,888.4L630.5,890.6L630.9,892.1L631.4,892.6Z" fill="#4cc0e4" stroke="#2d7388" stroke-width="0.35" stroke-opacity="0.6"/>
<path d="M612.9,894.0L613.1,892.8L613.2,891.2L613.3,889.3M623.5,892.7L623.7,891.4L623.9,889.8L624.0,888.0M634.2,891.4L634.4,890.1L634.5,888.5L634.7,886.7" stroke="#81d2ec" stroke-width="2.52" fill="none" stroke-linecap="round" stroke-opacity="0.55"/>
<path d="M649.4,878.9L651.1,879.2L652.9,880.4L654.5,882.3L655.9,884.6L657.0,886.6L657.7,888.0L658.2,888.5L654.6,889.1L652.9,888.8L651.1,887.6L649.5,885.7L648.1,883.4L647.0,881.4L646.3,880.0L645.8,879.5ZM659.4,877.2L661.1,877.5L662.9,878.7L664.5,880.7L665.9,882.9L667.0,884.9L667.7,886.4L668.2,886.8L664.6,887.4L662.9,887.2L661.1,885.9L659.5,884.0L658.1,881.8L657.0,879.7L656.3,878.3L655.8,877.8ZM669.4,875.6L671.1,875.8L672.9,877.1L674.5,879.0L675.9,881.2L677.0,883.3L677.7,884.7L678.2,885.2L674.6,885.8L672.9,885.5L671.1,884.3L669.5,882.3L668.1,880.1L667.0,878.1L666.3,876.6L665.8,876.2Z" fill="#2d7388"/>
<path d="M646.6,890.4L647.8,889.7L648.6,888.0L649.0,885.7L649.0,883.3L648.7,881.1L648.3,879.6L647.8,879.2L643.4,879.9L642.2,880.6L641.4,882.3L641.0,884.6L641.0,887.1L641.3,889.2L641.7,890.7L642.2,891.2ZM656.6,888.8L657.8,888.0L658.6,886.3L659.0,884.1L659.0,881.6L658.7,879.4L658.3,878.0L657.8,877.5L653.4,878.2L652.2,879.0L651.4,880.7L651.0,882.9L651.0,885.4L651.3,887.6L651.7,889.0L652.2,889.5ZM666.6,887.1L667.8,886.4L668.6,884.7L669.0,882.4L669.0,879.9L668.7,877.8L668.3,876.3L667.8,875.8L663.4,876.6L662.2,877.3L661.4,879.0L661.0,881.3L661.0,883.7L661.3,885.9L661.7,887.4L662.2,887.8Z" fill="#4cc0e4" stroke="#2d7388" stroke-width="0.35" stroke-opacity="0.6"/>
<path d="M644.8,889.9L644.9,888.6L645.0,887.0L645.0,885.2M654.8,888.2L654.9,886.9L655.0,885.3L655.0,883.5M664.8,886.5L664.9,885.3L665.0,883.7L665.0,881.8" stroke="#81d2ec" stroke-width="2.37" fill="none" stroke-linecap="round" stroke-opacity="0.55"/>
<path d="M413.7,891.8L415.2,892.3L416.6,893.8L417.8,896.0L418.8,898.5L419.6,900.7L420.1,902.3L420.5,902.8L417.3,903.0L415.8,902.5L414.4,901.0L413.2,898.8L412.2,896.3L411.4,894.1L410.9,892.5L410.5,892.0ZM422.4,891.3L423.9,891.8L425.3,893.3L426.6,895.5L427.6,898.0L428.4,900.2L428.9,901.8L429.2,902.3L426.1,902.5L424.6,902.0L423.2,900.5L421.9,898.3L420.9,895.8L420.1,893.6L419.6,892.0L419.3,891.5ZM431.2,890.8L432.7,891.3L434.1,892.8L435.3,895.0L436.3,897.5L437.1,899.7L437.6,901.3L438.0,901.8L434.8,902.0L433.3,901.5L431.9,900.0L430.7,897.8L429.7,895.3L428.9,893.1L428.4,891.5L428.0,891.0ZM439.9,890.3L441.4,890.8L442.8,892.3L444.1,894.5L445.1,897.0L445.9,899.2L446.4,900.8L446.7,901.3L443.6,901.5L442.1,901.0L440.7,899.5L439.4,897.3L438.4,894.8L437.6,892.6L437.1,891.0L436.8,890.5Z" fill="#2d7388"/>
<path d="M410.3,903.4L411.4,902.8L412.2,901.1L412.8,898.8L413.0,896.3L412.9,894.0L412.7,892.4L412.3,891.9L408.4,892.1L407.4,892.7L406.5,894.4L406.0,896.7L405.8,899.2L405.8,901.5L406.1,903.1L406.4,903.6ZM419.1,902.9L420.1,902.3L421.0,900.6L421.5,898.3L421.7,895.8L421.7,893.5L421.4,891.9L421.1,891.4L417.2,891.6L416.1,892.2L415.3,893.9L414.7,896.2L414.5,898.7L414.6,901.0L414.8,902.6L415.2,903.1ZM427.8,902.4L428.9,901.8L429.7,900.1L430.3,897.8L430.5,895.3L430.4,893.0L430.2,891.4L429.8,890.9L425.9,891.1L424.9,891.7L424.0,893.4L423.5,895.7L423.3,898.2L423.3,900.5L423.6,902.1L423.9,902.6ZM436.6,901.9L437.6,901.3L438.5,899.6L439.0,897.3L439.2,894.8L439.2,892.5L438.9,890.9L438.6,890.4L434.7,890.6L433.6,891.2L432.8,892.9L432.2,895.2L432.0,897.7L432.1,900.0L432.3,901.6L432.7,902.1Z" fill="#4cc0e4" stroke="#2d7388" stroke-width="0.35" stroke-opacity="0.6"/>
<path d="M408.8,902.6L409.0,901.3L409.2,899.6L409.4,897.8M417.6,902.1L417.8,900.8L418.0,899.1L418.1,897.2M426.3,901.6L426.5,900.3L426.7,898.6L426.9,896.8M435.1,901.1L435.3,899.8L435.5,898.1L435.6,896.2" stroke="#81d2ec" stroke-width="2.05" fill="none" stroke-linecap="round" stroke-opacity="0.55"/>
<path d="M450.1,890.0L451.8,890.5L453.3,892.0L454.7,894.2L455.8,896.7L456.6,899.0L457.1,900.6L457.5,901.1L453.9,901.2L452.2,900.7L450.7,899.2L449.3,897.0L448.2,894.5L447.4,892.2L446.9,890.6L446.5,890.1ZM460.1,889.6L461.8,890.1L463.3,891.7L464.7,893.9L465.8,896.4L466.6,898.7L467.1,900.2L467.5,900.8L463.9,900.9L462.2,900.4L460.7,898.9L459.3,896.6L458.2,894.1L457.4,891.9L456.9,890.3L456.5,889.7ZM470.1,889.3L471.8,889.8L473.3,891.3L474.7,893.6L475.8,896.1L476.6,898.3L477.1,899.9L477.5,900.5L473.9,900.6L472.2,900.1L470.7,898.5L469.3,896.3L468.2,893.8L467.4,891.5L466.9,890.0L466.5,889.4Z" fill="#2d7388"/>
<path d="M445.9,901.5L447.1,900.9L448.1,899.3L448.8,897.0L449.2,894.4L449.2,892.1L448.9,890.6L448.5,890.0L444.1,890.2L442.9,890.8L441.9,892.4L441.2,894.7L440.8,897.2L440.8,899.5L441.1,901.1L441.5,901.7ZM455.9,901.2L457.1,900.6L458.1,899.0L458.8,896.6L459.2,894.1L459.2,891.8L458.9,890.2L458.5,889.7L454.1,889.8L452.9,890.4L451.9,892.0L451.2,894.4L450.8,896.9L450.8,899.2L451.1,900.8L451.5,901.3ZM465.9,900.8L467.1,900.2L468.1,898.6L468.8,896.3L469.2,893.8L469.2,891.5L468.9,889.9L468.5,889.3L464.1,889.5L462.9,890.1L461.9,891.7L461.2,894.0L460.8,896.6L460.8,898.9L461.1,900.4L461.5,901.0Z" fill="#4cc0e4" stroke="#2d7388" stroke-width="0.35" stroke-opacity="0.6"/>
<path d="M444.2,900.7L444.5,899.4L444.7,897.7L445.0,895.8M454.2,900.3L454.5,899.1L454.7,897.4L455.0,895.5M464.2,900.0L464.5,898.7L464.7,897.1L465.0,895.2" stroke="#81d2ec" stroke-width="2.34" fill="none" stroke-linecap="round" stroke-opacity="0.55"/>
<path d="M479.6,889.0L481.2,889.6L482.7,891.1L484.0,893.4L485.0,895.9L485.7,898.1L486.2,899.7L486.6,900.3L483.2,900.4L481.6,899.8L480.1,898.3L478.8,896.0L477.8,893.5L477.1,891.3L476.6,889.7L476.2,889.1ZM489.1,888.8L490.7,889.3L492.2,890.9L493.5,893.1L494.5,895.6L495.2,897.9L495.7,899.5L496.1,900.0L492.7,900.1L491.1,899.6L489.6,898.0L488.3,895.8L487.3,893.3L486.6,891.0L486.1,889.4L485.7,888.9Z" fill="#2d7388"/>
<path d="M475.6,900.6L476.7,900.0L477.7,898.4L478.4,896.0L478.7,893.5L478.7,891.2L478.5,889.6L478.1,889.1L473.9,889.2L472.8,889.8L471.8,891.4L471.1,893.7L470.8,896.2L470.8,898.5L471.0,900.1L471.4,900.7ZM485.1,900.3L486.2,899.7L487.2,898.1L487.9,895.8L488.2,893.3L488.2,891.0L488.0,889.4L487.6,888.8L483.4,888.9L482.3,889.5L481.3,891.1L480.6,893.5L480.3,896.0L480.3,898.3L480.5,899.9L480.9,900.4Z" fill="#4cc0e4" stroke="#2d7388" stroke-width="0.35" stroke-opacity="0.6"/>
<path d="M474.0,899.7L474.2,898.4L474.5,896.8L474.8,894.9M483.5,899.5L483.7,898.2L484.0,896.5L484.2,894.6" stroke="#81d2ec" stroke-width="2.22" fill="none" stroke-linecap="round" stroke-opacity="0.55"/>
<path d="M498.1,888.5L499.6,889.1L501.0,890.6L502.2,892.9L503.2,895.4L503.9,897.6L504.4,899.2L504.7,899.8L501.5,899.9L500.0,899.3L498.6,897.8L497.4,895.5L496.4,893.0L495.7,890.8L495.2,889.2L494.9,888.6ZM507.1,888.3L508.6,888.8L510.0,890.4L511.2,892.6L512.2,895.1L512.9,897.4L513.4,899.0L513.7,899.5L510.5,899.6L509.0,899.1L507.6,897.5L506.4,895.3L505.4,892.8L504.7,890.5L504.2,888.9L503.9,888.4ZM516.1,888.0L517.6,888.6L519.0,890.1L520.2,892.4L521.2,894.9L521.9,897.1L522.4,898.7L522.7,899.3L519.5,899.4L518.0,898.8L516.6,897.3L515.4,895.0L514.4,892.5L513.7,890.3L513.2,888.7L512.9,888.1ZM525.1,887.8L526.6,888.3L528.0,889.9L529.2,892.1L530.2,894.6L530.9,896.9L531.4,898.5L531.7,899.0L528.5,899.1L527.0,898.6L525.6,897.0L524.4,894.8L523.4,892.3L522.7,890.0L522.2,888.4L521.9,887.9Z" fill="#908524"/>
<path d="M494.3,900.1L495.4,899.5L496.3,897.9L497.0,895.5L497.3,893.0L497.3,890.7L497.0,889.1L496.7,888.6L492.7,888.7L491.6,889.3L490.7,890.9L490.0,893.2L489.7,895.7L489.7,898.0L490.0,899.6L490.3,900.2ZM503.3,899.8L504.4,899.2L505.3,897.6L506.0,895.3L506.3,892.8L506.3,890.5L506.0,888.9L505.7,888.3L501.7,888.4L500.6,889.0L499.7,890.6L499.0,893.0L498.7,895.5L498.7,897.8L499.0,899.4L499.3,899.9ZM512.3,899.6L513.4,899.0L514.3,897.4L515.0,895.0L515.3,892.5L515.3,890.2L515.0,888.6L514.7,888.1L510.7,888.2L509.6,888.8L508.7,890.4L508.0,892.7L507.7,895.2L507.7,897.5L508.0,899.1L508.3,899.7ZM521.3,899.3L522.4,898.7L523.3,897.1L524.0,894.8L524.3,892.3L524.3,890.0L524.0,888.4L523.7,887.8L519.7,887.9L518.6,888.5L517.7,890.1L517.0,892.5L516.7,895.0L516.7,897.3L517.0,898.9L517.3,899.4Z" fill="#f0df3c" stroke="#908524" stroke-width="0.35" stroke-opacity="0.6"/>
<path d="M492.8,899.2L493.0,897.9L493.3,896.3L493.5,894.4M501.8,899.0L502.0,897.7L502.3,896.0L502.5,894.1M510.8,898.7L511.0,897.4L511.3,895.8L511.5,893.9M519.8,898.5L520.0,897.2L520.3,895.5L520.5,893.6" stroke="#f4e876" stroke-width="2.11" fill="none" stroke-linecap="round" stroke-opacity="0.55"/>
<path d="M534.9,887.0L536.6,887.5L538.2,888.9L539.6,891.1L540.8,893.6L541.7,895.8L542.3,897.4L542.7,897.9L539.1,898.2L537.4,897.7L535.8,896.3L534.4,894.1L533.2,891.6L532.3,889.4L531.7,887.8L531.3,887.3ZM544.9,886.3L546.6,886.7L548.2,888.2L549.6,890.4L550.8,892.8L551.7,895.1L552.3,896.6L552.7,897.1L549.1,897.4L547.4,897.0L545.8,895.5L544.4,893.3L543.2,890.9L542.3,888.6L541.7,887.1L541.3,886.6Z" fill="#2d7388"/>
<path d="M531.2,898.8L532.3,898.1L533.3,896.4L533.9,894.1L534.1,891.5L534.0,889.3L533.7,887.7L533.3,887.2L528.8,887.5L527.7,888.2L526.7,889.8L526.1,892.1L525.9,894.7L526.0,897.0L526.3,898.6L526.7,899.1ZM541.2,898.0L542.3,897.3L543.3,895.7L543.9,893.4L544.1,890.8L544.0,888.5L543.7,886.9L543.3,886.4L538.8,886.7L537.7,887.4L536.7,889.1L536.1,891.4L535.9,894.0L536.0,896.2L536.3,897.8L536.7,898.3Z" fill="#4cc0e4" stroke="#2d7388" stroke-width="0.35" stroke-opacity="0.6"/>
<path d="M529.4,898.0L529.6,896.7L529.8,895.0L530.0,893.1M539.4,897.2L539.6,896.0L539.8,894.3L540.0,892.4" stroke="#81d2ec" stroke-width="2.35" fill="none" stroke-linecap="round" stroke-opacity="0.55"/>
<path d="M556.1,885.8L557.9,886.3L559.6,887.8L561.2,890.0L562.4,892.5L563.3,894.7L563.9,896.3L564.3,896.8L560.3,897.0L558.5,896.5L556.8,895.0L555.2,892.8L554.0,890.3L553.1,888.1L552.5,886.5L552.1,886.0ZM567.1,885.3L568.9,885.8L570.6,887.3L572.2,889.5L573.4,892.0L574.3,894.2L574.9,895.8L575.3,896.3L571.3,896.5L569.5,896.0L567.8,894.5L566.2,892.3L565.0,889.8L564.1,887.6L563.5,886.0L563.1,885.5Z" fill="#2d7388"/>
<path d="M551.6,897.4L552.9,896.8L554.0,895.1L554.7,892.8L555.1,890.3L555.1,888.0L554.8,886.4L554.3,885.9L549.4,886.1L548.1,886.7L547.0,888.4L546.3,890.7L545.9,893.2L545.9,895.5L546.2,897.1L546.7,897.6ZM562.6,896.9L563.9,896.3L565.0,894.6L565.7,892.3L566.1,889.8L566.1,887.5L565.8,885.9L565.3,885.4L560.4,885.6L559.1,886.2L558.0,887.9L557.3,890.2L556.9,892.7L556.9,895.0L557.2,896.6L557.7,897.1Z" fill="#4cc0e4" stroke="#2d7388" stroke-width="0.35" stroke-opacity="0.6"/>
<path d="M549.7,896.6L550.0,895.3L550.2,893.6L550.5,891.8M560.7,896.1L561.0,894.8L561.2,893.1L561.5,891.2" stroke="#81d2ec" stroke-width="2.58" fill="none" stroke-linecap="round" stroke-opacity="0.55"/>
<path d="M574.9,882.7L576.6,882.8L578.4,883.9L580.3,885.7L581.9,887.9L583.2,889.9L584.1,891.3L584.6,891.7L581.3,892.7L579.6,892.6L577.8,891.5L575.9,889.7L574.3,887.5L573.0,885.5L572.1,884.1L571.6,883.7ZM584.2,880.0L585.8,880.0L587.7,881.1L589.5,883.0L591.2,885.1L592.5,887.1L593.4,888.5L593.9,889.0L590.5,889.9L588.9,889.9L587.0,888.8L585.2,886.9L583.5,884.8L582.2,882.8L581.3,881.4L580.8,880.9ZM593.4,877.2L595.1,877.3L596.9,878.4L598.8,880.2L600.4,882.4L601.7,884.4L602.6,885.8L603.1,886.2L599.8,887.2L598.1,887.1L596.3,886.0L594.4,884.2L592.8,882.0L591.5,880.0L590.6,878.6L590.1,878.2ZM602.7,874.5L604.3,874.5L606.2,875.6L608.0,877.5L609.7,879.6L611.0,881.6L611.9,883.0L612.4,883.5L609.0,884.4L607.4,884.4L605.5,883.3L603.7,881.4L602.0,879.3L600.7,877.3L599.8,875.9L599.3,875.4Z" fill="#2d7388"/>
<path d="M573.9,894.9L574.9,894.0L575.4,892.2L575.5,889.8L575.2,887.2L574.6,885.0L573.9,883.6L573.5,883.1L569.3,884.4L568.4,885.2L567.8,887.0L567.8,889.5L568.1,892.0L568.7,894.2L569.3,895.7L569.8,896.1ZM583.2,892.1L584.1,891.3L584.7,889.5L584.7,887.0L584.4,884.5L583.8,882.3L583.2,880.8L582.7,880.4L578.6,881.6L577.6,882.5L577.1,884.3L577.0,886.7L577.3,889.3L577.9,891.5L578.6,892.9L579.0,893.4ZM592.4,889.4L593.4,888.5L593.9,886.7L594.0,884.3L593.7,881.7L593.1,879.5L592.4,878.1L592.0,877.6L587.8,878.9L586.9,879.7L586.3,881.5L586.3,884.0L586.6,886.5L587.2,888.7L587.8,890.2L588.3,890.6ZM601.7,886.6L602.6,885.8L603.2,884.0L603.2,881.5L602.9,879.0L602.3,876.8L601.7,875.3L601.2,874.9L597.1,876.1L596.1,877.0L595.6,878.8L595.5,881.2L595.8,883.8L596.4,886.0L597.1,887.4L597.5,887.9Z" fill="#4cc0e4" stroke="#2d7388" stroke-width="0.35" stroke-opacity="0.6"/>
<path d="M572.1,894.5L572.0,893.2L571.9,891.5L571.6,889.6M581.4,891.8L581.3,890.4L581.1,888.8L580.9,886.9M590.6,889.0L590.5,887.7L590.4,886.0L590.1,884.1M599.9,886.3L599.8,884.9L599.6,883.3L599.4,881.4" stroke="#81d2ec" stroke-width="2.26" fill="none" stroke-linecap="round" stroke-opacity="0.55"/>
<path d="M613.8,871.4L615.8,871.5L617.9,872.5L619.9,874.4L621.6,876.5L623.0,878.5L624.0,879.9L624.5,880.3L620.6,881.4L618.6,881.3L616.5,880.3L614.5,878.4L612.8,876.3L611.4,874.3L610.4,872.9L609.9,872.5Z" fill="#123780"/>
<path d="M611.8,883.8L613.0,882.9L613.8,881.0L614.0,878.6L613.8,876.0L613.3,873.8L612.7,872.3L612.1,871.9L607.2,873.2L606.0,874.1L605.2,876.0L605.0,878.4L605.2,881.0L605.7,883.2L606.3,884.7L606.9,885.1Z" fill="#1f5dd6" stroke="#123780" stroke-width="0.35" stroke-opacity="0.6"/>
<path d="M609.7,883.4L609.7,882.1L609.6,880.4L609.5,878.5" stroke="#628de2" stroke-width="2.67" fill="none" stroke-linecap="round" stroke-opacity="0.55"/>
<path d="M624.8,868.4L626.8,868.5L628.9,869.5L630.9,871.4L632.6,873.5L634.0,875.5L635.0,876.9L635.5,877.3L631.6,878.4L629.6,878.3L627.5,877.3L625.5,875.4L623.8,873.3L622.4,871.3L621.4,869.9L620.9,869.5Z" fill="#2d7388"/>
<path d="M622.8,880.8L624.0,879.9L624.8,878.0L625.0,875.6L624.8,873.0L624.3,870.8L623.7,869.3L623.1,868.9L618.2,870.2L617.0,871.1L616.2,873.0L616.0,875.4L616.2,878.0L616.7,880.2L617.3,881.7L617.9,882.1Z" fill="#4cc0e4" stroke="#2d7388" stroke-width="0.35" stroke-opacity="0.6"/>
<path d="M620.7,880.4L620.7,879.1L620.6,877.4L620.5,875.5" stroke="#81d2ec" stroke-width="2.67" fill="none" stroke-linecap="round" stroke-opacity="0.55"/>
<path d="M635.8,865.4L637.8,865.5L639.9,866.5L641.9,868.4L643.6,870.5L645.0,872.5L646.0,873.9L646.5,874.3L642.6,875.4L640.6,875.3L638.5,874.3L636.5,872.4L634.8,870.3L633.4,868.3L632.4,866.9L631.9,866.5Z" fill="#123780"/>
<path d="M633.8,877.8L635.0,876.9L635.8,875.0L636.0,872.6L635.8,870.0L635.3,867.8L634.7,866.3L634.1,865.9L629.2,867.2L628.0,868.1L627.2,870.0L627.0,872.4L627.2,875.0L627.7,877.2L628.3,878.7L628.9,879.1Z" fill="#1f5dd6" stroke="#123780" stroke-width="0.35" stroke-opacity="0.6"/>
<path d="M631.7,877.4L631.7,876.1L631.6,874.4L631.5,872.5" stroke="#628de2" stroke-width="2.67" fill="none" stroke-linecap="round" stroke-opacity="0.55"/>
<path d="M648.7,863.8L650.7,864.1L652.7,865.5L654.5,867.5L656.0,869.9L657.2,872.1L658.0,873.6L658.5,874.1L654.1,874.6L652.1,874.3L650.1,872.9L648.3,870.9L646.8,868.5L645.6,866.3L644.8,864.8L644.3,864.3ZM660.7,862.3L662.7,862.6L664.7,864.0L666.5,866.0L668.0,868.4L669.2,870.6L670.0,872.1L670.5,872.6L666.1,873.1L664.1,872.8L662.1,871.4L660.3,869.4L658.8,867.0L657.6,864.8L656.8,863.3L656.3,862.8Z" fill="#2d7388"/>
<path d="M644.6,875.8L646.0,875.1L647.1,873.3L647.7,870.9L647.9,868.4L647.7,866.1L647.3,864.5L646.8,864.0L641.4,864.7L640.0,865.4L638.9,867.2L638.3,869.6L638.1,872.1L638.3,874.4L638.7,876.0L639.2,876.5ZM656.6,874.3L658.0,873.6L659.1,871.8L659.7,869.4L659.9,866.9L659.7,864.6L659.3,863.0L658.8,862.5L653.4,863.2L652.0,863.9L650.9,865.7L650.3,868.1L650.1,870.6L650.3,872.9L650.7,874.5L651.2,875.0Z" fill="#4cc0e4" stroke="#2d7388" stroke-width="0.35" stroke-opacity="0.6"/>
<path d="M642.4,875.2L642.7,873.9L642.8,872.2L643.0,870.2M654.4,873.7L654.7,872.4L654.8,870.7L655.0,868.8" stroke="#81d2ec" stroke-width="2.83" fill="none" stroke-linecap="round" stroke-opacity="0.55"/>
<path d="M661.0,868.0C662.2,868.2 666.3,867.8 668.0,869.0C669.7,870.2 671.0,873.2 671.0,875.0C671.0,876.8 668.5,879.2 668.0,880.0" stroke="#4cc0e4" stroke-width="3" fill="none" stroke-linecap="round" stroke-linejoin="round" stroke-opacity="1"/>
<path d="M405.0,898.0C404.0,898.3 400.3,899.2 399.0,900.0C397.7,900.8 396.7,902.2 397.0,903.0C397.3,903.8 399.5,905.2 401.0,905.0C402.5,904.8 405.2,902.5 406.0,902.0" stroke="#f0df3c" stroke-width="3" fill="none" stroke-linecap="round" stroke-linejoin="round" stroke-opacity="1"/>
<g transform="translate(-71.25,741.7) scale(1.25,1.08)">
<path d="M446.8,55.1C448.7,54.1 454.5,49.1 458.5,48.8C462.6,48.4 468.7,49.8 471.1,53.1C473.5,56.4 473.1,63.2 472.8,68.6C472.5,73.9 471.8,81.6 469.4,85.4C467.1,89.1 462.2,91.2 458.5,91.2C454.9,91.2 450.0,88.6 447.6,85.4C445.2,82.1 444.4,77.0 444.3,71.9C444.1,66.9 446.4,57.9 446.8,55.1Z" fill="#4cc0e4" fill-opacity="0.0"/>
<path d="M457.7,91.2C460.4,90.0 468.2,85.0 473.6,84.0C479.1,83.0 485.8,84.0 490.4,85.4C495.0,86.7 499.5,88.2 501.3,92.1C503.2,96.0 502.5,103.3 501.3,108.9C500.2,114.5 498.0,121.6 494.6,125.6C491.3,129.7 485.7,132.6 481.2,133.2C476.7,133.8 472.1,130.8 467.8,129.0C463.4,127.2 457.6,125.9 455.2,122.3C452.8,118.7 453.1,112.4 453.5,107.2C453.9,102.0 457.0,93.9 457.7,91.2Z" fill="#1f5dd6" fill-opacity="0.0"/>
<path d="M463.6,98.8C466.4,97.7 475.3,92.1 480.4,92.1C485.4,92.1 491.8,94.3 493.8,98.8C495.7,103.3 494.6,114.5 492.1,118.9C489.6,123.4 483.2,125.6 478.7,125.6C474.2,125.6 467.8,123.4 465.3,118.9C462.7,114.5 463.9,102.1 463.6,98.8Z" fill="#163f9c" fill-opacity="0.0"/>
<path d="M465.3,49.3C466.9,48.7 472.1,47.0 475.3,45.9C478.5,44.8 482.5,41.6 484.6,42.6C486.7,43.5 486.7,49.1 487.9,51.8C489.2,54.4 491.0,55.7 492.1,58.5C493.2,61.3 493.2,66.6 494.6,68.6C496.0,70.6 498.1,69.8 500.5,70.6C502.9,71.4 506.4,71.6 508.9,73.3C511.4,75.0 513.1,78.8 515.6,80.7C518.1,82.6 520.9,84.2 524.0,84.7C527.1,85.2 531.6,83.2 534.1,83.7C536.5,84.2 539.3,86.5 538.8,87.7C538.2,88.9 533.6,90.4 530.7,90.7C527.8,91.1 524.6,90.6 521.5,89.7C518.4,88.9 513.8,86.4 512.3,85.7" stroke="#4cc0e4" stroke-width="2.8800000000000003" fill="none" stroke-linecap="round" stroke-linejoin="round" stroke-opacity="1"/>
<path d="M470.3,55.1C471.7,54.9 476.9,52.3 478.7,53.5C480.4,54.6 481.1,59.3 480.7,61.9C480.3,64.4 477.6,66.7 476.2,68.6C474.7,70.5 471.3,71.9 472.0,73.3C472.7,74.7 477.0,76.3 480.4,77.0C483.7,77.6 488.5,77.0 492.1,77.3C495.7,77.6 499.4,77.6 502.2,79.0C505.0,80.3 507.8,84.3 508.9,85.4" stroke="#4cc0e4" stroke-width="2.7" fill="none" stroke-linecap="round" stroke-linejoin="round" stroke-opacity="1"/>
<path d="M473.6,70.6C475.6,70.2 481.8,69.2 485.4,68.2C489.0,67.3 493.2,64.5 495.5,64.9C497.7,65.2 497.1,69.1 498.8,70.3C500.5,71.4 503.6,70.6 505.5,71.6C507.5,72.6 509.7,75.4 510.6,76.1" stroke="#4cc0e4" stroke-width="2.52" fill="none" stroke-linecap="round" stroke-linejoin="round" stroke-opacity="1"/>
<path d="M485.4,63.5C486.9,63.4 492.5,61.2 494.6,62.7C496.7,64.2 496.4,70.7 498.0,72.8C499.5,74.9 502.9,74.9 503.9,75.3" stroke="#4cc0e4" stroke-width="2.3400000000000003" fill="none" stroke-linecap="round" stroke-linejoin="round" stroke-opacity="1"/>
<path d="M480.4,56.8C481.2,57.4 484.3,58.2 485.4,60.2C486.5,62.1 486.2,66.1 487.1,68.6C487.9,71.1 489.9,74.2 490.4,75.3" stroke="#4cc0e4" stroke-width="2.3400000000000003" fill="none" stroke-linecap="round" stroke-linejoin="round" stroke-opacity="1"/>
<path d="M461.9,77.0C463.2,77.6 466.8,79.3 469.4,80.7C472.1,82.1 475.0,85.1 477.8,85.4C480.6,85.6 484.8,82.8 486.2,82.3" stroke="#163f9c" stroke-width="3.42" fill="none" stroke-linecap="round" stroke-linejoin="round" stroke-opacity="1"/>
<path d="M463.6,82.0C465.0,81.2 469.2,77.5 472.0,77.0C474.8,76.5 478.1,79.3 480.4,79.0C482.6,78.7 483.2,76.2 485.4,75.3C487.6,74.4 492.4,73.9 493.8,73.6" stroke="#1f5dd6" stroke-width="2.8800000000000003" fill="none" stroke-linecap="round" stroke-linejoin="round" stroke-opacity="1"/>
<path d="M485.4,77.0C486.6,77.5 489.9,79.4 492.4,80.3C495.0,81.2 498.0,81.4 500.5,82.3C503.0,83.2 506.4,85.1 507.6,85.7" stroke="#4cc0e4" stroke-width="2.7" fill="none" stroke-linecap="round" stroke-linejoin="round" stroke-opacity="1"/>
<path d="M500.5,77.0C501.5,77.1 504.7,77.0 506.4,77.8C508.1,78.6 508.8,81.2 510.6,82.0C512.4,82.8 516.2,82.3 517.3,82.3" stroke="#4cc0e4" stroke-width="2.3400000000000003" fill="none" stroke-linecap="round" stroke-linejoin="round" stroke-opacity="1"/>
<path d="M462.4,48.2L463.7,49.2L464.6,51.0L465.2,53.5L465.4,56.1L465.4,58.4L465.4,60.0L465.6,60.6L462.4,59.7L461.1,58.8L460.2,56.9L459.6,54.5L459.4,51.8L459.4,49.5L459.4,47.9L459.2,47.3ZM471.2,50.7L472.5,51.7L473.4,53.5L474.0,56.0L474.2,58.6L474.2,60.9L474.2,62.5L474.4,63.1L471.2,62.2L469.9,61.3L469.0,59.4L468.5,57.0L468.3,54.4L468.2,52.1L468.2,50.5L468.1,49.8Z" fill="#123780"/>
<path d="M455.4,57.7L456.6,57.5L457.9,56.3L459.2,54.3L460.3,52.1L461.0,50.0L461.2,48.4L461.0,47.8L457.1,46.7L455.9,46.9L454.5,48.1L453.2,50.1L452.2,52.3L451.5,54.4L451.3,56.0L451.4,56.6ZM464.2,60.2L465.4,60.0L466.8,58.8L468.1,56.9L469.1,54.6L469.8,52.5L470.0,51.0L469.8,50.3L465.9,49.2L464.7,49.4L463.3,50.7L462.0,52.6L461.0,54.8L460.3,57.0L460.1,58.5L460.2,59.1Z" fill="#1f5dd6" stroke="#123780" stroke-width="0.35" stroke-opacity="0.6"/>
<path d="M454.1,56.5L454.7,55.3L455.4,53.9L456.2,52.2M462.9,59.0L463.5,57.9L464.3,56.4L465.0,54.7" stroke="#628de2" stroke-width="2.14" fill="none" stroke-linecap="round" stroke-opacity="0.55"/>
<path d="M457.6,58.2L459.3,58.9L460.9,60.5L462.1,62.8L463.0,65.2L463.6,67.4L464.1,68.9L464.4,69.5L460.5,69.2L458.7,68.5L457.2,66.9L456.0,64.7L455.1,62.2L454.4,60.0L454.0,58.5L453.7,57.9ZM468.5,59.1L470.3,59.7L471.8,61.3L473.0,63.6L473.9,66.0L474.6,68.2L475.0,69.8L475.3,70.3L471.4,70.0L469.6,69.3L468.1,67.7L466.9,65.5L466.0,63.0L465.3,60.9L464.9,59.3L464.6,58.8Z" fill="#123780"/>
<path d="M451.8,68.5L453.2,68.1L454.4,66.7L455.5,64.6L456.1,62.3L456.4,60.2L456.2,58.7L455.9,58.1L451.0,57.7L449.6,58.2L448.4,59.5L447.4,61.6L446.7,63.9L446.5,66.1L446.6,67.6L446.9,68.1ZM462.7,69.3L464.1,68.9L465.3,67.5L466.4,65.5L467.0,63.1L467.3,61.0L467.2,59.5L466.8,58.9L461.9,58.6L460.6,59.0L459.3,60.4L458.3,62.5L457.6,64.8L457.4,66.9L457.5,68.4L457.8,69.0Z" fill="#1f5dd6" stroke="#123780" stroke-width="0.35" stroke-opacity="0.6"/>
<path d="M450.0,67.5L450.5,66.4L450.9,64.8L451.4,63.1M460.9,68.4L461.4,67.2L461.8,65.7L462.3,64.0" stroke="#628de2" stroke-width="2.56" fill="none" stroke-linecap="round" stroke-opacity="0.55"/>
<path d="M454.9,69.1L456.4,69.8L457.7,71.4L458.6,73.5L459.3,75.8L459.8,77.9L460.0,79.3L460.3,79.9L456.8,79.4L455.3,78.7L454.0,77.2L453.1,75.0L452.4,72.7L452.0,70.7L451.7,69.2L451.4,68.7ZM464.5,70.4L466.0,71.1L467.3,72.7L468.3,74.8L469.0,77.1L469.4,79.2L469.7,80.6L470.0,81.1L466.5,80.7L465.0,80.0L463.7,78.4L462.7,76.3L462.0,74.0L461.6,71.9L461.3,70.5L461.0,70.0Z" fill="#2d7388"/>
<path d="M449.2,78.4L450.4,78.1L451.6,76.8L452.6,75.0L453.3,72.8L453.6,70.9L453.6,69.5L453.3,68.9L449.0,68.4L447.8,68.7L446.6,70.0L445.6,71.8L444.9,74.0L444.5,75.9L444.6,77.3L444.9,77.9ZM458.8,79.7L460.1,79.3L461.3,78.1L462.3,76.2L463.0,74.1L463.3,72.1L463.3,70.7L463.0,70.2L458.7,69.6L457.4,70.0L456.2,71.2L455.2,73.1L454.5,75.2L454.2,77.2L454.2,78.6L454.5,79.1Z" fill="#4cc0e4" stroke="#2d7388" stroke-width="0.35" stroke-opacity="0.6"/>
<path d="M447.6,77.4L448.1,76.4L448.6,75.0L449.1,73.4M457.3,78.7L457.7,77.6L458.2,76.2L458.7,74.7" stroke="#81d2ec" stroke-width="2.28" fill="none" stroke-linecap="round" stroke-opacity="0.55"/>
<path d="M458.4,80.1L459.8,80.8L460.9,82.3L461.6,84.3L462.1,86.5L462.4,88.4L462.6,89.7L462.9,90.3L459.7,89.6L458.3,88.9L457.2,87.4L456.4,85.4L455.9,83.2L455.7,81.3L455.5,80.0L455.2,79.5ZM467.2,81.7L468.6,82.5L469.7,84.0L470.5,86.0L471.0,88.2L471.2,90.1L471.4,91.4L471.7,91.9L468.5,91.3L467.1,90.6L466.0,89.1L465.2,87.1L464.8,84.9L464.5,83.0L464.3,81.6L464.0,81.1Z" fill="#2d7388"/>
<path d="M452.7,88.3L453.8,88.1L455.0,87.0L456.0,85.3L456.8,83.4L457.2,81.6L457.3,80.3L457.0,79.8L453.1,79.1L451.9,79.3L450.8,80.4L449.7,82.0L449.0,84.0L448.5,85.8L448.5,87.1L448.7,87.6ZM461.5,90.0L462.6,89.7L463.8,88.7L464.8,87.0L465.6,85.1L466.0,83.3L466.1,82.0L465.8,81.5L461.9,80.7L460.7,81.0L459.6,82.0L458.5,83.7L457.8,85.7L457.4,87.4L457.3,88.7L457.5,89.2Z" fill="#4cc0e4" stroke="#2d7388" stroke-width="0.35" stroke-opacity="0.6"/>
<path d="M451.3,87.3L451.8,86.4L452.3,85.1L452.9,83.7M460.1,89.0L460.6,88.1L461.1,86.8L461.7,85.4" stroke="#81d2ec" stroke-width="2.10" fill="none" stroke-linecap="round" stroke-opacity="0.55"/>
<path d="M480.7,88.4L482.3,89.2L483.6,90.9L484.5,93.3L485.1,95.9L485.5,98.2L485.7,99.8L486.0,100.4L482.3,99.8L480.8,99.0L479.5,97.2L478.6,94.8L478.0,92.2L477.6,89.9L477.4,88.3L477.1,87.7ZM490.8,90.0L492.4,90.8L493.6,92.6L494.6,95.0L495.2,97.6L495.5,99.9L495.8,101.5L496.0,102.1L492.4,101.5L490.8,100.7L489.6,98.9L488.6,96.5L488.0,93.9L487.7,91.6L487.4,90.0L487.2,89.4Z" fill="#123780"/>
<path d="M474.3,98.5L475.6,98.2L477.0,96.8L478.1,94.8L478.9,92.4L479.4,90.2L479.4,88.7L479.2,88.1L474.7,87.3L473.3,87.7L472.0,89.0L470.9,91.1L470.0,93.4L469.6,95.6L469.5,97.1L469.8,97.7ZM484.4,100.2L485.7,99.8L487.0,98.5L488.2,96.4L489.0,94.1L489.5,91.9L489.5,90.4L489.2,89.8L484.7,89.0L483.4,89.4L482.1,90.7L480.9,92.7L480.1,95.1L479.7,97.3L479.6,98.8L479.9,99.4Z" fill="#1f5dd6" stroke="#123780" stroke-width="0.35" stroke-opacity="0.6"/>
<path d="M472.8,97.4L473.3,96.2L473.9,94.7L474.5,92.9M482.8,99.0L483.3,97.9L483.9,96.3L484.6,94.6" stroke="#628de2" stroke-width="2.39" fill="none" stroke-linecap="round" stroke-opacity="0.55"/>
<path d="M493.2,83.6L494.4,84.4L495.2,86.0L495.8,88.2L496.0,90.6L496.1,92.6L496.1,94.1L496.3,94.6L493.4,93.9L492.2,93.1L491.3,91.4L490.8,89.2L490.6,86.9L490.5,84.8L490.5,83.4L490.3,82.8ZM501.2,85.7L502.4,86.5L503.2,88.1L503.7,90.3L504.0,92.7L504.0,94.7L504.1,96.2L504.2,96.7L501.4,96.0L500.2,95.2L499.3,93.5L498.8,91.3L498.6,89.0L498.5,86.9L498.5,85.5L498.3,84.9Z" fill="#123780"/>
<path d="M487.0,92.2L488.1,92.0L489.3,90.9L490.5,89.1L491.4,87.1L491.9,85.2L492.1,83.8L491.9,83.2L488.4,82.3L487.3,82.5L486.1,83.6L485.0,85.4L484.1,87.4L483.5,89.3L483.3,90.7L483.5,91.3ZM495.0,94.3L496.1,94.1L497.3,93.0L498.4,91.2L499.3,89.2L499.9,87.3L500.1,85.9L499.9,85.3L496.4,84.4L495.3,84.6L494.1,85.7L492.9,87.5L492.0,89.5L491.5,91.4L491.3,92.8L491.4,93.4Z" fill="#1f5dd6" stroke="#123780" stroke-width="0.35" stroke-opacity="0.6"/>
<path d="M485.9,91.1L486.4,90.1L487.0,88.8L487.7,87.2M493.8,93.2L494.4,92.2L495.0,90.9L495.7,89.3" stroke="#628de2" stroke-width="1.93" fill="none" stroke-linecap="round" stroke-opacity="0.55"/>
<path d="M474.0,100.9L475.7,101.7L477.1,103.5L478.2,105.9L478.9,108.5L479.3,110.8L479.6,112.4L479.9,113.0L476.0,112.4L474.3,111.6L472.9,109.8L471.8,107.4L471.1,104.8L470.7,102.5L470.4,100.9L470.0,100.3ZM484.9,102.6L486.6,103.4L488.0,105.2L489.1,107.6L489.8,110.2L490.2,112.5L490.5,114.1L490.8,114.7L486.9,114.1L485.2,113.3L483.8,111.5L482.7,109.1L482.0,106.5L481.6,104.2L481.3,102.6L481.0,102.0Z" fill="#123780"/>
<path d="M467.3,111.1L468.7,110.8L470.1,109.4L471.3,107.4L472.1,105.0L472.6,102.8L472.6,101.3L472.3,100.7L467.4,99.9L466.0,100.3L464.6,101.6L463.4,103.7L462.6,106.0L462.1,108.2L462.1,109.7L462.4,110.3ZM478.2,112.8L479.6,112.4L481.0,111.1L482.2,109.0L483.1,106.7L483.5,104.5L483.5,102.9L483.2,102.3L478.3,101.6L476.9,101.9L475.5,103.3L474.3,105.3L473.5,107.7L473.0,109.9L473.0,111.4L473.4,112.0Z" fill="#1f5dd6" stroke="#123780" stroke-width="0.35" stroke-opacity="0.6"/>
<path d="M465.6,110.0L466.1,108.8L466.7,107.2L467.4,105.5M476.5,111.6L477.0,110.5L477.6,108.9L478.3,107.2" stroke="#628de2" stroke-width="2.58" fill="none" stroke-linecap="round" stroke-opacity="0.55"/>
<path d="M483.0,112.0L484.4,112.9L485.6,114.5L486.4,116.8L486.9,119.1L487.2,121.2L487.4,122.7L487.6,123.2L484.1,122.5L482.7,121.6L481.5,120.0L480.7,117.8L480.2,115.4L479.9,113.3L479.7,111.8L479.5,111.3ZM492.6,114.1L494.1,115.0L495.3,116.6L496.1,118.8L496.6,121.2L496.8,123.3L497.0,124.8L497.3,125.3L493.8,124.6L492.3,123.7L491.1,122.1L490.3,119.9L489.8,117.5L489.6,115.4L489.4,113.9L489.1,113.4Z" fill="#123780"/>
<path d="M476.4,120.8L477.7,120.6L479.0,119.4L480.2,117.7L481.1,115.6L481.6,113.7L481.7,112.3L481.4,111.7L477.1,110.8L475.9,111.0L474.5,112.1L473.4,113.9L472.5,116.0L472.0,117.9L471.9,119.3L472.1,119.9ZM486.1,122.9L487.4,122.7L488.7,121.5L489.9,119.8L490.8,117.7L491.3,115.8L491.3,114.4L491.1,113.8L486.8,112.9L485.5,113.1L484.2,114.2L483.0,116.0L482.1,118.1L481.6,120.0L481.5,121.4L481.8,122.0Z" fill="#1f5dd6" stroke="#123780" stroke-width="0.35" stroke-opacity="0.6"/>
<path d="M475.0,119.7L475.5,118.7L476.1,117.3L476.8,115.8M484.6,121.8L485.2,120.8L485.8,119.4L486.4,117.9" stroke="#628de2" stroke-width="2.31" fill="none" stroke-linecap="round" stroke-opacity="0.55"/>
<path d="M457.3,113.0L459.2,112.8L461.3,113.6L463.5,115.0L465.4,116.8L467.0,118.5L468.0,119.6L468.6,120.0L464.8,121.5L462.9,121.7L460.8,121.0L458.6,119.5L456.7,117.7L455.1,116.0L454.1,114.9L453.5,114.5ZM467.8,108.8L469.7,108.6L471.8,109.4L474.0,110.8L475.9,112.6L477.5,114.3L478.5,115.5L479.1,115.8L475.3,117.3L473.4,117.5L471.3,116.8L469.1,115.3L467.2,113.5L465.6,111.8L464.6,110.7L464.0,110.3Z" fill="#2d7388"/>
<path d="M456.5,124.8L457.5,123.8L458.1,122.0L458.1,119.7L457.7,117.3L457.0,115.3L456.2,114.0L455.6,113.7L451.0,115.5L449.9,116.5L449.3,118.4L449.3,120.7L449.7,123.1L450.4,125.1L451.2,126.4L451.8,126.7ZM467.0,120.6L468.0,119.6L468.6,117.8L468.6,115.5L468.2,113.1L467.5,111.1L466.7,109.8L466.1,109.5L461.5,111.3L460.4,112.3L459.8,114.2L459.8,116.5L460.2,118.9L460.9,120.9L461.7,122.2L462.3,122.5Z" fill="#4cc0e4" stroke="#2d7388" stroke-width="0.35" stroke-opacity="0.6"/>
<path d="M454.4,124.8L454.3,123.5L454.0,122.0L453.7,120.2M464.9,120.6L464.8,119.3L464.5,117.8L464.2,116.0" stroke="#81d2ec" stroke-width="2.64" fill="none" stroke-linecap="round" stroke-opacity="0.55"/>
<path d="M490.6,101.7L491.7,102.8L492.4,104.5L492.6,106.8L492.5,109.1L492.2,111.1L492.0,112.4L492.1,113.0L489.2,111.6L488.1,110.6L487.5,108.8L487.3,106.6L487.4,104.3L487.7,102.3L487.8,100.9L487.7,100.4ZM498.6,105.5L499.7,106.5L500.3,108.3L500.5,110.5L500.4,112.8L500.2,114.8L500.0,116.2L500.1,116.8L497.2,115.4L496.1,114.4L495.5,112.6L495.3,110.4L495.4,108.1L495.6,106.1L495.8,104.7L495.7,104.1Z" fill="#123780"/>
<path d="M482.9,108.6L484.1,108.7L485.5,107.9L486.9,106.4L488.2,104.7L489.1,103.0L489.5,101.7L489.4,101.1L485.8,99.4L484.6,99.4L483.2,100.2L481.8,101.6L480.5,103.4L479.6,105.1L479.2,106.4L479.3,106.9ZM490.9,112.4L492.0,112.4L493.5,111.6L494.9,110.2L496.1,108.4L497.0,106.7L497.4,105.5L497.3,104.9L493.8,103.2L492.6,103.2L491.2,104.0L489.7,105.4L488.5,107.2L487.6,108.9L487.2,110.2L487.3,110.7Z" fill="#1f5dd6" stroke="#123780" stroke-width="0.35" stroke-opacity="0.6"/>
<path d="M481.9,107.3L482.6,106.5L483.4,105.3L484.3,104.0M489.8,111.1L490.5,110.3L491.4,109.1L492.3,107.8" stroke="#628de2" stroke-width="2.06" fill="none" stroke-linecap="round" stroke-opacity="0.55"/>
<path d="M472.8,103.2L472.6,104.3L471.7,105.5L470.2,106.6L468.5,107.5L467.0,108.2L466.0,108.7L465.6,109.0L465.2,106.7L465.5,105.5L466.4,104.4L467.9,103.3L469.5,102.3L471.0,101.6L472.1,101.1L472.4,100.8ZM473.9,109.7L473.7,110.8L472.7,112.0L471.3,113.1L469.6,114.0L468.1,114.7L467.0,115.2L466.7,115.5L466.3,113.2L466.5,112.0L467.4,110.9L468.9,109.8L470.6,108.8L472.1,108.1L473.1,107.6L473.5,107.3ZM474.9,116.2L474.7,117.3L473.8,118.5L472.3,119.6L470.6,120.5L469.1,121.2L468.1,121.7L467.7,122.0L467.3,119.7L467.6,118.5L468.5,117.4L470.0,116.3L471.6,115.4L473.1,114.6L474.2,114.1L474.5,113.8ZM476.0,122.7L475.8,123.8L474.8,125.0L473.3,126.1L471.7,127.0L470.2,127.7L469.1,128.2L468.8,128.5L468.4,126.2L468.6,125.0L469.5,123.9L471.0,122.8L472.7,121.9L474.2,121.1L475.2,120.6L475.6,120.3Z" fill="#0d255d"/>
<path d="M464.4,101.5L464.9,102.2L466.1,102.7L467.8,103.0L469.6,103.0L471.2,102.8L472.3,102.5L472.7,102.2L472.2,99.2L471.7,98.5L470.5,98.0L468.8,97.8L467.0,97.8L465.4,98.0L464.3,98.3L463.9,98.6ZM465.4,108.0L466.0,108.7L467.2,109.2L468.9,109.5L470.7,109.5L472.3,109.3L473.4,109.0L473.7,108.7L473.2,105.8L472.7,105.0L471.5,104.5L469.8,104.3L468.0,104.3L466.4,104.5L465.3,104.8L465.0,105.1ZM466.5,114.5L467.0,115.2L468.2,115.7L469.9,116.0L471.7,116.0L473.3,115.8L474.4,115.5L474.8,115.2L474.3,112.3L473.8,111.5L472.6,111.0L470.9,110.8L469.1,110.8L467.5,111.0L466.4,111.3L466.0,111.6ZM467.5,121.0L468.1,121.7L469.3,122.2L471.0,122.5L472.8,122.5L474.4,122.3L475.5,122.0L475.8,121.7L475.3,118.8L474.8,118.0L473.6,117.5L471.9,117.3L470.1,117.3L468.5,117.5L467.4,117.8L467.1,118.1Z" fill="#163f9c" stroke="#0d255d" stroke-width="0.35" stroke-opacity="0.6"/>
<path d="M464.8,100.3L465.8,100.3L467.0,100.4L468.3,100.4M465.9,106.8L466.8,106.9L468.0,106.9L469.3,106.9M466.9,113.3L467.9,113.4L469.1,113.4L470.4,113.4M468.0,119.8L468.9,119.9L470.1,119.9L471.4,119.9" stroke="#5b78b9" stroke-width="1.54" fill="none" stroke-linecap="round" stroke-opacity="0.55"/>
<path d="M491.3,105.2L491.0,106.4L490.1,107.6L488.7,108.6L487.1,109.5L485.7,110.1L484.7,110.5L484.4,110.8L484.2,108.2L484.5,107.0L485.4,105.8L486.8,104.8L488.3,103.9L489.8,103.3L490.7,102.8L491.1,102.5ZM491.8,112.4L491.6,113.7L490.7,114.8L489.3,115.9L487.7,116.7L486.3,117.4L485.3,117.8L485.0,118.1L484.8,115.5L485.0,114.2L486.0,113.1L487.3,112.0L488.9,111.2L490.3,110.5L491.3,110.1L491.6,109.8ZM492.4,119.7L492.1,120.9L491.2,122.1L489.8,123.2L488.3,124.0L486.8,124.6L485.9,125.1L485.5,125.4L485.3,122.7L485.6,121.5L486.5,120.3L487.9,119.3L489.5,118.4L490.9,117.8L491.9,117.4L492.2,117.1Z" fill="#123780"/>
<path d="M483.8,102.4L484.2,103.3L485.3,104.0L486.8,104.4L488.4,104.6L489.9,104.5L490.9,104.3L491.2,104.0L491.0,100.8L490.5,99.9L489.5,99.2L488.0,98.8L486.3,98.6L484.8,98.6L483.8,98.9L483.5,99.2ZM484.3,109.7L484.7,110.5L485.8,111.2L487.3,111.7L489.0,111.9L490.4,111.8L491.4,111.6L491.8,111.3L491.5,108.1L491.1,107.2L490.0,106.5L488.5,106.0L486.9,105.9L485.4,105.9L484.4,106.1L484.1,106.4ZM484.9,116.9L485.3,117.8L486.4,118.5L487.9,119.0L489.5,119.1L491.0,119.1L492.0,118.9L492.3,118.6L492.1,115.3L491.6,114.5L490.6,113.8L489.1,113.3L487.4,113.1L486.0,113.2L485.0,113.4L484.6,113.7Z" fill="#1f5dd6" stroke="#123780" stroke-width="0.35" stroke-opacity="0.6"/>
<path d="M484.2,101.1L485.1,101.3L486.1,101.4L487.4,101.6M484.8,108.4L485.6,108.6L486.7,108.7L487.9,108.9M485.3,115.7L486.2,115.8L487.3,116.0L488.5,116.1" stroke="#628de2" stroke-width="1.71" fill="none" stroke-linecap="round" stroke-opacity="0.55"/>
<path d="M479.7,89.3L479.7,90.2L479.1,91.4L478.1,92.5L476.9,93.6L475.7,94.4L474.9,95.0L474.6,95.3L473.9,93.5L473.9,92.6L474.5,91.5L475.6,90.3L476.8,89.2L478.0,88.4L478.8,87.8L479.0,87.5ZM481.7,94.3L481.7,95.3L481.1,96.4L480.0,97.5L478.8,98.6L477.7,99.5L476.9,100.1L476.6,100.4L475.9,98.5L475.9,97.6L476.5,96.5L477.5,95.3L478.8,94.3L479.9,93.4L480.7,92.8L481.0,92.5ZM483.6,99.4L483.6,100.3L483.0,101.4L482.0,102.6L480.8,103.6L479.6,104.5L478.8,105.1L478.6,105.4L477.9,103.6L477.9,102.6L478.5,101.5L479.5,100.4L480.7,99.3L481.9,98.5L482.7,97.9L482.9,97.6Z" fill="#123780"/>
<path d="M472.4,89.5L472.9,90.0L474.0,90.2L475.5,90.1L477.0,89.7L478.3,89.3L479.2,88.8L479.4,88.5L478.5,86.3L478.0,85.8L476.9,85.6L475.4,85.7L473.9,86.0L472.6,86.5L471.8,86.9L471.5,87.3ZM474.3,94.5L474.9,95.0L476.0,95.2L477.4,95.1L479.0,94.8L480.3,94.3L481.1,93.8L481.4,93.5L480.5,91.3L479.9,90.8L478.8,90.6L477.4,90.7L475.9,91.1L474.6,91.5L473.7,92.0L473.5,92.3ZM476.3,99.6L476.9,100.1L478.0,100.3L479.4,100.1L480.9,99.8L482.2,99.3L483.1,98.9L483.3,98.6L482.5,96.3L481.9,95.8L480.8,95.7L479.4,95.8L477.8,96.1L476.5,96.6L475.7,97.0L475.4,97.3Z" fill="#1f5dd6" stroke="#123780" stroke-width="0.35" stroke-opacity="0.6"/>
<path d="M472.6,88.5L473.3,88.3L474.3,88.1L475.5,87.9M474.5,93.5L475.3,93.4L476.3,93.2L477.4,92.9M476.5,98.5L477.3,98.4L478.3,98.2L479.4,98.0" stroke="#628de2" stroke-width="1.26" fill="none" stroke-linecap="round" stroke-opacity="0.55"/>
<path d="M504.8,86.3L505.9,87.0L506.6,88.7L507.1,90.9L507.3,93.3L507.3,95.4L507.3,96.9L507.5,97.5L504.9,96.9L503.8,96.1L503.1,94.5L502.7,92.2L502.5,89.8L502.4,87.7L502.4,86.2L502.3,85.7ZM512.0,88.0L513.0,88.7L513.8,90.4L514.2,92.6L514.4,95.0L514.4,97.1L514.5,98.6L514.6,99.2L512.0,98.6L511.0,97.8L510.2,96.1L509.8,93.9L509.6,91.5L509.6,89.4L509.5,87.9L509.4,87.3Z" fill="#2d7388"/>
<path d="M499.2,95.5L500.2,95.2L501.3,94.0L502.3,92.2L503.2,90.0L503.7,88.0L503.9,86.6L503.7,86.0L500.5,85.3L499.5,85.6L498.5,86.8L497.4,88.6L496.6,90.8L496.1,92.8L495.9,94.2L496.0,94.8ZM506.4,97.2L507.3,96.9L508.4,95.7L509.5,93.8L510.3,91.7L510.8,89.7L511.0,88.2L510.9,87.7L507.7,86.9L506.7,87.2L505.6,88.4L504.6,90.3L503.7,92.5L503.2,94.5L503.0,95.9L503.2,96.5Z" fill="#4cc0e4" stroke="#2d7388" stroke-width="0.35" stroke-opacity="0.6"/>
<path d="M498.2,94.5L498.7,93.4L499.3,92.0L499.9,90.4M505.3,96.1L505.8,95.1L506.4,93.7L507.0,92.1" stroke="#81d2ec" stroke-width="1.72" fill="none" stroke-linecap="round" stroke-opacity="0.55"/>
<path d="M450.8,90.5L451.5,91.4L451.6,92.8L451.3,94.6L450.9,96.4L450.3,98.0L450.0,99.1L449.9,99.6L448.1,98.3L447.5,97.5L447.3,96.0L447.6,94.3L448.1,92.4L448.6,90.8L449.0,89.8L449.0,89.3ZM455.9,93.9L456.5,94.7L456.6,96.2L456.4,98.0L455.9,99.8L455.4,101.4L455.0,102.5L454.9,102.9L453.1,101.7L452.5,100.8L452.4,99.4L452.6,97.6L453.1,95.8L453.7,94.2L454.0,93.1L454.1,92.7Z" fill="#2d7388"/>
<path d="M444.1,95.7L444.9,95.7L446.1,95.2L447.4,94.1L448.6,92.7L449.5,91.4L450.0,90.4L450.1,90.0L447.8,88.5L447.0,88.4L445.8,89.0L444.5,90.1L443.3,91.4L442.4,92.7L441.9,93.7L441.8,94.2ZM449.1,99.0L450.0,99.1L451.1,98.5L452.4,97.5L453.6,96.1L454.5,94.8L455.1,93.8L455.1,93.3L452.8,91.8L452.0,91.8L450.9,92.3L449.6,93.4L448.4,94.8L447.4,96.1L446.9,97.1L446.9,97.5Z" fill="#4cc0e4" stroke="#2d7388" stroke-width="0.35" stroke-opacity="0.6"/>
<path d="M443.6,94.6L444.2,93.9L445.1,93.1L445.9,92.1M448.6,97.9L449.3,97.3L450.1,96.4L451.0,95.4" stroke="#81d2ec" stroke-width="1.42" fill="none" stroke-linecap="round" stroke-opacity="0.55"/>
<path d="M506.4,113.5L507.5,114.2L508.3,115.8L508.7,117.9L509.0,120.1L509.0,122.1L509.1,123.4L509.2,124.0L506.7,123.4L505.6,122.6L504.8,121.1L504.4,119.0L504.1,116.8L504.1,114.8L504.0,113.4L503.9,112.9ZM513.6,115.2L514.6,115.9L515.4,117.5L515.9,119.5L516.1,121.8L516.2,123.8L516.2,125.1L516.4,125.6L513.8,125.0L512.7,124.3L512.0,122.8L511.5,120.7L511.3,118.4L511.2,116.5L511.1,115.1L511.0,114.6Z" fill="#1c5668"/>
<path d="M501.0,122.0L502.0,121.8L503.0,120.7L504.0,118.9L504.8,116.9L505.3,115.1L505.5,113.8L505.3,113.2L502.1,112.5L501.1,112.7L500.1,113.9L499.1,115.6L498.3,117.6L497.8,119.4L497.6,120.8L497.8,121.3ZM508.1,123.7L509.1,123.5L510.2,122.3L511.2,120.6L511.9,118.6L512.4,116.8L512.6,115.4L512.4,114.9L509.3,114.2L508.3,114.4L507.2,115.5L506.2,117.3L505.4,119.3L504.9,121.1L504.8,122.4L504.9,123.0Z" fill="#2f90ae" stroke="#1c5668" stroke-width="0.35" stroke-opacity="0.6"/>
<path d="M499.9,121.0L500.4,120.0L501.0,118.7L501.6,117.3M507.1,122.7L507.6,121.7L508.1,120.4L508.7,118.9" stroke="#6db1c6" stroke-width="1.72" fill="none" stroke-linecap="round" stroke-opacity="0.55"/>
<path d="M455.1,82.3L456.2,83.2L457.0,84.5L457.4,86.2L457.5,88.0L457.5,89.5L457.5,90.5L457.6,91.0L454.9,89.8L453.8,88.9L453.0,87.5L452.6,85.8L452.5,84.1L452.5,82.6L452.5,81.5L452.4,81.1Z" fill="#2d7388"/>
<path d="M448.9,87.1L449.9,87.2L451.1,86.7L452.3,85.7L453.2,84.4L453.8,83.2L454.1,82.2L453.9,81.8L450.6,80.3L449.5,80.2L448.3,80.7L447.2,81.7L446.2,83.0L445.6,84.2L445.4,85.2L445.5,85.6Z" fill="#4cc0e4" stroke="#2d7388" stroke-width="0.35" stroke-opacity="0.6"/>
<path d="M447.8,86.0L448.4,85.4L449.0,84.6L449.7,83.7" stroke="#81d2ec" stroke-width="1.93" fill="none" stroke-linecap="round" stroke-opacity="0.55"/>
<path d="M445.1,118.9C445.7,120.1 448.5,123.6 448.5,125.6C448.5,127.7 446.5,131.0 445.1,131.5C443.7,132.1 440.9,129.4 440.1,129.0" stroke="#4cc0e4" stroke-width="2.8800000000000003" fill="none" stroke-linecap="round" stroke-linejoin="round" stroke-opacity="1"/>
<path d="M455.2,125.6C456.6,126.2 460.5,128.4 463.6,129.0C466.7,129.6 470.8,128.2 473.6,129.0C476.4,129.8 478.4,132.4 480.4,134.0C482.3,135.7 483.4,137.7 485.4,139.1C487.4,140.5 491.0,141.9 492.1,142.4" stroke="#4cc0e4" stroke-width="2.7" fill="none" stroke-linecap="round" stroke-linejoin="round" stroke-opacity="1"/>
<path d="M510.6,85.4C512.3,86.0 517.3,88.2 520.6,89.1C524.0,89.9 527.9,91.0 530.7,90.7C533.5,90.5 536.3,87.9 537.4,87.4" stroke="#4cc0e4" stroke-width="2.8800000000000003" fill="none" stroke-linecap="round" stroke-linejoin="round" stroke-opacity="1"/>
<path d="M510.6,110.5C511.1,109.7 512.3,106.6 513.9,105.5C515.6,104.4 518.5,103.7 520.6,104.2C522.8,104.7 526.4,106.8 527.0,108.5C527.6,110.2 526.0,113.3 524.3,114.2C522.7,115.2 519.3,114.6 517.3,114.2C515.3,113.9 513.1,112.6 512.3,112.2" stroke="#4cc0e4" stroke-width="3.42" fill="none" stroke-linecap="round" stroke-linejoin="round" stroke-opacity="1"/>
<path d="M440.1,105.5C440.9,106.1 443.1,108.9 445.1,109.2C447.1,109.5 449.6,108.7 451.8,107.5C454.1,106.3 457.4,103.0 458.5,102.1" stroke="#4cc0e4" stroke-width="2.7" fill="none" stroke-linecap="round" stroke-linejoin="round" stroke-opacity="1"/>
<path d="M455.2,85.4C455.5,87.0 455.7,92.9 456.9,95.4C458.0,98.0 461.1,99.9 461.9,100.8" stroke="#4cc0e4" stroke-width="2.7" fill="none" stroke-linecap="round" stroke-linejoin="round" stroke-opacity="1"/>
<path d="M495.5,113.9C496.3,113.5 498.8,111.4 500.5,111.4C502.2,111.4 504.7,113.5 505.5,113.9" stroke="#2f90ae" stroke-width="2.52" fill="none" stroke-linecap="round" stroke-linejoin="round" stroke-opacity="1"/>
<path d="M430.0,108.9C430.8,110.1 433.1,114.4 435.0,116.4C437.0,118.4 439.5,119.9 441.8,120.9C444.0,122.0 446.2,121.3 448.5,122.6C450.7,124.0 454.1,127.9 455.2,129.0" stroke="#f0df3c" stroke-width="2.7" fill="none" stroke-linecap="round" stroke-linejoin="round" stroke-opacity="1"/>
<path d="M497.1,124.0C496.9,124.8 495.2,127.7 495.8,129.0C496.4,130.4 498.9,131.1 500.5,132.0C502.1,132.9 504.1,133.4 505.5,134.4C506.9,135.3 508.0,136.3 508.9,137.7C509.8,139.1 510.6,141.9 510.9,142.8" stroke="#f0df3c" stroke-width="3.24" fill="none" stroke-linecap="round" stroke-linejoin="round" stroke-opacity="1"/>
</g>
<path d="M488.1,813.9L489.3,814.8L490.2,816.4L490.6,818.5L490.8,820.7L490.8,822.5L490.8,823.9L490.9,824.4L487.9,823.3L486.7,822.4L485.8,820.8L485.4,818.7L485.2,816.5L485.2,814.7L485.2,813.3L485.1,812.8ZM496.4,816.9L497.6,817.8L498.5,819.4L499.0,821.5L499.1,823.7L499.1,825.5L499.1,826.9L499.2,827.4L496.2,826.3L495.0,825.4L494.2,823.8L493.7,821.7L493.6,819.5L493.6,817.7L493.6,816.3L493.4,815.8ZM504.8,819.9L506.0,820.8L506.8,822.4L507.3,824.5L507.4,826.7L507.4,828.5L507.4,829.9L507.6,830.4L504.6,829.3L503.4,828.4L502.5,826.8L502.0,824.7L501.9,822.5L501.9,820.7L501.9,819.3L501.8,818.8Z" fill="#2d7388"/>
<path d="M481.3,820.9L482.4,820.9L483.7,820.0L485.0,818.6L486.0,816.8L486.7,815.2L486.9,814.0L486.8,813.4L483.1,812.1L481.9,812.1L480.6,813.0L479.3,814.4L478.3,816.2L477.6,817.8L477.4,819.0L477.6,819.6ZM489.6,823.9L490.8,823.9L492.1,823.0L493.3,821.6L494.4,819.8L495.0,818.2L495.3,817.0L495.1,816.4L491.4,815.1L490.2,815.1L488.9,816.0L487.7,817.4L486.6,819.2L486.0,820.8L485.7,822.0L485.9,822.6ZM497.9,826.9L499.1,826.9L500.4,826.0L501.7,824.6L502.7,822.8L503.4,821.2L503.6,820.0L503.4,819.4L499.7,818.1L498.6,818.1L497.3,819.0L496.0,820.4L495.0,822.2L494.3,823.8L494.1,825.0L494.2,825.6Z" fill="#4cc0e4" stroke="#2d7388" stroke-width="0.35" stroke-opacity="0.6"/>
<path d="M480.1,819.7L480.7,818.9L481.4,817.8L482.2,816.5M488.4,822.7L489.0,821.9L489.7,820.8L490.5,819.5M496.8,825.7L497.4,824.9L498.1,823.8L498.8,822.5" stroke="#81d2ec" stroke-width="2.07" fill="none" stroke-linecap="round" stroke-opacity="0.55"/>
<path d="M484.9,833.7L486.3,834.5L487.3,836.0L488.0,838.0L488.4,840.1L488.6,842.0L488.8,843.3L489.0,843.8L485.9,843.1L484.5,842.3L483.5,840.8L482.8,838.8L482.4,836.7L482.2,834.8L482.0,833.5L481.8,833.0ZM493.6,835.7L494.9,836.5L496.0,838.0L496.7,840.0L497.1,842.1L497.3,844.0L497.4,845.3L497.7,845.8L494.5,845.1L493.2,844.3L492.2,842.8L491.5,840.8L491.0,838.7L490.8,836.8L490.7,835.5L490.5,835.0ZM502.3,837.7L503.6,838.5L504.6,840.0L505.3,842.0L505.8,844.1L506.0,846.0L506.1,847.3L506.3,847.8L503.2,847.1L501.9,846.3L500.8,844.8L500.1,842.8L499.7,840.7L499.5,838.8L499.4,837.5L499.1,837.0Z" fill="#2d7388"/>
<path d="M479.0,841.5L480.1,841.3L481.3,840.3L482.4,838.7L483.2,836.9L483.7,835.2L483.8,833.9L483.6,833.4L479.7,832.5L478.5,832.7L477.3,833.7L476.3,835.3L475.4,837.1L475.0,838.8L474.9,840.1L475.1,840.6ZM487.6,843.5L488.8,843.3L490.0,842.3L491.1,840.7L491.9,838.9L492.4,837.2L492.4,835.9L492.2,835.4L488.4,834.5L487.2,834.7L486.0,835.7L484.9,837.3L484.1,839.1L483.6,840.8L483.6,842.1L483.8,842.6ZM496.3,845.5L497.5,845.3L498.7,844.3L499.7,842.7L500.6,840.9L501.0,839.2L501.1,837.9L500.9,837.4L497.0,836.5L495.9,836.7L494.7,837.7L493.6,839.3L492.8,841.1L492.3,842.8L492.2,844.1L492.4,844.6Z" fill="#4cc0e4" stroke="#2d7388" stroke-width="0.35" stroke-opacity="0.6"/>
<path d="M477.7,840.5L478.2,839.6L478.7,838.4L479.3,837.0M486.3,842.5L486.8,841.6L487.4,840.4L488.0,839.0M495.0,844.5L495.5,843.6L496.1,842.4L496.7,841.0" stroke="#81d2ec" stroke-width="2.08" fill="none" stroke-linecap="round" stroke-opacity="0.55"/>
<path d="M487.5,860.9L488.6,861.5L489.5,862.9L490.2,864.9L490.6,866.9L490.9,868.8L491.0,870.1L491.2,870.6L488.5,870.1L487.4,869.5L486.5,868.1L485.8,866.1L485.4,864.1L485.1,862.2L485.0,860.9L484.8,860.4ZM495.0,862.1L496.1,862.8L497.0,864.2L497.7,866.1L498.1,868.2L498.4,870.0L498.5,871.3L498.7,871.8L496.0,871.4L494.9,870.7L494.0,869.3L493.3,867.4L492.9,865.3L492.6,863.5L492.5,862.2L492.3,861.7ZM502.5,863.4L503.6,864.0L504.5,865.4L505.2,867.4L505.6,869.4L505.9,871.3L506.0,872.6L506.2,873.1L503.5,872.6L502.4,872.0L501.5,870.6L500.8,868.6L500.4,866.6L500.1,864.7L500.0,863.4L499.8,862.9ZM510.0,864.6L511.1,865.3L512.0,866.7L512.7,868.6L513.1,870.7L513.4,872.5L513.5,873.8L513.7,874.3L511.0,873.9L509.9,873.2L509.0,871.8L508.3,869.9L507.9,867.8L507.6,866.0L507.5,864.7L507.3,864.2Z" fill="#2d7388"/>
<path d="M482.6,869.1L483.6,868.8L484.6,867.7L485.4,866.1L486.1,864.2L486.4,862.4L486.5,861.2L486.3,860.7L482.9,860.1L481.9,860.4L480.9,861.5L480.1,863.2L479.4,865.1L479.1,866.8L479.0,868.1L479.2,868.5ZM490.1,870.4L491.1,870.1L492.1,869.0L492.9,867.3L493.6,865.4L493.9,863.7L494.0,862.4L493.8,862.0L490.4,861.4L489.4,861.7L488.4,862.8L487.6,864.4L486.9,866.3L486.6,868.1L486.5,869.3L486.7,869.8ZM497.6,871.6L498.6,871.3L499.6,870.2L500.4,868.6L501.1,866.7L501.4,864.9L501.5,863.7L501.3,863.2L497.9,862.6L496.9,862.9L495.9,864.0L495.1,865.7L494.4,867.6L494.1,869.3L494.0,870.6L494.2,871.0ZM505.1,872.9L506.1,872.6L507.1,871.5L507.9,869.8L508.6,867.9L508.9,866.2L509.0,864.9L508.8,864.5L505.4,863.9L504.4,864.2L503.4,865.3L502.6,866.9L501.9,868.8L501.6,870.6L501.5,871.8L501.7,872.3Z" fill="#4cc0e4" stroke="#2d7388" stroke-width="0.35" stroke-opacity="0.6"/>
<path d="M481.4,868.2L481.8,867.3L482.3,866.0L482.8,864.6M488.9,869.5L489.3,868.5L489.8,867.3L490.2,865.9M496.4,870.7L496.8,869.8L497.3,868.5L497.8,867.1M503.9,872.0L504.3,871.0L504.8,869.8L505.2,868.4" stroke="#81d2ec" stroke-width="1.78" fill="none" stroke-linecap="round" stroke-opacity="0.55"/>
<path d="M499.9,850.5L501.2,851.4L502.1,852.9L502.6,855.0L502.8,857.1L502.9,859.0L502.9,860.3L503.1,860.9L500.1,859.9L498.8,859.0L497.9,857.5L497.4,855.4L497.2,853.3L497.1,851.4L497.1,850.1L496.9,849.5ZM508.3,853.2L509.5,854.0L510.4,855.6L510.9,857.7L511.1,859.8L511.2,861.7L511.2,863.0L511.4,863.5L508.4,862.6L507.2,861.7L506.3,860.1L505.7,858.1L505.5,855.9L505.5,854.0L505.4,852.7L505.3,852.2ZM516.6,855.8L517.8,856.7L518.7,858.3L519.3,860.3L519.5,862.5L519.5,864.4L519.6,865.7L519.7,866.2L516.7,865.2L515.5,864.4L514.6,862.8L514.1,860.7L513.9,858.6L513.8,856.7L513.8,855.4L513.6,854.9Z" fill="#2d7388"/>
<path d="M493.4,857.8L494.6,857.7L495.8,856.8L497.0,855.3L498.0,853.5L498.6,851.8L498.8,850.6L498.6,850.1L494.9,848.9L493.8,849.0L492.5,849.9L491.3,851.4L490.3,853.1L489.7,854.8L489.5,856.1L489.7,856.6ZM501.8,860.4L502.9,860.3L504.2,859.4L505.4,858.0L506.3,856.2L506.9,854.5L507.1,853.3L507.0,852.8L503.2,851.6L502.1,851.7L500.8,852.6L499.6,854.0L498.7,855.8L498.1,857.5L497.9,858.7L498.0,859.2ZM510.1,863.1L511.2,863.0L512.5,862.1L513.7,860.6L514.7,858.9L515.3,857.2L515.5,855.9L515.3,855.4L511.6,854.2L510.4,854.3L509.2,855.2L508.0,856.7L507.0,858.5L506.4,860.2L506.2,861.4L506.4,861.9Z" fill="#4cc0e4" stroke="#2d7388" stroke-width="0.35" stroke-opacity="0.6"/>
<path d="M492.2,856.7L492.8,855.8L493.5,854.6L494.2,853.3M500.6,859.3L501.1,858.5L501.8,857.3L502.5,856.0M508.9,862.0L509.5,861.1L510.1,860.0L510.8,858.7" stroke="#81d2ec" stroke-width="2.05" fill="none" stroke-linecap="round" stroke-opacity="0.55"/>
<path d="M508.4,836.8L509.4,837.7L509.9,839.2L510.2,841.1L510.1,843.1L510.0,844.8L509.9,846.0L510.0,846.5L507.6,845.6L506.6,844.7L506.1,843.2L505.8,841.3L505.9,839.3L506.0,837.6L506.1,836.4L506.0,835.9ZM515.1,839.5L516.0,840.3L516.6,841.8L516.8,843.7L516.8,845.7L516.7,847.5L516.6,848.7L516.6,849.2L514.2,848.2L513.3,847.4L512.7,845.9L512.5,844.0L512.5,842.0L512.7,840.2L512.8,839.0L512.7,838.6ZM521.8,842.2L522.7,843.0L523.3,844.5L523.5,846.4L523.5,848.4L523.3,850.2L523.2,851.4L523.3,851.8L520.9,850.9L520.0,850.1L519.4,848.6L519.2,846.7L519.2,844.7L519.3,842.9L519.4,841.7L519.4,841.2Z" fill="#123780"/>
<path d="M502.3,843.4L503.2,843.4L504.4,842.6L505.5,841.2L506.5,839.6L507.2,838.0L507.5,836.9L507.4,836.4L504.4,835.2L503.4,835.3L502.3,836.1L501.1,837.5L500.2,839.1L499.5,840.6L499.2,841.8L499.3,842.2ZM508.9,846.1L509.9,846.0L511.0,845.2L512.2,843.9L513.2,842.3L513.8,840.7L514.1,839.6L514.0,839.1L511.1,837.9L510.1,838.0L509.0,838.8L507.8,840.1L506.8,841.7L506.2,843.3L505.9,844.4L506.0,844.9ZM515.6,848.8L516.6,848.7L517.7,847.9L518.9,846.5L519.8,844.9L520.5,843.4L520.8,842.2L520.7,841.8L517.7,840.6L516.8,840.6L515.6,841.4L514.5,842.8L513.5,844.4L512.8,846.0L512.5,847.1L512.6,847.6Z" fill="#1f5dd6" stroke="#123780" stroke-width="0.35" stroke-opacity="0.6"/>
<path d="M501.4,842.4L501.9,841.6L502.6,840.5L503.3,839.3M508.0,845.0L508.6,844.3L509.3,843.2L510.0,842.0M514.7,847.7L515.3,846.9L515.9,845.9L516.7,844.7" stroke="#628de2" stroke-width="1.68" fill="none" stroke-linecap="round" stroke-opacity="0.55"/>
<path d="M525.5,869.0L525.8,870.1L525.5,871.6L524.6,873.3L523.5,875.0L522.5,876.3L521.7,877.3L521.6,877.7L520.1,875.8L519.8,874.7L520.1,873.2L521.0,871.5L522.1,869.8L523.1,868.5L523.9,867.5L524.0,867.1ZM529.5,874.3L529.8,875.4L529.5,876.9L528.6,878.6L527.5,880.3L526.5,881.7L525.7,882.6L525.6,883.1L524.1,881.2L523.8,880.0L524.1,878.5L525.0,876.8L526.1,875.2L527.1,873.8L527.9,872.8L528.0,872.4ZM533.5,879.6L533.8,880.8L533.5,882.3L532.6,884.0L531.5,885.6L530.5,887.0L529.7,888.0L529.6,888.4L528.1,886.5L527.8,885.4L528.1,883.9L529.0,882.2L530.1,880.5L531.1,879.1L531.9,878.2L532.0,877.7Z" fill="#2d7388"/>
<path d="M516.9,871.6L517.8,872.0L519.1,871.8L520.8,871.3L522.4,870.4L523.8,869.4L524.7,868.6L524.9,868.1L523.1,865.8L522.2,865.4L520.9,865.5L519.2,866.1L517.6,867.0L516.2,867.9L515.3,868.8L515.1,869.2ZM520.9,876.9L521.8,877.3L523.1,877.2L524.8,876.6L526.4,875.7L527.8,874.7L528.7,873.9L528.9,873.5L527.1,871.1L526.2,870.7L524.9,870.8L523.2,871.4L521.6,872.3L520.2,873.3L519.3,874.1L519.1,874.5ZM524.9,882.2L525.8,882.6L527.1,882.5L528.8,881.9L530.4,881.0L531.8,880.1L532.7,879.2L532.9,878.8L531.1,876.4L530.2,876.0L528.9,876.2L527.2,876.7L525.6,877.6L524.2,878.6L523.3,879.4L523.1,879.9Z" fill="#4cc0e4" stroke="#2d7388" stroke-width="0.35" stroke-opacity="0.6"/>
<path d="M516.8,870.3L517.7,869.9L518.8,869.3L520.0,868.7M520.8,875.6L521.7,875.2L522.8,874.7L524.0,874.0M524.8,880.9L525.7,880.6L526.8,880.0L528.0,879.3" stroke="#81d2ec" stroke-width="1.56" fill="none" stroke-linecap="round" stroke-opacity="0.55"/>
<path d="M553.3,827.2L554.3,828.0L554.9,829.5L555.2,831.5L555.2,833.6L555.1,835.5L555.0,836.7L555.1,837.2L552.7,836.4L551.7,835.6L551.1,834.1L550.8,832.1L550.8,830.0L550.9,828.1L551.0,826.9L550.9,826.4ZM560.0,829.5L561.0,830.3L561.6,831.9L561.8,833.8L561.8,835.9L561.7,837.8L561.6,839.1L561.7,839.6L559.3,838.7L558.4,837.9L557.8,836.4L557.5,834.4L557.5,832.3L557.6,830.5L557.7,829.2L557.6,828.7ZM566.7,831.9L567.6,832.7L568.2,834.2L568.5,836.2L568.5,838.3L568.4,840.1L568.3,841.4L568.4,841.9L566.0,841.1L565.0,840.3L564.4,838.7L564.2,836.8L564.2,834.7L564.3,832.8L564.4,831.5L564.3,831.0Z" fill="#2d7388"/>
<path d="M547.4,834.5L548.3,834.4L549.4,833.5L550.5,832.0L551.5,830.2L552.1,828.6L552.4,827.3L552.3,826.8L549.3,825.8L548.4,825.9L547.2,826.8L546.1,828.3L545.2,830.1L544.5,831.8L544.3,833.0L544.4,833.5ZM554.0,836.9L555.0,836.7L556.1,835.8L557.2,834.3L558.1,832.6L558.8,830.9L559.1,829.7L559.0,829.2L556.0,828.1L555.0,828.3L553.9,829.2L552.8,830.7L551.9,832.4L551.2,834.1L550.9,835.3L551.0,835.8ZM560.7,839.2L561.6,839.1L562.8,838.2L563.9,836.7L564.8,834.9L565.5,833.2L565.7,832.0L565.6,831.5L562.6,830.5L561.7,830.6L560.6,831.5L559.5,833.0L558.5,834.8L557.9,836.4L557.6,837.7L557.7,838.2Z" fill="#4cc0e4" stroke="#2d7388" stroke-width="0.35" stroke-opacity="0.6"/>
<path d="M546.5,833.5L547.0,832.6L547.6,831.5L548.3,830.2M553.1,835.8L553.7,835.0L554.3,833.8L555.0,832.5M559.8,838.2L560.3,837.3L561.0,836.1L561.7,834.8" stroke="#81d2ec" stroke-width="1.65" fill="none" stroke-linecap="round" stroke-opacity="0.55"/>
<path d="M494.0,794.9L495.0,795.8L495.8,797.3L496.1,799.4L496.2,801.7L496.2,803.6L496.1,805.0L496.3,805.5L493.6,804.7L492.6,803.8L491.8,802.3L491.5,800.2L491.4,797.9L491.4,796.0L491.5,794.6L491.3,794.1ZM501.3,797.3L502.4,798.1L503.1,799.7L503.5,801.8L503.6,804.0L503.5,806.0L503.5,807.3L503.6,807.8L501.0,807.0L499.9,806.2L499.2,804.6L498.8,802.5L498.7,800.3L498.8,798.3L498.8,796.9L498.7,796.4ZM508.6,799.6L509.7,800.4L510.4,802.0L510.8,804.1L510.9,806.3L510.8,808.3L510.8,809.7L510.9,810.2L508.3,809.3L507.2,808.5L506.5,806.9L506.1,804.8L506.0,802.6L506.1,800.6L506.1,799.3L506.0,798.8Z" fill="#123780"/>
<path d="M487.8,802.8L488.8,802.7L490.0,801.7L491.1,800.0L492.1,798.2L492.7,796.4L493.0,795.1L492.8,794.6L489.6,793.5L488.5,793.7L487.3,794.7L486.2,796.3L485.3,798.2L484.6,800.0L484.4,801.2L484.5,801.8ZM495.1,805.1L496.1,805.0L497.3,804.0L498.5,802.4L499.4,800.5L500.0,798.7L500.3,797.4L500.2,796.9L496.9,795.9L495.9,796.0L494.7,797.0L493.5,798.6L492.6,800.5L492.0,802.3L491.7,803.6L491.8,804.1ZM502.4,807.5L503.5,807.3L504.7,806.3L505.8,804.7L506.7,802.8L507.4,801.0L507.6,799.8L507.5,799.2L504.2,798.2L503.2,798.3L502.0,799.3L500.9,801.0L499.9,802.8L499.3,804.6L499.0,805.9L499.2,806.4Z" fill="#1f5dd6" stroke="#123780" stroke-width="0.35" stroke-opacity="0.6"/>
<path d="M486.8,801.7L487.3,800.8L488.0,799.6L488.7,798.2M494.1,804.1L494.6,803.1L495.3,801.9L496.0,800.5M501.4,806.4L502.0,805.5L502.6,804.2L503.3,802.8" stroke="#628de2" stroke-width="1.80" fill="none" stroke-linecap="round" stroke-opacity="0.55"/>
<path d="M515.0,820.3L516.2,821.2L517.1,822.8L517.6,824.9L517.8,827.2L517.8,829.2L517.8,830.6L518.0,831.1L515.0,830.1L513.8,829.2L512.9,827.6L512.4,825.5L512.2,823.2L512.2,821.2L512.2,819.8L512.0,819.3ZM523.4,822.9L524.6,823.8L525.4,825.5L525.9,827.6L526.1,829.9L526.2,831.8L526.2,833.2L526.3,833.8L523.3,832.8L522.1,831.9L521.2,830.3L520.7,828.1L520.5,825.9L520.5,823.9L520.5,822.5L520.3,822.0ZM531.7,825.6L532.9,826.5L533.8,828.1L534.3,830.3L534.5,832.5L534.5,834.5L534.5,835.9L534.7,836.4L531.6,835.5L530.4,834.6L529.6,832.9L529.1,830.8L528.9,828.5L528.8,826.6L528.8,825.2L528.7,824.6Z" fill="#123780"/>
<path d="M508.3,828.0L509.5,827.9L510.8,826.9L512.0,825.3L513.0,823.5L513.6,821.7L513.9,820.4L513.7,819.9L510.0,818.7L508.8,818.8L507.5,819.7L506.3,821.3L505.3,823.2L504.7,825.0L504.5,826.3L504.6,826.8ZM516.7,830.7L517.8,830.6L519.1,829.6L520.3,828.0L521.3,826.1L522.0,824.4L522.2,823.1L522.0,822.5L518.3,821.3L517.2,821.4L515.9,822.4L514.7,824.0L513.7,825.9L513.0,827.6L512.8,828.9L513.0,829.5ZM525.0,833.3L526.2,833.2L527.5,832.3L528.7,830.7L529.7,828.8L530.3,827.0L530.5,825.7L530.4,825.2L526.7,824.0L525.5,824.1L524.2,825.1L523.0,826.7L522.0,828.5L521.4,830.3L521.1,831.6L521.3,832.1Z" fill="#1f5dd6" stroke="#123780" stroke-width="0.35" stroke-opacity="0.6"/>
<path d="M507.2,826.9L507.7,825.9L508.4,824.7L509.2,823.3M515.5,829.5L516.1,828.6L516.8,827.4L517.5,826.0M523.8,832.2L524.4,831.3L525.1,830.1L525.8,828.7" stroke="#628de2" stroke-width="2.05" fill="none" stroke-linecap="round" stroke-opacity="0.55"/>
<path d="M520.4,842.2L521.4,843.0L522.1,844.5L522.6,846.6L522.8,848.8L522.8,850.7L522.8,852.1L523.0,852.6L520.4,852.0L519.4,851.2L518.7,849.7L518.2,847.6L518.0,845.4L518.0,843.5L518.0,842.1L517.8,841.6ZM527.4,844.0L528.4,844.7L529.1,846.3L529.6,848.3L529.8,850.5L529.8,852.5L529.8,853.8L530.0,854.3L527.4,853.7L526.4,853.0L525.7,851.4L525.2,849.4L525.0,847.2L525.0,845.2L525.0,843.9L524.8,843.4ZM534.4,845.7L535.4,846.5L536.1,848.0L536.6,850.1L536.8,852.3L536.8,854.2L536.8,855.6L537.0,856.1L534.4,855.5L533.4,854.7L532.7,853.2L532.2,851.1L532.0,848.9L532.0,847.0L532.0,845.6L531.8,845.1ZM541.4,847.5L542.4,848.2L543.1,849.8L543.6,851.8L543.8,854.0L543.8,856.0L543.8,857.3L544.0,857.8L541.4,857.2L540.4,856.5L539.7,854.9L539.2,852.9L539.0,850.7L539.0,848.7L539.0,847.4L538.8,846.9Z" fill="#123780"/>
<path d="M514.9,850.6L515.8,850.3L516.9,849.2L517.9,847.6L518.7,845.6L519.2,843.8L519.4,842.5L519.3,842.0L516.1,841.2L515.2,841.4L514.1,842.5L513.1,844.2L512.3,846.2L511.8,848.0L511.6,849.3L511.7,849.8ZM521.9,852.3L522.8,852.1L523.9,851.0L524.9,849.3L525.7,847.3L526.2,845.5L526.4,844.2L526.3,843.7L523.1,842.9L522.2,843.2L521.1,844.3L520.1,845.9L519.3,847.9L518.8,849.7L518.6,851.0L518.7,851.5ZM528.9,854.1L529.8,853.8L530.9,852.7L531.9,851.1L532.7,849.1L533.2,847.3L533.4,846.0L533.3,845.5L530.1,844.7L529.2,844.9L528.1,846.0L527.1,847.7L526.3,849.7L525.8,851.5L525.6,852.8L525.7,853.3ZM535.9,855.8L536.8,855.6L537.9,854.5L538.9,852.8L539.7,850.8L540.2,849.0L540.4,847.7L540.3,847.2L537.1,846.4L536.2,846.7L535.1,847.8L534.1,849.4L533.3,851.4L532.8,853.2L532.6,854.5L532.7,855.0Z" fill="#1f5dd6" stroke="#123780" stroke-width="0.35" stroke-opacity="0.6"/>
<path d="M513.9,849.6L514.3,848.6L514.9,847.3L515.5,845.9M520.9,851.3L521.3,850.3L521.9,849.1L522.5,847.6M527.9,853.1L528.3,852.1L528.9,850.8L529.5,849.4M534.9,854.8L535.3,853.8L535.9,852.6L536.5,851.1" stroke="#628de2" stroke-width="1.69" fill="none" stroke-linecap="round" stroke-opacity="0.55"/>
<path d="M532.0,837.8L532.4,838.9L532.2,840.3L531.5,841.9L530.7,843.4L529.8,844.7L529.2,845.6L529.0,846.0L527.6,844.2L527.2,843.1L527.4,841.7L528.1,840.1L528.9,838.6L529.8,837.3L530.4,836.4L530.6,836.0ZM536.0,842.8L536.4,843.9L536.2,845.3L535.5,846.9L534.7,848.4L533.8,849.7L533.2,850.6L533.0,851.0L531.6,849.2L531.2,848.1L531.4,846.7L532.1,845.1L532.9,843.6L533.8,842.3L534.4,841.4L534.6,841.0ZM540.0,847.8L540.4,848.9L540.2,850.3L539.5,851.9L538.7,853.4L537.8,854.7L537.2,855.6L537.0,856.0L535.6,854.2L535.2,853.1L535.4,851.7L536.1,850.1L536.9,848.6L537.8,847.3L538.4,846.4L538.6,846.0ZM544.0,852.8L544.4,853.9L544.2,855.3L543.5,856.9L542.7,858.4L541.8,859.7L541.2,860.6L541.0,861.0L539.6,859.2L539.2,858.1L539.4,856.7L540.1,855.1L540.9,853.6L541.8,852.3L542.4,851.4L542.6,851.0ZM548.0,857.8L548.4,858.9L548.2,860.3L547.5,861.9L546.7,863.4L545.8,864.7L545.2,865.6L545.0,866.0L543.6,864.2L543.2,863.1L543.4,861.7L544.1,860.1L544.9,858.6L545.8,857.3L546.4,856.4L546.6,856.0Z" fill="#0d255d"/>
<path d="M524.4,840.2L525.2,840.6L526.4,840.4L527.9,839.9L529.3,839.1L530.5,838.2L531.2,837.5L531.4,837.1L529.6,834.8L528.8,834.4L527.6,834.6L526.1,835.1L524.7,835.9L523.5,836.8L522.8,837.5L522.6,837.9ZM528.4,845.2L529.2,845.6L530.4,845.4L531.9,844.9L533.3,844.1L534.5,843.2L535.2,842.5L535.4,842.1L533.6,839.8L532.8,839.4L531.6,839.6L530.1,840.1L528.7,840.9L527.5,841.8L526.8,842.5L526.6,842.9ZM532.4,850.2L533.2,850.6L534.4,850.4L535.9,849.9L537.3,849.1L538.5,848.2L539.2,847.5L539.4,847.1L537.6,844.8L536.8,844.4L535.6,844.6L534.1,845.1L532.7,845.9L531.5,846.8L530.8,847.5L530.6,847.9ZM536.4,855.2L537.2,855.6L538.4,855.4L539.9,854.9L541.3,854.1L542.5,853.2L543.2,852.5L543.4,852.1L541.6,849.8L540.8,849.4L539.6,849.6L538.1,850.1L536.7,850.9L535.5,851.8L534.8,852.5L534.6,852.9ZM540.4,860.2L541.2,860.6L542.4,860.4L543.9,859.9L545.3,859.1L546.5,858.2L547.2,857.5L547.4,857.1L545.6,854.8L544.8,854.4L543.6,854.6L542.1,855.1L540.7,855.9L539.5,856.8L538.8,857.5L538.6,857.9Z" fill="#163f9c" stroke="#0d255d" stroke-width="0.35" stroke-opacity="0.6"/>
<path d="M524.2,839.0L524.9,838.6L525.9,838.1L527.0,837.5M528.2,844.0L528.9,843.6L529.9,843.1L531.0,842.5M532.2,849.0L532.9,848.6L533.9,848.1L535.0,847.5M536.2,854.0L536.9,853.6L537.9,853.1L539.0,852.5M540.2,859.0L540.9,858.6L541.9,858.1L543.0,857.5" stroke="#5b78b9" stroke-width="1.50" fill="none" stroke-linecap="round" stroke-opacity="0.55"/>
<path d="M537.6,806.5L538.8,807.4L539.6,809.0L540.1,811.0L540.3,813.1L540.3,815.0L540.3,816.3L540.4,816.8L537.6,815.9L536.4,815.0L535.6,813.4L535.1,811.4L534.9,809.3L534.9,807.4L534.9,806.1L534.8,805.6ZM545.6,809.2L546.8,810.0L547.6,811.6L548.1,813.7L548.3,815.8L548.3,817.7L548.3,819.0L548.4,819.5L545.6,818.5L544.4,817.7L543.6,816.1L543.1,814.1L542.9,811.9L542.9,810.0L542.9,808.7L542.8,808.2ZM553.6,811.9L554.8,812.7L555.6,814.3L556.1,816.3L556.3,818.5L556.3,820.4L556.3,821.7L556.4,822.2L553.6,821.2L552.4,820.4L551.6,818.8L551.1,816.7L550.9,814.6L550.9,812.7L550.9,811.4L550.8,810.9Z" fill="#123780"/>
<path d="M531.2,813.7L532.3,813.7L533.5,812.8L534.7,811.3L535.7,809.5L536.3,807.8L536.5,806.6L536.4,806.1L532.8,804.9L531.7,805.0L530.5,805.9L529.3,807.4L528.3,809.1L527.7,810.8L527.5,812.0L527.6,812.6ZM539.2,816.4L540.3,816.3L541.5,815.4L542.7,814.0L543.7,812.2L544.3,810.5L544.5,809.3L544.4,808.8L540.8,807.6L539.7,807.7L538.5,808.6L537.3,810.0L536.3,811.8L535.7,813.5L535.5,814.7L535.6,815.2ZM547.2,819.1L548.3,819.0L549.5,818.1L550.7,816.6L551.7,814.9L552.3,813.2L552.5,812.0L552.4,811.4L548.8,810.3L547.7,810.3L546.5,811.2L545.3,812.7L544.3,814.5L543.7,816.2L543.5,817.4L543.6,817.9Z" fill="#1f5dd6" stroke="#123780" stroke-width="0.35" stroke-opacity="0.6"/>
<path d="M530.0,812.6L530.6,811.8L531.3,810.6L532.0,809.3M538.0,815.3L538.6,814.5L539.3,813.3L540.0,812.0M546.0,818.0L546.6,817.1L547.3,816.0L548.0,814.7" stroke="#628de2" stroke-width="1.97" fill="none" stroke-linecap="round" stroke-opacity="0.55"/>
<path d="M549.0,840.8L550.1,841.6L550.8,843.1L551.1,845.1L551.2,847.1L551.2,848.8L551.1,850.1L551.3,850.6L548.6,849.6L547.5,848.8L546.8,847.3L546.5,845.3L546.4,843.3L546.4,841.6L546.5,840.3L546.3,839.8ZM556.3,843.5L557.4,844.3L558.1,845.8L558.5,847.7L558.6,849.7L558.5,851.5L558.5,852.7L558.6,853.2L555.9,852.3L554.9,851.4L554.2,849.9L553.8,848.0L553.7,846.0L553.8,844.2L553.8,843.0L553.7,842.5ZM563.7,846.1L564.7,847.0L565.4,848.5L565.8,850.4L565.9,852.4L565.8,854.2L565.8,855.4L565.9,855.9L563.3,854.9L562.2,854.1L561.5,852.6L561.1,850.7L561.0,848.7L561.1,846.9L561.1,845.7L561.0,845.2Z" fill="#123780"/>
<path d="M542.8,847.5L543.8,847.4L545.0,846.6L546.1,845.2L547.1,843.6L547.7,842.0L548.0,840.9L547.8,840.4L544.6,839.2L543.5,839.3L542.4,840.1L541.2,841.4L540.2,843.1L539.6,844.6L539.4,845.8L539.5,846.3ZM550.1,850.1L551.1,850.1L552.3,849.3L553.5,847.9L554.4,846.2L555.0,844.7L555.3,843.5L555.2,843.0L551.9,841.9L550.9,841.9L549.7,842.7L548.5,844.1L547.6,845.8L547.0,847.3L546.7,848.5L546.8,849.0ZM557.4,852.8L558.5,852.7L559.6,851.9L560.8,850.6L561.8,848.9L562.4,847.4L562.6,846.2L562.5,845.7L559.2,844.5L558.2,844.6L557.0,845.4L555.9,846.8L554.9,848.4L554.3,850.0L554.0,851.1L554.2,851.6Z" fill="#1f5dd6" stroke="#123780" stroke-width="0.35" stroke-opacity="0.6"/>
<path d="M541.8,846.4L542.3,845.6L543.0,844.5L543.7,843.3M549.1,849.1L549.6,848.3L550.3,847.2L551.0,846.0M556.4,851.7L557.0,850.9L557.6,849.9L558.3,848.7" stroke="#628de2" stroke-width="1.83" fill="none" stroke-linecap="round" stroke-opacity="0.55"/>
<path d="M569.2,813.9L570.3,814.7L571.0,816.2L571.4,818.2L571.5,820.2L571.4,822.0L571.4,823.2L571.5,823.7L568.8,822.7L567.7,821.9L567.0,820.4L566.6,818.4L566.5,816.4L566.6,814.6L566.6,813.4L566.5,812.9ZM576.7,816.6L577.8,817.5L578.5,819.0L578.9,820.9L579.0,823.0L578.9,824.7L578.9,826.0L579.0,826.5L576.3,825.5L575.2,824.6L574.5,823.1L574.1,821.2L574.0,819.1L574.1,817.4L574.1,816.1L574.0,815.6ZM584.2,819.4L585.3,820.2L586.0,821.7L586.4,823.7L586.5,825.7L586.4,827.5L586.4,828.7L586.5,829.2L583.8,828.2L582.7,827.4L582.0,825.9L581.6,823.9L581.5,821.9L581.6,820.1L581.6,818.9L581.5,818.4ZM591.7,822.1L592.8,823.0L593.5,824.5L593.9,826.4L594.0,828.5L593.9,830.2L593.9,831.5L594.0,832.0L591.3,831.0L590.2,830.1L589.5,828.6L589.1,826.7L589.0,824.6L589.1,822.9L589.1,821.6L589.0,821.1Z" fill="#2d7388"/>
<path d="M562.9,820.5L563.9,820.5L565.1,819.7L566.3,818.3L567.2,816.7L567.9,815.1L568.1,813.9L568.0,813.5L564.6,812.2L563.6,812.3L562.4,813.1L561.2,814.5L560.3,816.1L559.6,817.7L559.4,818.8L559.5,819.3ZM570.4,823.3L571.4,823.2L572.6,822.4L573.8,821.0L574.7,819.4L575.4,817.8L575.6,816.7L575.5,816.2L572.1,815.0L571.1,815.0L569.9,815.8L568.7,817.2L567.8,818.8L567.1,820.4L566.9,821.6L567.0,822.0ZM577.9,826.0L578.9,826.0L580.1,825.2L581.3,823.8L582.2,822.2L582.9,820.6L583.1,819.4L583.0,819.0L579.6,817.7L578.6,817.8L577.4,818.6L576.2,820.0L575.3,821.6L574.6,823.2L574.4,824.3L574.5,824.8ZM585.4,828.8L586.4,828.7L587.6,827.9L588.8,826.5L589.7,824.9L590.4,823.3L590.6,822.2L590.5,821.7L587.1,820.5L586.1,820.5L584.9,821.3L583.7,822.7L582.8,824.3L582.1,825.9L581.9,827.1L582.0,827.5Z" fill="#4cc0e4" stroke="#2d7388" stroke-width="0.35" stroke-opacity="0.6"/>
<path d="M561.8,819.4L562.4,818.6L563.0,817.6L563.8,816.4M569.3,822.2L569.9,821.4L570.5,820.3L571.2,819.1M576.8,824.9L577.4,824.1L578.0,823.1L578.8,821.9M584.3,827.7L584.9,826.9L585.5,825.8L586.2,824.6" stroke="#81d2ec" stroke-width="1.87" fill="none" stroke-linecap="round" stroke-opacity="0.55"/>
<path d="M431.7,829.0L431.7,829.6L431.7,830.3L431.8,831.1L432.2,832.0L432.8,832.7L433.7,833.3L434.7,833.9L435.7,834.3L436.5,834.9L437.1,835.4L437.4,836.1L437.7,836.7L438.1,837.3L438.8,837.9L439.5,838.2L440.3,838.4L441.1,838.4L441.8,838.2L442.5,837.8L443.1,837.3L443.8,836.8L444.5,836.4L445.4,836.2L446.3,836.4L447.1,836.8L447.6,837.5L447.9,838.4L447.9,839.4L447.9,840.5L447.9,841.6L448.2,842.5L448.7,843.3L449.4,844.0L450.3,844.4L451.2,844.7L451.9,844.9L452.5,845.0L453.0,845.1L453.5,845.3L454.0,845.6L454.5,846.0L455.0,846.4L455.5,846.9L456.0,847.3L456.5,847.8L457.0,848.1L457.5,848.4L458.0,848.7L458.6,848.8L459.4,848.9L460.3,848.9L461.3,848.9L462.2,849.1L463.1,849.3L463.7,849.8L464.2,850.4L464.6,851.0L464.9,851.7L465.1,852.2L465.3,852.7" stroke="#e8913a" stroke-width="3.15" fill="none" stroke-linecap="round" stroke-linejoin="round"/>
<path d="M431.7,829.0L431.7,829.6L431.7,830.3L431.8,831.1L432.2,832.0L432.8,832.7L433.7,833.3L434.7,833.9L435.7,834.3L436.5,834.9L437.1,835.4L437.4,836.1L437.7,836.7L438.1,837.3L438.8,837.9L439.5,838.2L440.3,838.4L441.1,838.4L441.8,838.2L442.5,837.8L443.1,837.3L443.8,836.8L444.5,836.4L445.4,836.2L446.3,836.4L447.1,836.8L447.6,837.5L447.9,838.4L447.9,839.4L447.9,840.5L447.9,841.6L448.2,842.5L448.7,843.3L449.4,844.0L450.3,844.4L451.2,844.7L451.9,844.9L452.5,845.0L453.0,845.1L453.5,845.3L454.0,845.6L454.5,846.0L455.0,846.4L455.5,846.9L456.0,847.3L456.5,847.8L457.0,848.1L457.5,848.4L458.0,848.7L458.6,848.8L459.4,848.9L460.3,848.9L461.3,848.9L462.2,849.1L463.1,849.3L463.7,849.8L464.2,850.4L464.6,851.0L464.9,851.7L465.1,852.2L465.3,852.7" stroke="#e8913a" stroke-width="5.25" fill="none" stroke-dasharray="4.95 6.05"/>
<path d="M431.7,829.0L431.7,829.6L431.7,830.3L431.8,831.1L432.2,832.0L432.8,832.7L433.7,833.3L434.7,833.9L435.7,834.3L436.5,834.9L437.1,835.4L437.4,836.1L437.7,836.7L438.1,837.3L438.8,837.9L439.5,838.2L440.3,838.4L441.1,838.4L441.8,838.2L442.5,837.8L443.1,837.3L443.8,836.8L444.5,836.4L445.4,836.2L446.3,836.4L447.1,836.8L447.6,837.5L447.9,838.4L447.9,839.4L447.9,840.5L447.9,841.6L448.2,842.5L448.7,843.3L449.4,844.0L450.3,844.4L451.2,844.7L451.9,844.9L452.5,845.0L453.0,845.1L453.5,845.3L454.0,845.6L454.5,846.0L455.0,846.4L455.5,846.9L456.0,847.3L456.5,847.8L457.0,848.1L457.5,848.4L458.0,848.7L458.6,848.8L459.4,848.9L460.3,848.9L461.3,848.9L462.2,849.1L463.1,849.3L463.7,849.8L464.2,850.4L464.6,851.0L464.9,851.7L465.1,852.2L465.3,852.7" stroke="#7f4f1f" stroke-width="4.62" fill="none" stroke-dasharray="0.7 10.30" stroke-dashoffset="-4.95" stroke-opacity="0.75"/>
<path d="M465.5,852.4L465.2,852.7L464.8,853.2L464.3,853.7L463.9,854.4L463.7,855.2L463.6,856.1L463.8,857.0L464.1,857.8L464.5,858.6L464.8,859.2L465.0,859.5L465.1,859.8L465.3,860.2L465.7,860.7L466.2,861.3L466.9,862.0L467.6,862.7L468.5,863.2L469.4,863.5L470.4,863.5L471.4,863.3L472.4,863.1L473.4,863.1L474.3,863.3L474.9,863.8L475.5,864.3L475.8,865.1L476.0,865.9L476.1,866.7L476.1,867.5L476.2,868.3L476.3,869.0L476.6,869.6L477.0,870.2L477.5,870.7L478.1,871.1L478.8,871.6L479.4,872.1L480.1,872.6L480.5,873.3L480.8,874.0L480.9,874.8L480.9,875.6L480.8,876.3L480.6,876.9L480.4,877.4L480.2,877.6L480.2,877.5L480.3,877.4L480.0,877.4L479.6,877.4L479.0,877.4L478.3,877.5L477.5,877.7L476.7,877.9L475.9,878.0L475.2,878.0L474.6,877.9L474.0,877.2L474.5,876.0L474.9,875.8L475.4,875.7L476.0,875.7L476.8,875.8L477.7,876.2L478.7,876.5L479.6,876.9L480.6,877.0L481.4,876.9L482.1,876.6L482.7,876.2L483.1,875.9" stroke="#f0df3c" stroke-width="3.00" fill="none" stroke-linecap="round" stroke-linejoin="round"/>
<path d="M465.5,852.4L465.2,852.7L464.8,853.2L464.3,853.7L463.9,854.4L463.7,855.2L463.6,856.1L463.8,857.0L464.1,857.8L464.5,858.6L464.8,859.2L465.0,859.5L465.1,859.8L465.3,860.2L465.7,860.7L466.2,861.3L466.9,862.0L467.6,862.7L468.5,863.2L469.4,863.5L470.4,863.5L471.4,863.3L472.4,863.1L473.4,863.1L474.3,863.3L474.9,863.8L475.5,864.3L475.8,865.1L476.0,865.9L476.1,866.7L476.1,867.5L476.2,868.3L476.3,869.0L476.6,869.6L477.0,870.2L477.5,870.7L478.1,871.1L478.8,871.6L479.4,872.1L480.1,872.6L480.5,873.3L480.8,874.0L480.9,874.8L480.9,875.6L480.8,876.3L480.6,876.9L480.4,877.4L480.2,877.6L480.2,877.5L480.3,877.4L480.0,877.4L479.6,877.4L479.0,877.4L478.3,877.5L477.5,877.7L476.7,877.9L475.9,878.0L475.2,878.0L474.6,877.9L474.0,877.2L474.5,876.0L474.9,875.8L475.4,875.7L476.0,875.7L476.8,875.8L477.7,876.2L478.7,876.5L479.6,876.9L480.6,877.0L481.4,876.9L482.1,876.6L482.7,876.2L483.1,875.9" stroke="#f0df3c" stroke-width="5.00" fill="none" stroke-dasharray="4.95 6.05"/>
<path d="M465.5,852.4L465.2,852.7L464.8,853.2L464.3,853.7L463.9,854.4L463.7,855.2L463.6,856.1L463.8,857.0L464.1,857.8L464.5,858.6L464.8,859.2L465.0,859.5L465.1,859.8L465.3,860.2L465.7,860.7L466.2,861.3L466.9,862.0L467.6,862.7L468.5,863.2L469.4,863.5L470.4,863.5L471.4,863.3L472.4,863.1L473.4,863.1L474.3,863.3L474.9,863.8L475.5,864.3L475.8,865.1L476.0,865.9L476.1,866.7L476.1,867.5L476.2,868.3L476.3,869.0L476.6,869.6L477.0,870.2L477.5,870.7L478.1,871.1L478.8,871.6L479.4,872.1L480.1,872.6L480.5,873.3L480.8,874.0L480.9,874.8L480.9,875.6L480.8,876.3L480.6,876.9L480.4,877.4L480.2,877.6L480.2,877.5L480.3,877.4L480.0,877.4L479.6,877.4L479.0,877.4L478.3,877.5L477.5,877.7L476.7,877.9L475.9,878.0L475.2,878.0L474.6,877.9L474.0,877.2L474.5,876.0L474.9,875.8L475.4,875.7L476.0,875.7L476.8,875.8L477.7,876.2L478.7,876.5L479.6,876.9L480.6,877.0L481.4,876.9L482.1,876.6L482.7,876.2L483.1,875.9" stroke="#847a21" stroke-width="4.40" fill="none" stroke-dasharray="0.7 10.30" stroke-dashoffset="-4.95" stroke-opacity="0.75"/>
<polygon points="428,826 435,823 437,832" fill="#e8913a"/>
<path d="M550.0,872.0C551.0,873.3 555.5,877.0 556.0,880.0C556.5,883.0 554.3,887.2 553.0,890.0C551.7,892.8 548.8,895.8 548.0,897.0" stroke="#f0df3c" stroke-width="3.4" fill="none" stroke-linecap="round" stroke-linejoin="round" stroke-opacity="1"/>
<path d="M543,888 C545,880 560,878 563,888 C565,896 552,900 545,895" stroke="#e8913a" stroke-width="3" fill="none"/>
<rect x="71.00" y="1080.50" width="256.00" height="13.00" fill="url(#g42)" stroke="#333" stroke-width="1"/>
<text x="72.4" y="1115.3" font-size="11.5" font-weight="normal" text-anchor="middle" fill="#111" >0</text>
<text x="109" y="1115.3" font-size="11.5" font-weight="normal" text-anchor="middle" fill="#111" >5</text>
<text x="146.8" y="1115.3" font-size="11.5" font-weight="normal" text-anchor="middle" fill="#111" >10</text>
<text x="188.2" y="1115.3" font-size="11.5" font-weight="normal" text-anchor="middle" fill="#111" >15</text>
<text x="229.9" y="1115.3" font-size="11.5" font-weight="normal" text-anchor="middle" fill="#111" >20</text>
<text x="272.9" y="1115.3" font-size="11.5" font-weight="normal" text-anchor="middle" fill="#111" >25</text>
<text x="315.5" y="1115.3" font-size="11.5" font-weight="normal" text-anchor="middle" fill="#111" >30</text>
<text x="111.1" y="1131.5" font-size="11.5" font-weight="normal" text-anchor="start" fill="#111" textLength="175.8" lengthAdjust="spacingAndGlyphs" >Expected Position Error (Ångströms)</text>
<rect x="367.30" y="1080.50" width="316.00" height="13.00" fill="url(#g43)" stroke="#444" stroke-width="1"/>
<text x="370.3" y="1116.8" font-size="14" font-weight="normal" text-anchor="start" fill="#111" textLength="57.2" lengthAdjust="spacingAndGlyphs" >Very high</text>
<text x="449" y="1117" font-size="14" font-weight="normal" text-anchor="start" fill="#111" textLength="59.2" lengthAdjust="spacingAndGlyphs" >Confident</text>
<text x="558.5" y="1116.9" font-size="14" font-weight="normal" text-anchor="start" fill="#111" textLength="24.6" lengthAdjust="spacingAndGlyphs" >Low</text>
<text x="626" y="1116.9" font-size="14" font-weight="normal" text-anchor="start" fill="#111" textLength="51.8" lengthAdjust="spacingAndGlyphs" >Very low</text>
<text x="367.2" y="1129.5" font-size="11" font-weight="normal" text-anchor="start" fill="#111" textLength="62.8" lengthAdjust="spacingAndGlyphs" >(pIDDT &gt; 90)</text>
<text x="435.3" y="1129.5" font-size="11" font-weight="normal" text-anchor="start" fill="#111" textLength="87.7" lengthAdjust="spacingAndGlyphs" >(90 &gt; pIDDT &gt; 70)</text>
<text x="527.2" y="1129.5" font-size="11" font-weight="normal" text-anchor="start" fill="#111" textLength="86.7" lengthAdjust="spacingAndGlyphs" >(70 &gt; pIDDT &gt; 50)</text>
<text x="620.7" y="1129.5" font-size="11" font-weight="normal" text-anchor="start" fill="#111" textLength="61.1" lengthAdjust="spacingAndGlyphs" >(pIDDT &lt; 50)</text>
</svg></body></html>
